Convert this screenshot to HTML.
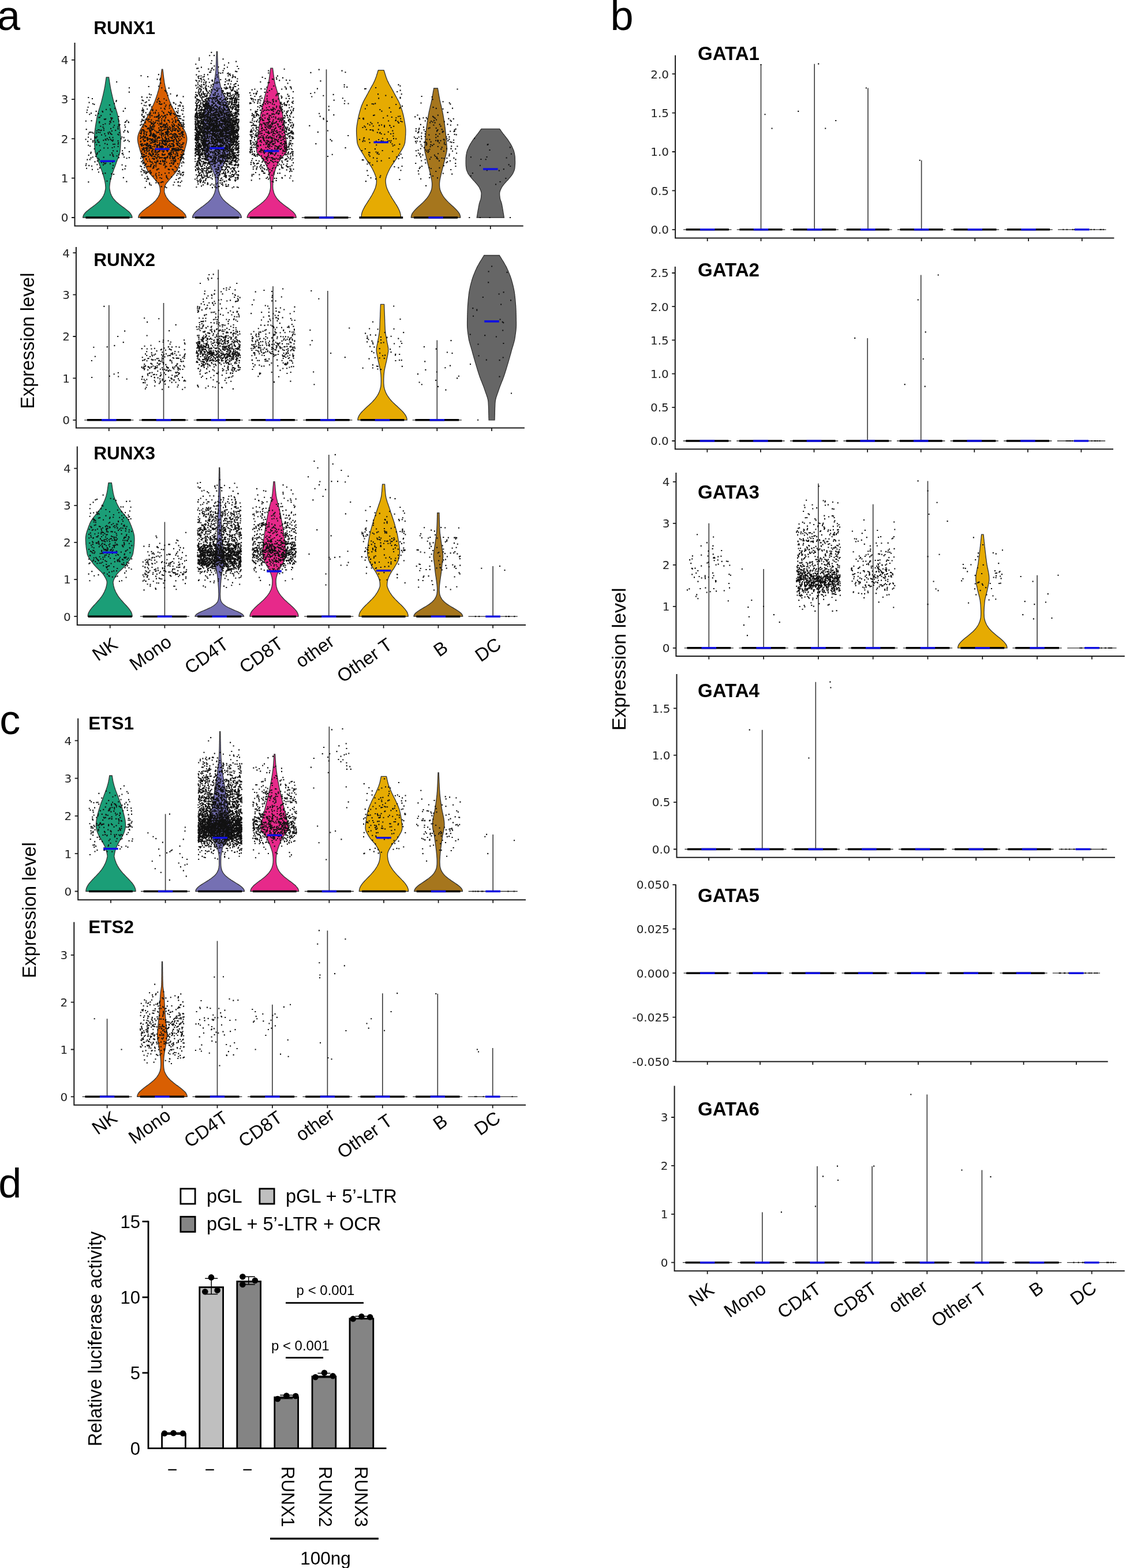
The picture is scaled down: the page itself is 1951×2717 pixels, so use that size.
<!DOCTYPE html><html><head><meta charset="utf-8"><title>Figure</title><style>html,body{margin:0;padding:0;background:#fff}
svg{display:block}
text{font-family:"Liberation Sans",Arial,sans-serif;fill:#000}
.tk{font-family:"DejaVu Sans",sans-serif;text-anchor:end;fill:#222}
.ti{font-weight:bold;font-size:31px}
.xl{text-anchor:end}
.yl{text-anchor:middle}
.pl{font-size:72px}
.lg{font-size:32.6px}
.dt{font-size:31px;text-anchor:end}
.pv{font-size:24px;text-anchor:middle}
.rx{font-size:31px}
.hn{font-size:31.5px;text-anchor:middle}
</style></head><body><svg width="1951" height="2717" viewBox="0 0 1951 2717">
<rect width="1951" height="2717" fill="#fff"/>
<path d="M229.0 377.0 228.9 375.8 228.7 374.6 228.2 373.4 227.6 372.2 226.9 371.0 225.9 369.7 224.9 368.5 223.7 367.3 222.4 366.1 221.0 364.9 219.5 363.7 218.0 362.5 216.4 361.3 214.8 360.1 213.1 358.9 211.5 357.6 209.9 356.4 208.3 355.2 206.7 354.0 205.2 352.8 203.8 351.6 202.4 350.4 201.1 349.2 199.9 348.0 198.8 346.8 197.7 345.5 196.7 344.3 195.8 343.1 195.0 341.9 194.3 340.7 193.6 339.5 193.0 338.3 192.5 337.1 192.0 335.9 191.6 334.7 191.3 333.5 190.9 332.2 190.7 331.0 190.4 329.8 190.2 328.6 190.0 327.4 189.8 326.2 189.8 325.0 189.8 323.8 189.9 322.6 190.0 321.4 190.1 320.1 190.3 318.9 190.4 317.7 190.6 316.5 190.8 315.3 191.1 314.1 191.3 312.9 191.6 311.7 191.9 310.5 192.2 309.3 192.5 308.0 192.9 306.8 193.2 305.6 193.6 304.4 193.9 303.2 194.3 302.0 194.6 300.8 195.0 299.6 195.5 298.4 195.9 297.2 196.3 296.0 196.8 294.7 197.2 293.5 197.7 292.3 198.1 291.1 198.6 289.9 199.1 288.7 199.5 287.5 200.0 286.3 200.4 285.1 200.9 283.9 201.3 282.6 201.7 281.4 202.1 280.2 202.6 279.0 203.0 277.8 203.5 276.6 204.0 275.4 204.5 274.2 204.9 273.0 205.4 271.8 205.8 270.5 206.3 269.3 206.6 268.1 207.0 266.9 207.3 265.7 207.6 264.5 207.9 263.3 208.1 262.1 208.2 260.9 208.3 259.7 208.4 258.5 208.5 257.2 208.6 256.0 208.7 254.8 208.7 253.6 208.8 252.4 208.9 251.2 208.9 250.0 209.0 248.8 209.0 247.6 209.1 246.4 209.1 245.1 209.1 243.9 209.2 242.7 209.2 241.5 209.2 240.3 209.2 239.1 209.1 237.9 209.1 236.7 209.1 235.5 209.0 234.3 208.9 233.0 208.8 231.8 208.7 230.6 208.6 229.4 208.5 228.2 208.3 227.0 208.2 225.8 208.1 224.6 207.9 223.4 207.7 222.2 207.6 220.9 207.4 219.7 207.2 218.5 207.0 217.3 206.8 216.1 206.6 214.9 206.4 213.7 206.2 212.5 206.0 211.3 205.8 210.1 205.6 208.9 205.4 207.6 205.2 206.4 205.0 205.2 204.8 204.0 204.6 202.8 204.3 201.6 204.0 200.4 203.7 199.2 203.4 198.0 203.1 196.8 202.8 195.5 202.4 194.3 202.1 193.1 201.7 191.9 201.4 190.7 201.0 189.5 200.6 188.3 200.2 187.1 199.9 185.9 199.5 184.7 199.1 183.4 198.7 182.2 198.4 181.0 198.0 179.8 197.7 178.6 197.3 177.4 197.0 176.2 196.6 175.0 196.3 173.8 196.0 172.6 195.7 171.4 195.4 170.1 195.1 168.9 194.8 167.7 194.5 166.5 194.3 165.3 194.0 164.1 193.7 162.9 193.4 161.7 193.1 160.5 192.9 159.3 192.6 158.0 192.4 156.8 192.1 155.6 191.9 154.4 191.6 153.2 191.4 152.0 191.2 150.8 191.0 149.6 190.8 148.4 190.6 147.2 190.4 145.9 190.2 144.7 190.0 143.5 189.8 142.3 189.6 141.1 189.5 139.9 189.3 138.7 189.1 137.5 188.9 136.3 188.7 135.1 188.6 133.9 184.2 133.9 184.0 135.1 183.8 136.3 183.6 137.5 183.5 138.7 183.3 139.9 183.1 141.1 182.9 142.3 182.7 143.5 182.6 144.7 182.4 145.9 182.2 147.2 182.0 148.4 181.8 149.6 181.6 150.8 181.3 152.0 181.1 153.2 180.9 154.4 180.6 155.6 180.4 156.8 180.1 158.0 179.9 159.3 179.6 160.5 179.3 161.7 179.0 162.9 178.8 164.1 178.5 165.3 178.2 166.5 177.9 167.7 177.6 168.9 177.3 170.1 177.0 171.4 176.7 172.6 176.4 173.8 176.1 175.0 175.8 176.2 175.4 177.4 175.1 178.6 174.7 179.8 174.4 181.0 174.0 182.2 173.6 183.4 173.2 184.7 172.9 185.9 172.5 187.1 172.1 188.3 171.7 189.5 171.4 190.7 171.0 191.9 170.7 193.1 170.3 194.3 170.0 195.5 169.6 196.8 169.3 198.0 169.0 199.2 168.7 200.4 168.4 201.6 168.2 202.8 167.9 204.0 167.7 205.2 167.5 206.4 167.3 207.6 167.1 208.9 166.9 210.1 166.7 211.3 166.5 212.5 166.3 213.7 166.1 214.9 165.9 216.1 165.7 217.3 165.5 218.5 165.3 219.7 165.2 220.9 165.0 222.2 164.8 223.4 164.7 224.6 164.5 225.8 164.4 227.0 164.3 228.2 164.1 229.4 164.0 230.6 163.9 231.8 163.8 233.0 163.7 234.3 163.7 235.5 163.6 236.7 163.6 237.9 163.6 239.1 163.6 240.3 163.6 241.5 163.6 242.7 163.6 243.9 163.6 245.1 163.7 246.4 163.7 247.6 163.7 248.8 163.8 250.0 163.9 251.2 163.9 252.4 164.0 253.6 164.1 254.8 164.2 256.0 164.3 257.2 164.3 258.5 164.4 259.7 164.5 260.9 164.7 262.1 164.9 263.3 165.1 264.5 165.4 265.7 165.7 266.9 166.1 268.1 166.5 269.3 166.9 270.5 167.4 271.8 167.8 273.0 168.3 274.2 168.8 275.4 169.2 276.6 169.7 277.8 170.2 279.0 170.6 280.2 171.0 281.4 171.4 282.6 171.9 283.9 172.3 285.1 172.7 286.3 173.2 287.5 173.7 288.7 174.1 289.9 174.6 291.1 175.1 292.3 175.5 293.5 176.0 294.7 176.4 296.0 176.9 297.2 177.3 298.4 177.7 299.6 178.1 300.8 178.5 302.0 178.8 303.2 179.2 304.4 179.5 305.6 179.9 306.8 180.2 308.0 180.5 309.3 180.8 310.5 181.1 311.7 181.4 312.9 181.7 314.1 181.9 315.3 182.1 316.5 182.3 317.7 182.5 318.9 182.6 320.1 182.7 321.4 182.8 322.6 182.9 323.8 183.0 325.0 182.9 326.2 182.8 327.4 182.6 328.6 182.3 329.8 182.1 331.0 181.8 332.2 181.5 333.5 181.1 334.7 180.7 335.9 180.2 337.1 179.7 338.3 179.1 339.5 178.4 340.7 177.7 341.9 176.9 343.1 176.0 344.3 175.0 345.5 174.0 346.8 172.8 348.0 171.6 349.2 170.3 350.4 168.9 351.6 167.5 352.8 166.0 354.0 164.5 355.2 162.9 356.4 161.3 357.6 159.6 358.9 158.0 360.1 156.4 361.3 154.8 362.5 153.2 363.7 151.8 364.9 150.4 366.1 149.1 367.3 147.9 368.5 146.8 369.7 145.9 371.0 145.1 372.2 144.5 373.4 144.1 374.6 143.8 375.8 143.7 377.0Z" fill="#1B9E77" stroke="#333" stroke-width="1.3"/>
<path d="M322.5 377.0 322.4 375.8 322.2 374.6 321.7 373.4 321.1 372.2 320.3 371.0 319.3 369.8 318.3 368.6 317.0 367.4 315.7 366.1 314.3 364.9 312.8 363.7 311.2 362.5 309.6 361.3 308.0 360.1 306.3 358.9 304.7 357.7 303.1 356.5 301.5 355.3 300.0 354.1 298.5 352.9 297.1 351.7 295.8 350.5 294.5 349.3 293.3 348.1 292.2 346.9 291.2 345.7 290.3 344.4 289.4 343.2 288.6 342.0 287.9 340.8 287.3 339.6 286.7 338.4 286.2 337.2 285.8 336.0 285.4 334.8 285.0 333.6 284.7 332.4 284.7 331.2 284.8 330.0 284.8 328.8 284.9 327.6 285.0 326.4 285.1 325.2 285.4 324.0 285.7 322.7 286.1 321.5 286.6 320.3 287.3 319.1 288.1 317.9 289.0 316.7 290.0 315.5 291.0 314.3 292.0 313.1 293.1 311.9 294.1 310.7 295.1 309.5 296.1 308.3 297.1 307.1 298.1 305.9 299.2 304.7 300.2 303.5 301.3 302.2 302.4 301.0 303.4 299.8 304.4 298.6 305.2 297.4 306.1 296.2 306.8 295.0 307.4 293.8 308.0 292.6 308.5 291.4 309.1 290.2 309.6 289.0 310.0 287.8 310.5 286.6 310.9 285.4 311.4 284.2 311.8 283.0 312.2 281.8 312.6 280.5 313.0 279.3 313.4 278.1 313.8 276.9 314.2 275.7 314.7 274.5 315.1 273.3 315.6 272.1 316.1 270.9 316.5 269.7 317.0 268.5 317.4 267.3 317.9 266.1 318.3 264.9 318.7 263.7 319.1 262.5 319.4 261.3 319.8 260.0 320.1 258.8 320.4 257.6 320.8 256.4 321.1 255.2 321.5 254.0 321.8 252.8 322.1 251.6 322.4 250.4 322.7 249.2 323.0 248.0 323.2 246.8 323.4 245.6 323.5 244.4 323.7 243.2 323.8 242.0 323.8 240.8 323.8 239.6 323.7 238.3 323.5 237.1 323.3 235.9 323.1 234.7 322.7 233.5 322.4 232.3 321.9 231.1 321.5 229.9 321.0 228.7 320.4 227.5 319.8 226.3 319.2 225.1 318.6 223.9 317.9 222.7 317.3 221.5 316.6 220.3 315.9 219.1 315.2 217.9 314.5 216.6 313.8 215.4 313.1 214.2 312.4 213.0 311.8 211.8 311.1 210.6 310.5 209.4 309.9 208.2 309.3 207.0 308.7 205.8 308.2 204.6 307.6 203.4 307.0 202.2 306.4 201.0 305.8 199.8 305.2 198.6 304.6 197.4 304.0 196.1 303.4 194.9 302.7 193.7 302.1 192.5 301.5 191.3 300.9 190.1 300.3 188.9 299.6 187.7 299.0 186.5 298.4 185.3 297.9 184.1 297.3 182.9 296.7 181.7 296.2 180.5 295.6 179.3 295.1 178.1 294.6 176.9 294.1 175.7 293.6 174.4 293.2 173.2 292.7 172.0 292.3 170.8 291.9 169.6 291.5 168.4 291.1 167.2 290.7 166.0 290.3 164.8 289.9 163.6 289.5 162.4 289.2 161.2 288.8 160.0 288.4 158.8 288.1 157.6 287.8 156.4 287.4 155.2 287.1 154.0 286.8 152.7 286.5 151.5 286.2 150.3 286.0 149.1 285.7 147.9 285.5 146.7 285.2 145.5 285.0 144.3 284.8 143.1 284.6 141.9 284.5 140.7 284.3 139.5 284.1 138.3 284.0 137.1 283.8 135.9 283.6 134.7 283.5 133.5 283.4 132.2 283.2 131.0 283.1 129.8 282.9 128.6 282.8 127.4 282.7 126.2 282.5 125.0 282.4 123.8 282.2 122.6 282.1 121.4 281.9 120.2 280.4 120.2 280.2 121.4 280.1 122.6 279.9 123.8 279.8 125.0 279.6 126.2 279.5 127.4 279.4 128.6 279.2 129.8 279.1 131.0 278.9 132.2 278.8 133.5 278.7 134.7 278.5 135.9 278.3 137.1 278.2 138.3 278.0 139.5 277.8 140.7 277.7 141.9 277.5 143.1 277.3 144.3 277.1 145.5 276.8 146.7 276.6 147.9 276.3 149.1 276.1 150.3 275.8 151.5 275.5 152.7 275.2 154.0 274.9 155.2 274.5 156.4 274.2 157.6 273.9 158.8 273.5 160.0 273.1 161.2 272.8 162.4 272.4 163.6 272.0 164.8 271.6 166.0 271.2 167.2 270.8 168.4 270.4 169.6 270.0 170.8 269.6 172.0 269.1 173.2 268.7 174.4 268.2 175.7 267.7 176.9 267.2 178.1 266.7 179.3 266.1 180.5 265.6 181.7 265.0 182.9 264.4 184.1 263.9 185.3 263.3 186.5 262.7 187.7 262.0 188.9 261.4 190.1 260.8 191.3 260.2 192.5 259.6 193.7 258.9 194.9 258.3 196.1 257.7 197.4 257.1 198.6 256.5 199.8 255.9 201.0 255.3 202.2 254.7 203.4 254.1 204.6 253.6 205.8 253.0 207.0 252.4 208.2 251.8 209.4 251.2 210.6 250.5 211.8 249.9 213.0 249.2 214.2 248.5 215.4 247.8 216.6 247.1 217.9 246.4 219.1 245.7 220.3 245.0 221.5 244.4 222.7 243.7 223.9 243.1 225.1 242.5 226.3 241.9 227.5 241.3 228.7 240.8 229.9 240.4 231.1 239.9 232.3 239.6 233.5 239.2 234.7 239.0 235.9 238.8 237.1 238.6 238.3 238.5 239.6 238.5 240.8 238.5 242.0 238.6 243.2 238.8 244.4 238.9 245.6 239.1 246.8 239.3 248.0 239.6 249.2 239.9 250.4 240.2 251.6 240.5 252.8 240.8 254.0 241.2 255.2 241.5 256.4 241.9 257.6 242.2 258.8 242.5 260.0 242.9 261.3 243.2 262.5 243.6 263.7 244.0 264.9 244.4 266.1 244.9 267.3 245.3 268.5 245.8 269.7 246.2 270.9 246.7 272.1 247.2 273.3 247.6 274.5 248.0 275.7 248.5 276.9 248.9 278.1 249.3 279.3 249.7 280.5 250.1 281.8 250.5 283.0 250.9 284.2 251.4 285.4 251.8 286.6 252.3 287.8 252.7 289.0 253.2 290.2 253.8 291.4 254.3 292.6 254.9 293.8 255.5 295.0 256.2 296.2 257.0 297.4 257.9 298.6 258.9 299.8 259.9 301.0 261.0 302.2 262.0 303.5 263.1 304.7 264.2 305.9 265.2 307.1 266.2 308.3 267.2 309.5 268.2 310.7 269.2 311.9 270.3 313.1 271.3 314.3 272.3 315.5 273.3 316.7 274.2 317.9 275.0 319.1 275.7 320.3 276.2 321.5 276.6 322.7 276.9 324.0 277.1 325.2 277.3 326.4 277.4 327.6 277.5 328.8 277.5 330.0 277.6 331.2 277.6 332.4 277.3 333.6 276.9 334.8 276.5 336.0 276.1 337.2 275.6 338.4 275.0 339.6 274.4 340.8 273.7 342.0 272.9 343.2 272.0 344.4 271.1 345.7 270.1 346.9 269.0 348.1 267.8 349.3 266.5 350.5 265.2 351.7 263.8 352.9 262.3 354.1 260.8 355.3 259.2 356.5 257.6 357.7 256.0 358.9 254.3 360.1 252.7 361.3 251.1 362.5 249.5 363.7 248.0 364.9 246.6 366.1 245.3 367.4 244.0 368.6 243.0 369.8 242.0 371.0 241.2 372.2 240.6 373.4 240.1 374.6 239.9 375.8 239.8 377.0Z" fill="#D95F02" stroke="#333" stroke-width="1.3"/>
<path d="M418.4 377.0 418.3 375.8 418.0 374.6 417.6 373.4 417.0 372.2 416.2 371.0 415.3 369.8 414.2 368.5 413.0 367.3 411.7 366.1 410.3 364.9 408.9 363.7 407.3 362.5 405.7 361.3 404.1 360.1 402.4 358.9 400.8 357.7 399.2 356.5 397.5 355.3 396.0 354.0 394.5 352.8 393.0 351.6 391.6 350.4 390.3 349.2 389.0 348.0 387.8 346.8 386.7 345.6 385.7 344.4 384.8 343.2 383.9 342.0 383.2 340.8 382.5 339.5 381.8 338.3 381.2 337.1 380.7 335.9 380.3 334.7 379.9 333.5 379.5 332.3 379.2 331.1 378.9 329.9 378.7 328.7 378.5 327.5 378.4 326.3 378.3 325.0 378.3 323.8 378.2 322.6 378.2 321.4 378.2 320.2 378.2 319.0 378.2 317.8 378.2 316.6 378.3 315.4 378.3 314.2 378.4 313.0 378.5 311.8 378.6 310.6 378.8 309.3 378.9 308.1 379.2 306.9 379.4 305.7 379.8 304.5 380.1 303.3 380.5 302.1 381.0 300.9 381.4 299.7 381.9 298.5 382.4 297.3 382.9 296.1 383.4 294.8 383.9 293.6 384.5 292.4 384.9 291.2 385.4 290.0 386.0 288.8 386.5 287.6 387.1 286.4 387.7 285.2 388.3 284.0 388.9 282.8 389.5 281.6 390.2 280.3 390.8 279.1 391.4 277.9 392.0 276.7 392.5 275.5 393.0 274.3 393.5 273.1 394.0 271.9 394.5 270.7 395.0 269.5 395.5 268.3 396.0 267.1 396.5 265.8 396.9 264.6 397.4 263.4 397.8 262.2 398.2 261.0 398.6 259.8 398.9 258.6 399.2 257.4 399.5 256.2 399.6 255.0 399.8 253.8 399.9 252.6 400.0 251.4 400.0 250.1 400.1 248.9 400.2 247.7 400.3 246.5 400.4 245.3 400.4 244.1 400.5 242.9 400.5 241.7 400.6 240.5 400.6 239.3 400.6 238.1 400.6 236.9 400.6 235.6 400.6 234.4 400.6 233.2 400.6 232.0 400.6 230.8 400.6 229.6 400.6 228.4 400.6 227.2 400.6 226.0 400.6 224.8 400.6 223.6 400.6 222.4 400.6 221.1 400.6 219.9 400.6 218.7 400.6 217.5 400.6 216.3 400.6 215.1 400.5 213.9 400.5 212.7 400.4 211.5 400.3 210.3 400.1 209.1 400.0 207.9 399.8 206.6 399.7 205.4 399.5 204.2 399.4 203.0 399.2 201.8 399.0 200.6 398.8 199.4 398.7 198.2 398.5 197.0 398.3 195.8 398.1 194.6 397.9 193.4 397.6 192.2 397.4 190.9 397.1 189.7 396.8 188.5 396.6 187.3 396.3 186.1 396.0 184.9 395.6 183.7 395.3 182.5 395.0 181.3 394.6 180.1 394.2 178.9 393.8 177.7 393.3 176.4 392.7 175.2 392.2 174.0 391.6 172.8 391.0 171.6 390.4 170.4 389.8 169.2 389.2 168.0 388.6 166.8 388.0 165.6 387.5 164.4 386.9 163.2 386.5 161.9 386.0 160.7 385.6 159.5 385.2 158.3 384.7 157.1 384.3 155.9 383.9 154.7 383.5 153.5 383.1 152.3 382.7 151.1 382.3 149.9 382.0 148.7 381.7 147.4 381.4 146.2 381.1 145.0 380.9 143.8 380.6 142.6 380.4 141.4 380.2 140.2 380.0 139.0 379.8 137.8 379.6 136.6 379.5 135.4 379.3 134.2 379.1 133.0 378.9 131.7 378.8 130.5 378.6 129.3 378.5 128.1 378.4 126.9 378.2 125.7 378.1 124.5 378.0 123.3 377.9 122.1 377.8 120.9 377.7 119.7 377.6 118.5 377.6 117.2 377.5 116.0 377.4 114.8 377.4 113.6 377.3 112.4 377.3 111.2 377.2 110.0 377.2 108.8 377.1 107.6 377.1 106.4 377.0 105.2 377.0 104.0 377.0 102.7 376.9 101.5 376.9 100.3 376.8 99.1 376.8 97.9 376.8 96.7 376.7 95.5 376.7 94.3 376.7 93.1 376.6 91.9 376.6 90.7 376.5 89.5 375.3 89.5 375.3 90.7 375.2 91.9 375.2 93.1 375.2 94.3 375.1 95.5 375.1 96.7 375.0 97.9 375.0 99.1 375.0 100.3 374.9 101.5 374.9 102.7 374.9 104.0 374.8 105.2 374.8 106.4 374.7 107.6 374.7 108.8 374.6 110.0 374.6 111.2 374.5 112.4 374.5 113.6 374.4 114.8 374.4 116.0 374.3 117.2 374.2 118.5 374.1 119.7 374.1 120.9 374.0 122.1 373.9 123.3 373.7 124.5 373.6 125.7 373.5 126.9 373.4 128.1 373.2 129.3 373.1 130.5 372.9 131.7 372.8 133.0 372.6 134.2 372.4 135.4 372.2 136.6 372.0 137.8 371.8 139.0 371.6 140.2 371.4 141.4 371.2 142.6 371.0 143.8 370.7 145.0 370.5 146.2 370.2 147.4 369.9 148.7 369.5 149.9 369.2 151.1 368.8 152.3 368.4 153.5 368.0 154.7 367.6 155.9 367.1 157.1 366.7 158.3 366.3 159.5 365.8 160.7 365.4 161.9 364.9 163.2 364.4 164.4 363.9 165.6 363.3 166.8 362.7 168.0 362.1 169.2 361.5 170.4 360.9 171.6 360.3 172.8 359.7 174.0 359.1 175.2 358.6 176.4 358.1 177.7 357.6 178.9 357.3 180.1 356.9 181.3 356.6 182.5 356.2 183.7 355.9 184.9 355.6 186.1 355.3 187.3 355.0 188.5 354.7 189.7 354.5 190.9 354.2 192.2 354.0 193.4 353.8 194.6 353.6 195.8 353.4 197.0 353.2 198.2 353.0 199.4 352.9 200.6 352.7 201.8 352.5 203.0 352.3 204.2 352.2 205.4 352.0 206.6 351.9 207.9 351.7 209.1 351.6 210.3 351.5 211.5 351.4 212.7 351.3 213.9 351.3 215.1 351.2 216.3 351.2 217.5 351.2 218.7 351.2 219.9 351.2 221.1 351.2 222.4 351.2 223.6 351.2 224.8 351.2 226.0 351.2 227.2 351.2 228.4 351.2 229.6 351.2 230.8 351.2 232.0 351.2 233.2 351.2 234.4 351.2 235.6 351.2 236.9 351.3 238.1 351.3 239.3 351.3 240.5 351.3 241.7 351.4 242.9 351.4 244.1 351.5 245.3 351.6 246.5 351.7 247.7 351.7 248.9 351.8 250.1 351.9 251.4 352.0 252.6 352.1 253.8 352.2 255.0 352.4 256.2 352.6 257.4 352.9 258.6 353.3 259.8 353.6 261.0 354.0 262.2 354.5 263.4 354.9 264.6 355.4 265.8 355.9 267.1 356.4 268.3 356.9 269.5 357.4 270.7 357.8 271.9 358.3 273.1 358.8 274.3 359.3 275.5 359.9 276.7 360.5 277.9 361.1 279.1 361.7 280.3 362.3 281.6 362.9 282.8 363.6 284.0 364.2 285.2 364.8 286.4 365.3 287.6 365.9 288.8 366.4 290.0 366.9 291.2 367.4 292.4 367.9 293.6 368.4 294.8 368.9 296.1 369.4 297.3 369.9 298.5 370.4 299.7 370.9 300.9 371.3 302.1 371.7 303.3 372.1 304.5 372.4 305.7 372.7 306.9 372.9 308.1 373.1 309.3 373.2 310.6 373.3 311.8 373.4 313.0 373.5 314.2 373.6 315.4 373.6 316.6 373.7 317.8 373.7 319.0 373.7 320.2 373.7 321.4 373.7 322.6 373.6 323.8 373.5 325.0 373.5 326.3 373.4 327.5 373.2 328.7 372.9 329.9 372.6 331.1 372.3 332.3 372.0 333.5 371.6 334.7 371.1 335.9 370.6 337.1 370.0 338.3 369.4 339.5 368.7 340.8 367.9 342.0 367.1 343.2 366.1 344.4 365.1 345.6 364.0 346.8 362.8 348.0 361.6 349.2 360.3 350.4 358.9 351.6 357.4 352.8 355.9 354.0 354.3 355.3 352.7 356.5 351.1 357.7 349.4 358.9 347.8 360.1 346.2 361.3 344.6 362.5 343.0 363.7 341.5 364.9 340.1 366.1 338.8 367.3 337.6 368.5 336.6 369.8 335.6 371.0 334.9 372.2 334.3 373.4 333.8 374.6 333.6 375.8 333.5 377.0Z" fill="#7570B3" stroke="#333" stroke-width="1.3"/>
<path d="M513.2 377.0 513.1 375.8 512.8 374.6 512.4 373.4 511.8 372.2 511.0 371.0 510.0 369.7 509.0 368.5 507.8 367.3 506.5 366.1 505.1 364.9 503.6 363.7 502.0 362.5 500.4 361.3 498.8 360.1 497.1 358.9 495.4 357.6 493.8 356.4 492.2 355.2 490.6 354.0 489.1 352.8 487.6 351.6 486.2 350.4 484.8 349.2 483.6 348.0 482.4 346.8 481.3 345.6 480.3 344.3 479.3 343.1 478.5 341.9 477.7 340.7 477.0 339.5 476.3 338.3 475.8 337.1 475.3 335.9 474.8 334.7 474.4 333.5 474.1 332.2 473.8 331.0 473.5 329.8 473.2 328.6 473.0 327.4 472.9 326.2 472.8 325.0 472.7 323.8 472.7 322.6 472.7 321.4 472.8 320.1 472.8 318.9 472.8 317.7 472.9 316.5 473.0 315.3 473.1 314.1 473.2 312.9 473.3 311.7 473.4 310.5 473.6 309.3 473.7 308.1 473.9 306.8 474.1 305.6 474.3 304.4 474.6 303.2 474.9 302.0 475.1 300.8 475.4 299.6 475.8 298.4 476.1 297.2 476.4 296.0 476.8 294.7 477.2 293.5 477.6 292.3 478.0 291.1 478.4 289.9 478.9 288.7 479.4 287.5 480.0 286.3 480.6 285.1 481.3 283.9 481.9 282.7 482.6 281.4 483.4 280.2 484.1 279.0 484.9 277.8 485.7 276.6 486.5 275.4 487.4 274.2 488.2 273.0 489.1 271.8 490.3 270.6 491.6 269.3 492.9 268.1 494.2 266.9 495.3 265.7 496.0 264.5 496.4 263.3 496.5 262.1 496.7 260.9 496.9 259.7 497.0 258.5 497.1 257.2 497.1 256.0 497.2 254.8 497.2 253.6 497.2 252.4 497.1 251.2 497.0 250.0 496.8 248.8 496.6 247.6 496.4 246.4 496.2 245.2 496.0 243.9 495.8 242.7 495.5 241.5 495.3 240.3 495.1 239.1 494.9 237.9 494.7 236.7 494.5 235.5 494.3 234.3 494.2 233.1 494.0 231.8 493.8 230.6 493.7 229.4 493.5 228.2 493.4 227.0 493.2 225.8 493.1 224.6 492.9 223.4 492.8 222.2 492.6 221.0 492.5 219.8 492.3 218.5 492.2 217.3 492.0 216.1 491.9 214.9 491.7 213.7 491.6 212.5 491.4 211.3 491.3 210.1 491.2 208.9 491.0 207.7 490.9 206.4 490.7 205.2 490.6 204.0 490.4 202.8 490.3 201.6 490.1 200.4 489.9 199.2 489.7 198.0 489.5 196.8 489.3 195.6 489.1 194.3 488.8 193.1 488.5 191.9 488.3 190.7 488.0 189.5 487.7 188.3 487.4 187.1 487.1 185.9 486.8 184.7 486.5 183.5 486.2 182.3 486.0 181.0 485.7 179.8 485.4 178.6 485.1 177.4 484.8 176.2 484.5 175.0 484.2 173.8 483.9 172.6 483.6 171.4 483.3 170.2 483.0 168.9 482.7 167.7 482.4 166.5 482.1 165.3 481.8 164.1 481.5 162.9 481.2 161.7 480.9 160.5 480.5 159.3 480.2 158.1 479.8 156.9 479.4 155.6 479.1 154.4 478.7 153.2 478.4 152.0 478.0 150.8 477.7 149.6 477.3 148.4 477.0 147.2 476.7 146.0 476.4 144.8 476.2 143.5 476.0 142.3 475.7 141.1 475.5 139.9 475.3 138.7 475.1 137.5 475.0 136.3 474.8 135.1 474.6 133.9 474.4 132.7 474.3 131.4 474.1 130.2 473.9 129.0 473.8 127.8 473.6 126.6 473.5 125.4 473.3 124.2 473.2 123.0 473.0 121.8 472.8 120.6 472.7 119.4 472.5 118.1 468.9 118.1 468.8 119.4 468.6 120.6 468.4 121.8 468.3 123.0 468.1 124.2 467.9 125.4 467.8 126.6 467.6 127.8 467.5 129.0 467.3 130.2 467.2 131.4 467.0 132.7 466.8 133.9 466.6 135.1 466.5 136.3 466.3 137.5 466.1 138.7 465.9 139.9 465.7 141.1 465.5 142.3 465.2 143.5 465.0 144.8 464.7 146.0 464.4 147.2 464.1 148.4 463.8 149.6 463.4 150.8 463.1 152.0 462.7 153.2 462.3 154.4 462.0 155.6 461.6 156.9 461.3 158.1 460.9 159.3 460.6 160.5 460.2 161.7 459.9 162.9 459.6 164.1 459.3 165.3 459.0 166.5 458.7 167.7 458.4 168.9 458.1 170.2 457.8 171.4 457.5 172.6 457.2 173.8 456.9 175.0 456.6 176.2 456.3 177.4 456.0 178.6 455.7 179.8 455.5 181.0 455.2 182.3 454.9 183.5 454.6 184.7 454.3 185.9 454.0 187.1 453.7 188.3 453.4 189.5 453.2 190.7 452.9 191.9 452.6 193.1 452.4 194.3 452.1 195.6 451.9 196.8 451.7 198.0 451.5 199.2 451.3 200.4 451.1 201.6 451.0 202.8 450.8 204.0 450.7 205.2 450.5 206.4 450.4 207.7 450.2 208.9 450.1 210.1 450.0 211.3 449.8 212.5 449.7 213.7 449.6 214.9 449.4 216.1 449.3 217.3 449.1 218.5 449.0 219.8 448.8 221.0 448.7 222.2 448.5 223.4 448.3 224.6 448.2 225.8 448.0 227.0 447.9 228.2 447.7 229.4 447.6 230.6 447.4 231.8 447.3 233.1 447.1 234.3 446.9 235.5 446.7 236.7 446.6 237.9 446.3 239.1 446.1 240.3 445.9 241.5 445.6 242.7 445.4 243.9 445.2 245.2 445.0 246.4 444.8 247.6 444.6 248.8 444.5 250.0 444.3 251.2 444.3 252.4 444.2 253.6 444.2 254.8 444.3 256.0 444.3 257.2 444.4 258.5 444.6 259.7 444.7 260.9 444.9 262.1 445.1 263.3 445.4 264.5 446.1 265.7 447.2 266.9 448.5 268.1 449.8 269.3 451.1 270.6 452.3 271.8 453.2 273.0 454.0 274.2 454.9 275.4 455.7 276.6 456.5 277.8 457.3 279.0 458.0 280.2 458.8 281.4 459.5 282.7 460.2 283.9 460.8 285.1 461.4 286.3 462.0 287.5 462.5 288.7 463.0 289.9 463.4 291.1 463.8 292.3 464.2 293.5 464.6 294.7 465.0 296.0 465.3 297.2 465.7 298.4 466.0 299.6 466.3 300.8 466.6 302.0 466.8 303.2 467.1 304.4 467.3 305.6 467.5 306.8 467.7 308.1 467.9 309.3 468.0 310.5 468.1 311.7 468.3 312.9 468.4 314.1 468.4 315.3 468.5 316.5 468.6 317.7 468.6 318.9 468.7 320.1 468.7 321.4 468.7 322.6 468.7 323.8 468.7 325.0 468.6 326.2 468.4 327.4 468.2 328.6 467.9 329.8 467.7 331.0 467.4 332.2 467.0 333.5 466.6 334.7 466.2 335.9 465.6 337.1 465.1 338.3 464.4 339.5 463.7 340.7 462.9 341.9 462.1 343.1 461.2 344.3 460.1 345.6 459.0 346.8 457.8 348.0 456.6 349.2 455.2 350.4 453.8 351.6 452.4 352.8 450.8 354.0 449.2 355.2 447.6 356.4 446.0 357.6 444.3 358.9 442.7 360.1 441.0 361.3 439.4 362.5 437.9 363.7 436.4 364.9 435.0 366.1 433.6 367.3 432.4 368.5 431.4 369.7 430.4 371.0 429.7 372.2 429.1 373.4 428.6 374.6 428.3 375.8 428.3 377.0Z" fill="#E7298A" stroke="#333" stroke-width="1.3"/>
<path d="M694.4 377.0 694.4 375.8 694.4 374.6 694.3 373.4 694.1 372.2 693.9 370.9 693.6 369.7 693.3 368.5 692.9 367.3 692.5 366.1 692.0 364.9 691.5 363.7 690.9 362.5 690.3 361.3 689.7 360.1 689.0 358.8 688.3 357.6 687.6 356.4 686.9 355.2 686.1 354.0 685.3 352.8 684.6 351.6 683.8 350.4 683.0 349.2 682.2 347.9 681.4 346.7 680.7 345.5 679.9 344.3 679.1 343.1 678.4 341.9 677.7 340.7 677.0 339.5 676.3 338.3 675.6 337.0 674.9 335.8 674.3 334.6 673.7 333.4 673.1 332.2 672.5 331.0 672.0 329.8 671.4 328.6 670.9 327.4 670.4 326.2 670.0 324.9 669.6 323.7 669.3 322.5 669.0 321.3 668.8 320.1 668.6 318.9 668.4 317.7 668.3 316.5 668.2 315.3 668.1 314.0 668.1 312.8 668.2 311.6 668.4 310.4 668.6 309.2 668.9 308.0 669.2 306.8 669.6 305.6 670.0 304.4 670.4 303.2 670.9 301.9 671.4 300.7 672.0 299.5 672.5 298.3 673.1 297.1 673.6 295.9 674.2 294.7 674.8 293.5 675.4 292.3 676.1 291.0 676.8 289.8 677.6 288.6 678.4 287.4 679.1 286.2 680.0 285.0 680.8 283.8 681.6 282.6 682.5 281.4 683.3 280.1 684.1 278.9 685.0 277.7 685.8 276.5 686.6 275.3 687.4 274.1 688.1 272.9 688.8 271.7 689.5 270.5 690.2 269.3 690.9 268.0 691.7 266.8 692.4 265.6 693.2 264.4 694.0 263.2 694.7 262.0 695.5 260.8 696.2 259.6 696.9 258.4 697.6 257.1 698.3 255.9 698.9 254.7 699.5 253.5 700.0 252.3 700.5 251.1 700.9 249.9 701.2 248.7 701.5 247.5 701.7 246.3 701.8 245.0 701.9 243.8 702.1 242.6 702.2 241.4 702.3 240.2 702.4 239.0 702.5 237.8 702.5 236.6 702.6 235.4 702.7 234.1 702.8 232.9 702.8 231.7 702.8 230.5 702.9 229.3 702.9 228.1 702.9 226.9 702.9 225.7 702.9 224.5 702.8 223.3 702.7 222.0 702.6 220.8 702.5 219.6 702.3 218.4 702.1 217.2 701.9 216.0 701.7 214.8 701.5 213.6 701.3 212.4 701.1 211.1 700.9 209.9 700.7 208.7 700.5 207.5 700.3 206.3 700.0 205.1 699.8 203.9 699.5 202.7 699.3 201.5 699.0 200.2 698.7 199.0 698.4 197.8 698.1 196.6 697.8 195.4 697.4 194.2 697.1 193.0 696.7 191.8 696.4 190.6 696.0 189.4 695.6 188.1 695.2 186.9 694.8 185.7 694.4 184.5 694.0 183.3 693.5 182.1 693.1 180.9 692.5 179.7 692.0 178.5 691.4 177.2 690.8 176.0 690.2 174.8 689.6 173.6 688.9 172.4 688.3 171.2 687.6 170.0 687.0 168.8 686.3 167.6 685.6 166.4 684.9 165.1 684.3 163.9 683.6 162.7 683.0 161.5 682.3 160.3 681.7 159.1 681.1 157.9 680.4 156.7 679.8 155.5 679.1 154.2 678.4 153.0 677.7 151.8 677.0 150.6 676.3 149.4 675.7 148.2 675.0 147.0 674.3 145.8 673.7 144.6 673.1 143.3 672.5 142.1 671.9 140.9 671.3 139.7 670.8 138.5 670.3 137.3 669.9 136.1 669.4 134.9 669.0 133.7 668.6 132.5 668.2 131.2 667.8 130.0 667.4 128.8 667.0 127.6 666.7 126.4 666.3 125.2 665.9 124.0 665.5 122.8 665.1 121.6 655.4 121.6 655.0 122.8 654.6 124.0 654.2 125.2 653.9 126.4 653.5 127.6 653.1 128.8 652.7 130.0 652.4 131.2 652.0 132.5 651.5 133.7 651.1 134.9 650.7 136.1 650.2 137.3 649.7 138.5 649.2 139.7 648.7 140.9 648.1 142.1 647.5 143.3 646.9 144.6 646.2 145.8 645.6 147.0 644.9 148.2 644.2 149.4 643.5 150.6 642.8 151.8 642.1 153.0 641.5 154.2 640.8 155.5 640.1 156.7 639.5 157.9 638.8 159.1 638.2 160.3 637.6 161.5 636.9 162.7 636.3 163.9 635.6 165.1 634.9 166.4 634.3 167.6 633.6 168.8 632.9 170.0 632.3 171.2 631.6 172.4 631.0 173.6 630.3 174.8 629.7 176.0 629.1 177.2 628.6 178.5 628.0 179.7 627.5 180.9 627.0 182.1 626.5 183.3 626.1 184.5 625.7 185.7 625.3 186.9 624.9 188.1 624.5 189.4 624.2 190.6 623.8 191.8 623.5 193.0 623.1 194.2 622.8 195.4 622.5 196.6 622.2 197.8 621.9 199.0 621.6 200.2 621.3 201.5 621.0 202.7 620.8 203.9 620.5 205.1 620.3 206.3 620.1 207.5 619.8 208.7 619.6 209.9 619.4 211.1 619.2 212.4 619.0 213.6 618.8 214.8 618.6 216.0 618.4 217.2 618.2 218.4 618.1 219.6 617.9 220.8 617.8 222.0 617.7 223.3 617.7 224.5 617.6 225.7 617.6 226.9 617.6 228.1 617.7 229.3 617.7 230.5 617.7 231.7 617.8 232.9 617.8 234.1 617.9 235.4 618.0 236.6 618.1 237.8 618.2 239.0 618.3 240.2 618.4 241.4 618.5 242.6 618.6 243.8 618.7 245.0 618.9 246.3 619.0 247.5 619.3 248.7 619.7 249.9 620.1 251.1 620.5 252.3 621.1 253.5 621.7 254.7 622.3 255.9 622.9 257.1 623.6 258.4 624.3 259.6 625.1 260.8 625.8 262.0 626.6 263.2 627.3 264.4 628.1 265.6 628.9 266.8 629.6 268.0 630.3 269.3 631.0 270.5 631.7 271.7 632.4 272.9 633.2 274.1 634.0 275.3 634.8 276.5 635.6 277.7 636.4 278.9 637.2 280.1 638.1 281.4 638.9 282.6 639.8 283.8 640.6 285.0 641.4 286.2 642.2 287.4 643.0 288.6 643.7 289.8 644.4 291.0 645.1 292.3 645.7 293.5 646.3 294.7 646.9 295.9 647.5 297.1 648.0 298.3 648.6 299.5 649.1 300.7 649.6 301.9 650.1 303.2 650.5 304.4 651.0 305.6 651.3 306.8 651.7 308.0 652.0 309.2 652.2 310.4 652.3 311.6 652.4 312.8 652.4 314.0 652.4 315.3 652.3 316.5 652.1 317.7 652.0 318.9 651.7 320.1 651.5 321.3 651.2 322.5 650.9 323.7 650.6 324.9 650.1 326.2 649.6 327.4 649.1 328.6 648.6 329.8 648.0 331.0 647.5 332.2 646.9 333.4 646.2 334.6 645.6 335.8 645.0 337.0 644.3 338.3 643.6 339.5 642.9 340.7 642.1 341.9 641.4 343.1 640.6 344.3 639.9 345.5 639.1 346.7 638.3 347.9 637.5 349.2 636.8 350.4 636.0 351.6 635.2 352.8 634.4 354.0 633.7 355.2 632.9 356.4 632.2 357.6 631.5 358.8 630.9 360.1 630.2 361.3 629.6 362.5 629.0 363.7 628.5 364.9 628.0 366.1 627.6 367.3 627.2 368.5 626.9 369.7 626.6 370.9 626.4 372.2 626.3 373.4 626.2 374.6 626.1 375.8 626.1 377.0Z" fill="#E6AB02" stroke="#333" stroke-width="1.3"/>
<path d="M797.7 377.0 797.7 375.8 797.5 374.6 797.2 373.4 796.8 372.2 796.3 370.9 795.6 369.7 794.9 368.5 794.0 367.3 793.1 366.1 792.0 364.9 790.9 363.7 789.7 362.5 788.5 361.3 787.2 360.0 785.9 358.8 784.6 357.6 783.3 356.4 782.0 355.2 780.6 354.0 779.3 352.8 778.1 351.6 776.8 350.4 775.6 349.1 774.4 347.9 773.3 346.7 772.2 345.5 771.2 344.3 770.2 343.1 769.3 341.9 768.4 340.7 767.6 339.5 766.9 338.2 766.2 337.0 765.5 335.8 764.9 334.6 764.3 333.4 763.8 332.2 763.3 331.0 762.8 329.8 762.5 328.6 762.2 327.4 762.0 326.1 761.8 324.9 761.7 323.7 761.6 322.5 761.5 321.3 761.5 320.1 761.5 318.9 761.5 317.7 761.6 316.5 761.7 315.2 761.9 314.0 762.0 312.8 762.2 311.6 762.5 310.4 762.7 309.2 762.9 308.0 763.2 306.8 763.5 305.6 763.7 304.3 764.0 303.1 764.3 301.9 764.6 300.7 764.9 299.5 765.2 298.3 765.5 297.1 765.8 295.9 766.1 294.7 766.4 293.4 766.7 292.2 767.0 291.0 767.3 289.8 767.6 288.6 767.9 287.4 768.2 286.2 768.5 285.0 768.9 283.8 769.2 282.5 769.5 281.3 769.8 280.1 770.1 278.9 770.4 277.7 770.7 276.5 771.0 275.3 771.3 274.1 771.6 272.9 771.9 271.6 772.1 270.4 772.4 269.2 772.7 268.0 773.0 266.8 773.3 265.6 773.6 264.4 773.8 263.2 774.0 262.0 774.2 260.7 774.3 259.5 774.4 258.3 774.4 257.1 774.3 255.9 774.3 254.7 774.2 253.5 774.1 252.3 774.0 251.1 773.9 249.9 773.8 248.6 773.7 247.4 773.6 246.2 773.5 245.0 773.4 243.8 773.3 242.6 773.2 241.4 773.1 240.2 773.0 239.0 772.9 237.7 772.8 236.5 772.7 235.3 772.6 234.1 772.4 232.9 772.3 231.7 772.2 230.5 772.0 229.3 771.9 228.1 771.8 226.8 771.6 225.6 771.5 224.4 771.4 223.2 771.2 222.0 771.1 220.8 770.9 219.6 770.7 218.4 770.6 217.2 770.4 215.9 770.2 214.7 770.1 213.5 769.9 212.3 769.7 211.1 769.5 209.9 769.3 208.7 769.1 207.5 768.9 206.3 768.7 205.0 768.5 203.8 768.3 202.6 768.1 201.4 767.9 200.2 767.7 199.0 767.5 197.8 767.2 196.6 767.0 195.4 766.8 194.1 766.5 192.9 766.2 191.7 766.0 190.5 765.7 189.3 765.4 188.1 765.1 186.9 764.9 185.7 764.6 184.5 764.3 183.2 764.0 182.0 763.7 180.8 763.4 179.6 763.1 178.4 762.9 177.2 762.6 176.0 762.3 174.8 762.1 173.6 761.8 172.4 761.6 171.1 761.4 169.9 761.2 168.7 760.9 167.5 760.7 166.3 760.5 165.1 760.3 163.9 760.1 162.7 759.9 161.5 759.7 160.2 759.5 159.0 759.3 157.8 759.1 156.6 758.8 155.4 758.6 154.2 758.4 153.0 751.7 153.0 751.5 154.2 751.3 155.4 751.0 156.6 750.8 157.8 750.6 159.0 750.4 160.2 750.2 161.5 750.0 162.7 749.8 163.9 749.6 165.1 749.4 166.3 749.2 167.5 748.9 168.7 748.7 169.9 748.5 171.1 748.3 172.4 748.0 173.6 747.8 174.8 747.5 176.0 747.2 177.2 747.0 178.4 746.7 179.6 746.4 180.8 746.1 182.0 745.8 183.2 745.5 184.5 745.2 185.7 745.0 186.9 744.7 188.1 744.4 189.3 744.1 190.5 743.9 191.7 743.6 192.9 743.3 194.1 743.1 195.4 742.9 196.6 742.7 197.8 742.4 199.0 742.2 200.2 742.0 201.4 741.8 202.6 741.6 203.8 741.4 205.0 741.2 206.3 741.0 207.5 740.8 208.7 740.6 209.9 740.4 211.1 740.2 212.3 740.0 213.5 739.9 214.7 739.7 215.9 739.5 217.2 739.4 218.4 739.2 219.6 739.0 220.8 738.9 222.0 738.7 223.2 738.6 224.4 738.5 225.6 738.3 226.8 738.2 228.1 738.1 229.3 737.9 230.5 737.8 231.7 737.7 232.9 737.5 234.1 737.4 235.3 737.3 236.5 737.2 237.7 737.1 239.0 737.0 240.2 736.9 241.4 736.8 242.6 736.7 243.8 736.6 245.0 736.5 246.2 736.4 247.4 736.3 248.6 736.2 249.9 736.1 251.1 736.0 252.3 735.9 253.5 735.8 254.7 735.8 255.9 735.7 257.1 735.7 258.3 735.8 259.5 735.9 260.7 736.1 262.0 736.3 263.2 736.5 264.4 736.8 265.6 737.1 266.8 737.4 268.0 737.7 269.2 738.0 270.4 738.2 271.6 738.5 272.9 738.8 274.1 739.1 275.3 739.4 276.5 739.7 277.7 740.0 278.9 740.3 280.1 740.6 281.3 740.9 282.5 741.2 283.8 741.6 285.0 741.9 286.2 742.2 287.4 742.5 288.6 742.8 289.8 743.1 291.0 743.4 292.2 743.7 293.4 744.0 294.7 744.3 295.9 744.6 297.1 744.9 298.3 745.2 299.5 745.5 300.7 745.8 301.9 746.1 303.1 746.4 304.3 746.6 305.6 746.9 306.8 747.2 308.0 747.4 309.2 747.6 310.4 747.9 311.6 748.1 312.8 748.2 314.0 748.4 315.2 748.5 316.5 748.6 317.7 748.6 318.9 748.6 320.1 748.6 321.3 748.5 322.5 748.4 323.7 748.3 324.9 748.1 326.1 747.9 327.4 747.6 328.6 747.3 329.8 746.8 331.0 746.3 332.2 745.8 333.4 745.2 334.6 744.6 335.8 743.9 337.0 743.2 338.2 742.5 339.5 741.7 340.7 740.8 341.9 739.9 343.1 738.9 344.3 737.9 345.5 736.8 346.7 735.7 347.9 734.5 349.1 733.3 350.4 732.0 351.6 730.8 352.8 729.5 354.0 728.1 355.2 726.8 356.4 725.5 357.6 724.2 358.8 722.9 360.0 721.6 361.3 720.4 362.5 719.2 363.7 718.1 364.9 717.1 366.1 716.1 367.3 715.2 368.5 714.5 369.7 713.8 370.9 713.3 372.2 712.9 373.4 712.6 374.6 712.4 375.8 712.4 377.0Z" fill="#A6761D" stroke="#333" stroke-width="1.3"/>
<path d="M873.4 377.0 873.2 375.8 873.0 374.6 872.8 373.4 872.6 372.2 872.4 370.9 872.2 369.7 872.0 368.5 871.8 367.3 871.6 366.1 871.4 364.9 871.2 363.7 871.0 362.5 870.8 361.3 870.6 360.1 870.4 358.8 870.1 357.6 869.9 356.4 869.7 355.2 869.4 354.0 869.2 352.8 868.9 351.6 868.5 350.4 868.1 349.2 867.6 348.0 867.2 346.7 866.8 345.5 866.5 344.3 866.2 343.1 866.1 341.9 865.9 340.7 865.8 339.5 865.7 338.3 865.6 337.1 865.6 335.9 865.6 334.6 865.8 333.4 866.1 332.2 866.4 331.0 866.9 329.8 867.4 328.6 867.9 327.4 868.5 326.2 869.1 325.0 869.8 323.8 870.6 322.5 871.6 321.3 872.5 320.1 873.5 318.9 874.5 317.7 875.5 316.5 876.6 315.3 877.7 314.1 878.9 312.9 880.0 311.7 881.1 310.4 882.1 309.2 883.1 308.0 884.1 306.8 885.1 305.6 886.1 304.4 887.0 303.2 887.8 302.0 888.5 300.8 889.1 299.6 889.7 298.3 890.2 297.1 890.7 295.9 891.1 294.7 891.4 293.5 891.7 292.3 891.9 291.1 892.0 289.9 892.1 288.7 892.2 287.5 892.3 286.2 892.4 285.0 892.5 283.8 892.5 282.6 892.5 281.4 892.5 280.2 892.5 279.0 892.4 277.8 892.4 276.6 892.4 275.4 892.3 274.1 892.3 272.9 892.2 271.7 892.1 270.5 891.9 269.3 891.7 268.1 891.5 266.9 891.3 265.7 891.0 264.5 890.7 263.3 890.4 262.0 890.0 260.8 889.5 259.6 889.0 258.4 888.5 257.2 887.9 256.0 887.4 254.8 886.8 253.6 886.2 252.4 885.5 251.2 884.9 249.9 884.1 248.7 883.4 247.5 882.6 246.3 881.8 245.1 881.0 243.9 880.2 242.7 879.4 241.5 878.5 240.3 877.6 239.1 876.6 237.8 875.7 236.6 874.7 235.4 873.7 234.2 872.8 233.0 871.8 231.8 870.9 230.6 870.0 229.4 869.1 228.2 868.3 227.0 867.4 225.7 866.5 224.5 865.6 223.3 834.1 223.3 833.2 224.5 832.3 225.7 831.4 227.0 830.5 228.2 829.6 229.4 828.7 230.6 827.8 231.8 826.9 233.0 825.9 234.2 825.0 235.4 824.0 236.6 823.0 237.8 822.1 239.1 821.1 240.3 820.3 241.5 819.4 242.7 818.6 243.9 817.8 245.1 817.0 246.3 816.3 247.5 815.5 248.7 814.8 249.9 814.1 251.2 813.5 252.4 812.9 253.6 812.3 254.8 811.7 256.0 811.2 257.2 810.6 258.4 810.1 259.6 809.7 260.8 809.3 262.0 808.9 263.3 808.6 264.5 808.4 265.7 808.2 266.9 807.9 268.1 807.8 269.3 807.6 270.5 807.5 271.7 807.4 272.9 807.3 274.1 807.3 275.4 807.3 276.6 807.2 277.8 807.2 279.0 807.2 280.2 807.2 281.4 807.2 282.6 807.2 283.8 807.3 285.0 807.3 286.2 807.4 287.5 807.5 288.7 807.7 289.9 807.8 291.1 808.0 292.3 808.2 293.5 808.6 294.7 809.0 295.9 809.5 297.1 810.0 298.3 810.5 299.6 811.1 300.8 811.9 302.0 812.7 303.2 813.6 304.4 814.6 305.6 815.6 306.8 816.6 308.0 817.5 309.2 818.6 310.4 819.7 311.7 820.8 312.9 821.9 314.1 823.1 315.3 824.1 316.5 825.1 317.7 826.1 318.9 827.1 320.1 828.1 321.3 829.0 322.5 829.9 323.8 830.6 325.0 831.2 326.2 831.7 327.4 832.3 328.6 832.8 329.8 833.2 331.0 833.6 332.2 833.9 333.4 834.0 334.6 834.1 335.9 834.0 337.1 833.9 338.3 833.8 339.5 833.7 340.7 833.6 341.9 833.4 343.1 833.2 344.3 832.9 345.5 832.5 346.7 832.0 348.0 831.6 349.2 831.2 350.4 830.8 351.6 830.5 352.8 830.2 354.0 830.0 355.2 829.7 356.4 829.5 357.6 829.3 358.8 829.1 360.1 828.9 361.3 828.7 362.5 828.4 363.7 828.2 364.9 828.0 366.1 827.8 367.3 827.6 368.5 827.4 369.7 827.2 370.9 827.0 372.2 826.8 373.4 826.6 374.6 826.4 375.8 826.2 377.0Z" fill="#666666" stroke="#333" stroke-width="1.3"/>
<path d="M705.2 727.8 705.1 726.6 705.0 725.4 704.7 724.2 704.3 723.0 703.8 721.8 703.2 720.6 702.5 719.3 701.7 718.1 700.8 716.9 699.8 715.7 698.8 714.5 697.7 713.3 696.6 712.1 695.4 710.9 694.1 709.7 692.8 708.5 691.5 707.3 690.2 706.1 688.9 704.8 687.6 703.6 686.3 702.4 685.0 701.2 683.7 700.0 682.4 698.8 681.2 697.6 680.0 696.4 678.8 695.2 677.7 694.0 676.7 692.8 675.6 691.6 674.7 690.3 673.8 689.1 672.9 687.9 672.1 686.7 671.3 685.5 670.6 684.3 669.9 683.1 669.3 681.9 668.7 680.7 668.2 679.5 667.7 678.3 667.3 677.1 666.8 675.9 666.5 674.6 666.1 673.4 665.8 672.2 665.5 671.0 665.3 669.8 665.2 668.6 665.1 667.4 665.0 666.2 664.9 665.0 664.8 663.8 664.8 662.6 664.8 661.4 664.8 660.1 664.8 658.9 664.8 657.7 664.8 656.5 664.9 655.3 664.9 654.1 665.0 652.9 665.0 651.7 665.1 650.5 665.2 649.3 665.3 648.1 665.4 646.9 665.5 645.6 665.7 644.4 665.8 643.2 666.0 642.0 666.2 640.8 666.5 639.6 666.7 638.4 667.0 637.2 667.2 636.0 667.5 634.8 667.8 633.6 668.1 632.4 668.3 631.2 668.6 629.9 668.9 628.7 669.2 627.5 669.5 626.3 669.7 625.1 670.0 623.9 670.2 622.7 670.4 621.5 670.7 620.3 670.9 619.1 671.2 617.9 671.4 616.7 671.7 615.4 671.9 614.2 672.1 613.0 672.3 611.8 672.5 610.6 672.7 609.4 672.8 608.2 672.8 607.0 672.8 605.8 672.8 604.6 672.7 603.4 672.5 602.2 672.3 600.9 672.1 599.7 671.9 598.5 671.6 597.3 671.3 596.1 671.1 594.9 670.8 593.7 670.6 592.5 670.4 591.3 670.2 590.1 670.0 588.9 669.8 587.7 669.5 586.4 669.3 585.2 669.1 584.0 668.9 582.8 668.6 581.6 668.4 580.4 668.2 579.2 668.0 578.0 667.9 576.8 667.7 575.6 667.6 574.4 667.5 573.2 667.4 572.0 667.3 570.7 667.2 569.5 667.2 568.3 667.1 567.1 667.1 565.9 667.0 564.7 667.0 563.5 666.9 562.3 666.9 561.1 666.8 559.9 666.8 558.7 666.7 557.5 666.7 556.2 666.7 555.0 666.6 553.8 666.6 552.6 666.5 551.4 666.5 550.2 666.5 549.0 666.4 547.8 666.4 546.6 666.3 545.4 666.3 544.2 666.2 543.0 666.2 541.7 666.1 540.5 666.1 539.3 666.0 538.1 666.0 536.9 665.9 535.7 665.9 534.5 665.8 533.3 665.8 532.1 665.7 530.9 665.7 529.7 665.7 528.5 665.6 527.3 659.5 527.3 659.4 528.5 659.4 529.7 659.3 530.9 659.3 532.1 659.2 533.3 659.2 534.5 659.1 535.7 659.1 536.9 659.0 538.1 659.0 539.3 658.9 540.5 658.9 541.7 658.8 543.0 658.8 544.2 658.8 545.4 658.7 546.6 658.7 547.8 658.6 549.0 658.6 550.2 658.5 551.4 658.5 552.6 658.4 553.8 658.4 555.0 658.4 556.2 658.3 557.5 658.3 558.7 658.2 559.9 658.2 561.1 658.2 562.3 658.1 563.5 658.1 564.7 658.0 565.9 658.0 567.1 657.9 568.3 657.8 569.5 657.8 570.7 657.7 572.0 657.6 573.2 657.5 574.4 657.4 575.6 657.2 576.8 657.0 578.0 656.8 579.2 656.6 580.4 656.4 581.6 656.2 582.8 656.0 584.0 655.8 585.2 655.5 586.4 655.3 587.7 655.1 588.9 654.9 590.1 654.7 591.3 654.5 592.5 654.2 593.7 654.0 594.9 653.7 596.1 653.5 597.3 653.2 598.5 653.0 599.7 652.7 600.9 652.5 602.2 652.4 603.4 652.3 604.6 652.2 605.8 652.2 607.0 652.3 608.2 652.4 609.4 652.5 610.6 652.7 611.8 652.9 613.0 653.2 614.2 653.4 615.4 653.7 616.7 653.9 617.9 654.2 619.1 654.4 620.3 654.6 621.5 654.8 622.7 655.1 623.9 655.3 625.1 655.6 626.3 655.9 627.5 656.2 628.7 656.4 629.9 656.7 631.2 657.0 632.4 657.3 633.6 657.6 634.8 657.9 636.0 658.1 637.2 658.4 638.4 658.6 639.6 658.8 640.8 659.0 642.0 659.2 643.2 659.4 644.4 659.5 645.6 659.6 646.9 659.8 648.1 659.9 649.3 660.0 650.5 660.0 651.7 660.1 652.9 660.2 654.1 660.2 655.3 660.3 656.5 660.3 657.7 660.3 658.9 660.3 660.1 660.3 661.4 660.3 662.6 660.2 663.8 660.2 665.0 660.1 666.2 660.0 667.4 659.9 668.6 659.8 669.8 659.5 671.0 659.2 672.2 658.9 673.4 658.6 674.6 658.2 675.9 657.8 677.1 657.4 678.3 656.9 679.5 656.3 680.7 655.8 681.9 655.2 683.1 654.5 684.3 653.8 685.5 653.0 686.7 652.2 687.9 651.3 689.1 650.4 690.3 649.4 691.6 648.4 692.8 647.3 694.0 646.2 695.2 645.1 696.4 643.9 697.6 642.7 698.8 641.4 700.0 640.1 701.2 638.8 702.4 637.5 703.6 636.2 704.8 634.8 706.1 633.5 707.3 632.2 708.5 631.0 709.7 629.7 710.9 628.5 712.1 627.4 713.3 626.3 714.5 625.2 715.7 624.3 716.9 623.4 718.1 622.6 719.3 621.9 720.6 621.3 721.8 620.8 723.0 620.4 724.2 620.1 725.4 619.9 726.6 619.9 727.8Z" fill="#E6AB02" stroke="#333" stroke-width="1.3"/>
<path d="M857.0 727.8 857.0 726.6 857.1 725.4 857.1 724.2 857.1 723.0 857.2 721.8 857.2 720.5 857.2 719.3 857.3 718.1 857.3 716.9 857.3 715.7 857.3 714.5 857.4 713.3 857.4 712.1 857.4 710.9 857.5 709.7 857.5 708.5 857.5 707.3 857.6 706.0 857.6 704.8 857.7 703.6 857.7 702.4 857.8 701.2 857.8 700.0 857.9 698.8 858.0 697.6 858.1 696.4 858.2 695.2 858.4 694.0 858.6 692.7 858.9 691.5 859.2 690.3 859.5 689.1 859.9 687.9 860.3 686.7 860.7 685.5 861.1 684.3 861.5 683.1 861.9 681.9 862.4 680.7 862.8 679.5 863.2 678.2 863.6 677.0 864.1 675.8 864.5 674.6 864.9 673.4 865.3 672.2 865.7 671.0 866.2 669.8 866.6 668.6 867.1 667.4 867.6 666.2 868.1 664.9 868.5 663.7 869.0 662.5 869.5 661.3 870.0 660.1 870.5 658.9 871.0 657.7 871.4 656.5 871.9 655.3 872.3 654.1 872.7 652.9 873.2 651.7 873.6 650.4 874.0 649.2 874.4 648.0 874.8 646.8 875.2 645.6 875.5 644.4 875.9 643.2 876.3 642.0 876.7 640.8 877.1 639.6 877.4 638.4 877.8 637.1 878.2 635.9 878.5 634.7 878.9 633.5 879.2 632.3 879.6 631.1 880.0 629.9 880.3 628.7 880.7 627.5 881.0 626.3 881.4 625.1 881.7 623.9 882.1 622.6 882.4 621.4 882.8 620.2 883.1 619.0 883.4 617.8 883.8 616.6 884.1 615.4 884.5 614.2 884.8 613.0 885.1 611.8 885.5 610.6 885.8 609.3 886.1 608.1 886.4 606.9 886.8 605.7 887.1 604.5 887.5 603.3 887.9 602.1 888.2 600.9 888.6 599.7 889.0 598.5 889.3 597.3 889.7 596.1 890.0 594.8 890.4 593.6 890.7 592.4 891.0 591.2 891.3 590.0 891.6 588.8 891.8 587.6 892.0 586.4 892.2 585.2 892.4 584.0 892.6 582.8 892.7 581.5 892.9 580.3 893.1 579.1 893.3 577.9 893.4 576.7 893.6 575.5 893.7 574.3 893.9 573.1 894.0 571.9 894.1 570.7 894.2 569.5 894.3 568.3 894.4 567.0 894.4 565.8 894.5 564.6 894.5 563.4 894.5 562.2 894.5 561.0 894.5 559.8 894.5 558.6 894.5 557.4 894.4 556.2 894.4 555.0 894.4 553.7 894.4 552.5 894.4 551.3 894.3 550.1 894.3 548.9 894.3 547.7 894.3 546.5 894.2 545.3 894.2 544.1 894.2 542.9 894.1 541.7 894.1 540.4 894.1 539.2 894.0 538.0 894.0 536.8 893.9 535.6 893.9 534.4 893.8 533.2 893.7 532.0 893.7 530.8 893.6 529.6 893.5 528.4 893.4 527.2 893.3 525.9 893.2 524.7 893.1 523.5 893.0 522.3 892.9 521.1 892.8 519.9 892.7 518.7 892.6 517.5 892.4 516.3 892.3 515.1 892.2 513.9 892.0 512.6 891.9 511.4 891.8 510.2 891.6 509.0 891.4 507.8 891.3 506.6 891.1 505.4 890.9 504.2 890.6 503.0 890.4 501.8 890.2 500.6 889.9 499.4 889.6 498.1 889.4 496.9 889.1 495.7 888.8 494.5 888.5 493.3 888.2 492.1 887.9 490.9 887.6 489.7 887.2 488.5 886.9 487.3 886.6 486.1 886.2 484.8 885.8 483.6 885.5 482.4 885.0 481.2 884.6 480.0 884.2 478.8 883.7 477.6 883.3 476.4 882.8 475.2 882.3 474.0 881.8 472.8 881.3 471.6 880.8 470.3 880.3 469.1 879.8 467.9 879.2 466.7 878.7 465.5 878.1 464.3 877.5 463.1 876.9 461.9 876.3 460.7 875.6 459.5 874.9 458.3 874.2 457.0 873.5 455.8 872.8 454.6 872.1 453.4 871.3 452.2 870.6 451.0 869.8 449.8 869.1 448.6 868.3 447.4 867.6 446.2 866.9 445.0 866.1 443.8 865.4 442.5 838.7 442.5 838.0 443.8 837.2 445.0 836.5 446.2 835.8 447.4 835.0 448.6 834.3 449.8 833.5 451.0 832.8 452.2 832.0 453.4 831.3 454.6 830.6 455.8 829.9 457.0 829.2 458.3 828.5 459.5 827.8 460.7 827.2 461.9 826.6 463.1 826.0 464.3 825.4 465.5 824.9 466.7 824.3 467.9 823.8 469.1 823.3 470.3 822.8 471.6 822.3 472.8 821.8 474.0 821.3 475.2 820.8 476.4 820.3 477.6 819.9 478.8 819.5 480.0 819.0 481.2 818.6 482.4 818.3 483.6 817.9 484.8 817.5 486.1 817.2 487.3 816.9 488.5 816.5 489.7 816.2 490.9 815.9 492.1 815.6 493.3 815.3 494.5 815.0 495.7 814.7 496.9 814.5 498.1 814.2 499.4 813.9 500.6 813.7 501.8 813.5 503.0 813.2 504.2 813.0 505.4 812.8 506.6 812.6 507.8 812.5 509.0 812.3 510.2 812.2 511.4 812.1 512.6 811.9 513.9 811.8 515.1 811.7 516.3 811.5 517.5 811.4 518.7 811.3 519.9 811.2 521.1 811.1 522.3 811.0 523.5 810.9 524.7 810.8 525.9 810.7 527.2 810.6 528.4 810.5 529.6 810.4 530.8 810.4 532.0 810.3 533.2 810.2 534.4 810.2 535.6 810.1 536.8 810.1 538.0 810.0 539.2 810.0 540.4 810.0 541.7 809.9 542.9 809.9 544.1 809.9 545.3 809.8 546.5 809.8 547.7 809.8 548.9 809.8 550.1 809.7 551.3 809.7 552.5 809.7 553.7 809.7 555.0 809.6 556.2 809.6 557.4 809.6 558.6 809.6 559.8 809.6 561.0 809.6 562.2 809.6 563.4 809.6 564.6 809.7 565.8 809.7 567.0 809.8 568.3 809.9 569.5 810.0 570.7 810.1 571.9 810.2 573.1 810.4 574.3 810.5 575.5 810.7 576.7 810.8 577.9 811.0 579.1 811.2 580.3 811.4 581.5 811.5 582.8 811.7 584.0 811.9 585.2 812.1 586.4 812.3 587.6 812.5 588.8 812.8 590.0 813.1 591.2 813.4 592.4 813.7 593.6 814.1 594.8 814.4 596.1 814.8 597.3 815.1 598.5 815.5 599.7 815.9 600.9 816.2 602.1 816.6 603.3 816.9 604.5 817.3 605.7 817.6 606.9 818.0 608.1 818.3 609.3 818.6 610.6 819.0 611.8 819.3 613.0 819.6 614.2 820.0 615.4 820.3 616.6 820.7 617.8 821.0 619.0 821.3 620.2 821.7 621.4 822.0 622.6 822.4 623.9 822.7 625.1 823.1 626.3 823.4 627.5 823.8 628.7 824.1 629.9 824.5 631.1 824.9 632.3 825.2 633.5 825.6 634.7 825.9 635.9 826.3 637.1 826.7 638.4 827.0 639.6 827.4 640.8 827.8 642.0 828.2 643.2 828.5 644.4 828.9 645.6 829.3 646.8 829.7 648.0 830.1 649.2 830.5 650.4 830.9 651.7 831.3 652.9 831.8 654.1 832.2 655.3 832.7 656.5 833.1 657.7 833.6 658.9 834.1 660.1 834.6 661.3 835.1 662.5 835.5 663.7 836.0 664.9 836.5 666.2 837.0 667.4 837.5 668.6 837.9 669.8 838.4 671.0 838.8 672.2 839.2 673.4 839.6 674.6 840.0 675.8 840.5 677.0 840.9 678.2 841.3 679.5 841.7 680.7 842.2 681.9 842.6 683.1 843.0 684.3 843.4 685.5 843.8 686.7 844.2 687.9 844.6 689.1 844.9 690.3 845.2 691.5 845.5 692.7 845.7 694.0 845.9 695.2 846.0 696.4 846.1 697.6 846.2 698.8 846.2 700.0 846.3 701.2 846.4 702.4 846.4 703.6 846.5 704.8 846.5 706.0 846.5 707.3 846.6 708.5 846.6 709.7 846.7 710.9 846.7 712.1 846.7 713.3 846.7 714.5 846.8 715.7 846.8 716.9 846.8 718.1 846.9 719.3 846.9 720.5 846.9 721.8 846.9 723.0 847.0 724.2 847.0 725.4 847.1 726.6 847.1 727.8Z" fill="#666666" stroke="#333" stroke-width="1.3"/>
<path d="M229.1 1068.2 229.1 1067.0 228.9 1065.8 228.7 1064.6 228.4 1063.4 228.0 1062.1 227.5 1060.9 226.8 1059.7 226.1 1058.5 225.4 1057.3 224.5 1056.1 223.6 1054.9 222.6 1053.7 221.6 1052.4 220.5 1051.2 219.4 1050.0 218.3 1048.8 217.2 1047.6 216.1 1046.4 214.9 1045.2 213.8 1044.0 212.7 1042.7 211.6 1041.5 210.5 1040.3 209.5 1039.1 208.5 1037.9 207.5 1036.7 206.6 1035.5 205.7 1034.3 204.9 1033.0 204.0 1031.8 203.3 1030.6 202.6 1029.4 201.9 1028.2 201.2 1027.0 200.6 1025.8 200.0 1024.6 199.5 1023.3 199.0 1022.1 198.5 1020.9 198.1 1019.7 197.8 1018.5 197.4 1017.3 197.1 1016.1 196.8 1014.9 196.6 1013.6 196.4 1012.4 196.2 1011.2 196.0 1010.0 196.0 1008.8 196.2 1007.6 196.5 1006.4 196.9 1005.2 197.4 1003.9 198.0 1002.7 198.6 1001.5 199.3 1000.3 200.0 999.1 200.7 997.9 201.4 996.7 202.2 995.5 203.2 994.2 204.2 993.0 205.3 991.8 206.5 990.6 207.7 989.4 209.0 988.2 210.3 987.0 211.6 985.8 212.8 984.5 214.1 983.3 215.3 982.1 216.4 980.9 217.4 979.7 218.4 978.5 219.3 977.3 220.2 976.1 221.2 974.8 222.1 973.6 223.1 972.4 224.0 971.2 224.9 970.0 225.7 968.8 226.6 967.6 227.3 966.4 228.0 965.1 228.7 963.9 229.2 962.7 229.7 961.5 230.1 960.3 230.4 959.1 230.6 957.9 230.8 956.7 231.0 955.4 231.2 954.2 231.4 953.0 231.5 951.8 231.7 950.6 231.9 949.4 232.0 948.2 232.1 947.0 232.3 945.7 232.4 944.5 232.5 943.3 232.6 942.1 232.7 940.9 232.7 939.7 232.8 938.5 232.9 937.3 232.9 936.0 232.9 934.8 232.9 933.6 232.9 932.4 232.8 931.2 232.7 930.0 232.6 928.8 232.4 927.6 232.2 926.3 231.9 925.1 231.6 923.9 231.3 922.7 230.9 921.5 230.6 920.3 230.2 919.1 229.8 917.9 229.3 916.6 228.9 915.4 228.4 914.2 228.0 913.0 227.5 911.8 227.0 910.6 226.6 909.4 226.1 908.2 225.6 906.9 225.1 905.7 224.5 904.5 223.8 903.3 223.1 902.1 222.3 900.9 221.5 899.7 220.6 898.5 219.7 897.2 218.8 896.0 217.8 894.8 216.9 893.6 215.9 892.4 214.9 891.2 213.9 890.0 213.0 888.8 212.0 887.5 211.0 886.3 210.1 885.1 209.2 883.9 208.3 882.7 207.5 881.5 206.6 880.3 205.9 879.1 205.2 877.8 204.5 876.6 203.9 875.4 203.3 874.2 202.7 873.0 202.2 871.8 201.6 870.6 201.1 869.4 200.6 868.1 200.1 866.9 199.6 865.7 199.1 864.5 198.7 863.3 198.2 862.1 197.8 860.9 197.5 859.7 197.1 858.4 196.8 857.2 196.5 856.0 196.2 854.8 196.0 853.6 195.8 852.4 195.6 851.2 195.3 850.0 195.1 848.7 195.0 847.5 194.8 846.3 194.6 845.1 194.4 843.9 194.3 842.7 194.1 841.5 193.9 840.3 193.7 839.0 193.5 837.8 193.3 836.6 188.0 836.6 187.8 837.8 187.6 839.0 187.4 840.3 187.3 841.5 187.1 842.7 186.9 843.9 186.7 845.1 186.6 846.3 186.4 847.5 186.2 848.7 186.0 850.0 185.8 851.2 185.6 852.4 185.3 853.6 185.1 854.8 184.8 856.0 184.5 857.2 184.2 858.4 183.9 859.7 183.5 860.9 183.1 862.1 182.7 863.3 182.2 864.5 181.8 865.7 181.3 866.9 180.8 868.1 180.2 869.4 179.7 870.6 179.2 871.8 178.6 873.0 178.0 874.2 177.4 875.4 176.8 876.6 176.2 877.8 175.5 879.1 174.7 880.3 173.9 881.5 173.0 882.7 172.1 883.9 171.2 885.1 170.3 886.3 169.3 887.5 168.4 888.8 167.4 890.0 166.4 891.2 165.4 892.4 164.5 893.6 163.5 894.8 162.5 896.0 161.6 897.2 160.7 898.5 159.9 899.7 159.1 900.9 158.3 902.1 157.5 903.3 156.9 904.5 156.3 905.7 155.7 906.9 155.2 908.2 154.8 909.4 154.3 910.6 153.8 911.8 153.4 913.0 152.9 914.2 152.5 915.4 152.0 916.6 151.6 917.9 151.2 919.1 150.8 920.3 150.4 921.5 150.1 922.7 149.7 923.9 149.4 925.1 149.2 926.3 149.0 927.6 148.8 928.8 148.6 930.0 148.5 931.2 148.4 932.4 148.4 933.6 148.4 934.8 148.4 936.0 148.5 937.3 148.5 938.5 148.6 939.7 148.7 940.9 148.7 942.1 148.8 943.3 149.0 944.5 149.1 945.7 149.2 947.0 149.3 948.2 149.5 949.4 149.6 950.6 149.8 951.8 150.0 953.0 150.2 954.2 150.4 955.4 150.6 956.7 150.8 957.9 151.0 959.1 151.2 960.3 151.6 961.5 152.1 962.7 152.7 963.9 153.3 965.1 154.0 966.4 154.8 967.6 155.6 968.8 156.5 970.0 157.4 971.2 158.3 972.4 159.2 973.6 160.2 974.8 161.1 976.1 162.0 977.3 163.0 978.5 163.9 979.7 165.0 980.9 166.1 982.1 167.3 983.3 168.5 984.5 169.8 985.8 171.1 987.0 172.3 988.2 173.6 989.4 174.8 990.6 176.0 991.8 177.1 993.0 178.2 994.2 179.1 995.5 180.0 996.7 180.7 997.9 181.4 999.1 182.1 1000.3 182.7 1001.5 183.4 1002.7 184.0 1003.9 184.5 1005.2 184.9 1006.4 185.2 1007.6 185.3 1008.8 185.3 1010.0 185.2 1011.2 185.0 1012.4 184.7 1013.6 184.5 1014.9 184.2 1016.1 183.9 1017.3 183.6 1018.5 183.2 1019.7 182.8 1020.9 182.3 1022.1 181.8 1023.3 181.3 1024.6 180.7 1025.8 180.1 1027.0 179.5 1028.2 178.8 1029.4 178.1 1030.6 177.3 1031.8 176.5 1033.0 175.6 1034.3 174.7 1035.5 173.8 1036.7 172.8 1037.9 171.8 1039.1 170.8 1040.3 169.7 1041.5 168.6 1042.7 167.5 1044.0 166.4 1045.2 165.3 1046.4 164.1 1047.6 163.0 1048.8 161.9 1050.0 160.8 1051.2 159.8 1052.4 158.7 1053.7 157.8 1054.9 156.8 1056.1 156.0 1057.3 155.2 1058.5 154.5 1059.7 153.9 1060.9 153.4 1062.1 152.9 1063.4 152.6 1064.6 152.4 1065.8 152.3 1067.0 152.3 1068.2Z" fill="#1B9E77" stroke="#333" stroke-width="1.3"/>
<path d="M422.5 1068.2 422.2 1067.0 421.5 1065.8 420.2 1064.6 418.5 1063.4 416.5 1062.1 414.1 1060.9 411.5 1059.7 408.7 1058.5 405.9 1057.3 403.1 1056.1 400.4 1054.9 397.7 1053.7 395.3 1052.5 393.0 1051.2 391.0 1050.0 389.2 1048.8 387.7 1047.6 386.3 1046.4 385.2 1045.2 384.3 1044.0 383.6 1042.8 383.0 1041.6 382.6 1040.4 382.3 1039.1 382.0 1037.9 381.9 1036.7 381.7 1035.5 381.7 1034.3 381.6 1033.1 381.6 1031.9 381.5 1030.7 381.5 1029.5 381.5 1028.2 381.6 1027.0 381.6 1025.8 381.7 1024.6 381.7 1023.4 381.7 1022.2 381.8 1021.0 381.9 1019.8 381.9 1018.6 382.0 1017.3 382.1 1016.1 382.1 1014.9 382.2 1013.7 382.3 1012.5 382.4 1011.3 382.5 1010.1 382.6 1008.9 382.7 1007.7 382.8 1006.5 382.9 1005.2 383.1 1004.0 383.2 1002.8 383.3 1001.6 383.5 1000.4 383.6 999.2 383.7 998.0 383.9 996.8 384.0 995.6 384.2 994.3 384.4 993.1 384.6 991.9 384.9 990.7 385.2 989.5 385.5 988.3 385.9 987.1 386.2 985.9 386.5 984.7 386.9 983.4 387.2 982.2 387.5 981.0 387.7 979.8 387.9 978.6 388.0 977.4 388.1 976.2 388.2 975.0 388.2 973.8 388.1 972.6 388.1 971.3 388.1 970.1 388.0 968.9 388.0 967.7 387.9 966.5 387.8 965.3 387.8 964.1 387.7 962.9 387.6 961.7 387.5 960.4 387.4 959.2 387.3 958.0 387.2 956.8 387.1 955.6 387.0 954.4 386.9 953.2 386.8 952.0 386.6 950.8 386.4 949.5 386.2 948.3 386.0 947.1 385.8 945.9 385.6 944.7 385.4 943.5 385.2 942.3 385.0 941.1 384.8 939.9 384.7 938.7 384.5 937.4 384.4 936.2 384.3 935.0 384.2 933.8 384.2 932.6 384.1 931.4 384.1 930.2 384.0 929.0 384.0 927.8 383.9 926.5 383.9 925.3 383.9 924.1 383.9 922.9 383.8 921.7 383.8 920.5 383.8 919.3 383.8 918.1 383.7 916.9 383.7 915.6 383.7 914.4 383.6 913.2 383.6 912.0 383.6 910.8 383.6 909.6 383.5 908.4 383.5 907.2 383.4 906.0 383.4 904.8 383.4 903.5 383.3 902.3 383.3 901.1 383.2 899.9 383.2 898.7 383.1 897.5 383.1 896.3 383.0 895.1 382.9 893.9 382.9 892.6 382.8 891.4 382.8 890.2 382.7 889.0 382.7 887.8 382.6 886.6 382.6 885.4 382.5 884.2 382.5 883.0 382.4 881.7 382.4 880.5 382.3 879.3 382.3 878.1 382.3 876.9 382.2 875.7 382.2 874.5 382.1 873.3 382.1 872.1 382.1 870.9 382.0 869.6 382.0 868.4 382.0 867.2 381.9 866.0 381.9 864.8 381.9 863.6 381.8 862.4 381.8 861.2 381.8 860.0 381.7 858.7 381.7 857.5 381.7 856.3 381.6 855.1 381.6 853.9 381.6 852.7 381.5 851.5 381.5 850.3 381.5 849.1 381.5 847.8 381.4 846.6 381.4 845.4 381.4 844.2 381.3 843.0 381.3 841.8 381.3 840.6 381.3 839.4 381.2 838.2 381.2 837.0 381.2 835.7 381.2 834.5 381.1 833.3 381.1 832.1 381.1 830.9 381.1 829.7 381.0 828.5 381.0 827.3 381.0 826.1 381.0 824.8 381.0 823.6 380.9 822.4 380.9 821.2 380.9 820.0 380.9 818.8 380.9 817.6 380.8 816.4 380.8 815.2 380.8 813.9 380.8 812.7 380.7 811.5 380.7 810.3 379.7 810.3 379.7 811.5 379.7 812.7 379.7 813.9 379.6 815.2 379.6 816.4 379.6 817.6 379.6 818.8 379.6 820.0 379.5 821.2 379.5 822.4 379.5 823.6 379.5 824.8 379.5 826.1 379.4 827.3 379.4 828.5 379.4 829.7 379.4 830.9 379.3 832.1 379.3 833.3 379.3 834.5 379.3 835.7 379.2 837.0 379.2 838.2 379.2 839.4 379.2 840.6 379.1 841.8 379.1 843.0 379.1 844.2 379.1 845.4 379.0 846.6 379.0 847.8 379.0 849.1 378.9 850.3 378.9 851.5 378.9 852.7 378.9 853.9 378.8 855.1 378.8 856.3 378.8 857.5 378.7 858.7 378.7 860.0 378.7 861.2 378.6 862.4 378.6 863.6 378.6 864.8 378.5 866.0 378.5 867.2 378.5 868.4 378.4 869.6 378.4 870.9 378.4 872.1 378.3 873.3 378.3 874.5 378.2 875.7 378.2 876.9 378.2 878.1 378.1 879.3 378.1 880.5 378.0 881.7 378.0 883.0 377.9 884.2 377.9 885.4 377.8 886.6 377.8 887.8 377.7 889.0 377.7 890.2 377.6 891.4 377.6 892.6 377.5 893.9 377.5 895.1 377.4 896.3 377.4 897.5 377.3 898.7 377.3 899.9 377.2 901.1 377.2 902.3 377.1 903.5 377.1 904.8 377.0 906.0 377.0 907.2 376.9 908.4 376.9 909.6 376.9 910.8 376.8 912.0 376.8 913.2 376.8 914.4 376.8 915.6 376.7 916.9 376.7 918.1 376.7 919.3 376.7 920.5 376.6 921.7 376.6 922.9 376.6 924.1 376.5 925.3 376.5 926.5 376.5 927.8 376.4 929.0 376.4 930.2 376.4 931.4 376.3 932.6 376.2 933.8 376.2 935.0 376.1 936.2 375.9 937.4 375.8 938.7 375.6 939.9 375.4 941.1 375.3 942.3 375.1 943.5 374.9 944.7 374.6 945.9 374.4 947.1 374.2 948.3 374.1 949.5 373.9 950.8 373.7 952.0 373.6 953.2 373.4 954.4 373.3 955.6 373.2 956.8 373.1 958.0 373.0 959.2 373.0 960.4 372.9 961.7 372.8 962.9 372.7 964.1 372.6 965.3 372.6 966.5 372.5 967.7 372.4 968.9 372.4 970.1 372.4 971.3 372.3 972.6 372.3 973.8 372.3 975.0 372.3 976.2 372.4 977.4 372.6 978.6 372.8 979.8 373.0 981.0 373.3 982.2 373.6 983.4 373.9 984.7 374.3 985.9 374.6 987.1 374.9 988.3 375.3 989.5 375.6 990.7 375.8 991.9 376.1 993.1 376.3 994.3 376.4 995.6 376.6 996.8 376.7 998.0 376.9 999.2 377.0 1000.4 377.1 1001.6 377.3 1002.8 377.4 1004.0 377.5 1005.2 377.6 1006.5 377.7 1007.7 377.9 1008.9 378.0 1010.1 378.1 1011.3 378.1 1012.5 378.2 1013.7 378.3 1014.9 378.4 1016.1 378.5 1017.3 378.5 1018.6 378.6 1019.8 378.7 1021.0 378.7 1022.2 378.8 1023.4 378.8 1024.6 378.8 1025.8 378.9 1027.0 378.9 1028.2 379.0 1029.5 378.9 1030.7 378.9 1031.9 378.9 1033.1 378.8 1034.3 378.7 1035.5 378.6 1036.7 378.4 1037.9 378.2 1039.1 377.9 1040.4 377.4 1041.6 376.9 1042.8 376.1 1044.0 375.2 1045.2 374.1 1046.4 372.8 1047.6 371.2 1048.8 369.5 1050.0 367.4 1051.2 365.2 1052.5 362.7 1053.7 360.1 1054.9 357.4 1056.1 354.5 1057.3 351.7 1058.5 349.0 1059.7 346.4 1060.9 344.0 1062.1 341.9 1063.4 340.2 1064.6 339.0 1065.8 338.2 1067.0 338.0 1068.2Z" fill="#7570B3" stroke="#333" stroke-width="1.3"/>
<path d="M517.1 1068.2 517.0 1067.0 516.8 1065.8 516.5 1064.6 516.1 1063.4 515.6 1062.2 514.9 1060.9 514.1 1059.7 513.3 1058.5 512.3 1057.3 511.3 1056.1 510.2 1054.9 509.0 1053.7 507.8 1052.5 506.5 1051.3 505.1 1050.1 503.8 1048.8 502.4 1047.6 501.1 1046.4 499.7 1045.2 498.3 1044.0 497.0 1042.8 495.7 1041.6 494.4 1040.4 493.1 1039.2 491.9 1038.0 490.7 1036.7 489.6 1035.5 488.5 1034.3 487.5 1033.1 486.5 1031.9 485.6 1030.7 484.8 1029.5 484.0 1028.3 483.2 1027.1 482.5 1025.9 481.9 1024.6 481.3 1023.4 480.7 1022.2 480.2 1021.0 479.8 1019.8 479.5 1018.6 479.2 1017.4 478.9 1016.2 478.7 1015.0 478.5 1013.8 478.4 1012.5 478.3 1011.3 478.2 1010.1 478.1 1008.9 478.1 1007.7 478.1 1006.5 478.2 1005.3 478.2 1004.1 478.4 1002.9 478.6 1001.7 478.9 1000.4 479.2 999.2 479.5 998.0 479.9 996.8 480.2 995.6 480.6 994.4 481.1 993.2 481.5 992.0 482.0 990.8 482.6 989.6 483.2 988.3 483.9 987.1 484.5 985.9 485.2 984.7 485.9 983.5 486.5 982.3 487.2 981.1 487.8 979.9 488.5 978.7 489.2 977.5 489.9 976.2 490.5 975.0 491.2 973.8 491.8 972.6 492.4 971.4 492.8 970.2 493.2 969.0 493.5 967.8 493.8 966.6 494.0 965.4 494.3 964.2 494.5 962.9 494.7 961.7 494.9 960.5 495.0 959.3 495.1 958.1 495.1 956.9 495.1 955.7 495.1 954.5 495.1 953.3 495.0 952.1 494.9 950.8 494.8 949.6 494.7 948.4 494.6 947.2 494.5 946.0 494.3 944.8 494.2 943.6 494.0 942.4 493.9 941.2 493.7 940.0 493.5 938.7 493.4 937.5 493.2 936.3 493.0 935.1 492.9 933.9 492.7 932.7 492.6 931.5 492.4 930.3 492.3 929.1 492.1 927.9 491.9 926.6 491.8 925.4 491.6 924.2 491.4 923.0 491.3 921.8 491.1 920.6 490.9 919.4 490.7 918.2 490.5 917.0 490.3 915.8 490.1 914.5 489.9 913.3 489.7 912.1 489.5 910.9 489.3 909.7 489.1 908.5 488.9 907.3 488.7 906.1 488.5 904.9 488.3 903.7 488.1 902.4 487.8 901.2 487.6 900.0 487.4 898.8 487.2 897.6 486.9 896.4 486.7 895.2 486.4 894.0 486.2 892.8 486.0 891.6 485.7 890.3 485.5 889.1 485.2 887.9 485.0 886.7 484.7 885.5 484.5 884.3 484.2 883.1 483.9 881.9 483.7 880.7 483.4 879.5 483.1 878.2 482.7 877.0 482.4 875.8 482.1 874.6 481.8 873.4 481.5 872.2 481.1 871.0 480.8 869.8 480.5 868.6 480.2 867.4 479.9 866.2 479.6 864.9 479.3 863.7 479.1 862.5 478.9 861.3 478.6 860.1 478.4 858.9 478.3 857.7 478.1 856.5 478.0 855.3 477.8 854.1 477.7 852.8 477.6 851.6 477.4 850.4 477.3 849.2 477.2 848.0 477.1 846.8 477.0 845.6 476.9 844.4 476.8 843.2 476.7 842.0 476.6 840.7 476.5 839.5 476.3 838.3 476.2 837.1 476.1 835.9 476.0 834.7 474.0 834.7 473.9 835.9 473.8 837.1 473.7 838.3 473.6 839.5 473.5 840.7 473.4 842.0 473.2 843.2 473.1 844.4 473.0 845.6 472.9 846.8 472.8 848.0 472.7 849.2 472.6 850.4 472.5 851.6 472.3 852.8 472.2 854.1 472.1 855.3 471.9 856.5 471.7 857.7 471.6 858.9 471.4 860.1 471.2 861.3 470.9 862.5 470.7 863.7 470.4 864.9 470.1 866.2 469.8 867.4 469.5 868.6 469.2 869.8 468.9 871.0 468.6 872.2 468.2 873.4 467.9 874.6 467.6 875.8 467.3 877.0 467.0 878.2 466.7 879.5 466.4 880.7 466.1 881.9 465.8 883.1 465.6 884.3 465.3 885.5 465.1 886.7 464.8 887.9 464.6 889.1 464.3 890.3 464.1 891.6 463.8 892.8 463.6 894.0 463.3 895.2 463.1 896.4 462.9 897.6 462.6 898.8 462.4 900.0 462.2 901.2 462.0 902.4 461.7 903.7 461.5 904.9 461.3 906.1 461.1 907.3 460.9 908.5 460.7 909.7 460.5 910.9 460.3 912.1 460.1 913.3 459.9 914.5 459.7 915.8 459.5 917.0 459.3 918.2 459.1 919.4 458.9 920.6 458.8 921.8 458.6 923.0 458.4 924.2 458.2 925.4 458.1 926.6 457.9 927.9 457.7 929.1 457.6 930.3 457.4 931.5 457.3 932.7 457.1 933.9 457.0 935.1 456.8 936.3 456.7 937.5 456.5 938.7 456.3 940.0 456.2 941.2 456.0 942.4 455.8 943.6 455.7 944.8 455.6 946.0 455.4 947.2 455.3 948.4 455.2 949.6 455.1 950.8 455.0 952.1 455.0 953.3 454.9 954.5 454.9 955.7 454.9 956.9 454.9 958.1 455.0 959.3 455.1 960.5 455.3 961.7 455.5 962.9 455.7 964.2 456.0 965.4 456.2 966.6 456.5 967.8 456.8 969.0 457.2 970.2 457.6 971.4 458.2 972.6 458.8 973.8 459.5 975.0 460.2 976.2 460.9 977.5 461.6 978.7 462.2 979.9 462.9 981.1 463.5 982.3 464.1 983.5 464.8 984.7 465.5 985.9 466.2 987.1 466.8 988.3 467.4 989.6 468.0 990.8 468.5 992.0 469.0 993.2 469.4 994.4 469.8 995.6 470.2 996.8 470.5 998.0 470.9 999.2 471.2 1000.4 471.4 1001.7 471.6 1002.9 471.8 1004.1 471.9 1005.3 471.9 1006.5 471.9 1007.7 471.9 1008.9 471.8 1010.1 471.8 1011.3 471.6 1012.5 471.5 1013.8 471.3 1015.0 471.1 1016.2 470.8 1017.4 470.5 1018.6 470.2 1019.8 469.8 1021.0 469.3 1022.2 468.7 1023.4 468.1 1024.6 467.5 1025.9 466.8 1027.1 466.0 1028.3 465.2 1029.5 464.4 1030.7 463.5 1031.9 462.5 1033.1 461.5 1034.3 460.4 1035.5 459.3 1036.7 458.1 1038.0 456.9 1039.2 455.6 1040.4 454.4 1041.6 453.0 1042.8 451.7 1044.0 450.3 1045.2 449.0 1046.4 447.6 1047.6 446.2 1048.8 444.9 1050.1 443.6 1051.3 442.3 1052.5 441.0 1053.7 439.9 1054.9 438.7 1056.1 437.7 1057.3 436.7 1058.5 435.9 1059.7 435.1 1060.9 434.5 1062.2 433.9 1063.4 433.5 1064.6 433.2 1065.8 433.0 1067.0 433.0 1068.2Z" fill="#E7298A" stroke="#333" stroke-width="1.3"/>
<path d="M707.2 1068.2 707.2 1067.0 707.0 1065.8 706.8 1064.6 706.4 1063.4 706.0 1062.1 705.4 1060.9 704.7 1059.7 704.0 1058.5 703.1 1057.3 702.2 1056.1 701.2 1054.9 700.1 1053.7 699.0 1052.4 697.9 1051.2 696.7 1050.0 695.5 1048.8 694.2 1047.6 693.0 1046.4 691.7 1045.2 690.4 1044.0 689.2 1042.8 687.9 1041.5 686.7 1040.3 685.5 1039.1 684.4 1037.9 683.3 1036.7 682.2 1035.5 681.1 1034.3 680.1 1033.1 679.2 1031.8 678.3 1030.6 677.4 1029.4 676.6 1028.2 675.8 1027.0 675.1 1025.8 674.5 1024.6 673.8 1023.4 673.2 1022.2 672.7 1020.9 672.2 1019.7 671.7 1018.5 671.3 1017.3 670.9 1016.1 670.7 1014.9 670.7 1013.7 670.7 1012.5 670.8 1011.2 670.9 1010.0 671.0 1008.8 671.2 1007.6 671.4 1006.4 671.7 1005.2 672.0 1004.0 672.4 1002.8 672.9 1001.6 673.4 1000.3 673.9 999.1 674.5 997.9 675.1 996.7 675.7 995.5 676.4 994.3 677.0 993.1 677.7 991.9 678.5 990.6 679.2 989.4 680.0 988.2 680.9 987.0 681.7 985.8 682.5 984.6 683.3 983.4 684.0 982.2 684.7 981.0 685.4 979.7 686.1 978.5 686.9 977.3 687.6 976.1 688.2 974.9 688.9 973.7 689.5 972.5 690.0 971.3 690.4 970.1 690.7 968.8 691.0 967.6 691.3 966.4 691.5 965.2 691.8 964.0 692.0 962.8 692.2 961.6 692.3 960.4 692.4 959.1 692.5 957.9 692.5 956.7 692.5 955.5 692.5 954.3 692.4 953.1 692.4 951.9 692.3 950.7 692.2 949.5 692.0 948.2 691.9 947.0 691.7 945.8 691.6 944.6 691.4 943.4 691.2 942.2 691.0 941.0 690.8 939.8 690.6 938.5 690.4 937.3 690.2 936.1 690.0 934.9 689.8 933.7 689.6 932.5 689.4 931.3 689.2 930.1 689.0 928.9 688.7 927.6 688.5 926.4 688.2 925.2 687.9 924.0 687.6 922.8 687.3 921.6 687.0 920.4 686.7 919.2 686.4 917.9 686.1 916.7 685.7 915.5 685.4 914.3 685.1 913.1 684.7 911.9 684.4 910.7 684.1 909.5 683.7 908.3 683.4 907.0 683.0 905.8 682.7 904.6 682.3 903.4 681.9 902.2 681.5 901.0 681.1 899.8 680.7 898.6 680.3 897.3 679.9 896.1 679.5 894.9 679.1 893.7 678.7 892.5 678.3 891.3 677.9 890.1 677.5 888.9 677.0 887.7 676.6 886.4 676.3 885.2 675.9 884.0 675.5 882.8 675.1 881.6 674.7 880.4 674.3 879.2 673.9 878.0 673.4 876.7 673.0 875.5 672.6 874.3 672.2 873.1 671.8 871.9 671.3 870.7 670.9 869.5 670.6 868.3 670.2 867.1 669.8 865.8 669.5 864.6 669.2 863.4 668.9 862.2 668.7 861.0 668.4 859.8 668.3 858.6 668.1 857.4 668.0 856.1 667.8 854.9 667.7 853.7 667.6 852.5 667.5 851.3 667.4 850.1 667.3 848.9 667.2 847.7 667.1 846.5 667.0 845.2 666.9 844.0 666.8 842.8 666.8 841.6 666.7 840.4 666.6 839.2 662.6 839.2 662.5 840.4 662.4 841.6 662.3 842.8 662.2 844.0 662.1 845.2 662.0 846.5 661.9 847.7 661.8 848.9 661.8 850.1 661.7 851.3 661.5 852.5 661.4 853.7 661.3 854.9 661.2 856.1 661.0 857.4 660.9 858.6 660.7 859.8 660.5 861.0 660.2 862.2 659.9 863.4 659.6 864.6 659.3 865.8 659.0 867.1 658.6 868.3 658.2 869.5 657.8 870.7 657.4 871.9 657.0 873.1 656.5 874.3 656.1 875.5 655.7 876.7 655.3 878.0 654.9 879.2 654.4 880.4 654.0 881.6 653.7 882.8 653.3 884.0 652.9 885.2 652.5 886.4 652.1 887.7 651.7 888.9 651.3 890.1 650.9 891.3 650.5 892.5 650.0 893.7 649.6 894.9 649.2 896.1 648.8 897.3 648.4 898.6 648.0 899.8 647.6 901.0 647.2 902.2 646.8 903.4 646.5 904.6 646.1 905.8 645.8 907.0 645.4 908.3 645.1 909.5 644.7 910.7 644.4 911.9 644.1 913.1 643.7 914.3 643.4 915.5 643.1 916.7 642.7 917.9 642.4 919.2 642.1 920.4 641.8 921.6 641.5 922.8 641.2 924.0 640.9 925.2 640.7 926.4 640.4 927.6 640.2 928.9 639.9 930.1 639.7 931.3 639.5 932.5 639.3 933.7 639.1 934.9 638.9 936.1 638.7 937.3 638.5 938.5 638.3 939.8 638.1 941.0 637.9 942.2 637.7 943.4 637.6 944.6 637.4 945.8 637.2 947.0 637.1 948.2 637.0 949.5 636.9 950.7 636.8 951.9 636.7 953.1 636.6 954.3 636.6 955.5 636.6 956.7 636.6 957.9 636.7 959.1 636.8 960.4 637.0 961.6 637.2 962.8 637.4 964.0 637.6 965.2 637.9 966.4 638.1 967.6 638.4 968.8 638.7 970.1 639.2 971.3 639.7 972.5 640.3 973.7 640.9 974.9 641.6 976.1 642.3 977.3 643.0 978.5 643.7 979.7 644.4 981.0 645.1 982.2 645.9 983.4 646.6 984.6 647.5 985.8 648.3 987.0 649.1 988.2 649.9 989.4 650.7 990.6 651.4 991.9 652.1 993.1 652.8 994.3 653.4 995.5 654.0 996.7 654.6 997.9 655.2 999.1 655.7 1000.3 656.2 1001.6 656.7 1002.8 657.1 1004.0 657.4 1005.2 657.7 1006.4 657.9 1007.6 658.1 1008.8 658.3 1010.0 658.3 1011.2 658.4 1012.5 658.4 1013.7 658.4 1014.9 658.3 1016.1 657.9 1017.3 657.4 1018.5 657.0 1019.7 656.4 1020.9 655.9 1022.2 655.3 1023.4 654.7 1024.6 654.0 1025.8 653.3 1027.0 652.5 1028.2 651.7 1029.4 650.9 1030.6 650.0 1031.8 649.0 1033.1 648.0 1034.3 647.0 1035.5 645.9 1036.7 644.8 1037.9 643.6 1039.1 642.4 1040.3 641.2 1041.5 640.0 1042.8 638.7 1044.0 637.4 1045.2 636.2 1046.4 634.9 1047.6 633.7 1048.8 632.5 1050.0 631.3 1051.2 630.1 1052.4 629.0 1053.7 628.0 1054.9 627.0 1056.1 626.0 1057.3 625.2 1058.5 624.4 1059.7 623.8 1060.9 623.2 1062.1 622.7 1063.4 622.3 1064.6 622.1 1065.8 621.9 1067.0 621.9 1068.2Z" fill="#E6AB02" stroke="#333" stroke-width="1.3"/>
<path d="M801.7 1068.2 801.6 1067.0 801.2 1065.8 800.5 1064.6 799.5 1063.3 798.3 1062.1 796.9 1060.9 795.4 1059.7 793.6 1058.5 791.7 1057.3 789.8 1056.1 787.7 1054.8 785.7 1053.6 783.6 1052.4 781.6 1051.2 779.6 1050.0 777.7 1048.8 775.8 1047.6 774.1 1046.4 772.5 1045.1 771.0 1043.9 769.7 1042.7 768.4 1041.5 767.3 1040.3 766.3 1039.1 765.4 1037.9 764.7 1036.6 764.0 1035.4 763.4 1034.2 762.9 1033.0 762.5 1031.8 762.1 1030.6 761.8 1029.4 761.6 1028.1 761.5 1026.9 761.3 1025.7 761.2 1024.5 761.2 1023.3 761.1 1022.1 761.1 1020.9 761.2 1019.7 761.2 1018.4 761.3 1017.2 761.4 1016.0 761.5 1014.8 761.6 1013.6 761.7 1012.4 761.9 1011.2 762.0 1009.9 762.2 1008.7 762.3 1007.5 762.5 1006.3 762.6 1005.1 762.8 1003.9 763.0 1002.7 763.2 1001.4 763.3 1000.2 763.5 999.0 763.7 997.8 763.9 996.6 764.0 995.4 764.2 994.2 764.4 993.0 764.5 991.7 764.7 990.5 764.8 989.3 764.9 988.1 765.1 986.9 765.2 985.7 765.3 984.5 765.4 983.2 765.6 982.0 765.7 980.8 765.8 979.6 765.9 978.4 766.1 977.2 766.2 976.0 766.4 974.7 766.6 973.5 766.7 972.3 766.9 971.1 767.1 969.9 767.2 968.7 767.4 967.5 767.5 966.3 767.6 965.0 767.6 963.8 767.6 962.6 767.5 961.4 767.4 960.2 767.3 959.0 767.1 957.8 767.0 956.5 766.8 955.3 766.6 954.1 766.4 952.9 766.2 951.7 766.0 950.5 765.9 949.3 765.7 948.0 765.5 946.8 765.4 945.6 765.2 944.4 765.0 943.2 764.8 942.0 764.7 940.8 764.5 939.6 764.3 938.3 764.1 937.1 764.0 935.9 763.8 934.7 763.6 933.5 763.5 932.3 763.3 931.1 763.1 929.8 762.9 928.6 762.8 927.4 762.6 926.2 762.5 925.0 762.3 923.8 762.2 922.6 762.1 921.3 762.0 920.1 762.0 918.9 761.9 917.7 761.8 916.5 761.8 915.3 761.7 914.1 761.7 912.9 761.6 911.6 761.6 910.4 761.5 909.2 761.5 908.0 761.4 906.8 761.4 905.6 761.3 904.4 761.3 903.1 761.3 901.9 761.2 900.7 761.2 899.5 761.2 898.3 761.1 897.1 761.1 895.9 761.1 894.6 761.1 893.4 761.0 892.2 761.0 891.0 761.0 889.8 760.9 888.6 757.8 888.6 757.7 889.8 757.7 891.0 757.7 892.2 757.6 893.4 757.6 894.6 757.6 895.9 757.6 897.1 757.5 898.3 757.5 899.5 757.5 900.7 757.4 901.9 757.4 903.1 757.4 904.4 757.3 905.6 757.3 906.8 757.2 908.0 757.2 909.2 757.1 910.4 757.1 911.6 757.0 912.9 757.0 914.1 756.9 915.3 756.9 916.5 756.8 917.7 756.7 918.9 756.7 920.1 756.6 921.3 756.5 922.6 756.4 923.8 756.2 925.0 756.1 926.2 755.9 927.4 755.8 928.6 755.6 929.8 755.4 931.1 755.2 932.3 755.1 933.5 754.9 934.7 754.7 935.9 754.6 937.1 754.4 938.3 754.2 939.6 754.0 940.8 753.9 942.0 753.7 943.2 753.5 944.4 753.3 945.6 753.2 946.8 753.0 948.0 752.8 949.3 752.7 950.5 752.5 951.7 752.3 952.9 752.1 954.1 751.9 955.3 751.7 956.5 751.6 957.8 751.4 959.0 751.3 960.2 751.2 961.4 751.1 962.6 751.1 963.8 751.1 965.0 751.2 966.3 751.3 967.5 751.5 968.7 751.6 969.9 751.8 971.1 752.0 972.3 752.1 973.5 752.3 974.7 752.5 976.0 752.6 977.2 752.8 978.4 752.9 979.6 753.0 980.8 753.2 982.0 753.3 983.2 753.4 984.5 753.5 985.7 753.6 986.9 753.8 988.1 753.9 989.3 754.0 990.5 754.2 991.7 754.3 993.0 754.5 994.2 754.7 995.4 754.8 996.6 755.0 997.8 755.2 999.0 755.4 1000.2 755.6 1001.4 755.7 1002.7 755.9 1003.9 756.1 1005.1 756.2 1006.3 756.4 1007.5 756.5 1008.7 756.7 1009.9 756.8 1011.2 757.0 1012.4 757.1 1013.6 757.2 1014.8 757.3 1016.0 757.4 1017.2 757.5 1018.4 757.5 1019.7 757.6 1020.9 757.6 1022.1 757.5 1023.3 757.5 1024.5 757.4 1025.7 757.2 1026.9 757.1 1028.1 756.9 1029.4 756.6 1030.6 756.2 1031.8 755.8 1033.0 755.3 1034.2 754.7 1035.4 754.0 1036.6 753.3 1037.9 752.4 1039.1 751.4 1040.3 750.3 1041.5 749.0 1042.7 747.7 1043.9 746.2 1045.1 744.6 1046.4 742.9 1047.6 741.0 1048.8 739.1 1050.0 737.1 1051.2 735.1 1052.4 733.0 1053.6 731.0 1054.8 728.9 1056.1 727.0 1057.3 725.1 1058.5 723.3 1059.7 721.8 1060.9 720.4 1062.1 719.2 1063.3 718.2 1064.6 717.5 1065.8 717.1 1067.0 717.0 1068.2Z" fill="#A6761D" stroke="#333" stroke-width="1.3"/>
<path d="M235.0 1544.5 235.0 1543.3 234.9 1542.1 234.7 1540.9 234.3 1539.7 233.9 1538.5 233.4 1537.3 232.8 1536.0 232.2 1534.8 231.4 1533.6 230.6 1532.4 229.7 1531.2 228.8 1530.0 227.8 1528.8 226.7 1527.6 225.7 1526.4 224.5 1525.2 223.4 1524.0 222.3 1522.8 221.1 1521.6 219.9 1520.3 218.7 1519.1 217.6 1517.9 216.4 1516.7 215.3 1515.5 214.1 1514.3 213.0 1513.1 212.0 1511.9 210.9 1510.7 209.9 1509.5 209.0 1508.3 208.1 1507.1 207.2 1505.9 206.3 1504.6 205.5 1503.4 204.8 1502.2 204.1 1501.0 203.4 1499.8 202.8 1498.6 202.2 1497.4 201.6 1496.2 201.1 1495.0 200.7 1493.8 200.2 1492.6 199.8 1491.4 199.4 1490.2 199.0 1488.9 198.7 1487.7 198.4 1486.5 198.1 1485.3 197.8 1484.1 197.9 1482.9 198.1 1481.7 198.3 1480.5 198.5 1479.3 198.7 1478.1 199.0 1476.9 199.2 1475.7 199.5 1474.5 199.9 1473.2 200.2 1472.0 200.6 1470.8 201.0 1469.6 201.5 1468.4 202.0 1467.2 202.6 1466.0 203.1 1464.8 203.8 1463.6 204.4 1462.4 205.1 1461.2 205.7 1460.0 206.4 1458.8 207.1 1457.5 207.8 1456.3 208.4 1455.1 209.1 1453.9 209.8 1452.7 210.5 1451.5 211.3 1450.3 212.0 1449.1 212.6 1447.9 213.2 1446.7 213.8 1445.5 214.3 1444.3 214.8 1443.1 215.3 1441.8 215.7 1440.6 216.0 1439.4 216.3 1438.2 216.6 1437.0 216.9 1435.8 217.1 1434.6 217.3 1433.4 217.5 1432.2 217.5 1431.0 217.5 1429.8 217.5 1428.6 217.4 1427.4 217.3 1426.1 217.2 1424.9 217.1 1423.7 217.0 1422.5 216.8 1421.3 216.6 1420.1 216.4 1418.9 216.1 1417.7 215.9 1416.5 215.6 1415.3 215.3 1414.1 215.0 1412.9 214.7 1411.7 214.4 1410.5 214.1 1409.2 213.8 1408.0 213.5 1406.8 213.2 1405.6 212.8 1404.4 212.5 1403.2 212.1 1402.0 211.8 1400.8 211.4 1399.6 211.1 1398.4 210.7 1397.2 210.3 1396.0 209.9 1394.8 209.5 1393.5 209.1 1392.3 208.6 1391.1 208.2 1389.9 207.7 1388.7 207.2 1387.5 206.8 1386.3 206.3 1385.1 205.8 1383.9 205.4 1382.7 204.9 1381.5 204.5 1380.3 204.0 1379.1 203.5 1377.8 203.1 1376.6 202.6 1375.4 202.2 1374.2 201.7 1373.0 201.2 1371.8 200.8 1370.6 200.4 1369.4 199.9 1368.2 199.5 1367.0 199.1 1365.8 198.8 1364.6 198.4 1363.4 198.0 1362.1 197.6 1360.9 197.3 1359.7 197.0 1358.5 196.6 1357.3 196.3 1356.1 196.1 1354.9 195.8 1353.7 195.6 1352.5 195.4 1351.3 195.2 1350.1 195.0 1348.9 194.8 1347.7 194.6 1346.4 194.4 1345.2 194.1 1344.0 189.8 1344.0 189.6 1345.2 189.4 1346.4 189.2 1347.7 189.0 1348.9 188.8 1350.1 188.6 1351.3 188.3 1352.5 188.1 1353.7 187.9 1354.9 187.6 1356.1 187.3 1357.3 187.0 1358.5 186.6 1359.7 186.3 1360.9 185.9 1362.1 185.6 1363.4 185.2 1364.6 184.8 1365.8 184.4 1367.0 184.0 1368.2 183.6 1369.4 183.1 1370.6 182.7 1371.8 182.2 1373.0 181.8 1374.2 181.3 1375.4 180.8 1376.6 180.4 1377.8 179.9 1379.1 179.5 1380.3 179.0 1381.5 178.6 1382.7 178.1 1383.9 177.6 1385.1 177.2 1386.3 176.7 1387.5 176.2 1388.7 175.8 1389.9 175.3 1391.1 174.9 1392.3 174.4 1393.5 174.0 1394.8 173.6 1396.0 173.3 1397.2 172.9 1398.4 172.5 1399.6 172.1 1400.8 171.8 1402.0 171.4 1403.2 171.1 1404.4 170.8 1405.6 170.4 1406.8 170.1 1408.0 169.8 1409.2 169.5 1410.5 169.2 1411.7 168.9 1412.9 168.6 1414.1 168.4 1415.3 168.1 1416.5 167.8 1417.7 167.6 1418.9 167.3 1420.1 167.1 1421.3 167.0 1422.5 166.9 1423.7 166.7 1424.9 166.6 1426.1 166.5 1427.4 166.5 1428.6 166.4 1429.8 166.4 1431.0 166.5 1432.2 166.6 1433.4 166.8 1434.6 167.0 1435.8 167.3 1437.0 167.6 1438.2 167.9 1439.4 168.2 1440.6 168.7 1441.8 169.1 1443.1 169.6 1444.3 170.2 1445.5 170.7 1446.7 171.3 1447.9 172.0 1449.1 172.7 1450.3 173.4 1451.5 174.1 1452.7 174.8 1453.9 175.5 1455.1 176.2 1456.3 176.8 1457.5 177.5 1458.8 178.2 1460.0 178.9 1461.2 179.5 1462.4 180.2 1463.6 180.8 1464.8 181.4 1466.0 181.9 1467.2 182.4 1468.4 182.9 1469.6 183.3 1470.8 183.7 1472.0 184.1 1473.2 184.4 1474.5 184.7 1475.7 185.0 1476.9 185.2 1478.1 185.4 1479.3 185.7 1480.5 185.9 1481.7 186.0 1482.9 186.1 1484.1 185.8 1485.3 185.5 1486.5 185.2 1487.7 184.9 1488.9 184.5 1490.2 184.1 1491.4 183.7 1492.6 183.3 1493.8 182.8 1495.0 182.3 1496.2 181.7 1497.4 181.1 1498.6 180.5 1499.8 179.8 1501.0 179.1 1502.2 178.4 1503.4 177.6 1504.6 176.7 1505.9 175.9 1507.1 174.9 1508.3 174.0 1509.5 173.0 1510.7 172.0 1511.9 170.9 1513.1 169.8 1514.3 168.7 1515.5 167.5 1516.7 166.4 1517.9 165.2 1519.1 164.0 1520.3 162.8 1521.6 161.7 1522.8 160.5 1524.0 159.4 1525.2 158.3 1526.4 157.2 1527.6 156.2 1528.8 155.2 1530.0 154.2 1531.2 153.3 1532.4 152.5 1533.6 151.8 1534.8 151.1 1536.0 150.5 1537.3 150.0 1538.5 149.6 1539.7 149.3 1540.9 149.1 1542.1 148.9 1543.3 148.9 1544.5Z" fill="#1B9E77" stroke="#333" stroke-width="1.3"/>
<path d="M423.5 1544.5 423.3 1543.3 423.0 1542.1 422.3 1540.9 421.5 1539.7 420.4 1538.5 419.2 1537.2 417.7 1536.0 416.1 1534.8 414.4 1533.6 412.6 1532.4 410.7 1531.2 408.7 1530.0 406.8 1528.8 404.8 1527.6 402.9 1526.4 401.0 1525.2 399.1 1523.9 397.4 1522.7 395.7 1521.5 394.1 1520.3 392.7 1519.1 391.3 1517.9 390.1 1516.7 389.0 1515.5 388.0 1514.3 387.1 1513.1 386.3 1511.9 385.6 1510.6 385.0 1509.4 384.5 1508.2 384.1 1507.0 383.7 1505.8 383.5 1504.6 383.2 1503.4 383.0 1502.2 382.9 1501.0 382.8 1499.8 382.7 1498.6 382.7 1497.3 382.6 1496.1 382.6 1494.9 382.6 1493.7 382.6 1492.5 382.6 1491.3 382.7 1490.1 382.7 1488.9 382.7 1487.7 382.7 1486.5 382.7 1485.3 382.7 1484.0 382.9 1482.8 383.1 1481.6 383.3 1480.4 383.5 1479.2 383.7 1478.0 383.9 1476.8 384.1 1475.6 384.4 1474.4 384.6 1473.2 384.9 1472.0 385.2 1470.7 385.5 1469.5 385.9 1468.3 386.3 1467.1 386.8 1465.9 387.4 1464.7 388.0 1463.5 388.6 1462.3 389.3 1461.1 389.9 1459.9 390.6 1458.7 391.3 1457.4 391.9 1456.2 392.5 1455.0 393.2 1453.8 393.8 1452.6 394.6 1451.4 395.4 1450.2 396.2 1449.0 397.0 1447.8 397.7 1446.6 398.4 1445.4 399.0 1444.1 399.5 1442.9 399.8 1441.7 400.0 1440.5 400.0 1439.3 399.9 1438.1 399.8 1436.9 399.7 1435.7 399.6 1434.5 399.4 1433.3 399.2 1432.1 399.0 1430.8 398.8 1429.6 398.5 1428.4 398.3 1427.2 398.2 1426.0 398.0 1424.8 397.8 1423.6 397.7 1422.4 397.5 1421.2 397.4 1420.0 397.2 1418.8 397.1 1417.5 396.9 1416.3 396.8 1415.1 396.7 1413.9 396.5 1412.7 396.4 1411.5 396.2 1410.3 396.1 1409.1 395.9 1407.9 395.8 1406.7 395.6 1405.5 395.5 1404.3 395.3 1403.0 395.2 1401.8 395.0 1400.6 394.9 1399.4 394.7 1398.2 394.5 1397.0 394.4 1395.8 394.2 1394.6 394.0 1393.4 393.9 1392.2 393.7 1391.0 393.5 1389.7 393.3 1388.5 393.2 1387.3 393.0 1386.1 392.8 1384.9 392.6 1383.7 392.4 1382.5 392.2 1381.3 392.0 1380.1 391.9 1378.9 391.7 1377.7 391.5 1376.4 391.3 1375.2 391.1 1374.0 390.9 1372.8 390.7 1371.6 390.5 1370.4 390.3 1369.2 390.2 1368.0 390.0 1366.8 389.8 1365.6 389.6 1364.4 389.4 1363.1 389.2 1361.9 389.1 1360.7 388.9 1359.5 388.7 1358.3 388.5 1357.1 388.3 1355.9 388.1 1354.7 387.9 1353.5 387.7 1352.3 387.5 1351.1 387.3 1349.8 387.2 1348.6 387.0 1347.4 386.8 1346.2 386.6 1345.0 386.4 1343.8 386.3 1342.6 386.1 1341.4 386.0 1340.2 385.8 1339.0 385.7 1337.8 385.5 1336.5 385.4 1335.3 385.2 1334.1 385.1 1332.9 384.9 1331.7 384.8 1330.5 384.6 1329.3 384.5 1328.1 384.4 1326.9 384.2 1325.7 384.1 1324.5 383.9 1323.2 383.8 1322.0 383.7 1320.8 383.6 1319.6 383.4 1318.4 383.3 1317.2 383.2 1316.0 383.1 1314.8 383.0 1313.6 382.9 1312.4 382.9 1311.2 382.8 1309.9 382.7 1308.7 382.7 1307.5 382.6 1306.3 382.6 1305.1 382.5 1303.9 382.5 1302.7 382.5 1301.5 382.4 1300.3 382.4 1299.1 382.3 1297.9 382.3 1296.6 382.3 1295.4 382.2 1294.2 382.2 1293.0 382.2 1291.8 382.2 1290.6 382.1 1289.4 382.1 1288.2 382.1 1287.0 382.1 1285.8 382.0 1284.6 382.0 1283.3 382.0 1282.1 382.0 1280.9 381.9 1279.7 381.9 1278.5 381.9 1277.3 381.9 1276.1 381.8 1274.9 381.8 1273.7 381.8 1272.5 381.8 1271.3 381.7 1270.0 381.7 1268.8 381.7 1267.6 380.7 1267.6 380.7 1268.8 380.6 1270.0 380.6 1271.3 380.6 1272.5 380.6 1273.7 380.5 1274.9 380.5 1276.1 380.5 1277.3 380.5 1278.5 380.4 1279.7 380.4 1280.9 380.4 1282.1 380.4 1283.3 380.3 1284.6 380.3 1285.8 380.3 1287.0 380.3 1288.2 380.2 1289.4 380.2 1290.6 380.2 1291.8 380.2 1293.0 380.1 1294.2 380.1 1295.4 380.1 1296.6 380.0 1297.9 380.0 1299.1 380.0 1300.3 379.9 1301.5 379.9 1302.7 379.8 1303.9 379.8 1305.1 379.7 1306.3 379.7 1307.5 379.6 1308.7 379.6 1309.9 379.5 1311.2 379.4 1312.4 379.3 1313.6 379.2 1314.8 379.1 1316.0 379.0 1317.2 378.9 1318.4 378.8 1319.6 378.7 1320.8 378.6 1322.0 378.4 1323.2 378.3 1324.5 378.2 1325.7 378.0 1326.9 377.9 1328.1 377.7 1329.3 377.6 1330.5 377.4 1331.7 377.3 1332.9 377.2 1334.1 377.0 1335.3 376.9 1336.5 376.7 1337.8 376.6 1339.0 376.4 1340.2 376.3 1341.4 376.1 1342.6 375.9 1343.8 375.8 1345.0 375.6 1346.2 375.4 1347.4 375.2 1348.6 375.0 1349.8 374.8 1351.1 374.7 1352.3 374.5 1353.5 374.3 1354.7 374.1 1355.9 373.9 1357.1 373.7 1358.3 373.5 1359.5 373.3 1360.7 373.1 1361.9 372.9 1363.1 372.8 1364.4 372.6 1365.6 372.4 1366.8 372.2 1368.0 372.0 1369.2 371.8 1370.4 371.7 1371.6 371.5 1372.8 371.3 1374.0 371.1 1375.2 370.9 1376.4 370.7 1377.7 370.5 1378.9 370.3 1380.1 370.1 1381.3 370.0 1382.5 369.8 1383.7 369.6 1384.9 369.4 1386.1 369.2 1387.3 369.0 1388.5 368.9 1389.7 368.7 1391.0 368.5 1392.2 368.3 1393.4 368.2 1394.6 368.0 1395.8 367.8 1397.0 367.7 1398.2 367.5 1399.4 367.4 1400.6 367.2 1401.8 367.0 1403.0 366.9 1404.3 366.7 1405.5 366.6 1406.7 366.4 1407.9 366.3 1409.1 366.2 1410.3 366.0 1411.5 365.9 1412.7 365.7 1413.9 365.6 1415.1 365.4 1416.3 365.3 1417.5 365.1 1418.8 365.0 1420.0 364.8 1421.2 364.7 1422.4 364.5 1423.6 364.4 1424.8 364.2 1426.0 364.0 1427.2 363.8 1428.4 363.6 1429.6 363.4 1430.8 363.2 1432.1 363.0 1433.3 362.8 1434.5 362.7 1435.7 362.5 1436.9 362.4 1438.1 362.4 1439.3 362.4 1440.5 362.6 1441.7 362.9 1442.9 363.4 1444.1 364.0 1445.4 364.7 1446.6 365.4 1447.8 366.2 1449.0 367.0 1450.2 367.8 1451.4 368.5 1452.6 369.2 1453.8 369.8 1455.0 370.5 1456.2 371.1 1457.4 371.8 1458.7 372.4 1459.9 373.1 1461.1 373.8 1462.3 374.4 1463.5 375.0 1464.7 375.5 1465.9 376.1 1467.1 376.5 1468.3 376.9 1469.5 377.2 1470.7 377.5 1472.0 377.7 1473.2 378.0 1474.4 378.2 1475.6 378.4 1476.8 378.7 1478.0 378.9 1479.2 379.1 1480.4 379.3 1481.6 379.5 1482.8 379.7 1484.0 379.7 1485.3 379.7 1486.5 379.7 1487.7 379.7 1488.9 379.7 1490.1 379.7 1491.3 379.7 1492.5 379.7 1493.7 379.7 1494.9 379.7 1496.1 379.7 1497.3 379.7 1498.6 379.6 1499.8 379.5 1501.0 379.3 1502.2 379.2 1503.4 378.9 1504.6 378.6 1505.8 378.3 1507.0 377.8 1508.2 377.3 1509.4 376.7 1510.6 376.1 1511.9 375.3 1513.1 374.4 1514.3 373.4 1515.5 372.3 1516.7 371.0 1517.9 369.7 1519.1 368.2 1520.3 366.7 1521.5 365.0 1522.7 363.2 1523.9 361.4 1525.2 359.5 1526.4 357.6 1527.6 355.6 1528.8 353.6 1530.0 351.7 1531.2 349.8 1532.4 348.0 1533.6 346.2 1534.8 344.6 1536.0 343.2 1537.2 341.9 1538.5 340.9 1539.7 340.0 1540.9 339.4 1542.1 339.0 1543.3 338.9 1544.5Z" fill="#7570B3" stroke="#333" stroke-width="1.3"/>
<path d="M517.6 1544.5 517.5 1543.3 517.2 1542.1 516.8 1540.9 516.2 1539.7 515.4 1538.5 514.5 1537.3 513.4 1536.1 512.3 1534.8 511.0 1533.6 509.6 1532.4 508.1 1531.2 506.6 1530.0 505.0 1528.8 503.4 1527.6 501.7 1526.4 500.1 1525.2 498.5 1524.0 496.9 1522.8 495.4 1521.6 493.9 1520.4 492.4 1519.2 491.1 1518.0 489.8 1516.7 488.6 1515.5 487.4 1514.3 486.3 1513.1 485.4 1511.9 484.4 1510.7 483.6 1509.5 482.9 1508.3 482.2 1507.1 481.6 1505.9 481.0 1504.7 480.5 1503.5 480.1 1502.3 479.7 1501.1 479.4 1499.9 479.1 1498.7 478.8 1497.4 478.6 1496.2 478.5 1495.0 478.4 1493.8 478.3 1492.6 478.3 1491.4 478.3 1490.2 478.3 1489.0 478.3 1487.8 478.4 1486.6 478.5 1485.4 478.6 1484.2 478.7 1483.0 478.8 1481.8 479.0 1480.6 479.2 1479.3 479.4 1478.1 479.7 1476.9 480.0 1475.7 480.3 1474.5 480.7 1473.3 481.1 1472.1 481.5 1470.9 481.9 1469.7 482.3 1468.5 482.8 1467.3 483.2 1466.1 483.6 1464.9 484.1 1463.7 484.6 1462.5 485.1 1461.2 485.6 1460.0 486.1 1458.8 486.7 1457.6 487.2 1456.4 487.8 1455.2 488.4 1454.0 489.0 1452.8 489.7 1451.6 490.3 1450.4 491.0 1449.2 491.9 1448.0 492.8 1446.8 493.8 1445.6 494.8 1444.4 495.8 1443.1 496.8 1441.9 497.7 1440.7 498.5 1439.5 499.2 1438.3 499.7 1437.1 500.0 1435.9 500.2 1434.7 500.1 1433.5 500.0 1432.3 499.8 1431.1 499.6 1429.9 499.4 1428.7 499.1 1427.5 498.8 1426.3 498.4 1425.1 498.1 1423.8 497.8 1422.6 497.5 1421.4 497.2 1420.2 496.9 1419.0 496.6 1417.8 496.4 1416.6 496.1 1415.4 495.8 1414.2 495.5 1413.0 495.2 1411.8 494.9 1410.6 494.6 1409.4 494.3 1408.2 494.0 1407.0 493.7 1405.7 493.3 1404.5 493.0 1403.3 492.7 1402.1 492.4 1400.9 492.1 1399.7 491.8 1398.5 491.5 1397.3 491.2 1396.1 490.9 1394.9 490.6 1393.7 490.3 1392.5 490.0 1391.3 489.7 1390.1 489.4 1388.9 489.1 1387.6 488.8 1386.4 488.5 1385.2 488.3 1384.0 488.0 1382.8 487.7 1381.6 487.4 1380.4 487.1 1379.2 486.8 1378.0 486.5 1376.8 486.3 1375.6 486.0 1374.4 485.7 1373.2 485.4 1372.0 485.1 1370.8 484.9 1369.5 484.6 1368.3 484.4 1367.1 484.1 1365.9 483.8 1364.7 483.6 1363.5 483.4 1362.3 483.1 1361.1 482.9 1359.9 482.7 1358.7 482.5 1357.5 482.3 1356.3 482.0 1355.1 481.8 1353.9 481.6 1352.7 481.4 1351.5 481.2 1350.2 481.0 1349.0 480.8 1347.8 480.6 1346.6 480.4 1345.4 480.2 1344.2 480.0 1343.0 479.8 1341.8 479.7 1340.6 479.5 1339.4 479.3 1338.2 479.1 1337.0 479.0 1335.8 478.8 1334.6 478.7 1333.4 478.5 1332.1 478.4 1330.9 478.3 1329.7 478.2 1328.5 478.0 1327.3 477.9 1326.1 477.8 1324.9 477.7 1323.7 477.6 1322.5 477.5 1321.3 477.5 1320.1 477.4 1318.9 477.3 1317.7 477.2 1316.5 477.1 1315.3 477.1 1314.0 477.0 1312.8 476.9 1311.6 476.8 1310.4 476.8 1309.2 476.7 1308.0 476.6 1306.8 475.0 1306.8 474.9 1308.0 474.8 1309.2 474.8 1310.4 474.7 1311.6 474.6 1312.8 474.5 1314.0 474.4 1315.3 474.4 1316.5 474.3 1317.7 474.2 1318.9 474.1 1320.1 474.0 1321.3 474.0 1322.5 473.9 1323.7 473.8 1324.9 473.7 1326.1 473.6 1327.3 473.4 1328.5 473.3 1329.7 473.2 1330.9 473.1 1332.1 472.9 1333.4 472.8 1334.6 472.6 1335.8 472.4 1337.0 472.3 1338.2 472.1 1339.4 471.9 1340.6 471.8 1341.8 471.6 1343.0 471.4 1344.2 471.2 1345.4 471.0 1346.6 470.8 1347.8 470.6 1349.0 470.4 1350.2 470.2 1351.5 470.0 1352.7 469.8 1353.9 469.6 1355.1 469.3 1356.3 469.1 1357.5 468.9 1358.7 468.7 1359.9 468.5 1361.1 468.2 1362.3 468.0 1363.5 467.7 1364.7 467.5 1365.9 467.2 1367.1 467.0 1368.3 466.7 1369.5 466.4 1370.8 466.2 1372.0 465.9 1373.2 465.6 1374.4 465.3 1375.6 465.1 1376.8 464.8 1378.0 464.5 1379.2 464.2 1380.4 463.9 1381.6 463.6 1382.8 463.3 1384.0 463.0 1385.2 462.8 1386.4 462.5 1387.6 462.2 1388.9 461.9 1390.1 461.6 1391.3 461.3 1392.5 461.0 1393.7 460.7 1394.9 460.4 1396.1 460.1 1397.3 459.8 1398.5 459.5 1399.7 459.2 1400.9 458.9 1402.1 458.6 1403.3 458.2 1404.5 457.9 1405.7 457.6 1407.0 457.3 1408.2 457.0 1409.4 456.7 1410.6 456.4 1411.8 456.1 1413.0 455.8 1414.2 455.5 1415.4 455.2 1416.6 455.0 1417.8 454.7 1419.0 454.4 1420.2 454.1 1421.4 453.8 1422.6 453.5 1423.8 453.1 1425.1 452.8 1426.3 452.5 1427.5 452.2 1428.7 452.0 1429.9 451.8 1431.1 451.6 1432.3 451.5 1433.5 451.4 1434.7 451.5 1435.9 451.9 1437.1 452.4 1438.3 453.1 1439.5 453.9 1440.7 454.8 1441.9 455.8 1443.1 456.8 1444.4 457.8 1445.6 458.8 1446.8 459.7 1448.0 460.6 1449.2 461.3 1450.4 461.9 1451.6 462.6 1452.8 463.2 1454.0 463.8 1455.2 464.3 1456.4 464.9 1457.6 465.5 1458.8 466.0 1460.0 466.5 1461.2 467.0 1462.5 467.5 1463.7 467.9 1464.9 468.4 1466.1 468.8 1467.3 469.2 1468.5 469.7 1469.7 470.1 1470.9 470.5 1472.1 470.9 1473.3 471.3 1474.5 471.6 1475.7 471.9 1476.9 472.2 1478.1 472.4 1479.3 472.6 1480.6 472.8 1481.8 472.9 1483.0 473.0 1484.2 473.1 1485.4 473.2 1486.6 473.2 1487.8 473.3 1489.0 473.3 1490.2 473.3 1491.4 473.2 1492.6 473.2 1493.8 473.1 1495.0 473.0 1496.2 472.8 1497.4 472.5 1498.7 472.2 1499.9 471.9 1501.1 471.5 1502.3 471.1 1503.5 470.6 1504.7 470.0 1505.9 469.4 1507.1 468.7 1508.3 468.0 1509.5 467.1 1510.7 466.2 1511.9 465.3 1513.1 464.2 1514.3 463.0 1515.5 461.8 1516.7 460.5 1518.0 459.1 1519.2 457.7 1520.4 456.2 1521.6 454.7 1522.8 453.1 1524.0 451.5 1525.2 449.8 1526.4 448.2 1527.6 446.6 1528.8 445.0 1530.0 443.5 1531.2 442.0 1532.4 440.6 1533.6 439.3 1534.8 438.1 1536.1 437.1 1537.3 436.2 1538.5 435.4 1539.7 434.8 1540.9 434.4 1542.1 434.1 1543.3 434.0 1544.5Z" fill="#E7298A" stroke="#333" stroke-width="1.3"/>
<path d="M707.6 1544.5 707.6 1543.3 707.5 1542.1 707.3 1540.9 706.9 1539.6 706.5 1538.4 706.0 1537.2 705.4 1536.0 704.7 1534.8 703.9 1533.6 703.1 1532.4 702.2 1531.1 701.2 1529.9 700.2 1528.7 699.1 1527.5 698.0 1526.3 696.8 1525.1 695.7 1523.9 694.5 1522.6 693.3 1521.4 692.1 1520.2 690.9 1519.0 689.7 1517.8 688.6 1516.6 687.4 1515.4 686.3 1514.1 685.2 1512.9 684.2 1511.7 683.2 1510.5 682.2 1509.3 681.3 1508.1 680.3 1506.9 679.5 1505.6 678.7 1504.4 677.9 1503.2 677.2 1502.0 676.5 1500.8 675.8 1499.6 675.2 1498.4 674.6 1497.1 674.1 1495.9 673.7 1494.7 673.3 1493.5 672.9 1492.3 672.6 1491.1 672.3 1489.9 672.1 1488.6 671.9 1487.4 671.7 1486.2 671.6 1485.0 671.5 1483.8 671.5 1482.6 671.5 1481.4 671.5 1480.1 671.7 1478.9 672.0 1477.7 672.3 1476.5 672.8 1475.3 673.3 1474.1 673.9 1472.8 674.5 1471.6 675.2 1470.4 675.9 1469.2 676.6 1468.0 677.3 1466.8 678.0 1465.6 678.8 1464.3 679.6 1463.1 680.6 1461.9 681.6 1460.7 682.7 1459.5 683.8 1458.3 684.9 1457.1 686.0 1455.8 687.1 1454.6 688.1 1453.4 689.0 1452.2 689.8 1451.0 690.5 1449.8 691.2 1448.6 691.9 1447.3 692.6 1446.1 693.3 1444.9 694.0 1443.7 694.7 1442.5 695.3 1441.3 695.8 1440.1 696.2 1438.8 696.5 1437.6 696.8 1436.4 696.9 1435.2 696.9 1434.0 696.9 1432.8 696.8 1431.6 696.7 1430.3 696.6 1429.1 696.5 1427.9 696.3 1426.7 696.2 1425.5 696.0 1424.3 695.9 1423.1 695.7 1421.8 695.5 1420.6 695.4 1419.4 695.2 1418.2 695.0 1417.0 694.8 1415.8 694.6 1414.6 694.4 1413.3 694.2 1412.1 693.9 1410.9 693.7 1409.7 693.4 1408.5 693.1 1407.3 692.8 1406.1 692.5 1404.8 692.2 1403.6 691.9 1402.4 691.5 1401.2 691.0 1400.0 690.5 1398.8 690.1 1397.6 689.5 1396.3 689.0 1395.1 688.5 1393.9 687.9 1392.7 687.4 1391.5 686.8 1390.3 686.3 1389.1 685.7 1387.8 685.2 1386.6 684.6 1385.4 684.0 1384.2 683.4 1383.0 682.8 1381.8 682.1 1380.6 681.5 1379.3 680.9 1378.1 680.3 1376.9 679.7 1375.7 679.2 1374.5 678.6 1373.3 678.1 1372.1 677.5 1370.8 677.0 1369.6 676.5 1368.4 675.9 1367.2 675.4 1366.0 674.9 1364.8 674.4 1363.6 674.0 1362.3 673.5 1361.1 673.1 1359.9 672.7 1358.7 672.4 1357.5 672.0 1356.3 671.7 1355.1 671.5 1353.8 671.2 1352.6 670.9 1351.4 670.6 1350.2 670.4 1349.0 670.1 1347.8 669.8 1346.5 669.6 1345.3 660.5 1345.3 660.2 1346.5 659.9 1347.8 659.6 1349.0 659.4 1350.2 659.1 1351.4 658.9 1352.6 658.6 1353.8 658.3 1355.1 658.0 1356.3 657.7 1357.5 657.3 1358.7 656.9 1359.9 656.5 1361.1 656.1 1362.3 655.6 1363.6 655.1 1364.8 654.6 1366.0 654.1 1367.2 653.6 1368.4 653.0 1369.6 652.5 1370.8 652.0 1372.1 651.4 1373.3 650.9 1374.5 650.3 1375.7 649.7 1376.9 649.1 1378.1 648.5 1379.3 647.9 1380.6 647.3 1381.8 646.7 1383.0 646.0 1384.2 645.4 1385.4 644.9 1386.6 644.3 1387.8 643.7 1389.1 643.2 1390.3 642.7 1391.5 642.1 1392.7 641.6 1393.9 641.0 1395.1 640.5 1396.3 640.0 1397.6 639.5 1398.8 639.0 1400.0 638.6 1401.2 638.2 1402.4 637.8 1403.6 637.5 1404.8 637.2 1406.1 636.9 1407.3 636.6 1408.5 636.4 1409.7 636.1 1410.9 635.9 1412.1 635.6 1413.3 635.4 1414.6 635.2 1415.8 635.0 1417.0 634.8 1418.2 634.7 1419.4 634.5 1420.6 634.3 1421.8 634.2 1423.1 634.0 1424.3 633.9 1425.5 633.7 1426.7 633.6 1427.9 633.4 1429.1 633.3 1430.3 633.2 1431.6 633.2 1432.8 633.1 1434.0 633.1 1435.2 633.3 1436.4 633.5 1437.6 633.8 1438.8 634.3 1440.1 634.8 1441.3 635.4 1442.5 636.0 1443.7 636.7 1444.9 637.4 1446.1 638.1 1447.3 638.8 1448.6 639.6 1449.8 640.3 1451.0 641.1 1452.2 642.0 1453.4 643.0 1454.6 644.0 1455.8 645.1 1457.1 646.2 1458.3 647.3 1459.5 648.4 1460.7 649.4 1461.9 650.4 1463.1 651.3 1464.3 652.0 1465.6 652.8 1466.8 653.5 1468.0 654.2 1469.2 654.9 1470.4 655.5 1471.6 656.1 1472.8 656.7 1474.1 657.2 1475.3 657.7 1476.5 658.0 1477.7 658.3 1478.9 658.5 1480.1 658.6 1481.4 658.5 1482.6 658.5 1483.8 658.4 1485.0 658.3 1486.2 658.1 1487.4 657.9 1488.6 657.7 1489.9 657.4 1491.1 657.1 1492.3 656.8 1493.5 656.4 1494.7 656.0 1495.9 655.4 1497.1 654.8 1498.4 654.2 1499.6 653.6 1500.8 652.9 1502.0 652.1 1503.2 651.4 1504.4 650.5 1505.6 649.7 1506.9 648.8 1508.1 647.8 1509.3 646.9 1510.5 645.8 1511.7 644.8 1512.9 643.7 1514.1 642.6 1515.4 641.5 1516.6 640.3 1517.8 639.1 1519.0 637.9 1520.2 636.7 1521.4 635.5 1522.6 634.4 1523.9 633.2 1525.1 632.1 1526.3 630.9 1527.5 629.9 1528.7 628.8 1529.9 627.9 1531.1 626.9 1532.4 626.1 1533.6 625.3 1534.8 624.6 1536.0 624.0 1537.2 623.5 1538.4 623.1 1539.6 622.8 1540.9 622.6 1542.1 622.4 1543.3 622.4 1544.5Z" fill="#E6AB02" stroke="#333" stroke-width="1.3"/>
<path d="M801.4 1544.5 801.3 1543.3 801.0 1542.1 800.4 1540.9 799.7 1539.7 798.7 1538.5 797.6 1537.2 796.3 1536.0 794.8 1534.8 793.3 1533.6 791.6 1532.4 789.9 1531.2 788.1 1530.0 786.3 1528.8 784.4 1527.6 782.6 1526.4 780.9 1525.1 779.1 1523.9 777.5 1522.7 775.9 1521.5 774.4 1520.3 772.9 1519.1 771.6 1517.9 770.4 1516.7 769.3 1515.5 768.3 1514.3 767.4 1513.0 766.5 1511.8 765.8 1510.6 765.1 1509.4 764.6 1508.2 764.0 1507.0 763.6 1505.8 763.2 1504.6 762.9 1503.4 762.6 1502.2 762.4 1500.9 762.3 1499.7 762.2 1498.5 762.1 1497.3 762.1 1496.1 762.0 1494.9 762.0 1493.7 762.0 1492.5 762.0 1491.3 762.1 1490.1 762.1 1488.8 762.2 1487.6 762.3 1486.4 762.3 1485.2 762.4 1484.0 762.5 1482.8 762.6 1481.6 762.7 1480.4 762.8 1479.2 762.9 1478.0 763.0 1476.7 763.2 1475.5 763.3 1474.3 763.4 1473.1 763.6 1471.9 763.7 1470.7 763.8 1469.5 764.0 1468.3 764.2 1467.1 764.3 1465.9 764.5 1464.6 764.6 1463.4 764.8 1462.2 765.0 1461.0 765.1 1459.8 765.3 1458.6 765.5 1457.4 765.6 1456.2 765.8 1455.0 766.0 1453.8 766.2 1452.5 766.3 1451.3 766.5 1450.1 766.7 1448.9 766.9 1447.7 767.1 1446.5 767.4 1445.3 767.6 1444.1 767.9 1442.9 768.2 1441.7 768.4 1440.4 768.7 1439.2 768.9 1438.0 769.1 1436.8 769.3 1435.6 769.5 1434.4 769.7 1433.2 769.8 1432.0 769.9 1430.8 769.9 1429.6 769.9 1428.3 769.9 1427.1 769.8 1425.9 769.7 1424.7 769.6 1423.5 769.5 1422.3 769.3 1421.1 769.1 1419.9 769.0 1418.7 768.7 1417.5 768.5 1416.2 768.3 1415.0 768.0 1413.8 767.8 1412.6 767.5 1411.4 767.3 1410.2 767.0 1409.0 766.7 1407.8 766.5 1406.6 766.2 1405.4 766.0 1404.1 765.8 1402.9 765.5 1401.7 765.3 1400.5 765.1 1399.3 765.0 1398.1 764.8 1396.9 764.6 1395.7 764.4 1394.5 764.3 1393.3 764.1 1392.0 763.9 1390.8 763.7 1389.6 763.6 1388.4 763.4 1387.2 763.2 1386.0 763.1 1384.8 762.9 1383.6 762.8 1382.4 762.6 1381.2 762.5 1379.9 762.4 1378.7 762.3 1377.5 762.1 1376.3 762.0 1375.1 761.9 1373.9 761.9 1372.7 761.8 1371.5 761.7 1370.3 761.6 1369.1 761.5 1367.8 761.5 1366.6 761.4 1365.4 761.3 1364.2 761.3 1363.0 761.2 1361.8 761.2 1360.6 761.1 1359.4 761.1 1358.2 761.0 1357.0 760.9 1355.7 760.9 1354.5 760.8 1353.3 760.8 1352.1 760.7 1350.9 760.7 1349.7 760.6 1348.5 760.6 1347.3 760.5 1346.1 760.5 1344.9 760.4 1343.6 760.4 1342.4 760.3 1341.2 760.3 1340.0 760.2 1338.8 759.0 1338.8 759.0 1340.0 758.9 1341.2 758.9 1342.4 758.8 1343.6 758.8 1344.9 758.7 1346.1 758.7 1347.3 758.6 1348.5 758.6 1349.7 758.5 1350.9 758.5 1352.1 758.4 1353.3 758.4 1354.5 758.3 1355.7 758.3 1357.0 758.2 1358.2 758.1 1359.4 758.1 1360.6 758.0 1361.8 758.0 1363.0 757.9 1364.2 757.8 1365.4 757.8 1366.6 757.7 1367.8 757.6 1369.1 757.6 1370.3 757.5 1371.5 757.4 1372.7 757.3 1373.9 757.2 1375.1 757.1 1376.3 757.0 1377.5 756.9 1378.7 756.7 1379.9 756.6 1381.2 756.5 1382.4 756.3 1383.6 756.2 1384.8 756.0 1386.0 755.8 1387.2 755.7 1388.4 755.5 1389.6 755.3 1390.8 755.2 1392.0 755.0 1393.3 754.8 1394.5 754.6 1395.7 754.5 1396.9 754.3 1398.1 754.1 1399.3 753.9 1400.5 753.7 1401.7 753.5 1402.9 753.3 1404.1 753.0 1405.4 752.8 1406.6 752.5 1407.8 752.2 1409.0 752.0 1410.2 751.7 1411.4 751.5 1412.6 751.2 1413.8 751.0 1415.0 750.7 1416.2 750.5 1417.5 750.3 1418.7 750.1 1419.9 749.9 1421.1 749.8 1422.3 749.6 1423.5 749.5 1424.7 749.4 1425.9 749.4 1427.1 749.3 1428.3 749.3 1429.6 749.4 1430.8 749.5 1432.0 749.6 1433.2 749.7 1434.4 749.9 1435.6 750.1 1436.8 750.3 1438.0 750.6 1439.2 750.8 1440.4 751.1 1441.7 751.3 1442.9 751.6 1444.1 751.9 1445.3 752.1 1446.5 752.3 1447.7 752.6 1448.9 752.7 1450.1 752.9 1451.3 753.1 1452.5 753.3 1453.8 753.4 1455.0 753.6 1456.2 753.8 1457.4 753.9 1458.6 754.1 1459.8 754.3 1461.0 754.5 1462.2 754.6 1463.4 754.8 1464.6 754.9 1465.9 755.1 1467.1 755.2 1468.3 755.4 1469.5 755.5 1470.7 755.7 1471.9 755.8 1473.1 756.0 1474.3 756.1 1475.5 756.2 1476.7 756.3 1478.0 756.5 1479.2 756.6 1480.4 756.7 1481.6 756.8 1482.8 756.8 1484.0 756.9 1485.2 757.0 1486.4 757.1 1487.6 757.1 1488.8 757.2 1490.1 757.2 1491.3 757.2 1492.5 757.2 1493.7 757.2 1494.9 757.2 1496.1 757.1 1497.3 757.1 1498.5 757.0 1499.7 756.8 1500.9 756.7 1502.2 756.4 1503.4 756.1 1504.6 755.7 1505.8 755.2 1507.0 754.7 1508.2 754.1 1509.4 753.5 1510.6 752.7 1511.8 751.9 1513.0 751.0 1514.3 750.0 1515.5 748.8 1516.7 747.6 1517.9 746.3 1519.1 744.9 1520.3 743.4 1521.5 741.8 1522.7 740.1 1523.9 738.4 1525.1 736.6 1526.4 734.8 1527.6 733.0 1528.8 731.2 1530.0 729.4 1531.2 727.6 1532.4 726.0 1533.6 724.4 1534.8 723.0 1536.0 721.7 1537.2 720.5 1538.5 719.6 1539.7 718.8 1540.9 718.3 1542.1 717.9 1543.3 717.8 1544.5Z" fill="#A6761D" stroke="#333" stroke-width="1.3"/>
<path d="M324.3 1900.3 324.2 1899.1 323.9 1897.9 323.5 1896.7 322.9 1895.5 322.2 1894.2 321.3 1893.0 320.2 1891.8 319.0 1890.6 317.7 1889.4 316.4 1888.2 314.9 1887.0 313.4 1885.8 311.8 1884.5 310.1 1883.3 308.5 1882.1 306.9 1880.9 305.2 1879.7 303.6 1878.5 302.0 1877.3 300.5 1876.1 299.0 1874.8 297.6 1873.6 296.2 1872.4 294.9 1871.2 293.7 1870.0 292.5 1868.8 291.5 1867.6 290.5 1866.4 289.6 1865.1 288.7 1863.9 288.0 1862.7 287.3 1861.5 286.7 1860.3 286.1 1859.1 285.6 1857.9 285.1 1856.7 284.7 1855.4 284.4 1854.2 284.2 1853.0 284.0 1851.8 283.8 1850.6 283.7 1849.4 283.6 1848.2 283.5 1847.0 283.5 1845.8 283.4 1844.5 283.4 1843.3 283.4 1842.1 283.5 1840.9 283.5 1839.7 283.5 1838.5 283.6 1837.3 283.7 1836.1 283.7 1834.8 283.8 1833.6 283.9 1832.4 284.0 1831.2 284.1 1830.0 284.3 1828.8 284.4 1827.6 284.6 1826.4 284.8 1825.1 285.0 1823.9 285.2 1822.7 285.4 1821.5 285.6 1820.3 285.8 1819.1 286.0 1817.9 286.2 1816.7 286.5 1815.4 286.7 1814.2 286.9 1813.0 287.1 1811.8 287.3 1810.6 287.5 1809.4 287.7 1808.2 287.9 1807.0 288.1 1805.8 288.4 1804.5 288.6 1803.3 288.8 1802.1 289.0 1800.9 289.1 1799.7 289.3 1798.5 289.4 1797.3 289.4 1796.1 289.4 1794.8 289.4 1793.6 289.3 1792.4 289.3 1791.2 289.2 1790.0 289.1 1788.8 289.0 1787.6 288.9 1786.4 288.8 1785.1 288.7 1783.9 288.6 1782.7 288.5 1781.5 288.4 1780.3 288.3 1779.1 288.2 1777.9 288.1 1776.7 288.0 1775.4 287.8 1774.2 287.7 1773.0 287.6 1771.8 287.5 1770.6 287.4 1769.4 287.2 1768.2 287.1 1767.0 287.0 1765.7 286.9 1764.5 286.8 1763.3 286.6 1762.1 286.5 1760.9 286.4 1759.7 286.3 1758.5 286.2 1757.3 286.1 1756.1 286.0 1754.8 285.9 1753.6 285.8 1752.4 285.7 1751.2 285.6 1750.0 285.5 1748.8 285.5 1747.6 285.4 1746.4 285.3 1745.1 285.3 1743.9 285.2 1742.7 285.1 1741.5 285.1 1740.3 285.0 1739.1 285.0 1737.9 284.9 1736.7 284.8 1735.4 284.8 1734.2 284.7 1733.0 284.7 1731.8 284.6 1730.6 284.5 1729.4 284.5 1728.2 284.4 1727.0 284.3 1725.7 284.2 1724.5 284.1 1723.3 284.0 1722.1 283.9 1720.9 283.8 1719.7 283.6 1718.5 283.4 1717.3 283.3 1716.1 283.1 1714.8 282.9 1713.6 282.7 1712.4 282.5 1711.2 282.4 1710.0 282.3 1708.8 282.2 1707.6 282.2 1706.4 282.2 1705.1 282.1 1703.9 282.1 1702.7 282.1 1701.5 282.0 1700.3 282.0 1699.1 282.0 1697.9 281.9 1696.7 281.9 1695.4 281.9 1694.2 281.9 1693.0 281.9 1691.8 281.8 1690.6 281.8 1689.4 281.8 1688.2 281.8 1687.0 281.8 1685.7 281.8 1684.5 281.7 1683.3 281.7 1682.1 281.7 1680.9 281.7 1679.7 281.7 1678.5 281.7 1677.3 281.7 1676.0 281.6 1674.8 281.6 1673.6 281.6 1672.4 281.6 1671.2 281.6 1670.0 281.6 1668.8 281.5 1667.6 281.5 1666.4 280.5 1666.4 280.5 1667.6 280.5 1668.8 280.5 1670.0 280.4 1671.2 280.4 1672.4 280.4 1673.6 280.4 1674.8 280.4 1676.0 280.4 1677.3 280.4 1678.5 280.3 1679.7 280.3 1680.9 280.3 1682.1 280.3 1683.3 280.3 1684.5 280.3 1685.7 280.3 1687.0 280.2 1688.2 280.2 1689.4 280.2 1690.6 280.2 1691.8 280.2 1693.0 280.1 1694.2 280.1 1695.4 280.1 1696.7 280.1 1697.9 280.1 1699.1 280.0 1700.3 280.0 1701.5 280.0 1702.7 279.9 1703.9 279.9 1705.1 279.9 1706.4 279.8 1707.6 279.7 1708.8 279.6 1710.0 279.5 1711.2 279.3 1712.4 279.2 1713.6 279.0 1714.8 278.8 1716.1 278.6 1717.3 278.4 1718.5 278.3 1719.7 278.1 1720.9 278.0 1722.1 277.9 1723.3 277.8 1724.5 277.7 1725.7 277.7 1727.0 277.6 1728.2 277.5 1729.4 277.4 1730.6 277.4 1731.8 277.3 1733.0 277.3 1734.2 277.2 1735.4 277.1 1736.7 277.1 1737.9 277.0 1739.1 277.0 1740.3 276.9 1741.5 276.8 1742.7 276.8 1743.9 276.7 1745.1 276.6 1746.4 276.6 1747.6 276.5 1748.8 276.4 1750.0 276.3 1751.2 276.3 1752.4 276.2 1753.6 276.1 1754.8 276.0 1756.1 275.9 1757.3 275.7 1758.5 275.6 1759.7 275.5 1760.9 275.4 1762.1 275.3 1763.3 275.2 1764.5 275.0 1765.7 274.9 1767.0 274.8 1768.2 274.7 1769.4 274.6 1770.6 274.4 1771.8 274.3 1773.0 274.2 1774.2 274.1 1775.4 274.0 1776.7 273.9 1777.9 273.8 1779.1 273.7 1780.3 273.6 1781.5 273.5 1782.7 273.4 1783.9 273.3 1785.1 273.2 1786.4 273.0 1787.6 272.9 1788.8 272.9 1790.0 272.8 1791.2 272.7 1792.4 272.7 1793.6 272.6 1794.8 272.6 1796.1 272.7 1797.3 272.8 1798.5 272.9 1799.7 273.1 1800.9 273.3 1802.1 273.5 1803.3 273.7 1804.5 273.9 1805.8 274.1 1807.0 274.4 1808.2 274.6 1809.4 274.8 1810.6 275.0 1811.8 275.2 1813.0 275.4 1814.2 275.6 1815.4 275.8 1816.7 276.0 1817.9 276.2 1819.1 276.4 1820.3 276.7 1821.5 276.9 1822.7 277.1 1823.9 277.3 1825.1 277.4 1826.4 277.6 1827.6 277.8 1828.8 277.9 1830.0 278.0 1831.2 278.1 1832.4 278.2 1833.6 278.3 1834.8 278.4 1836.1 278.5 1837.3 278.5 1838.5 278.6 1839.7 278.6 1840.9 278.6 1842.1 278.6 1843.3 278.6 1844.5 278.6 1845.8 278.5 1847.0 278.4 1848.2 278.4 1849.4 278.2 1850.6 278.1 1851.8 277.9 1853.0 277.6 1854.2 277.3 1855.4 276.9 1856.7 276.4 1857.9 275.9 1859.1 275.4 1860.3 274.7 1861.5 274.1 1862.7 273.3 1863.9 272.5 1865.1 271.6 1866.4 270.6 1867.6 269.5 1868.8 268.4 1870.0 267.1 1871.2 265.9 1872.4 264.5 1873.6 263.1 1874.8 261.6 1876.1 260.0 1877.3 258.4 1878.5 256.8 1879.7 255.2 1880.9 253.5 1882.1 251.9 1883.3 250.3 1884.5 248.7 1885.8 247.2 1887.0 245.7 1888.2 244.3 1889.4 243.0 1890.6 241.8 1891.8 240.8 1893.0 239.9 1894.2 239.1 1895.5 238.5 1896.7 238.1 1897.9 237.8 1899.1 237.8 1900.3Z" fill="#D95F02" stroke="#333" stroke-width="1.3"/>
<path d="M1745.0 1122.8 1744.9 1121.6 1744.7 1120.4 1744.3 1119.2 1743.8 1117.9 1743.1 1116.7 1742.4 1115.5 1741.4 1114.3 1740.4 1113.1 1739.3 1111.9 1738.1 1110.7 1736.8 1109.5 1735.4 1108.2 1734.0 1107.0 1732.5 1105.8 1731.0 1104.6 1729.5 1103.4 1728.0 1102.2 1726.5 1101.0 1725.0 1099.7 1723.6 1098.5 1722.2 1097.3 1720.8 1096.1 1719.5 1094.9 1718.2 1093.7 1717.0 1092.5 1715.8 1091.3 1714.7 1090.0 1713.7 1088.8 1712.8 1087.6 1711.9 1086.4 1711.1 1085.2 1710.3 1084.0 1709.6 1082.8 1709.0 1081.5 1708.4 1080.3 1707.9 1079.1 1707.4 1077.9 1707.0 1076.7 1706.6 1075.5 1706.3 1074.3 1706.0 1073.1 1705.7 1071.8 1705.5 1070.6 1705.3 1069.4 1705.2 1068.2 1705.2 1067.0 1705.1 1065.8 1705.1 1064.6 1705.0 1063.3 1705.0 1062.1 1705.0 1060.9 1705.0 1059.7 1705.1 1058.5 1705.1 1057.3 1705.1 1056.1 1705.2 1054.9 1705.2 1053.6 1705.3 1052.4 1705.4 1051.2 1705.5 1050.0 1705.6 1048.8 1705.7 1047.6 1705.8 1046.4 1705.9 1045.1 1706.0 1043.9 1706.1 1042.7 1706.3 1041.5 1706.4 1040.3 1706.6 1039.1 1706.9 1037.9 1707.1 1036.7 1707.4 1035.4 1707.7 1034.2 1708.0 1033.0 1708.3 1031.8 1708.6 1030.6 1708.9 1029.4 1709.3 1028.2 1709.6 1026.9 1709.9 1025.7 1710.2 1024.5 1710.5 1023.3 1710.8 1022.1 1711.0 1020.9 1711.3 1019.7 1711.5 1018.5 1711.8 1017.2 1712.0 1016.0 1712.3 1014.8 1712.5 1013.6 1712.8 1012.4 1713.0 1011.2 1713.3 1010.0 1713.5 1008.7 1713.6 1007.5 1713.8 1006.3 1713.9 1005.1 1713.9 1003.9 1713.9 1002.7 1713.9 1001.5 1713.8 1000.3 1713.7 999.0 1713.6 997.8 1713.5 996.6 1713.3 995.4 1713.1 994.2 1712.9 993.0 1712.7 991.8 1712.5 990.5 1712.2 989.3 1712.0 988.1 1711.7 986.9 1711.5 985.7 1711.2 984.5 1711.0 983.3 1710.7 982.1 1710.5 980.8 1710.3 979.6 1710.0 978.4 1709.8 977.2 1709.7 976.0 1709.5 974.8 1709.3 973.6 1709.2 972.3 1709.0 971.1 1708.9 969.9 1708.7 968.7 1708.5 967.5 1708.4 966.3 1708.2 965.1 1708.1 963.9 1708.0 962.6 1707.8 961.4 1707.7 960.2 1707.5 959.0 1707.4 957.8 1707.2 956.6 1707.1 955.4 1707.0 954.1 1706.8 952.9 1706.7 951.7 1706.6 950.5 1706.4 949.3 1706.3 948.1 1706.1 946.9 1706.0 945.7 1705.9 944.4 1705.8 943.2 1705.6 942.0 1705.5 940.8 1705.4 939.6 1705.2 938.4 1705.1 937.2 1705.0 935.9 1704.9 934.7 1704.7 933.5 1704.6 932.3 1704.5 931.1 1704.4 929.9 1704.2 928.7 1704.1 927.5 1704.0 926.2 1700.6 926.2 1700.5 927.5 1700.4 928.7 1700.2 929.9 1700.1 931.1 1700.0 932.3 1699.9 933.5 1699.7 934.7 1699.6 935.9 1699.5 937.2 1699.4 938.4 1699.2 939.6 1699.1 940.8 1699.0 942.0 1698.9 943.2 1698.7 944.4 1698.6 945.7 1698.5 946.9 1698.3 948.1 1698.2 949.3 1698.1 950.5 1697.9 951.7 1697.8 952.9 1697.6 954.1 1697.5 955.4 1697.4 956.6 1697.2 957.8 1697.1 959.0 1696.9 960.2 1696.8 961.4 1696.7 962.6 1696.5 963.9 1696.4 965.1 1696.2 966.3 1696.1 967.5 1695.9 968.7 1695.8 969.9 1695.6 971.1 1695.4 972.3 1695.3 973.6 1695.1 974.8 1695.0 976.0 1694.8 977.2 1694.6 978.4 1694.3 979.6 1694.1 980.8 1693.9 982.1 1693.6 983.3 1693.4 984.5 1693.1 985.7 1692.9 986.9 1692.6 988.1 1692.4 989.3 1692.2 990.5 1691.9 991.8 1691.7 993.0 1691.5 994.2 1691.3 995.4 1691.2 996.6 1691.0 997.8 1690.9 999.0 1690.8 1000.3 1690.7 1001.5 1690.7 1002.7 1690.7 1003.9 1690.8 1005.1 1690.9 1006.3 1691.0 1007.5 1691.2 1008.7 1691.4 1010.0 1691.6 1011.2 1691.8 1012.4 1692.1 1013.6 1692.3 1014.8 1692.6 1016.0 1692.9 1017.2 1693.1 1018.5 1693.3 1019.7 1693.6 1020.9 1693.8 1022.1 1694.1 1023.3 1694.4 1024.5 1694.7 1025.7 1695.0 1026.9 1695.3 1028.2 1695.7 1029.4 1696.0 1030.6 1696.3 1031.8 1696.6 1033.0 1696.9 1034.2 1697.2 1035.4 1697.5 1036.7 1697.7 1037.9 1698.0 1039.1 1698.2 1040.3 1698.3 1041.5 1698.5 1042.7 1698.6 1043.9 1698.7 1045.1 1698.9 1046.4 1699.0 1047.6 1699.1 1048.8 1699.1 1050.0 1699.2 1051.2 1699.3 1052.4 1699.4 1053.6 1699.4 1054.9 1699.5 1056.1 1699.5 1057.3 1699.6 1058.5 1699.6 1059.7 1699.6 1060.9 1699.6 1062.1 1699.6 1063.3 1699.6 1064.6 1699.5 1065.8 1699.5 1067.0 1699.4 1068.2 1699.3 1069.4 1699.1 1070.6 1698.9 1071.8 1698.6 1073.1 1698.3 1074.3 1698.0 1075.5 1697.6 1076.7 1697.2 1077.9 1696.7 1079.1 1696.2 1080.3 1695.6 1081.5 1695.0 1082.8 1694.3 1084.0 1693.6 1085.2 1692.7 1086.4 1691.9 1087.6 1690.9 1088.8 1689.9 1090.0 1688.8 1091.3 1687.7 1092.5 1686.4 1093.7 1685.2 1094.9 1683.8 1096.1 1682.5 1097.3 1681.0 1098.5 1679.6 1099.7 1678.1 1101.0 1676.6 1102.2 1675.1 1103.4 1673.6 1104.6 1672.1 1105.8 1670.6 1107.0 1669.2 1108.2 1667.8 1109.5 1666.5 1110.7 1665.3 1111.9 1664.2 1113.1 1663.2 1114.3 1662.3 1115.5 1661.5 1116.7 1660.8 1117.9 1660.3 1119.2 1659.9 1120.4 1659.7 1121.6 1659.6 1122.8Z" fill="#E6AB02" stroke="#333" stroke-width="1.3"/>
<path d="M522.8 377.0H608.1M146.1 727.8H231.4M240.9 727.8H326.1M335.6 727.8H420.9M430.4 727.8H515.7M525.1 727.8H610.4M714.6 727.8H799.9M242.8 1068.2H328.1M527.1 1068.2H612.4M811.5 1068.2H896.8M244.0 1544.5H329.1M527.8 1544.5H613.0M811.7 1544.5H896.8M142.6 1900.3H228.5M333.5 1900.3H419.4M429.0 1900.3H514.9M524.4 1900.3H610.3M619.9 1900.3H705.8M715.3 1900.3H801.2M810.8 1900.3H896.7M1184.0 397.8H1267.5M1276.7 397.8H1360.2M1369.4 397.8H1452.9M1462.2 397.8H1545.6M1554.9 397.8H1638.3M1647.6 397.8H1731.1M1740.3 397.8H1823.8M1833.0 397.8H1916.5M1183.7 764.0H1267.0M1276.3 764.0H1359.6M1368.9 764.0H1452.2M1461.4 764.0H1544.8M1554.0 764.0H1637.4M1646.6 764.0H1729.9M1739.2 764.0H1822.5M1831.8 764.0H1915.1M1185.6 1122.8H1270.9M1280.4 1122.8H1365.8M1375.2 1122.8H1460.6M1470.0 1122.8H1555.4M1564.8 1122.8H1650.2M1754.4 1122.8H1839.8M1849.3 1122.8H1934.6M1186.4 1471.5H1269.8M1279.0 1471.5H1362.4M1371.6 1471.5H1455.0M1464.3 1471.5H1547.6M1556.9 1471.5H1640.2M1649.5 1471.5H1732.9M1742.1 1471.5H1825.5M1834.7 1471.5H1918.1M1184.6 1686.2H1266.8M1275.9 1686.2H1358.1M1367.2 1686.2H1449.4M1458.5 1686.2H1540.7M1549.9 1686.2H1632.1M1641.2 1686.2H1723.4M1732.5 1686.2H1814.7M1823.8 1686.2H1906.0M1182.9 2187.7H1268.5M1278.0 2187.7H1363.6M1373.2 2187.7H1458.8M1468.3 2187.7H1553.9M1563.5 2187.7H1649.1M1658.6 2187.7H1744.2M1753.8 2187.7H1839.4M1848.9 2187.7H1934.5" stroke="#333" stroke-width="1.3" fill="none"/>
<path d="M565.5 377.0V120.2M188.8 727.8V528.7M283.5 727.8V525.1M378.3 727.8V467.2M473.0 727.8V496.1M567.8 727.8V504.1M757.3 727.8V589.5M285.4 1068.2V904.6M569.8 1068.2V787.9M854.1 1068.2V981.0M286.6 1544.5V1410.6M570.4 1544.5V1259.1M854.2 1544.5V1445.9M185.6 1900.3V1765.3M376.5 1900.3V1630.4M471.9 1900.3V1740.8M567.4 1900.3V1612.4M662.8 1900.3V1721.2M758.3 1900.3V1722.0M853.7 1900.3V1816.0M1318.5 397.8V112.0M1411.2 397.8V110.7M1503.9 397.8V152.5M1596.6 397.8V277.8M1503.1 764.0V585.9M1595.7 764.0V476.5M1228.3 1122.8V906.8M1323.1 1122.8V986.0M1417.9 1122.8V837.7M1512.7 1122.8V873.7M1607.5 1122.8V833.4M1797.1 1122.8V996.8M1320.7 1471.5V1264.7M1413.3 1471.5V1181.7M1320.8 2187.7V2100.4M1416.0 2187.7V2020.7M1511.1 2187.7V2020.7M1606.3 2187.7V1896.6M1701.4 2187.7V2027.5" stroke="#3a3a3a" stroke-width="1.6" fill="none"/>
<path d="M148.5 377.0H224.3M243.2 377.0H319.1M338.0 377.0H413.8M432.8 377.0H508.6M527.6 377.0H603.4M622.4 377.0H698.2M717.1 377.0H793.0M150.9 727.8H226.7M245.6 727.8H321.4M340.4 727.8H416.2M435.1 727.8H510.9M529.9 727.8H605.7M624.6 727.8H700.4M719.4 727.8H795.2M152.8 1068.2H228.6M247.5 1068.2H323.4M342.3 1068.2H418.1M437.1 1068.2H512.9M531.9 1068.2H607.7M626.7 1068.2H702.5M721.4 1068.2H797.3M154.1 1544.5H229.8M248.7 1544.5H324.4M343.3 1544.5H419.0M438.0 1544.5H513.6M532.6 1544.5H608.2M627.2 1544.5H702.9M721.8 1544.5H797.5M147.4 1900.3H223.8M242.8 1900.3H319.2M338.3 1900.3H414.7M433.7 1900.3H510.1M529.2 1900.3H605.6M624.6 1900.3H701.0M720.1 1900.3H796.5M1188.6 397.8H1262.8M1281.4 397.8H1355.5M1374.1 397.8H1448.3M1466.8 397.8H1541.0M1559.5 397.8H1633.7M1652.2 397.8H1726.4M1745.0 397.8H1819.1M1188.3 764.0H1262.4M1280.9 764.0H1355.0M1373.5 764.0H1447.6M1466.1 764.0H1540.1M1558.7 764.0H1632.7M1651.2 764.0H1725.3M1743.8 764.0H1817.9M1190.4 1122.8H1266.2M1285.2 1122.8H1361.0M1380.0 1122.8H1455.8M1474.8 1122.8H1550.6M1569.6 1122.8H1645.4M1664.4 1122.8H1740.2M1759.2 1122.8H1835.0M1191.0 1471.5H1265.1M1283.6 1471.5H1357.7M1376.3 1471.5H1450.4M1468.9 1471.5H1543.0M1561.5 1471.5H1635.6M1654.1 1471.5H1728.2M1746.8 1471.5H1820.9M1189.2 1686.2H1262.2M1280.5 1686.2H1353.5M1371.8 1686.2H1444.9M1463.1 1686.2H1536.2M1554.4 1686.2H1627.5M1645.7 1686.2H1718.8M1737.1 1686.2H1810.1M1187.6 2187.7H1263.7M1282.8 2187.7H1358.9M1377.9 2187.7H1454.0M1473.1 2187.7H1549.2M1568.2 2187.7H1644.3M1663.4 2187.7H1739.5M1758.5 2187.7H1834.6" stroke="#000" stroke-width="3.6" fill="none"/>
<path d="M147.8 209.7h2.1m-1.3 14.4h2.1m-3.2 17.4h2.1m-1.2 42.3h2.1m-2.7 2.8h2.1m51.2-144.6h2.1m-51 27h2.1m4.6 2h2.1m39.7 3.2h2.1m-2.6 1.4h2.1m-48.8 2h2.1m41.4 1.9h2.1m-39.3 0.2h2.1m0.4 1.2h2.1m24.4 1.1h2.1m-39.4 3.8h2.1m44.2 2h2.1m-9.7 1.1h2.1m-9.3 0.9h2.1m-35 0.9h2.1m38.4 0.8h2.1m-16.4 1.2h2.1m-12.8 0.2h2.1m25.1 0.7h2.1m-17.9 0.3h2.1m-29.7 0.9h2.1m5.4 1.3h2.1m10.4 0.8h2.1m18.5 1.4h2.1m-37.9 0h2.1m8.5 1.4h2.1m7.2 0.7h2.1m28.3 1.6h2.1m-34.7 1.3h2.1m-3.7 0.3h2.1m18.9 0.4h2.1m0.3 0.7h2.1m-4.1 0.5h2.1m-11.7 1h2.1m-4.5 0.3h2.1m22.3 0h2.1m-25.4 0.4h2.1m9.3 0.5h2.1m-36.8 1.9h2.1m45.3 0.3h2.1m-16.6 0.2h2.1m-3.3 0.9h2.1m4.3 0.1h2.1m-26.5 0.2h2.1m17.4 1.2h2.1m-21.6 0.5h2.1m8 1.8h2.1m5.4 0.1h2.1m15.6 1.4h2.1m-30.9 0h2.1m24.7 0.4h2.1m-9.6 0.8h2.1m6.5 0.6h2.1m-34.4 1h2.1m28.1 1h2.1m-28.3 0.4h2.1m-1.8 0.1h2.1m15.7 0.2h2.1m5.8 2.1h2.1m-26.6 0.2h2.1m10.1 0.1h2.1m10.6 0.6h2.1m-36.6 1.5h2.1m-0.3 0.2h2.1m1.5 0.4h2.1m2.2 0.1h2.1m18.2 0.2h2.1m-27.8 0.4h2.1m-8.9 0.5h2.1m23.9 0.1h2.1m-6.1 1.8h2.1m-35.1 0.4h2.1m11.7 0h2.1m-13.2 0.3h2.1m-6.9 0.1h2.1m16.7 0.3h2.1m11.8 0h2.1m17.2 0.2h2.1m-41.5 0.4h2.1m22.1 0.3h2.1m-32 0h2.1m17.7 1.2h2.1m4.5 0.1h2.1m2 0h2.1m-40.8 0.3h2.1m48.8 0.5h2.1m-12.7 0.2h2.1m-19.7 0.7h2.1m27.6 0.1h2.1m-25.1 1.5h2.1m-17 1.4h2.1m-5.5 0.4h2.1m-13.5 0.6h2.1m34.8 0.4h2.1m3.4 0.3h2.1m-30.8 0.3h2.1m-4 0.4h2.1m18.8 1h2.1m21.9 0.3h2.1m-54.4 0.9h2.1m31.9 0.1h2.1m-10.9 0h2.1m3.1 0.9h2.1m6.1 0.2h2.1m-14.6 0.2h2.1m-16.2 0h2.1m7.8 0.4h2.1m11.9 0h2.1m-26.5 0.4h2.1m-7.1 0h2.1m-4.9 0.4h2.1m41.3 0.2h2.1m-11.5 0.4h2.1m-45.1 0.6h2.1m15.8 0.9h2.1m-11.1 0.2h2.1m6.8 0.1h2.1m-0.3 0.1h2.1m-8.5 0.1h2.1m37.6 0.7h2.1m-25.3 1.6h2.1m20.8 0.8h2.1m-8.1 0.3h2.1m-4.7 0.1h2.1m-12.4 0.1h2.1m-20.6 0.6h2.1m-16.3 1h2.1m17.5 0.6h2.1m-18.8 0.9h2.1m46.5 0.7h2.1m-8.7 0.6h2.1m-5.6 1.5h2.1m-16.4 0.5h2.1m4.6 0h2.1m-25.4 1.4h2.1m8.2 2.4h2.1m20.1 1h2.1m4.7 0.6h2.1m-33.3 0.7h2.1m-16.1 1.2h2.1m8.9 1.1h2.1m23.2 0.2h2.1m-38.9 0.6h2.1m8.9 1.1h2.1m-2.8 0.7h2.1m36.4 0.3h2.1m-12.7 0.1h2.1m-6.7 0.6h2.1m-39.3 0.4h2.1m39.9 0.6h2.1m4.8 0.8h2.1m-38.5 0.6h2.1m28.3 0.1h2.1m-38 1.2h2.1m16.9 0.4h2.1m24 0.5h2.1m-50.3 0.5h2.1m10.9 0.9h2.1m-16.9 1.9h2.1m-6.5 0.2h2.1m18.4 0.1h2.1m-5.1 2.3h2.1m13.5 0.1h2.1m-22.1 1.3h2.1m9.9 0h2.1m16.6 0.5h2.1m-21.4 0.6h2.1m1.9 0.5h2.1m1.3 0.6h2.1m5.6 1h2.1m-11.5 0.3h2.1m-15.3 1.4h2.1m8.5 0.3h2.1m15 1h2.1m-43.9 0.3h2.1m2.6 0.9h2.1m11.7 3.1h2.1m20.2 0.6h2.1m-47.1 0.3h2.1m17.3 1.7h2.1m-11.6 0.2h2.1m8.9 4.5h2.1m9.3 1.9h2.1m-6.3 0.5h2.1m12.9 0.7h2.1m1.8 0.7h2.1m-7.7 8h2.1m-8.1 3.8h2.1m-34.2 1.6h2.1m24.9 215.5h2.1m21.7 52.1h2.1m-7.9 15.9h2.1m-14.7 2.2h2.1m-25.5 0.7h2.1m0.4 16h2.1m-8.1 7.2h2.1m43.9 21h2.1m-9.3 2.2h2.1m-10 3.6h2.1m13.3 0.7h2.1m-48.1 1.5h2.1m17.4 203.8h2.1m10.9 5.9h2.1m3.2 1h2.1m-31 0.4h2.1m-4.7 1h2.1m33.3 1h2.1m-41.4 3.3h2.1m-7.2 3.9h2.1m18.3 1.6h2.1m-0.7 0.7h2.1m29.2 1.8h2.1m-55.9 2.8h2.1m17.4 0.3h2.1m6.1 1.5h2.1m18.3 0.8h2.1m-35.3 2.3h2.1m17.2 0.7h2.1m-24.5 0.8h2.1m36.3 0.6h2.1m-45.9 0.3h2.1m-7.4 0.7h2.1m11.1 0.4h2.1m-0.3 1.1h2.1m-5.3 0.5h2.1m26.1 0.8h2.1m-15.5 1.6h2.1m-29.9 1.2h2.1m38.4 1.5h2.1m-7.6 0.3h2.1m14.4 0.2h2.1m-36.2 0.3h2.1m-4.3 0.5h2.1m17 0.6h2.1m-30.2 1.1h2.1m-2.8 0h2.1m0.2 0.9h2.1m13.5 0.6h2.1m-18.5 0.3h2.1m-1.4 0.1h2.1m-0.8 0.6h2.1m-1.2 0.4h2.1m37.3 0.9h2.1m-1.9 1h2.1m-44.6 0.4h2.1m25.4 0.6h2.1m-26.4 0.1h2.1m20.5 1.3h2.1m5.7 0.8h2.1m3.5 1h2.1m-0.4 0.2h2.1m-12.2 0.5h2.1m-29.8 0.5h2.1m-4.2 0.7h2.1m18.9 0.7h2.1m11.9 0.1h2.1m1.1 0.5h2.1m-31.9 0.6h2.1m12.5 0.2h2.1m-5.9 0.1h2.1m-27.7 0h2.1m37.4 0.1h2.1m-25 0.3h2.1m14 0.1h2.1m-33.8 0.7h2.1m30.3 0.3h2.1m-34.2 0.3h2.1m38.5 0.1h2.1m2.1 0.1h2.1m-15.5 0.1h2.1m-14 0.2h2.1m29.4 0.3h2.1m-8.3 0.1h2.1m-18.8 0.5h2.1m-4.3 0.3h2.1m-11.1 0.5h2.1m29.7 0.3h2.1m-40.4 0.1h2.1m-16.4 0.5h2.1m27.4 0.3h2.1m-25 0.2h2.1m2 0.6h2.1m17.6 0.3h2.1m-11.2 0.1h2.1m-18.3 0h2.1m43.2 0.1h2.1m-14.6 2.2h2.1m-9.8 0.1h2.1m7.8 0.2h2.1m-9.7 0.2h2.1m-12.5 0.2h2.1m20.2 0.2h2.1m-23.8 0.4h2.1m-4.2 0.1h2.1m1.7 0.4h2.1m-24.4 0.7h2.1m11.7 0.1h2.1m28.9 0.7h2.1m-22.2 0.2h2.1m-8.4 0.4h2.1m-12.9 0.3h2.1m-12.3 0.6h2.1m29.6 0.4h2.1m-3.9 0.5h2.1m-7.4 0.4h2.1m21.4 0.3h2.1m-47.1 0.3h2.1m10.7 0.4h2.1m20.9 0.9h2.1m-19.1 0.9h2.1m17.2 0h2.1m-28.3 0.2h2.1m-4.1 0h2.1m13.8 0.3h2.1m-27.3 0.1h2.1m38.2 0.2h2.1m0.8 0.3h2.1m-41.2 1h2.1m-9.8 0.1h2.1m41.2 0.3h2.1m-38.6 0h2.1m22.7 0.7h2.1m5 0h2.1m-21.1 0.2h2.1m15.2 0.2h2.1m9.8 0.1h2.1m-31.2 0.2h2.1m7.4 0.7h2.1m13.2 0.2h2.1m-20.3 0.2h2.1m6.1 0.2h2.1m10.9 0.6h2.1m-6 0.4h2.1m-5.6 0h2.1m-20.5 0.2h2.1m22.4 0.2h2.1m-24.9 0.5h2.1m5.8 0.3h2.1m-7.4 0h2.1m-11.6 0.7h2.1m-2.3 0.1h2.1m17.1 0.1h2.1m-31.9 0.2h2.1m20 0.1h2.1m-13.8 0.9h2.1m-11.4 0.4h2.1m4.7 0.6h2.1m29.6 0.1h2.1m-34.4 0.3h2.1m-2.8 0h2.1m-13.5 0.1h2.1m13.8 0h2.1m-5.1 0.4h2.1m7.3 0.1h2.1m10.8 0.9h2.1m-21.1 0.5h2.1m-12.8 0.1h2.1m-2 0.1h2.1m17.7 0h2.1m19.8 0h2.1m-28.4 0.1h2.1m3.4 0.2h2.1m19.6 0.8h2.1m-16.8 0h2.1m9.5 0.3h2.1m-4 0.2h2.1m-42.5 0h2.1m13.6 0.5h2.1m20.3 0h2.1m-14.1 0.4h2.1m-9.1 0.5h2.1m18.6 0.4h2.1m-10 0.7h2.1m-20.2 0.2h2.1m-14.4 0.3h2.1m16 0.6h2.1m18.3 0.2h2.1m-14.4 0.6h2.1m-25.2 0.1h2.1m30.1 0.2h2.1m-17.5 0.9h2.1m5.3 0.2h2.1m-34.8 1.4h2.1m27.3 0.2h2.1m7.3 0h2.1m-8.5 0.1h2.1m-6.8 0.2h2.1m8.7 0.1h2.1m-14 0.1h2.1m-2.6 0h2.1m13.7 0.4h2.1m-11.5 0.1h2.1m2.3 0.1h2.1m-1.4 0.2h2.1m-10.3 0.2h2.1m-9.4 0.3h2.1m6.9 0h2.1m-25.9 0h2.1m-1.1 0.1h2.1m30 1h2.1m-39.7 0.1h2.1m42.6 0h2.1m-27.7 0.3h2.1m24.2 0.3h2.1m-45.6 0.6h2.1m3.4 0.2h2.1m43.4 0.1h2.1m-25.5 0.5h2.1m-11 0.6h2.1m2.7 0h2.1m14.6 0.3h2.1m-13.1 0h2.1m-29.7 0.1h2.1m39.4 0.7h2.1m-40.7 0h2.1m20.2 0.1h2.1m7 0.1h2.1m-20.9 0h2.1m0.5 0h2.1m-7 0.3h2.1m13.5 1.4h2.1m12.6 0.3h2.1m-1 0.7h2.1m-23.2 0h2.1m-4.4 0.3h2.1m-27.8 0.2h2.1m42.7 0.3h2.1m-46.6 0.5h2.1m29.9 1.4h2.1m-17.7 0.4h2.1m6.7 0.1h2.1m-5.2 0.9h2.1m27.7 0h2.1m-44 0.2h2.1m-5.6 0.8h2.1m26.2 0.4h2.1m4.9 0.8h2.1m-32.6 0.1h2.1m37.2 0.2h2.1m-34.4 0.2h2.1m-22.6 0.3h2.1m22.7 0.3h2.1m-11.7 0.8h2.1m33.6 0h2.1m-44.9 0.5h2.1m39.6 0.1h2.1m-2.5 0.1h2.1m-34.9 0.5h2.1m9.6 0.5h2.1m-13.9 0.1h2.1m34.3 0.1h2.1m-48.4 0.5h2.1m43.8 0.1h2.1m-4.8 0.3h2.1m-21.4 0.3h2.1m-21.4 0.1h2.1m40.3 0h2.1m-10.9 0.3h2.1m-23.5 0.8h2.1m-23.8 1.3h2.1m17.3 0.2h2.1m-4.8 0.1h2.1m-6.1 0.4h2.1m22 0.3h2.1m-40.3 0.1h2.1m27.8 1.4h2.1m-7.1 2.2h2.1m7.8 0.2h2.1m-4.3 0.6h2.1m8.1 1.1h2.1m-15.2 0.1h2.1m-0.6 0.3h2.1m-2.8 1.1h2.1m16.3 1.4h2.1m-18.9 1.9h2.1m13.5 2.3h2.1m-7 0.2h2.1m-40 0.7h2.1m32.6 0.3h2.1m-6.9 1.2h2.1m-10.8 1.3h2.1m-28.9 1.7h2.1m30.2 0.2h2.1m-17.5 1.3h2.1m15.7 1.5h2.1m-27.2 0.2h2.1m38.1 0.6h2.1m-15.9 0h2.1m8.7 0.9h2.1m-7.8 0.5h2.1m-41.4 6.5h2.1m49.4 0.9h2.1m0 359.6h2.1m-27.2 3.9h2.1m4.1 3.1h2.1m-20.9 1.1h2.1m26.3 3.5h2.1m5 0.8h2.1m-13.5 1.5h2.1m-21.3 2.1h2.1m31.2 2.7h2.1m-23.4 1.6h2.1m-34.4 0h2.1m0.1 2.3h2.1m45 0h2.1m-12.3 0.8h2.1m-27.5 0.2h2.1m-4.5 0.1h2.1m-6.9 0.5h2.1m19.9 1.1h2.1m11.5 0.6h2.1m-6.9 0.7h2.1m4.8 0.1h2.1m-31.1 0h2.1m27 1.4h2.1m-9.2 0.5h2.1m6.7 0.4h2.1m2.5 1.3h2.1m-6.9 1.1h2.1m4.7 0h2.1m-27.9 0.2h2.1m13.2 0.8h2.1m8.9 0h2.1m-16.9 0.1h2.1m-32.3 0.3h2.1m24.8 0.2h2.1m-38.3 1h2.1m41.4 0.8h2.1m-10 0.3h2.1m-3.3 0.2h2.1m-12 0.8h2.1m-24.9 0.7h2.1m2.5 0.5h2.1m26.6 0.4h2.1m-3.9 0.1h2.1m-16.2 0.3h2.1m21.4 0.5h2.1m-2.1 0.3h2.1m-7 0.9h2.1m-32.9 0.8h2.1m44.2 1.1h2.1m-10.1 0.6h2.1m6.2 1.1h2.1m-7.2 0.5h2.1m-35.1 0.1h2.1m4.5 0.1h2.1m4.6 0.5h2.1m15.4 0.9h2.1m-18.9 0h2.1m-23.5 0.2h2.1m22 0.3h2.1m18 0.2h2.1m-39.1 0.5h2.1m21.6 1.9h2.1m-35.6 0.3h2.1m17.5 0.6h2.1m-14.6 0.2h2.1m39 0.1h2.1m-27.5 0h2.1m-4.4 0.8h2.1m7.6 0.4h2.1m-3.8 1h2.1m3.1 0h2.1m5.2 0.1h2.1m1.9 0.1h2.1m-47 0h2.1m31.1 0.1h2.1m10.6 1.3h2.1m-47.3 0.5h2.1m15.1 0.1h2.1m29.6 1.1h2.1m-5.7 0.6h2.1m-34.7 3h2.1m29.9 0.7h2.1m-33.4 0.5h2.1m-8.6 0.1h2.1m-14.4 0.3h2.1m15.5 0.2h2.1m17.8 0.1h2.1m-15.5 0.3h2.1m-3.7 0.3h2.1m-3 0.4h2.1m8.9 0.2h2.1m-18.4 0.2h2.1m20.5 0.1h2.1m-20.8 0.3h2.1m10.4 0.3h2.1m-22 0.1h2.1m0.5 0.3h2.1m-10.5 0.2h2.1m36.8 0.3h2.1m-15.5 0.2h2.1m-26.4 1.4h2.1m-8.2 0h2.1m-0.4 0.3h2.1m36.1 0.4h2.1m-27.4 0.6h2.1m5.7 0.2h2.1m-21.3 0.9h2.1m-4.9 0.2h2.1m47 0.2h2.1m-48.3 0.1h2.1m7.5 2h2.1m36 0.3h2.1m-3.7 0.1h2.1m-21.9 0.2h2.1m-24.8 0.2h2.1m42.2 0.7h2.1m-6 0.6h2.1m-36.5 0.2h2.1m-15.1 0.1h2.1m31.9 0.1h2.1m-1.6 0.7h2.1m-13.2 0.6h2.1m-21.7 0h2.1m29.2 0.5h2.1m-12.9 0.9h2.1m-25.5 0.2h2.1m0.6 0.3h2.1m-5.5 2h2.1m32.4 0.6h2.1m-12.2 0.7h2.1m25.5 0h2.1m-10.2 0h2.1m-5.5 0.4h2.1m5.9 0.2h2.1m-29.9 0.3h2.1m-19.5 0.1h2.1m22.4 0.3h2.1m20.4 0.7h2.1m-24.9 0.1h2.1m11.8 0.6h2.1m-2.5 1.5h2.1m-28.8 0.1h2.1m-5.5 0.5h2.1m32 2.2h2.1m-48.1 1h2.1m31.7 0.2h2.1m-19.6 0.1h2.1m34.1 0h2.1m-22.6 2.1h2.1m10.4 1.3h2.1m-26.2 0.3h2.1m-15.1 0.3h2.1m25.4 2.6h2.1m-30 3.1h2.1m22.2 0.1h2.1m-28.8 0.2h2.1m42.3 0.6h2.1m-20.3 1.3h2.1m-23.5 0.1h2.1m-5 1.5h2.1m15.1 1.5h2.1m25.5 1.6h2.1m-30 2h2.1m-13.8 0.1h2.1m10.8 0.2h2.1m2.2 2.2h2.1m-23.3 0h2.1m27.7 0.2h2.1m-40.4 5.3h2.1m5.6 284.3h2.1m78.7-1634h2.1m9.5 1.7h2.1m-0.5 17h2.1m-35.8 2.2h2.1m-2.2 7.4h2.1m32.9 3.5h2.1m0.8 1.1h2.1m-18 3.8h2.1m-2.3 0.3h2.1m12.1 0.5h2.1m-7.2 0.1h2.1m1.3 4.7h2.1m-13.7 0h2.1m-0.3 0.9h2.1m3.3 2.1h2.1m-4.2 1.2h2.1m-8.4 1.5h2.1m13 2.1h2.1m-4.1 0.3h2.1m-10.7 0.9h2.1m0.9 0.7h2.1m4.3 0.1h2.1m1.3 1.8h2.1m-17.6 2.3h2.1m-32.3 0.4h2.1m36.1 1.1h2.1m7.3 0.5h2.1m-18.2 0.5h2.1m13 0.6h2.1m-18.6 0h2.1m-3 0.7h2.1m16.5 0.4h2.1m-20.3 0.6h2.1m0.3 0.1h2.1m-37.3 0.2h2.1m53.4 2h2.1m-23.3 0.3h2.1m2.5 0.5h2.1m5.9 0.2h2.1m3.2 0.2h2.1m1 0.4h2.1m-10.8 0.9h2.1m-16.3 0.9h2.1m7 0.7h2.1m1.2 0.3h2.1m-14.8 0.7h2.1m12.2 0h2.1m1 0.7h2.1m-15.1 1.1h2.1m-4.4 0.5h2.1m9.8 0.7h2.1m6.3 0h2.1m-2.7 0.1h2.1m-20.2 1h2.1m-2.5 0h2.1m1.9 2.4h2.1m1.1 0.2h2.1m-0 0.2h2.1m-6.8 0.1h2.1m-9.5 0.2h2.1m4.2 0.1h2.1m7.6 0.9h2.1m-15 0.4h2.1m4.7 0.4h2.1m-38.5 0.1h2.1m26.2 0.2h2.1m-4.4 0.2h2.1m-29.9 1.7h2.1m38.3 0.1h2.1m0.7 0.1h2.1m-40.9 0.1h2.1m20.2 0h2.1m18.8 0.1h2.1m-23.1 0h2.1m4.6 0.1h2.1m16 0.4h2.1m-54.8 0.2h2.1m42.6 0h2.1m-40.6 0.3h2.1m43.4 0.7h2.1m-18.9 0h2.1m9 0.4h2.1m2.5 0.3h2.1m-5.4 0.3h2.1m-1.4 0.3h2.1m-4.7 0.6h2.1m-18.6 0.5h2.1m18.6 0.5h2.1m-19.6 0.6h2.1m-34.7 0.3h2.1m25 0.1h2.1m19.4 0.4h2.1m-6.7 0.4h2.1m-10.8 0.4h2.1m14.1 0.3h2.1m-17.1 0.3h2.1m5.8 0.7h2.1m-8.8 0.1h2.1m8.8 0.1h2.1m-18.9 0.4h2.1m-33 0.1h2.1m43.7 0h2.1m1.4 0.2h2.1m-9.2 1.4h2.1m-4.7 0.2h2.1m2.2 0h2.1m-1.2 0.9h2.1m-6.2 0h2.1m3.6 0.3h2.1m-10.1 0h2.1m8.5 0.7h2.1m-22.3 0.9h2.1m16 0.1h2.1m-7.3 0h2.1m-12.8 0.1h2.1m9.8 0.1h2.1m-14.3 0h2.1m13.2 0.1h2.1m-15.8 0.8h2.1m-35.3 0.2h2.1m42.9 0.1h2.1m4.8 0.1h2.1m-25.4 0.6h2.1m-25.8 0.3h2.1m25 0h2.1m8.9 0.1h2.1m-10.3 0.4h2.1m8.3 0.3h2.1m-49.1 0.6h2.1m38.1 0.1h2.1m-34.7 0.5h2.1m36.3 0h2.1m-8.8 0h2.1m-11 0h2.1m-2.2 0.5h2.1m2.8 0.1h2.1m10.2 0.8h2.1m-20.8 0.4h2.1m20.3 0.3h2.1m-18.5 0.1h2.1m9.6 0.4h2.1m-18.4 0.1h2.1m6.7 0.5h2.1m-5.4 0.1h2.1m9.6 0.1h2.1m3.8 0h2.1m-9.3 0h2.1m2.4 0.4h2.1m-0.9 0.3h2.1m-14.4 0.2h2.1m8.2 0.9h2.1m3.1 0h2.1m-17.8 0.1h2.1m5.2 0.2h2.1m6.8 0h2.1m-4.8 0.3h2.1m-10.3 0h2.1m5.1 0.2h2.1m-19.4 0.1h2.1m9.4 0.1h2.1m-19.2 0.2h2.1m21.8 0.4h2.1m-5 0.2h2.1m0.4 0.3h2.1m-17.2 0.3h2.1m14.5 0.1h2.1m-22.3 0.2h2.1m0.8 0.1h2.1m-4.6 0.2h2.1m-39.3 0.1h2.1m53.1 0.1h2.1m0.3 0h2.1m-24.4 0.1h2.1m18.7 0.2h2.1m-18.5 0h2.1m-8.7 0.1h2.1m9.3 0.2h2.1m-43.3 0.2h2.1m36.8 0.3h2.1m-4.8 0.6h2.1m-9.3 0.6h2.1m9.7 0.3h2.1m11.3 0.1h2.1m-11.2 0h2.1m-13.8 0.4h2.1m14.4 0h2.1m-6.9 0.2h2.1m-4.2 0h2.1m4.6 0.1h2.1m-4.9 0.1h2.1m-7.8 0.4h2.1m5.6 0.2h2.1m-10 0h2.1m-2.8 0.1h2.1m-8.7 0.5h2.1m11.7 0.2h2.1m-8.6 0h2.1m11.5 0.1h2.1m-4.8 0.1h2.1m-51.7 0.2h2.1m2.6 0.3h2.1m38.4 0.1h2.1m-8.4 0.2h2.1m8.6 0.1h2.1m-16.7 0.1h2.1m-4.5 0h2.1m12.1 0.2h2.1m-15 0.2h2.1m14.2 0.1h2.1m-54.3 0.3h2.1m51.7 0.1h2.1m-26.7 0h2.1m13.3 0.2h2.1m-11.7 0.1h2.1m-28.2 0.4h2.1m17.6 0.3h2.1m18.2 0h2.1m3.1 0.6h2.1m-4 0.2h2.1m-3.1 0.5h2.1m-5 0.8h2.1m-4.1 0h2.1m-2.9 0.4h2.1m-7 0.2h2.1m-3.3 0h2.1m-1.1 0.4h2.1m-1.5 0.6h2.1m11.2 0h2.1m-24.7 0.1h2.1m-3.9 0.2h2.1m3.9 0.4h2.1m0 0.4h2.1m0.2 0h2.1m-13.7 0h2.1m23.7 0.2h2.1m-4.4 0.1h2.1m-10.9 0.5h2.1m-1.7 0.2h2.1m-11.7 0.2h2.1m3.5 0.2h2.1m2.2 0h2.1m-15.6 0.1h2.1m13.6 0.2h2.1m-7.9 0.1h2.1m-4.4 0h2.1m-9.3 0.1h2.1m-1.3 0.1h2.1m-3.7 0.3h2.1m10.8 0.1h2.1m0.3 0h2.1m-5.5 0.1h2.1m-2.3 0.7h2.1m6.1 0.4h2.1m0.8 0.1h2.1m-8.5 0.5h2.1m-1.6 0.2h2.1m-3.2 0.2h2.1m-3.1 0.2h2.1m-7.1 0.2h2.1m-1.7 0.1h2.1m-8.8 0.5h2.1m2.5 0.1h2.1m-39.1 0.3h2.1m40.2 0h2.1m-11.6 0.2h2.1m10.4 0h2.1m-12.3 0.1h2.1m7.3 0.4h2.1m-1.3 0h2.1m-0.3 0.2h2.1m-11.7 0.2h2.1m-6.7 0h2.1m-4.7 0.5h2.1m7 0h2.1m7.7 0.5h2.1m-19.4 0.6h2.1m-2.7 0.5h2.1m4.4 0h2.1m2.5 0.3h2.1m-10.5 0.2h2.1m17.3 0h2.1m-3.3 0.1h2.1m-6.2 0.2h2.1m-7.9 0.2h2.1m-6.1 0.1h2.1m7.7 0.4h2.1m-54.4 0.2h2.1m37.2 0.2h2.1m9.3 0.2h2.1m-7.3 0.1h2.1m-14.5 0.1h2.1m22.7 0.2h2.1m-17.1 0.1h2.1m-33.1 0.7h2.1m41.3 0.5h2.1m-19.4 0h2.1m11.2 0.2h2.1m-6.8 1.1h2.1m-7.5 0.4h2.1m-9.3 0.3h2.1m-35.4 0.1h2.1m49.9 0.3h2.1m-13.6 0h2.1m-43.7 0.3h2.1m51.4 0.1h2.1m-6.8 0.4h2.1m-4.5 0.4h2.1m5.9 0.1h2.1m-22.5 0.1h2.1m0.9 0.3h2.1m13.8 0.3h2.1m-18.3 0h2.1m19.2 0.1h2.1m-6.9 0.1h2.1m-53.4 0.2h2.1m45.9 0.1h2.1m-13.7 0h2.1m8.3 0.6h2.1m-9 0.9h2.1m7.7 0.2h2.1m-12.6 0.3h2.1m7.5 0h2.1m-1 0.4h2.1m2.7 0.2h2.1m-20.7 0.1h2.1m-4 0h2.1m18.7 0.1h2.1m-25.7 0.1h2.1m19.8 0.1h2.1m-17.6 0h2.1m3.7 0.3h2.1m-10 0.5h2.1m-36.3 0.1h2.1m30 0.8h2.1m-25.4 0.1h2.1m18.1 1.1h2.1m-26.6 0h2.1m42.5 0.3h2.1m0.4 0.4h2.1m-15.3 0.2h2.1m11.9 0h2.1m-16.5 0.2h2.1m10.7 0h2.1m-9.1 0.4h2.1m6 0.4h2.1m-15.6 0.5h2.1m-8.6 1.8h2.1m10.6 0.2h2.1m-5.9 0.9h2.1m2.2 0.6h2.1m-17.1 0.2h2.1m15.2 0.4h2.1m3.7 0.1h2.1m-22.6 0.4h2.1m13.9 0.1h2.1m-16.8 0.4h2.1m18.4 0.4h2.1m-21.7 0.5h2.1m-4.4 1h2.1m3.5 0.1h2.1m9.6 0.1h2.1m-14.9 1.1h2.1m7.7 0.2h2.1m-52.5 0.7h2.1m36.8 0.8h2.1m14.9 0.3h2.1m-8.2 0h2.1m-45.8 0.7h2.1m23.6 0.1h2.1m20.5 0.5h2.1m-10.7 0.1h2.1m1.6 0.3h2.1m-18.2 0.1h2.1m8 0.1h2.1m2.8 0h2.1m4.5 0.7h2.1m-18.5 0.9h2.1m13.9 0.5h2.1m-3.4 0.5h2.1m-50.4 1.2h2.1m27.1 0.5h2.1m-35.4 0.8h2.1m33.3 1.4h2.1m10.4 0.4h2.1m-11.3 0.5h2.1m-4.4 0.1h2.1m8.6 0.5h2.1m-17.1 0.6h2.1m7.5 0.1h2.1m0.9 0.2h2.1m-7.6 0.8h2.1m8.2 0.3h2.1m-9.1 0.1h2.1m4 0h2.1m-13.6 0.4h2.1m1.9 0.8h2.1m5.7 0.5h2.1m-10.8 0.4h2.1m-8.7 2.2h2.1m21.6 0.1h2.1m-6.4 1.9h2.1m-12.5 0.6h2.1m-43.3 2.1h2.1m39.9 0.7h2.1m-6.7 0.4h2.1m4 0.8h2.1m-2.2 0.7h2.1m-4.8 0.2h2.1m-3 3.3h2.1m-36.4 0.6h2.1m37.6 2.7h2.1m-1.8 2.3h2.1m0.4 1.1h2.1m-12.4 4.2h2.1m-3.5 226.4h2.1m2.9 6.8h2.1m-41.1 15.5h2.1m36.4 7.9h2.1m-43 11.6h2.1m45.6 5.4h2.1m-13 1.2h2.1m15.2 4.1h2.1m-24.1 0.3h2.1m6.9 0.4h2.1m5.5 0h2.1m-10.4 4.7h2.1m6.4 2h2.1m-2 0.2h2.1m-12.8 2h2.1m15 0.2h2.1m-8.1 1.1h2.1m1.6 0.6h2.1m-14.7 0.7h2.1m7.7 0.7h2.1m-6.1 1.3h2.1m-15.4 1.3h2.1m8.7 1.7h2.1m-3.4 0.3h2.1m-7.1 1.4h2.1m9.3 0h2.1m4.1 0.8h2.1m-5.5 0.1h2.1m-4 0.2h2.1m-15.9 0.2h2.1m-4.7 0.6h2.1m5.3 0.7h2.1m4.6 4.5h2.1m-1.3 0h2.1m-13.9 1.3h2.1m11 0h2.1m-13.3 2.7h2.1m11.1 0.4h2.1m-18 0.5h2.1m0 0.1h2.1m15.2 0.3h2.1m-14.3 0.2h2.1m-2 0.5h2.1m3.8 0h2.1m-3 0.2h2.1m-18.1 0h2.1m10.4 0.4h2.1m9.1 0.1h2.1m-25.8 0.3h2.1m1.2 0.3h2.1m8.3 1h2.1m-13.6 0.1h2.1m19.3 0.4h2.1m-20.8 0h2.1m14.9 0.1h2.1m-19.7 1.8h2.1m4 0.5h2.1m5.2 4.6h2.1m-5.7 0.4h2.1m-3.5 1h2.1m-4.7 1.1h2.1m9.7 0.8h2.1m-4.1 0.4h2.1m-11.5 1.2h2.1m3.9 1.6h2.1m-17.5 0.3h2.1m-2.4 0.9h2.1m18.9 0.6h2.1m-1.7 0.6h2.1m-50.4 2.3h2.1m24 0.3h2.1m1.8 0.4h2.1m2.5 0h2.1m11.3 1.8h2.1m-18.3 0.4h2.1m15.5 2.2h2.1m-22.3 1.1h2.1m-2.9 0.1h2.1m1.3 0.2h2.1m1.3 4h2.1m11.2 1.4h2.1m-16.9 2.6h2.1m-3.6 2.4h2.1m-29 194.8h2.1m-7.9 0.4h2.1m-7.9 9.5h2.1m11.1 0.4h2.1m-3.7 6.7h2.1m-16.5 1.1h2.1m4.4 1.6h2.1m-3.8 3.8h2.1m4.9 0.6h2.1m-13.3 0.9h2.1m11 1.9h2.1m-3.3 0.3h2.1m-5.3 1.1h2.1m-7.9 0.3h2.1m10.5 1.9h2.1m-17.2 1.2h2.1m9.4 0.1h2.1m-12.1 3h2.1m-4.4 4.6h2.1m2.4 1.9h2.1m-3.5 1.5h2.1m-0.1 0.4h2.1m1.6 0.8h2.1m-8.9 2.7h2.1m2.7 0.3h2.1m-1.4 1.2h2.1m3.5 1.5h2.1m-15.8 0.8h2.1m5.4 1.1h2.1m8.3 0.7h2.1m-6.6 1h2.1m-15 3.3h2.1m6.6 1.1h2.1m-2.6 2h2.1m1.8 1.9h2.1m-9.2 0.8h2.1m-0.1 0.2h2.1m3.8 0.3h2.1m-10.6 0.8h2.1m-2.4 0.8h2.1m5.3 1.1h2.1m-11 2.2h2.1m1.2 0.2h2.1m1.2 0.1h2.1m-1 0.5h2.1m3.7 0.8h2.1m-14 2.5h2.1m6.9 1.3h2.1m-10.4 0.8h2.1m41 1.2h2.1m-45.7 0.6h2.1m-5.2 0.6h2.1m14.3 0.5h2.1m-18 0.8h2.1m34.8 0.4h2.1m7 0.3h2.1m-47 0.5h2.1m9 1.8h2.1m-1.5 0.5h2.1m-6.5 3.1h2.1m-4.4 1.4h2.1m-3 0.9h2.1m42.8 0.8h2.1m-8.4 0.4h2.1m-33 1.3h2.1m38.1 0.5h2.1m-4 1.3h2.1m-49.9 0.4h2.1m48.9 0.3h2.1m-53.4 1h2.1m40.8 1.3h2.1m-42 2.8h2.1m-5.4 0.5h2.1m-1 0h2.1m46.2 0h2.1m-49 0.3h2.1m47.8 0.1h2.1m-54.5 0.7h2.1m45.9 0.1h2.1m-48.3 0.1h2.1m3.2 0.3h2.1m3.7 1.2h2.1m27.7 0.7h2.1m-39.7 0h2.1m37 0.2h2.1m-49.6 0h2.1m40.5 0.1h2.1m-43.2 0.8h2.1m46.8 0.2h2.1m3.7 0.1h2.1m-18.4 0.2h2.1m2.4 1h2.1m-10.7 1.9h2.1m5.4 0.1h2.1m-3.9 0.6h2.1m-35.6 0.1h2.1m34.3 0.3h2.1m-44.2 0.4h2.1m6.7 0.6h2.1m43.4 0.5h2.1m-7.4 0.1h2.1m-8.8 0.2h2.1m5.6 0.7h2.1m-55.4 0.3h2.1m39.6 0.1h2.1m-34.9 0.5h2.1m-9 0.2h2.1m0.2 0.1h2.1m40.1 0.2h2.1m-1.8 0.3h2.1m-42 1.4h2.1m1 0.1h2.1m24.7 0.7h2.1m1.3 1.3h2.1m10.2 0.5h2.1m-9.9 0.3h2.1m-6.3 0.2h2.1m-36.7 0.3h2.1m4.5 0.2h2.1m31.6 1.5h2.1m10.5 0.6h2.1m-44.2 0.1h2.1m37.9 0.9h2.1m-10.1 1.6h2.1m-9.3 0.5h2.1m-35.8 0.3h2.1m48.7 0.4h2.1m-17.5 0.6h2.1m1.9 0.9h2.1m5 0.8h2.1m-10.9 0.2h2.1m-42.4 0.5h2.1m33.1 0.5h2.1m11.5 1.6h2.1m-15.6 0.5h2.1m0.2 0.1h2.1m-8 0.8h2.1m6.1 1h2.1m-3.4 1.9h2.1m-7.5 0h2.1m3.7 0.9h2.1m-38.7 0.3h2.1m37.3 3.2h2.1m-10.2 1.5h2.1m-41 1.1h2.1m34.7 0.4h2.1m3 0.3h2.1m-2.7 0h2.1m11.4 0.3h2.1m-12.3 4.9h2.1m2.8 0.5h2.1m-2.2 2.9h2.1m7 3.8h2.1m-22 3h2.1m-36.7 339.3h2.1m3 10.1h2.1m-0.1 2.7h2.1m-12.8 2h2.1m9.6 9.1h2.1m-0.6 3.6h2.1m-8.1 1.4h2.1m-4.6 2.6h2.1m3.1 1.2h2.1m-11.9 1h2.1m3.1 3h2.1m1.6 1.4h2.1m-6.6 0h2.1m9.2 0.6h2.1m-8.5 3.6h2.1m-9.8 0.9h2.1m12.6 0.2h2.1m-1.8 5.8h2.1m-7.6 0.7h2.1m-1 6.4h2.1m-3.1 0.2h2.1m0.4 2.9h2.1m-4.8 0.2h2.1m-13.7 1.5h2.1m15.6 0.8h2.1m-3.1 2.5h2.1m-5 1.6h2.1m-3.2 0.6h2.1m-3.7 0.5h2.1m0.8 1.3h2.1m-0.5 1.1h2.1m-4.6 0.1h2.1m-15.7 0.6h2.1m14 0.3h2.1m-5.3 0.6h2.1m-5.9 0.3h2.1m0.5 0.2h2.1m4.8 0h2.1m-20.6 1.9h2.1m11.3 1.8h2.1m-1.4 1.2h2.1m-4.5 4.5h2.1m32.1 0.6h2.1m-38.7 2.6h2.1m-9.8 1.3h2.1m51.3 2.6h2.1m-56 3.5h2.1m16 0.5h2.1m-8.2 3.2h2.1m3.2 0.4h2.1m-12.7 8.9h2.1m-9.8 1.3h2.1m8.8 0.3h2.1m40.2 24.4h2.1m3 13h2.1m-2.8 200.3h2.1m-11.2 14.7h2.1m8.5 3.5h2.1m-7.7 0.3h2.1m-1.4 3h2.1m-16.4 5.5h2.1m10.4 0.2h2.1m-11.7 1.7h2.1m5 1.7h2.1m-9.4 1.3h2.1m2.1 0.2h2.1m-3.3 1.1h2.1m-13.5 0h2.1m13.1 2.3h2.1m4.8 0.4h2.1m-20.3 1.5h2.1m4.5 0.6h2.1m11.5 4.5h2.1m-22.9 1.1h2.1m-4.2 0.9h2.1m17.4 1h2.1m-15.5 0h2.1m14.1 0.1h2.1m-22.8 0.2h2.1m6.2 1.3h2.1m-13.9 1.6h2.1m7.5 0.7h2.1m8.5 0.5h2.1m0 0.4h2.1m-9.2 1.5h2.1m-17.8 2.4h2.1m4.6 0.4h2.1m3.8 0.4h2.1m-0.7 0.8h2.1m4.1 1.5h2.1m-16.9 0h2.1m12.5 1.3h2.1m-9.7 0.2h2.1m10.1 1.2h2.1m-7.6 0.9h2.1m-15.5 1.2h2.1m3.4 0.3h2.1m7 0.1h2.1m-8.8 1.1h2.1m1.1 1.6h2.1m2.6 0.4h2.1m-13 0.5h2.1m-2.8 0.9h2.1m3.9 0h2.1m-17.2 0.3h2.1m-2.7 0.8h2.1m15.8 0.6h2.1m5.3 0.3h2.1m-23.3 0.1h2.1m5.8 0h2.1m8.5 0.5h2.1m-4.3 1.3h2.1m-9 0.4h2.1m-1.2 0.1h2.1m4 0.4h2.1m-11.4 0.5h2.1m9 0.2h2.1m-22.9 0.5h2.1m20.6 0.2h2.1m-7.8 0.9h2.1m-18.8 1h2.1m9.3 0.1h2.1m-3.9 0.6h2.1m-0.7 1.3h2.1m-12.4 0.2h2.1m-5.2 0.2h2.1m20 0.6h2.1m-14.3 0.7h2.1m-0.3 0.1h2.1m-13.6 0.4h2.1m3.7 1.4h2.1m4.9 0.1h2.1m-4.4 1.2h2.1m-9.9 0.6h2.1m7.9 0.5h2.1m-8.4 0.4h2.1m13.5 0.8h2.1m-20.5 0h2.1m-3.3 0h2.1m16.5 1.3h2.1m-21.5 0.3h2.1m15.3 0.1h2.1m-7.7 0.7h2.1m6.5 1h2.1m0.7 0.1h2.1m-25 0.7h2.1m4.4 0.1h2.1m13.4 0.9h2.1m-11.9 0.2h2.1m-3.6 0.1h2.1m2.8 0.2h2.1m-13 0h2.1m10.4 0.5h2.1m-3.6 1.7h2.1m-14.9 0.6h2.1m-4.3 1.6h2.1m17.8 0.2h2.1m-1.2 0.2h2.1m-9.7 0.2h2.1m-13.7 0.3h2.1m-1.4 0h2.1m17.7 0.2h2.1m-11.1 0h2.1m-5.9 0.9h2.1m-12.9 0.4h2.1m-1 0.4h2.1m9.3 1.3h2.1m-5.4 0.1h2.1m2.3 0.6h2.1m-1.6 0.2h2.1m-11.5 1.1h2.1m14.2 0h2.1m-17.1 0.1h2.1m-3.8 0.1h2.1m10.5 0.2h2.1m2.2 0.9h2.1m-4.1 1.6h2.1m-20.3 0.3h2.1m15.6 1.3h2.1m-10.2 0.8h2.1m0.7 0h2.1m-2.8 0.3h2.1m-12.5 0h2.1m8.5 0.3h2.1m-3.1 0.4h2.1m0.6 0.8h2.1m-17.8 0.3h2.1m6.3 0.2h2.1m-9.5 0.7h2.1m21.6 0.2h2.1m-11.8 1.1h2.1m0.9 0.5h2.1m5.3 0.2h2.1m-60.3 2.1h2.1m50.9 1.6h2.1m-13 0.3h2.1m13.7 0.4h2.1m-7.9 0.2h2.1m-17.4 0.6h2.1m7 3.9h2.1m2.8 0.7h2.1m-13.9 2.3h2.1m3.4 1.2h2.1m12.3 5.6h2.1m-21.1 1.3h2.1m14.1 4h2.1m-13.9 1.1h2.1m17.9-1712.6h2.1m0.9 6.6h2.1m-7.4 1.7h2.1m2.5 0.7h2.1m-1 5.9h2.1m-5.4 5.5h2.1m3.2 2.7h2.1m10.3 0.4h2.1m-8.8 4.3h2.1m-0.7 1.7h2.1m-0 2.6h2.1m3.9 1.5h2.1m9.4 2.3h2.1m-18.3 0.2h2.1m13.4 1.2h2.1m9.2 1h2.1m-44.8 3.2h2.1m7.4 0.7h2.1m-13.2 1.7h2.1m12.9 0.8h2.1m-14.4 1.6h2.1m-0.7 1.2h2.1m-7.2 0h2.1m38.3 0.5h2.1m-14.1 0.7h2.1m11.4 0.7h2.1m-14.8 0.1h2.1m-18.8 0h2.1m-10.9 1.2h2.1m-0.9 0.4h2.1m1.1 0h2.1m22 0.4h2.1m-27.6 0.3h2.1m13.9 0.6h2.1m-2.5 0.1h2.1m15 0.4h2.1m-26.1 0.2h2.1m19.4 1.3h2.1m-17.6 0.3h2.1m20.9 0h2.1m-6.8 0.1h2.1m3.2 0.4h2.1m-32.7 0.4h2.1m9.2 0.5h2.1m-6.5 2.3h2.1m-16.8 0h2.1m3.9 0.3h2.1m30.8 0h2.1m-15.9 0.1h2.1m2.5 0.5h2.1m-24.9 0.9h2.1m26.9 1.6h2.1m-46.1 0.3h2.1m44.7 0.6h2.1m-11 0.5h2.1m-14.6 0.1h2.1m-17.4 0.4h2.1m22.8 0.4h2.1m-15.9 1.1h2.1m-10.9 0.6h2.1m8.4 0.1h2.1m11.6 0.1h2.1m-1.2 0.5h2.1m-35.7 0.2h2.1m20.2 0.1h2.1m-15.2 0.4h2.1m9.2 0.1h2.1m3.2 0.3h2.1m-6.8 0.8h2.1m4.4 0.1h2.1m-10 0.1h2.1m5.9 0.2h2.1m12 0h2.1m-29.2 0.5h2.1m-1.6 0.3h2.1m11.3 0h2.1m-30.4 0.2h2.1m-1.2 0.2h2.1m17.8 0.1h2.1m-12.2 0.5h2.1m-12.6 0h2.1m29 0h2.1m-21.9 0.2h2.1m18.9 0.2h2.1m-29.2 0.4h2.1m3 0h2.1m22.5 0.1h2.1m-3.1 0.2h2.1m-36 0.4h2.1m35.1 0.1h2.1m-40.5 0.1h2.1m33.1 0h2.1m-37.7 0h2.1m8.3 0.1h2.1m18.3 0.3h2.1m4.4 0h2.1m-42 0.6h2.1m45.5 0h2.1m-47.9 0.2h2.1m12.5 0.1h2.1m-11.5 0.1h2.1m-8.9 0.1h2.1m9 0h2.1m-8.8 0.8h2.1m25 0.4h2.1m-29.5 0.4h2.1m9.3 0.2h2.1m21.9 0.4h2.1m-0.7 0.2h2.1m-38.7 0.4h2.1m35.9 0.1h2.1m-35.2 0.3h2.1m-7.9 0.1h2.1m21.7 0.2h2.1m3.5 1.3h2.1m-20.6 0.1h2.1m3.6 0.3h2.1m23 0.2h2.1m-10.9 0.1h2.1m8.7 0.2h2.1m-36 0.2h2.1m22 0.1h2.1m-40 0.1h2.1m37.7 0h2.1m-19.8 0h2.1m-21.4 0.1h2.1m4.6 0.1h2.1m17.9 0.5h2.1m2.5 0h2.1m-31.2 0.1h2.1m7.8 0.4h2.1m23.2 1.2h2.1m-9.1 0.1h2.1m-12.2 0h2.1m9 0.1h2.1m-26.7 0.6h2.1m16.9 0.1h2.1m-2.7 0.1h2.1m16.7 0.2h2.1m-5.5 0.1h2.1m-4 0.2h2.1m3.3 0.4h2.1m-42.7 0.2h2.1m10.2 0.2h2.1m-18 0h2.1m2.4 0.5h2.1m8.5 0.4h2.1m-10 0h2.1m26.7 0.3h2.1m-10.5 0.1h2.1m-24.6 0.1h2.1m38.3 0.1h2.1m-36.8 0.1h2.1m29.4 0.5h2.1m-8.6 0.1h2.1m3.4 0.4h2.1m-6.9 0.1h2.1m-25.8 0h2.1m14 0.1h2.1m-28.8 0h2.1m9.8 0h2.1m21.2 0h2.1m-15 0h2.1m18.2 0.1h2.1m-37.3 0.2h2.1m5.5 0.1h2.1m18.4 0h2.1m-29.5 0.3h2.1m25.9 0.2h2.1m-11.1 0.4h2.1m-5.5 0.3h2.1m4.8 0.1h2.1m7.7 0.3h2.1m-32.1 0h2.1m29.1 0.1h2.1m-5 0.3h2.1m-15.6 0.2h2.1m-20.2 0h2.1m15 0.1h2.1m-23.7 0.2h2.1m7.4 0.1h2.1m-2.9 0h2.1m19.6 0h2.1m-30.2 0.1h2.1m6.9 0.1h2.1m2.4 0.1h2.1m-9 0.1h2.1m-10.9 0h2.1m38.6 0.1h2.1m-22.3 0.1h2.1m-6.5 0.3h2.1m-5.8 0.1h2.1m15.6 0h2.1m-30.7 0.3h2.1m27.2 0.1h2.1m-26.4 0.3h2.1m0.5 0h2.1m12.7 0.5h2.1m-29 0.2h2.1m18.3 0.3h2.1m1.8 0.5h2.1m9.9 0h2.1m-21.9 0.1h2.1m23.2 0h2.1m-15.1 0.5h2.1m3.8 0h2.1m-6.3 0.1h2.1m2.9 0.1h2.1m-33.4 0.2h2.1m8.1 0h2.1m1.9 0.1h2.1m-2.3 0.1h2.1m-4.8 0.1h2.1m-1.9 0h2.1m6.3 0.2h2.1m-16.4 0.1h2.1m-0.7 0h2.1m-4.7 0.5h2.1m-9.5 0h2.1m12.1 0.4h2.1m10.3 0.2h2.1m-3.5 0.1h2.1m-7.8 0.1h2.1m-2.2 0h2.1m14.5 0h2.1m-6.9 0.2h2.1m-6.9 0.1h2.1m-23.1 0.1h2.1m-6.3 0h2.1m24.3 0.1h2.1m-30.4 0.2h2.1m3 0h2.1m16.1 0.2h2.1m-10.1 0.1h2.1m15.2 0h2.1m-0.4 0.5h2.1m-21.8 0h2.1m-13 0.4h2.1m7.8 0.2h2.1m-20.8 0.1h2.1m24.9 0.1h2.1m17.5 0h2.1m-10.9 0.2h2.1m4.3 0.2h2.1m-25.2 0.3h2.1m-6.9 0.1h2.1m3.7 0.2h2.1m-6.3 0h2.1m-16.1 0.2h2.1m-3.6 0.3h2.1m42.1 0h2.1m-43.8 0h2.1m37.4 0.1h2.1m-27.1 0.1h2.1m-5.3 0.4h2.1m26 0h2.1m-28 0.2h2.1m-19.5 0.1h2.1m5.7 0h2.1m6.5 0.3h2.1m23.6 0h2.1m-33.3 0.1h2.1m-2 0.1h2.1m6.7 0.7h2.1m9.5 0h2.1m11.1 0.1h2.1m-37 0h2.1m19.4 0.1h2.1m5.8 0.1h2.1m-16.8 0h2.1m-1.2 0.1h2.1m-16 0h2.1m19.4 0.1h2.1m-25.8 0h2.1m27.1 0h2.1m-10.1 0.2h2.1m-15.6 0.1h2.1m-0.8 0.1h2.1m8.9 0.1h2.1m-26 0h2.1m33.2 0.2h2.1m-26 0h2.1m-7.6 0.1h2.1m9.4 0h2.1m19.4 0h2.1m-13.7 0.1h2.1m-15.8 0.3h2.1m6.1 0.1h2.1m-21.1 0.1h2.1m36.3 0.1h2.1m-34.2 0h2.1m28 0h2.1m-12.1 0.6h2.1m-17.4 0.1h2.1m-22.4 0.3h2.1m7.4 0.6h2.1m21.2 0h2.1m-4.9 0h2.1m12.6 0.1h2.1m-34.1 0.3h2.1m6 0.3h2.1m14.2 0.1h2.1m-2.3 0.1h2.1m2.5 0.2h2.1m-15.4 0.3h2.1m-14.1 0.1h2.1m27.8 0.1h2.1m-10.1 0h2.1m-40.1 0.1h2.1m32.8 0.2h2.1m4.3 0.2h2.1m-11.6 0h2.1m-28.9 0.1h2.1m-2.8 0.2h2.1m30.2 0.1h2.1m-14.7 0.1h2.1m1.5 0.1h2.1m-20 0h2.1m19.5 0.1h2.1m15 0.3h2.1m-47.6 0.2h2.1m10.4 0h2.1m8.7 0.1h2.1m-23.1 0.1h2.1m-4.2 0.3h2.1m0.8 0h2.1m25 0.1h2.1m-19.3 0.1h2.1m-2.6 0h2.1m9 0.1h2.1m-7.3 0.3h2.1m-21.3 0.3h2.1m29.2 0h2.1m-17.7 0h2.1m8.2 0.2h2.1m8.8 0.1h2.1m-30.3 0h2.1m30.8 0.5h2.1m-6.7 0.2h2.1m-20 0.1h2.1m-22.1 0.2h2.1m15 0h2.1m-3 0.3h2.1m14.9 0h2.1m-14.3 0.3h2.1m-12.8 0.1h2.1m4 0h2.1m11.6 0.3h2.1m-17.3 0.7h2.1m23.3 0.1h2.1m-8.4 0.1h2.1m-28.6 0.1h2.1m4.1 0h2.1m-4.5 0.1h2.1m1.7 0h2.1m11 0h2.1m-4.3 0.2h2.1m10.6 0.2h2.1m-16.5 0.1h2.1m-25.6 0h2.1m10.2 0.2h2.1m13.6 0h2.1m-9.2 0h2.1m-19.2 0.1h2.1m12.1 0h2.1m-10.9 0.1h2.1m22.3 0.2h2.1m-38 0.2h2.1m27.3 0.1h2.1m-13.1 0h2.1m-6.3 0.3h2.1m-1.3 0.1h2.1m6.9 0h2.1m-14.7 0.1h2.1m2.9 0.2h2.1m-7.8 0h2.1m8.6 0h2.1m14.9 0.1h2.1m-4.6 0.1h2.1m-23 0.5h2.1m14 0.2h2.1m-13.4 0.1h2.1m-10.5 0.3h2.1m-11.3 0h2.1m6.4 0.4h2.1m-6.3 0.4h2.1m29.8 0.2h2.1m-23.4 0.1h2.1m27.3 0.1h2.1m-0.5 0h2.1m-32.7 0.2h2.1m-12.8 0h2.1m3.2 0.2h2.1m21.2 0.4h2.1m3.6 0.3h2.1m-13.6 0h2.1m4.6 0.1h2.1m-11.4 0.1h2.1m-5.5 0.1h2.1m-13 0.1h2.1m3.6 0h2.1m-10.6 0h2.1m3.7 0.3h2.1m-11.6 0h2.1m28.3 0.1h2.1m-10.3 0.1h2.1m5.8 0h2.1m-22.4 0.1h2.1m-4.4 0h2.1m30.8 0.3h2.1m-10.9 0.2h2.1m-9.3 0.3h2.1m12 0.1h2.1m-29 0.1h2.1m-16.9 0.2h2.1m12.2 0.3h2.1m-14.7 0h2.1m8.6 0.1h2.1m25.6 0h2.1m-43.6 0.1h2.1m18 0h2.1m13.5 0.2h2.1m-33.3 0.1h2.1m28.9 0.1h2.1m-33.1 0.3h2.1m15.7 0h2.1m5.4 0.1h2.1m-3.1 0h2.1m-7.5 0.1h2.1m-25 0.1h2.1m25.6 0h2.1m-29.5 0h2.1m6.5 0h2.1m26.8 0h2.1m-31 0.2h2.1m-3.1 0.1h2.1m-1.2 0.1h2.1m-10.9 0.2h2.1m20.8 0.3h2.1m0.3 0.1h2.1m-9.6 0h2.1m-13.6 0h2.1m30.2 0.2h2.1m-12.3 0.1h2.1m12.1 0.3h2.1m-21.6 0h2.1m-19.8 0.2h2.1m0.8 0h2.1m0.2 0.1h2.1m-13.6 0.1h2.1m38.3 0.1h2.1m2.4 0h2.1m-41.8 0h2.1m15.8 0.1h2.1m-23.9 0.1h2.1m6.5 0.2h2.1m10.7 0h2.1m-14.8 0h2.1m30.2 0.3h2.1m-24.9 0.3h2.1m-13.7 0.2h2.1m-0.3 0h2.1m4.3 0.3h2.1m18.5 0h2.1m-4.9 0.3h2.1m-6 0.5h2.1m-5.1 0.2h2.1m-23.1 0.1h2.1m20.9 0.1h2.1m-24.3 0.2h2.1m29.2 0h2.1m-8.2 0.2h2.1m-30.5 0.1h2.1m14 0.1h2.1m4.9 0h2.1m-0.8 0.1h2.1m-2.2 0h2.1m-10.1 0h2.1m19.1 0.1h2.1m-16.1 0.3h2.1m0.3 0.1h2.1m-23.3 0h2.1m-0.4 0.3h2.1m16.4 0.1h2.1m12.1 0h2.1m-10 0.1h2.1m-32 0h2.1m30.2 0.3h2.1m-26.6 0.1h2.1m23.7 0h2.1m-5.5 0.1h2.1m-6 0h2.1m-0.6 0.2h2.1m-0.8 0h2.1m4.3 0.2h2.1m2 0h2.1m-19.9 0.1h2.1m-0.7 0.1h2.1m-10.9 0.5h2.1m-4.1 0.1h2.1m-14.3 0h2.1m39.9 0.2h2.1m-13.9 0.1h2.1m0.3 0h2.1m-34.2 0.2h2.1m37.6 0h2.1m-22.2 0.1h2.1m-17.9 0.1h2.1m7.3 0h2.1m13.2 0.3h2.1m-4.5 0h2.1m-21.3 0.1h2.1m-2.8 0.3h2.1m-11.8 0.2h2.1m14.6 0h2.1m-16.6 0.1h2.1m22.2 0.1h2.1m-18.8 0.3h2.1m-11.2 0h2.1m6.3 0.5h2.1m30.4 0.1h2.1m-20.2 0.3h2.1m0.9 0.1h2.1m-32.1 0.4h2.1m33.6 0.2h2.1m-12 0.1h2.1m-3.8 0.1h2.1m-23.6 0.2h2.1m30.8 0.4h2.1m0 0.3h2.1m-14.5 0.1h2.1m-5.4 0.3h2.1m-1.2 0.1h2.1m5.8 0.2h2.1m13.7 0.4h2.1m-37.6 0.1h2.1m35.5 0.2h2.1m-50.2 0h2.1m24.5 0.1h2.1m-4.3 0.1h2.1m-3.7 0.3h2.1m-9.5 0h2.1m15.7 0.1h2.1m12 0h2.1m-45.8 0.3h2.1m-1.7 0h2.1m40.6 0h2.1m-5.7 0.1h2.1m-22.1 0h2.1m11.7 0.2h2.1m-12.3 0h2.1m-14.3 0h2.1m5.3 0h2.1m-11.4 0.1h2.1m21.5 0.3h2.1m-25.2 0.1h2.1m-4.5 0.1h2.1m-10.6 0.3h2.1m40.2 0.1h2.1m-9 0.2h2.1m-15.4 0.2h2.1m10.9 0.6h2.1m4.6 0.5h2.1m-26.1 0.2h2.1m11.7 0h2.1m-7.7 0.2h2.1m-5.2 0.1h2.1m-22.4 0h2.1m12.3 0.6h2.1m21.9 0h2.1m-13.3 0.1h2.1m-2.2 0h2.1m-31.4 0.2h2.1m23.9 0.4h2.1m-2.5 0.1h2.1m-6.5 0.1h2.1m16.6 0.1h2.1m-3 0h2.1m-0.7 0h2.1m1.8 0.1h2.1m-17.8 0.1h2.1m-18 0h2.1m-17.4 0.1h2.1m29.6 0h2.1m-27.5 0h2.1m-1.1 0.1h2.1m-9.5 0.1h2.1m17.7 0h2.1m-11.3 0h2.1m-3 0.1h2.1m33.1 0.1h2.1m-29.4 0h2.1m-6.1 0.4h2.1m-9.6 0.3h2.1m24.3 0h2.1m-4.9 0.3h2.1m-7.6 0.2h2.1m-10.8 0.1h2.1m20.8 0.1h2.1m-39.4 0.1h2.1m25.2 0.2h2.1m17.3 0h2.1m-33.9 0.1h2.1m12.2 0h2.1m-2.2 0.2h2.1m11.6 0h2.1m-3.5 0.7h2.1m-28.4 0.4h2.1m15.5 0.1h2.1m6.8 0.2h2.1m-2.8 0.7h2.1m-41.1 0.2h2.1m6.1 0.1h2.1m17.9 0.1h2.1m0.6 0.1h2.1m-9.9 0.4h2.1m-14.3 0.2h2.1m13.2 0.1h2.1m-23.8 0.2h2.1m22.9 0.1h2.1m-33.4 0.3h2.1m12.5 0.1h2.1m15.8 0.3h2.1m-34.5 0.1h2.1m8.2 0.1h2.1m-10.6 0h2.1m8.7 0.1h2.1m30.6 0.1h2.1m-41 0h2.1m21.7 0.6h2.1m-15.5 0.5h2.1m27.7 0.7h2.1m-23.3 0h2.1m1 0.4h2.1m-31.3 0h2.1m41.8 0.1h2.1m-32.3 0.3h2.1m10.7 0.1h2.1m-14.3 0.1h2.1m6.7 0.2h2.1m-20.4 0h2.1m23.2 0.2h2.1m-26 0.4h2.1m28.8 0.1h2.1m-31.3 0.1h2.1m4.6 0.5h2.1m12.3 0.5h2.1m-18.4 0.9h2.1m-15.5 0h2.1m42.3 1.6h2.1m-20.3 0.1h2.1m-3.4 0.1h2.1m-1.3 0.2h2.1m-11.4 0h2.1m-2.1 0.3h2.1m-0.3 0.3h2.1m12.9 0.1h2.1m-35.4 0.2h2.1m31.3 0.2h2.1m-19.5 1.5h2.1m22.5 0.2h2.1m-7.1 0.1h2.1m-33.2 1.8h2.1m14.8 0.5h2.1m-21.1 0.3h2.1m23.8 0h2.1m-7.1 0.4h2.1m-3 0.2h2.1m5.4 0.4h2.1m-30.5 0h2.1m33.4 0.1h2.1m1.5 1.3h2.1m-8 1h2.1m1.9 0.3h2.1m-9 0.5h2.1m7.3 0.7h2.1m-2.2 0h2.1m4.6 0.3h2.1m-4.1 0.3h2.1m-42.6 0.4h2.1m15.1 0.3h2.1m-8.8 0.7h2.1m-17.8 0.4h2.1m35.1 0h2.1m0.7 0.6h2.1m0.8 0h2.1m-1.7 0.4h2.1m1.9 0.5h2.1m-39.8 0.6h2.1m31.2 0.5h2.1m-39.9 0.2h2.1m28.8 0.3h2.1m8.1 0.3h2.1m-30.4 0.5h2.1m-19.3 0.9h2.1m24 1.1h2.1m-10.7 0.3h2.1m-1.4 1h2.1m-14 0.1h2.1m32.3 0.1h2.1m-42.3 0.4h2.1m6.4 0.5h2.1m27.4 0.4h2.1m-20.8 0.6h2.1m12.3 1h2.1m-36.9 1.6h2.1m42.2 1.2h2.1m-8 1.3h2.1m-30 0h2.1m-0.6 0.2h2.1m23.8 0.5h2.1m-8.2 0h2.1m8.3 0.2h2.1m-35.8 0.1h2.1m-10.7 0.5h2.1m2.7 0.3h2.1m23.2 3.6h2.1m6.5 1.1h2.1m0.6 0.7h2.1m-34.1 1.1h2.1m4.5 0.5h2.1m0.1 1.3h2.1m-15.4 227.1h2.1m27.3 10.6h2.1m-13.6 10.2h2.1m23.8 16.2h2.1m-38.1 0.2h2.1m6.4 1h2.1m-17.4 1.3h2.1m17.5 0.9h2.1m-15.2 0.1h2.1m35 1.5h2.1m-27.3 2h2.1m23.7 0h2.1m-17.4 4.5h2.1m-15.2 0.2h2.1m-2.4 0.3h2.1m4.1 0.1h2.1m10.5 0.2h2.1m-28.2 1.7h2.1m7 1.2h2.1m-2.1 0.5h2.1m-15.8 0.2h2.1m13.3 0.5h2.1m22.3 0.2h2.1m-42.9 0.2h2.1m15.9 0.1h2.1m-12 0.5h2.1m-17.5 1.4h2.1m29.6 0.9h2.1m3.9 0.7h2.1m-30 0.7h2.1m15.4 1.2h2.1m1.7 0.9h2.1m-7.1 0.3h2.1m21 0.4h2.1m-35 0.1h2.1m6.3 0.2h2.1m-14.6 0.6h2.1m13.4 0h2.1m-21.3 0.6h2.1m37.8 0.3h2.1m-16.6 0.5h2.1m4.3 0h2.1m-20.7 0.5h2.1m-0.2 0.3h2.1m-14.5 0.2h2.1m5.9 0h2.1m26 0.9h2.1m-39.4 0.1h2.1m36 0.1h2.1m-36.3 0.8h2.1m29.1 1.1h2.1m-19.1 0.4h2.1m3.9 0.6h2.1m-0.1 0h2.1m-29 0.1h2.1m18.2 0.1h2.1m16.3 0.2h2.1m-12 0h2.1m-5.1 0.1h2.1m-34.2 0.3h2.1m-4.6 0.1h2.1m8.8 0h2.1m28.2 1.5h2.1m-34.6 0.8h2.1m12.2 0.2h2.1m-21 0.7h2.1m16.5 0.1h2.1m-21.4 0.3h2.1m-2.5 0.3h2.1m20.3 0.3h2.1m14 0.3h2.1m2 0.2h2.1m-41.8 0.2h2.1m0.5 0.2h2.1m32.1 0.2h2.1m-34.2 1.4h2.1m13.3 0.5h2.1m-16.6 0.1h2.1m-12.8 0.4h2.1m2.5 1.1h2.1m28 0.1h2.1m-34.3 0.4h2.1m5.8 0.2h2.1m21.3 0.5h2.1m-21.4 0.5h2.1m-13.9 0.2h2.1m40.7 1.4h2.1m-15.9 0.3h2.1m-0.8 0.1h2.1m4.3 0.1h2.1m-42 0h2.1m14.3 1.1h2.1m28.8 0.4h2.1m-19 0.6h2.1m-5.4 0.2h2.1m6.6 0.1h2.1m-37.6 0.4h2.1m14.8 0.1h2.1m-0.1 0.1h2.1m-23.2 0h2.1m8.5 0.2h2.1m16.6 0.5h2.1m-10.4 0.2h2.1m16.2 0.1h2.1m-3.3 0.9h2.1m-9.2 0.4h2.1m8 0.2h2.1m-35.7 0.2h2.1m36.6 0.3h2.1m-33.2 0.1h2.1m24.6 0.1h2.1m-32.4 0.2h2.1m5.3 0.3h2.1m17.4 0.5h2.1m-17.4 0.2h2.1m-7.9 0.6h2.1m6.1 0.2h2.1m-6.7 0.4h2.1m-20.1 0.4h2.1m16.8 0.3h2.1m13.1 1.6h2.1m-5.1 0.5h2.1m3.2 0.6h2.1m-33.3 0.3h2.1m4.4 0h2.1m18.3 0h2.1m3.3 0.8h2.1m-3.8 1.6h2.1m-24.3 0.3h2.1m-17.7 0.3h2.1m5.9 0h2.1m16.9 1h2.1m5.8 0.5h2.1m-29.9 0.1h2.1m25.7 0.1h2.1m-4.8 0.2h2.1m1.4 0.4h2.1m-31.6 0h2.1m23.6 1.8h2.1m-13 0.3h2.1m21.7 0.2h2.1m-44.6 0.7h2.1m21.2 0.7h2.1m-2.6 0.3h2.1m10.6 0.8h2.1m-34.1 0.1h2.1m18.8 0.4h2.1m-18.5 0.1h2.1m17.7 1.1h2.1m16.3 0.6h2.1m-11.2 0.4h2.1m-31.3 0.2h2.1m17.9 0h2.1m-17 0.2h2.1m5.5 0.1h2.1m22.4 0.5h2.1m-43 0.1h2.1m41.4 0.1h2.1m-38.3 0.8h2.1m17.4 1.4h2.1m-29.1 0.1h2.1m18 0h2.1m-23.9 1.9h2.1m8.2 1.1h2.1m20.5 1.8h2.1m-3.3 3.1h2.1m-17.5 0.1h2.1m26.2 0.9h2.1m-6.4 3.2h2.1m-37.2 0.1h2.1m38.9 247.9h2.1m-53.7 6h2.1m-1.1 2.7h2.1m32.9 4.5h2.1m-0.2 1.1h2.1m-5.3 3.8h2.1m-30.5 0.7h2.1m14.9 1.9h2.1m-3.6 0h2.1m-9 1.5h2.1m22.1 0.5h2.1m-39.3 1.7h2.1m-2.3 1.1h2.1m38.2 0.7h2.1m-40.6 0h2.1m41.9 0.7h2.1m-19.1 1.2h2.1m-23.4 1.2h2.1m1.6 0.2h2.1m-2.4 0.2h2.1m25.9 0.5h2.1m-5.5 3.4h2.1m-35.9 0.4h2.1m40.1 0.7h2.1m-41.1 0.4h2.1m26.9 1.1h2.1m-2.5 0.4h2.1m-15.3 0.8h2.1m0.3 0.5h2.1m-3.8 0.3h2.1m-6 0.5h2.1m13.1 0.5h2.1m-27.1 0.8h2.1m40.8 0.2h2.1m-50.6 0.6h2.1m32.4 0.1h2.1m-39.5 0.6h2.1m3.5 0.9h2.1m36.3 1.1h2.1m-7.1 1.6h2.1m-10.9 0.5h2.1m10.2 0.7h2.1m-26.2 0.7h2.1m31.4 1.3h2.1m-5 1h2.1m-22.9 1h2.1m-20.2 0.2h2.1m-11.6 0.6h2.1m36.1 0.4h2.1m-14.9 0h2.1m-19.1 0.4h2.1m2.9 0.1h2.1m8 0.4h2.1m4.3 0.7h2.1m-15.3 0.1h2.1m2.2 0.4h2.1m21.3 0.4h2.1m-22.8 0.8h2.1m14 0h2.1m-20.8 1.1h2.1m16.4 0.2h2.1m-4.1 0.4h2.1m-20.1 1h2.1m1.3 0.7h2.1m3 0.4h2.1m-16.1 0.2h2.1m31.7 0.4h2.1m-10.1 0.9h2.1m-7.1 0.1h2.1m1 0.2h2.1m7.1 0.8h2.1m-39.2 0.2h2.1m-10.2 0.3h2.1m9.4 0.5h2.1m-5.4 0.3h2.1m15.9 0.7h2.1m0.7 0.2h2.1m-5.7 1h2.1m22.1 0.2h2.1m-51.3 1.1h2.1m9.8 0.1h2.1m-3.9 0.4h2.1m22.1 0h2.1m-39.9 0.2h2.1m25.6 0.6h2.1m-13 0.8h2.1m33.5 0.1h2.1m-47.1 0h2.1m42.2 0.3h2.1m-29.8 0.3h2.1m22.1 0h2.1m-28.5 0h2.1m19 0.8h2.1m5.7 0h2.1m-23.5 0.1h2.1m0.3 0.1h2.1m-0.3 0.5h2.1m-4.6 0.2h2.1m-1.8 0.1h2.1m-27.5 0h2.1m39.8 1.4h2.1m-12.6 0.1h2.1m6.3 0.1h2.1m-13 0.1h2.1m-35.5 0.2h2.1m32.9 0.4h2.1m-4.9 0.4h2.1m10.7 0.3h2.1m-38 0.1h2.1m28.1 0.7h2.1m-29.8 0.2h2.1m-2.5 0h2.1m9.6 0.1h2.1m-0.6 1.3h2.1m-28.3 0.2h2.1m37.2 0.4h2.1m10.7 0.6h2.1m-48.5 2.1h2.1m44.2 0.6h2.1m-53.2 0.3h2.1m4.6 0.3h2.1m0.5 0.4h2.1m34.8 1.3h2.1m-33.7 1.2h2.1m-2.6 0.3h2.1m17.4 0.3h2.1m-35.1 3.8h2.1m1.1 0.2h2.1m6.5 0h2.1m35.6 0.7h2.1m-21.9 4.6h2.1m-0.7 0.1h2.1m-19.6 2.6h2.1m-17.2 2.5h2.1m33.2 0.4h2.1m-13.5 389.3h2.1m24.8 22.9h2.1m-2.5 6.5h2.1m-52.3 13.1h2.1m45.4 1.3h2.1m-38 5.2h2.1m27.6 6.5h2.1m-38.5 5.3h2.1m20.9 1.3h2.1m-3.8 1.3h2.1m-4.2 1.9h2.1m-7.4 2h2.1m20.6 1.3h2.1m-37 3.3h2.1m37.1 3.2h2.1m5.9 3.3h2.1m-16.5 6.5h2.1m12.5 2h2.1m-5.9 1.3h2.1m-9.6 3.3h2.1m2.8 6.5h2.1m-41.1 3.2h2.1m41.8 6.6h2.1m-31 6.5h2.1m-12.5 193.6h2.1m-12.3 0.8h2.1m-5.1 2.6h2.1m40.9 0.5h2.1m-12.1 3.1h2.1m3.7 1.6h2.1m-15.4 1.2h2.1m-16.5 0.7h2.1m25.2 0.1h2.1m-23.4 0.3h2.1m-6.8 1.2h2.1m24.6 2.8h2.1m-34.3 1.3h2.1m11.3 0.3h2.1m24.2 1.1h2.1m-42.4 0.3h2.1m-2.4 1.6h2.1m-5.3 0.6h2.1m-4.9 1.6h2.1m0.6 0.1h2.1m38.3 0.6h2.1m-3 0.5h2.1m-37.4 0.6h2.1m18.3 1h2.1m-25.5 0.4h2.1m13.4 0h2.1m26.3 0.2h2.1m-37.9 0.8h2.1m25.6 0.2h2.1m-29.1 1.1h2.1m26.4 0.3h2.1m-4.2 0.3h2.1m-3.4 0.9h2.1m-22.5 0.2h2.1m-10.8 0.1h2.1m-5.4 0.1h2.1m8 0.5h2.1m17.2 1.3h2.1m-14.7 1.2h2.1m-2.7 0.5h2.1m-6.2 1.3h2.1m-6.6 0.2h2.1m-12.2 0.2h2.1m23.6 0.1h2.1m-26.8 0.8h2.1m19.7 0.1h2.1m-15 0.4h2.1m9.4 0h2.1m13.5 1.2h2.1m-28.7 0.5h2.1m31.4 0.3h2.1m-2.7 0.3h2.1m-28.1 0.1h2.1m25.5 0h2.1m-8.3 0.8h2.1m-2.1 0.3h2.1m-20.7 0.3h2.1m-12.7 0.4h2.1m24.6 1.2h2.1m0.4 0.1h2.1m-37.6 0.2h2.1m28 0.9h2.1m-2.5 0h2.1m-26.1 0.1h2.1m21.4 0.4h2.1m-12.8 0.8h2.1m-24.5 0h2.1m44.2 0h2.1m-3.8 0.5h2.1m-14.8 1h2.1m7.4 0h2.1m-3.5 0.1h2.1m-7.6 0.1h2.1m-3.2 0.7h2.1m-5.5 0.3h2.1m-1.9 0.1h2.1m5.5 0.3h2.1m-39.2 0.2h2.1m38.3 0.2h2.1m-38.8 0.1h2.1m0.4 0.1h2.1m1.7 0.3h2.1m32.4 0.2h2.1m-18.9 0.1h2.1m-15.7 0.7h2.1m-2.6 1h2.1m-18.7 0.3h2.1m30.8 0.5h2.1m1.8 0.1h2.1m-0.3 0.1h2.1m5.7 0.6h2.1m-19.8 0.2h2.1m-12.2 0.8h2.1m0.1 0.2h2.1m9.1 0.2h2.1m-6.7 0.1h2.1m-12.7 0h2.1m4.2 0.1h2.1m21.1 0.2h2.1m-4.9 0.9h2.1m-9.8 0.6h2.1m-12.3 0.1h2.1m2 0.6h2.1m16.2 0.2h2.1m-9.4 0.3h2.1m-0 0.1h2.1m-22.3 0.4h2.1m6.5 0.1h2.1m-27 0.4h2.1m19.3 0.1h2.1m10.9 0.1h2.1m-31.3 0.3h2.1m15.7 0.2h2.1m-8.4 0.2h2.1m-7.1 0.6h2.1m9.5 0.1h2.1m1.9 0.2h2.1m-24.3 0.1h2.1m25.3 1.1h2.1m-29 0.1h2.1m-8 0.5h2.1m4.1 0.1h2.1m23.2 0.1h2.1m-25.2 0.1h2.1m-7.7 0.3h2.1m-9.5 0h2.1m32.6 0.3h2.1m-15.7 0.3h2.1m7.6 0.1h2.1m12.1 0.2h2.1m-3.5 0.1h2.1m-25.1 0.4h2.1m-6.4 0.4h2.1m1.6 0.2h2.1m-6.6 0.2h2.1m-12.9 0.2h2.1m12.7 0.3h2.1m-13.6 0.2h2.1m8 0.4h2.1m23.8 0h2.1m-37 0.2h2.1m27.9 0.1h2.1m-1.6 0h2.1m-12.7 0.6h2.1m-2.6 0.4h2.1m-18.1 0.1h2.1m-12.9 0.4h2.1m31.9 0.3h2.1m-27.4 1.1h2.1m25.2 0h2.1m-22.8 0.2h2.1m19 0.2h2.1m-12.7 0.3h2.1m-16.4 0.5h2.1m29.8 0.3h2.1m-30.2 0.4h2.1m22.3 0.4h2.1m-6 0.1h2.1m-32.4 0.2h2.1m27.2 0h2.1m2.9 0.1h2.1m-29 0h2.1m26.5 0.6h2.1m-27.3 0.7h2.1m5.6 0h2.1m16.3 0.1h2.1m-28.2 0h2.1m7.6 0.1h2.1m1 0.2h2.1m-24.3 0.7h2.1m23.3 0.1h2.1m-8.7 0.3h2.1m-29.1 0.5h2.1m20 0h2.1m19.1 0.1h2.1m-2.7 0.2h2.1m-33.5 0h2.1m30.6 0.2h2.1m-27 0.3h2.1m5.7 0.1h2.1m-24.3 0.6h2.1m36 0h2.1m-38.7 0.2h2.1m0.6 0.1h2.1m31.5 0.2h2.1m-8.9 0.1h2.1m-12 0.1h2.1m-16.4 0.3h2.1m16.3 0.4h2.1m14.2 0h2.1m-28 0.3h2.1m20.2 0.1h2.1m-2.5 0.3h2.1m-25.4 0.1h2.1m1 1.5h2.1m-21.2 0.9h2.1m6.1 0.4h2.1m2.9 0.8h2.1m-9.9 0.1h2.1m20 0.3h2.1m-30.9 0.5h2.1m5.8 0.3h2.1m9.2 0.4h2.1m22.7 0h2.1m-7.5 0.2h2.1m2.2 0.9h2.1m-27.4 0.7h2.1m15.8 0.2h2.1m2.9 1.5h2.1m-20.6 0.1h2.1m-13.3 0.3h2.1m22.4 0.2h2.1m-32 0.7h2.1m-9.8 0.3h2.1m35.5 0h2.1m-24.2 0.2h2.1m5.8 0.2h2.1m-9.2 0.4h2.1m10.9 0.3h2.1m3.6 0h2.1m9 0.3h2.1m-44.2 0.1h2.1m41.5 0h2.1m-28.7 0h2.1m-4.9 0.2h2.1m8.4 0.7h2.1m-30 0.3h2.1m10.2 0h2.1m-0.6 0.1h2.1m9.7 0.5h2.1m1.2 0.7h2.1m-10.1 1h2.1m-0.8 0.9h2.1m3 0.1h2.1m-2.2 0.4h2.1m11.9 1.3h2.1m-36.5 0.2h2.1m-5.6 0h2.1m18.8 0.2h2.1m20.6 0h2.1m-3.2 0.2h2.1m-12.9 1h2.1m-1.7 1h2.1m2.6 0.8h2.1m-28.9 0.6h2.1m-3.3 0.7h2.1m14.4 0.2h2.1m-4.9 0.1h2.1m-25.1 0.1h2.1m18.4 0.1h2.1m-0.3 0.7h2.1m-20.1 0.7h2.1m3.6 0h2.1m28 0.9h2.1m-23.4 0.2h2.1m6.2 2.6h2.1m0.6 0.1h2.1m-14.7 0.6h2.1m15.2 1h2.1m-31.8 0.1h2.1m18.4 0.2h2.1m-7.8 0.6h2.1m-25.6 0.7h2.1m-1.6 0.2h2.1m29.6 0.6h2.1m-27.9 0h2.1m-5.9 0.7h2.1m-2.5 0h2.1m37 0.2h2.1m-5.1 1.8h2.1m7.6 1.2h2.1m-3.6 1h2.1m-6.8 0.4h2.1m-6.6 0.7h2.1m-16.5 0.6h2.1m-1.6 0.4h2.1m-9.7 2.8h2.1m4.4 1.6h2.1m1.6 3.6h2.1m67.3-1752.1h2.1m2.6 5.2h2.1m-10 0.1h2.1m-20.1 4.6h2.1m39.3 1.6h2.1m-43.6 1.5h2.1m19.7 1.3h2.1m-3.2 4.7h2.1m-28.6 1.3h2.1m47.5 1.6h2.1m-19.6 1.6h2.1m4.9 1.7h2.1m-31.5 0.5h2.1m16.6 1.1h2.1m-26.5 0.6h2.1m-4.2 0.3h2.1m45.3 0.3h2.1m-23.7 0.4h2.1m-7.8 0.3h2.1m7 1.3h2.1m-6.8 1.1h2.1m18.9 0.4h2.1m-44 1.3h2.1m18.1 1.2h2.1m-4 0.4h2.1m20.7 0.8h2.1m-8.6 0.1h2.1m0.9 0.7h2.1m-30.4 2.3h2.1m3.8 0.2h2.1m-21.7 0.2h2.1m33.3 0.3h2.1m-29.5 1.6h2.1m-5.6 0.3h2.1m7 0.7h2.1m-12.8 0.6h2.1m31.2 0.3h2.1m-26.9 0.1h2.1m-5.1 2h2.1m-6.8 0.1h2.1m26.7 0.6h2.1m-27.8 0.2h2.1m11.9 0.4h2.1m-10.3 0.7h2.1m27.2 0.5h2.1m-35 0.4h2.1m16.6 0.5h2.1m-30.7 0.4h2.1m25.7 0.1h2.1m-14.9 0.1h2.1m-10.9 0.7h2.1m-6.9 0.2h2.1m1.7 0.1h2.1m21.5 0.2h2.1m-21.2 1.1h2.1m6.2 0.2h2.1m16.6 0.1h2.1m-22.1 0.5h2.1m20.9 0.1h2.1m-18.5 0h2.1m-11.8 0h2.1m-12.3 0.9h2.1m28.1 0.2h2.1m0.7 0.6h2.1m-21.5 0.9h2.1m10.6 0.4h2.1m-18.5 0.4h2.1m-1.9 0.5h2.1m13.9 0h2.1m18.9 0h2.1m-38.3 0.1h2.1m-12.8 0.1h2.1m44 0.2h2.1m-42.2 0.4h2.1m-1.9 0h2.1m14.6 0.2h2.1m-28.5 0.1h2.1m15.6 0.7h2.1m-19.8 0h2.1m4.4 0h2.1m8.9 0.7h2.1m1.9 0.6h2.1m-15.6 0.4h2.1m17.8 0.1h2.1m-19.8 0.4h2.1m-8.6 0.3h2.1m10.3 0.5h2.1m6.8 0h2.1m22 0.8h2.1m-14.9 0.4h2.1m-37 0.2h2.1m13.9 0h2.1m-13.5 0.2h2.1m4.9 0.2h2.1m29.2 0.1h2.1m-6.5 0.1h2.1m-33.7 0.5h2.1m6 0.3h2.1m-0.4 0.1h2.1m11.2 0.2h2.1m-6.7 0.4h2.1m-23.7 0.2h2.1m10.9 0h2.1m17.5 0.4h2.1m-30.7 0.1h2.1m22 0.1h2.1m-27 0.4h2.1m7.4 0.4h2.1m7.3 0.1h2.1m17 0.4h2.1m-30.2 0.1h2.1m15.6 0.3h2.1m-1 0h2.1m7.7 0h2.1m-25.9 0.1h2.1m19.2 0.1h2.1m-22.4 0h2.1m-21.7 0.3h2.1m29.9 0.3h2.1m-19.4 0.2h2.1m26 0.1h2.1m-41.1 0.1h2.1m1.9 0.2h2.1m-7.7 0.9h2.1m17.3 0.2h2.1m-28.4 0.1h2.1m19.4 0h2.1m-11 0.4h2.1m31.1 0.1h2.1m-44.1 0h2.1m28 0.1h2.1m-23.3 0.3h2.1m30.3 0h2.1m-41.7 0.2h2.1m25.4 0.5h2.1m14.4 0.2h2.1m-28.7 0h2.1m-5.2 0.1h2.1m-5.9 0.5h2.1m-8.5 0h2.1m36.7 0.2h2.1m-37.9 0.1h2.1m-1.7 0h2.1m23.4 0h2.1m-1.9 0.2h2.1m-25.8 0.1h2.1m-11.6 0.1h2.1m-2.3 0.1h2.1m22.8 0.4h2.1m-18.2 0.1h2.1m-16.1 0.2h2.1m7.8 0.2h2.1m7.2 0.1h2.1m12.1 0h2.1m-29.2 0.1h2.1m35.7 0.2h2.1m-21.7 0.4h2.1m3.9 0.1h2.1m-30.6 0h2.1m27.7 0.2h2.1m-15.2 0.2h2.1m-11.8 0.1h2.1m4.1 0.2h2.1m-1.6 0.1h2.1m31.4 0.2h2.1m-14.3 0.1h2.1m-19.7 0.1h2.1m-18.8 0h2.1m2.1 0.2h2.1m-7.6 0.1h2.1m46.4 0h2.1m-35 0.3h2.1m21.3 0h2.1m-26.3 0.2h2.1m-0 0.3h2.1m-2.6 0h2.1m18.1 0h2.1m-28.4 0.1h2.1m-14.8 0.1h2.1m34.5 0h2.1m-23.9 0.9h2.1m-7.7 0.1h2.1m0.8 0h2.1m31.1 0.3h2.1m-16.3 0.2h2.1m-32.8 0.1h2.1m31.5 0h2.1m1.2 0.1h2.1m-8.2 0.1h2.1m0.9 0.1h2.1m-4.5 0.1h2.1m-33.8 0h2.1m24.1 0.1h2.1m1.7 0h2.1m-9.5 0.1h2.1m-2.9 0h2.1m2.2 0.2h2.1m-6.4 0.1h2.1m10.9 0h2.1m-26 0h2.1m10.1 0.1h2.1m9.1 0.1h2.1m-17.3 0.2h2.1m-9.9 0.2h2.1m10.6 0.1h2.1m5.2 0h2.1m-5.4 0.1h2.1m6.4 0.1h2.1m-7.2 0.1h2.1m10 0.1h2.1m-24.6 0.4h2.1m28.2 0.1h2.1m-51 0h2.1m37.5 0.3h2.1m-41.8 0h2.1m18.3 0.1h2.1m-21.4 0h2.1m38.5 0.2h2.1m-8.3 0.1h2.1m9.5 0h2.1m-33.2 0.1h2.1m-16.6 0.2h2.1m28.3 0.1h2.1m-13.8 0.1h2.1m9.2 0h2.1m-19.5 0h2.1m-12.6 0.1h2.1m30 0.1h2.1m-22.2 0h2.1m9.7 0h2.1m-20.1 0.1h2.1m15.4 0.1h2.1m-26.9 0h2.1m41.1 0.7h2.1m-11.1 0.1h2.1m-16.8 0.3h2.1m11.7 0h2.1m-33.3 0.1h2.1m-2.2 0.1h2.1m0.2 0.4h2.1m2.4 0h2.1m-12.9 0.1h2.1m19.4 0.1h2.1m-6.7 0h2.1m-4 0.1h2.1m16.5 0.1h2.1m-36.7 0h2.1m37.1 0.1h2.1m2.8 0h2.1m-28 0.2h2.1m12.9 0.2h2.1m-22 0.2h2.1m13.6 0.1h2.1m-16 0h2.1m20.8 0.2h2.1m-27.9 0h2.1m-1.6 0.1h2.1m25.6 0.1h2.1m-3.6 0h2.1m-21.7 0h2.1m-8.3 0h2.1m11.5 0.1h2.1m20.5 0.3h2.1m-47.2 0h2.1m-2.6 0.3h2.1m40.7 0.1h2.1m-19.8 0.3h2.1m-22.8 0.3h2.1m28.6 0h2.1m-22.7 0.1h2.1m21.6 0h2.1m-6.5 0.1h2.1m-18.6 0.1h2.1m20.3 0h2.1m-4.3 0h2.1m-44.3 0.1h2.1m15.4 0h2.1m-7.5 0.2h2.1m17.3 0.1h2.1m4.7 0h2.1m6.9 0.1h2.1m-9.8 0h2.1m-38.5 0h2.1m-4.8 0.1h2.1m20.2 0h2.1m-16 0h2.1m21.7 0.1h2.1m-12.1 0.1h2.1m17 0.2h2.1m-3.2 0.2h2.1m-23.5 0h2.1m-4.7 0.2h2.1m2.3 0.2h2.1m7.9 0.1h2.1m-24.2 0.2h2.1m1.8 0h2.1m6.2 0h2.1m-6.1 0.1h2.1m21.6 0.1h2.1m-1.2 0.5h2.1m4.1 0h2.1m-48 0h2.1m38.7 0.2h2.1m-30.8 0h2.1m5.1 0.1h2.1m-5 0.1h2.1m14.3 0h2.1m-19.3 0.2h2.1m-7.2 0h2.1m33.9 0h2.1m-36.1 0.1h2.1m-0.9 0h2.1m4.7 0.1h2.1m-4.4 0h2.1m6.6 0h2.1m-3.2 0.1h2.1m19.2 0h2.1m-1.1 0.1h2.1m-8.4 0.1h2.1m0.4 0h2.1m-34.5 0.1h2.1m-9 0.1h2.1m-2.3 0.1h2.1m41.8 0h2.1m-1.9 0.1h2.1m-5.4 0.2h2.1m-44 0h2.1m15.9 0.1h2.1m-3.6 0h2.1m-11 0.1h2.1m6.7 0h2.1m-23.3 0.1h2.1m31.7 0.1h2.1m-20.6 0h2.1m31.7 0h2.1m-33.4 0h2.1m8.5 0h2.1m-30.2 0.1h2.1m-0.1 0.1h2.1m28.6 0.1h2.1m-21.5 0.1h2.1m0.9 0h2.1m-12.3 0.2h2.1m23.7 0h2.1m1.2 0.3h2.1m-13.9 0.1h2.1m-5.7 0.1h2.1m-0.5 0h2.1m-1.6 0h2.1m1.9 0h2.1m-26.9 0.1h2.1m31.6 0.1h2.1m-23.6 0h2.1m-2.9 0h2.1m1.8 0.1h2.1m-4.6 0.2h2.1m0.5 0h2.1m17.5 0h2.1m9.2 0.2h2.1m-7.7 0.1h2.1m-20.6 0h2.1m-17.8 0.1h2.1m8.4 0h2.1m-6.3 0.1h2.1m-3 0h2.1m14.9 0.2h2.1m7.8 0.1h2.1m-19.6 0.1h2.1m-23.9 0h2.1m22.9 0.1h2.1m-22.3 0.1h2.1m2.2 0.2h2.1m17.4 0h2.1m5.3 0.1h2.1m-28.7 0.2h2.1m27.8 0.1h2.1m-21.5 0h2.1m-21.6 0.1h2.1m15.7 0.1h2.1m3.2 0.1h2.1m-0.2 0.1h2.1m-22.7 0.1h2.1m32.9 0h2.1m-14.7 0.1h2.1m-8.7 0h2.1m23.3 0.1h2.1m-34 0h2.1m-15.8 0.2h2.1m25.8 0h2.1m-14.3 0.3h2.1m-18 0.1h2.1m39.9 0h2.1m-6.4 0h2.1m8.3 0.1h2.1m-20.6 0h2.1m-12.2 0.1h2.1m17.4 0h2.1m-15.6 0.1h2.1m-23.8 0.1h2.1m12.9 0.1h2.1m-5.2 0h2.1m-14.4 0.2h2.1m16.4 0.1h2.1m-0.6 0h2.1m-27 0h2.1m30.6 0h2.1m0.4 0.2h2.1m-16.7 0h2.1m26 0.1h2.1m-40.7 0h2.1m23.5 0h2.1m-19.7 0.1h2.1m6.7 0.1h2.1m-13.9 0.1h2.1m-7.9 0.2h2.1m33.4 0h2.1m-46.4 0.2h2.1m33.5 0h2.1m-22.3 0.1h2.1m21.6 0h2.1m7.8 0.1h2.1m-36.3 0.1h2.1m24.4 0h2.1m-43.2 0.1h2.1m11.5 0h2.1m-16.2 0h2.1m21.6 0.1h2.1m22 0.1h2.1m-22.9 0h2.1m-16.2 0h2.1m-6.8 0h2.1m-10.7 0.2h2.1m17.5 0h2.1m-10.7 0.1h2.1m12.2 0h2.1m0.9 0.1h2.1m-21.2 0.1h2.1m13.6 0h2.1m10.2 0h2.1m-4.7 0h2.1m-3.9 0.1h2.1m-7.4 0h2.1m19.5 0.1h2.1m-44 0h2.1m2.8 0h2.1m14.1 0h2.1m-22.5 0.1h2.1m21.2 0h2.1m-19.4 0.1h2.1m-16.5 0.1h2.1m44 0h2.1m-48.3 0h2.1m8.7 0h2.1m35.6 0h2.1m-50.7 0.1h2.1m-0.4 0.1h2.1m10.4 0h2.1m-7.9 0.2h2.1m14.5 0h2.1m-10.7 0.2h2.1m6 0h2.1m-21.6 0.1h2.1m20.4 0.2h2.1m1.9 0.1h2.1m-19.5 0.1h2.1m27.2 0h2.1m-4.7 0.1h2.1m-20.8 0h2.1m12.6 0h2.1m-17.4 0.1h2.1m-17.1 0h2.1m13.7 0.2h2.1m12.2 0.1h2.1m-28.7 0h2.1m30.1 0.1h2.1m-8.1 0.1h2.1m-16.1 0h2.1m2.4 0h2.1m1.2 0.1h2.1m-13.7 0.1h2.1m27.6 0h2.1m-6.7 0.1h2.1m-27.5 0.1h2.1m20.8 0.1h2.1m5.9 0.2h2.1m-5.8 0.1h2.1m-3.9 0h2.1m-19.2 0.1h2.1m17.3 0.1h2.1m-10 0h2.1m-5.5 0h2.1m-10.3 0.1h2.1m8.8 0.1h2.1m-37 0h2.1m40.7 0.2h2.1m-32.3 0h2.1m29.3 0.2h2.1m-23.5 0h2.1m16.9 0.2h2.1m-22.8 0.1h2.1m-8.9 0h2.1m28 0h2.1m-9.3 0.1h2.1m-16.3 0h2.1m-17.2 0h2.1m4.8 0h2.1m-16.7 0.1h2.1m9.1 0h2.1m-6.2 0.1h2.1m31.2 0h2.1m-31.6 0h2.1m18.6 0.1h2.1m-10.2 0h2.1m16.4 0h2.1m-24.8 0.1h2.1m12.7 0h2.1m-31.8 0h2.1m24.2 0.1h2.1m-18.9 0.2h2.1m-9.6 0h2.1m12.1 0.1h2.1m-15.3 0.1h2.1m31 0h2.1m3.6 0.1h2.1m-29.5 0h2.1m19.4 0h2.1m-9.2 0h2.1m-16.2 0h2.1m-3.2 0.1h2.1m10.5 0.1h2.1m-25.2 0h2.1m0.6 0h2.1m-12.6 0.1h2.1m26.7 0.1h2.1m-10.4 0h2.1m26.7 0h2.1m-38.8 0h2.1m32.8 0.1h2.1m-9.7 0h2.1m-42.7 0.1h2.1m-0.8 0.1h2.1m1.6 0h2.1m-4.6 0.1h2.1m39.4 0h2.1m-20.7 0.2h2.1m-23 0h2.1m1.1 0h2.1m28.4 0.1h2.1m-19.7 0.1h2.1m-10.5 0.1h2.1m-12.6 0h2.1m9 0h2.1m11.4 0.1h2.1m-29.4 0.1h2.1m42 0.1h2.1m-45.2 0h2.1m24.3 0.1h2.1m-7 0h2.1m-23.2 0h2.1m43.1 0.1h2.1m-20.6 0h2.1m-15.5 0h2.1m22.8 0h2.1m-29.4 0h2.1m12.3 0h2.1m-14.7 0h2.1m30.4 0.2h2.1m-46.7 0h2.1m7.4 0h2.1m14.7 0.1h2.1m-22.6 0.1h2.1m35.7 0.1h2.1m-40.7 0.1h2.1m41 0h2.1m-20.6 0h2.1m-23.1 0.1h2.1m8 0h2.1m-23.1 0.1h2.1m16 0h2.1m18.7 0.1h2.1m-32.7 0h2.1m24.6 0h2.1m-18.1 0.1h2.1m12 0h2.1m-34.9 0h2.1m34.7 0.1h2.1m-16.3 0.1h2.1m-11.6 0h2.1m26.1 0h2.1m-12.7 0h2.1m-20.9 0.1h2.1m-11.4 0h2.1m41.8 0h2.1m-38.5 0h2.1m-2.2 0h2.1m-11.9 0.1h2.1m16.5 0h2.1m-0.2 0h2.1m-15.1 0h2.1m15.8 0.1h2.1m7.7 0h2.1m7.6 0h2.1m-5.5 0h2.1m-36.2 0.1h2.1m9.4 0h2.1m-12 0h2.1m14.6 0.1h2.1m-9.2 0h2.1m-2.9 0h2.1m-17 0h2.1m32.4 0h2.1m-0.9 0h2.1m8.6 0.2h2.1m-9.7 0h2.1m-32.7 0h2.1m5.6 0.1h2.1m16.3 0h2.1m-25 0h2.1m-9.4 0h2.1m27.5 0h2.1m0.4 0.1h2.1m-26.9 0h2.1m0.3 0.1h2.1m10 0h2.1m-1.4 0.2h2.1m8.9 0h2.1m-42.7 0h2.1m3.5 0h2.1m37.5 0h2.1m-16.8 0.1h2.1m-7.3 0.1h2.1m6.7 0h2.1m-3.3 0.1h2.1m-19.5 0h2.1m-16.1 0h2.1m2.3 0h2.1m37.8 0.1h2.1m-2 0h2.1m-17 0.1h2.1m16.1 0.1h2.1m-1.7 0.1h2.1m-34.3 0h2.1m29.9 0.1h2.1m-9.2 0h2.1m-31.3 0.1h2.1m27.4 0h2.1m-17.3 0.1h2.1m-30.4 0h2.1m20.3 0.2h2.1m-21.1 0h2.1m2.5 0h2.1m29.9 0.1h2.1m-30.9 0h2.1m-9 0.4h2.1m14.4 0.1h2.1m-13.5 0h2.1m24.6 0.1h2.1m-25.5 0h2.1m11.1 0.1h2.1m-14.1 0h2.1m26.2 0.1h2.1m-4.7 0h2.1m-19.4 0.1h2.1m-10.7 0h2.1m33.9 0h2.1m-16.5 0h2.1m-22 0.1h2.1m34.2 0h2.1m-30.4 0.1h2.1m-6.3 0.1h2.1m15.5 0h2.1m-19.1 0.1h2.1m-21.5 0h2.1m14.1 0h2.1m-17.9 0h2.1m1 0.1h2.1m36 0h2.1m-40.3 0h2.1m28 0.1h2.1m-13.5 0h2.1m-18.8 0h2.1m7.3 0.2h2.1m-4.5 0h2.1m-14.4 0.1h2.1m20.4 0h2.1m-25.2 0h2.1m6.1 0h2.1m1.4 0h2.1m35.7 0.1h2.1m-39.2 0h2.1m-12.7 0h2.1m7.3 0.1h2.1m-1.3 0h2.1m19.3 0h2.1m-5.6 0h2.1m-19.6 0.1h2.1m-12.8 0.2h2.1m1.1 0h2.1m2 0h2.1m-8.9 0h2.1m26.1 0.1h2.1m15.2 0h2.1m-24.7 0h2.1m-23.3 0h2.1m30.6 0h2.1m-3.5 0.1h2.1m-16.5 0h2.1m22.6 0h2.1m-30.5 0h2.1m-6.7 0.2h2.1m12.2 0.1h2.1m18.1 0h2.1m-45.8 0h2.1m-3.1 0.1h2.1m8.1 0h2.1m22.5 0.1h2.1m-7.6 0h2.1m11.8 0h2.1m-15 0h2.1m-29.4 0.1h2.1m-2.1 0h2.1m39 0h2.1m-4 0.1h2.1m-35.7 0h2.1m18.9 0.2h2.1m-17 0h2.1m8.2 0h2.1m7.5 0h2.1m-11.6 0h2.1m-19.3 0h2.1m-9.8 0h2.1m26.2 0h2.1m-0.4 0h2.1m-11.3 0.1h2.1m13.6 0.1h2.1m-33.3 0.1h2.1m15.2 0h2.1m6.1 0.2h2.1m-10.5 0h2.1m15.4 0.1h2.1m7.1 0h2.1m-3.7 0.1h2.1m-43.9 0.2h2.1m26.2 0.2h2.1m2.8 0h2.1m-5.8 0h2.1m-18.5 0h2.1m21.6 0.2h2.1m-8.1 0.1h2.1m-14.1 0.1h2.1m-18.4 0h2.1m7.1 0.1h2.1m-17.6 0h2.1m33.4 0h2.1m-38.4 0.1h2.1m-5.7 0.1h2.1m26.8 0h2.1m-0.5 0h2.1m7.8 0.2h2.1m-27.4 0.1h2.1m-0.7 0.2h2.1m-7.6 0.1h2.1m6.5 0.1h2.1m-9.5 0.1h2.1m37.6 0h2.1m-14.2 0.1h2.1m-27.9 0h2.1m35 0h2.1m-28.2 0h2.1m22.4 0h2.1m-4.4 0.1h2.1m-11 0h2.1m4.1 0.1h2.1m-23.6 0.2h2.1m-23.6 0h2.1m42.8 0.1h2.1m-15.1 0h2.1m8.7 0h2.1m-28.9 0h2.1m7.8 0.1h2.1m-27.2 0h2.1m13.1 0h2.1m1.5 0.1h2.1m2.9 0h2.1m4.1 0.1h2.1m1.9 0h2.1m7.8 0h2.1m-0.1 0.1h2.1m-5.3 0h2.1m-19.1 0h2.1m14.3 0.1h2.1m-8.5 0.1h2.1m-34.9 0.1h2.1m39.3 0h2.1m-14.1 0h2.1m-21.2 0h2.1m34 0.1h2.1m-43.8 0h2.1m17.1 0.1h2.1m0.2 0h2.1m17 0.1h2.1m-17.5 0h2.1m-3.3 0h2.1m-12.7 0.1h2.1m-21 0h2.1m15.1 0h2.1m27.7 0h2.1m-22.6 0.2h2.1m15.2 0h2.1m-19.3 0.1h2.1m18.9 0.1h2.1m-4.7 0h2.1m-32.6 0h2.1m15.3 0.1h2.1m-30.5 0h2.1m37.4 0.1h2.1m-42.7 0.1h2.1m43 0h2.1m-39.9 0h2.1m-3.7 0h2.1m-1.3 0h2.1m10.4 0.1h2.1m7.4 0h2.1m-25.4 0h2.1m23 0.1h2.1m-27.5 0h2.1m34.3 0.1h2.1m-1.4 0h2.1m-8 0.1h2.1m-18.1 0h2.1m13.2 0h2.1m-9.3 0.1h2.1m-36.6 0h2.1m12 0h2.1m20.6 0h2.1m-28.9 0.1h2.1m-7 0h2.1m30.7 0h2.1m-22.1 0h2.1m-13.5 0.1h2.1m36.7 0h2.1m-12.9 0.1h2.1m12.7 0.1h2.1m-22.1 0h2.1m17.6 0h2.1m-17.9 0.1h2.1m-13.1 0h2.1m-12.1 0.1h2.1m-10.6 0h2.1m44.1 0h2.1m-46.7 0h2.1m-0.3 0h2.1m38.4 0.1h2.1m-22.7 0.1h2.1m18.8 0h2.1m-26.2 0h2.1m14.3 0.1h2.1m-41.4 0h2.1m17.6 0.1h2.1m7.2 0h2.1m18 0.1h2.1m-26.1 0.1h2.1m9.2 0.1h2.1m-24.9 0h2.1m20.8 0.1h2.1m-15.3 0h2.1m4 0h2.1m5.5 0.2h2.1m2 0h2.1m-2.9 0h2.1m-42.7 0h2.1m8.6 0.1h2.1m-0.3 0h2.1m-5.3 0.1h2.1m-7.5 0h2.1m-0.6 0.2h2.1m2.7 0h2.1m1.3 0.1h2.1m-6.1 0.1h2.1m8 0h2.1m12.5 0.2h2.1m-36.9 0.1h2.1m23.1 0.1h2.1m-23.5 0h2.1m29.3 0.1h2.1m4.6 0.1h2.1m-39.9 0h2.1m21.4 0.1h2.1m-14 0h2.1m-10.6 0.1h2.1m5.9 0h2.1m20.2 0.1h2.1m-7.7 0h2.1m-19.8 0.1h2.1m-3.3 0.1h2.1m19.2 0.1h2.1m-3.9 0h2.1m2.2 0h2.1m11.7 0h2.1m-10.9 0h2.1m3.9 0h2.1m-26.7 0.1h2.1m25.2 0h2.1m-44.6 0.1h2.1m3.4 0h2.1m27.7 0h2.1m-33.1 0h2.1m9.8 0h2.1m-6 0h2.1m22.7 0.3h2.1m-44.9 0h2.1m5.4 0h2.1m8.3 0.1h2.1m-0.8 0h2.1m24.5 0h2.1m-4.5 0h2.1m-18.6 0h2.1m6.7 0h2.1m-10.6 0h2.1m0.3 0.1h2.1m7.7 0.1h2.1m-13 0h2.1m-22 0h2.1m5.2 0h2.1m-4.1 0.1h2.1m-3.5 0h2.1m19 0h2.1m-26.8 0.1h2.1m-8.1 0h2.1m30.9 0h2.1m-27.5 0.1h2.1m-1.5 0h2.1m26.4 0.1h2.1m-16.4 0h2.1m8.9 0h2.1m-36.8 0.1h2.1m40 0h2.1m-18.6 0h2.1m-31.8 0h2.1m12.9 0h2.1m12.2 0.2h2.1m1.4 0.1h2.1m12.1 0h2.1m2.3 0h2.1m-40.9 0h2.1m11.8 0h2.1m1.7 0h2.1m19.1 0h2.1m-48.2 0h2.1m29.3 0.1h2.1m5.9 0.1h2.1m-18.2 0.1h2.1m-13.3 0h2.1m11.4 0h2.1m-9.7 0h2.1m-8.1 0.2h2.1m21.7 0h2.1m-19 0.1h2.1m-0 0h2.1m-1.5 0.1h2.1m21.2 0h2.1m-42.8 0h2.1m2.5 0.1h2.1m-14 0h2.1m24.3 0.1h2.1m-2 0h2.1m-7.4 0.1h2.1m20.9 0.1h2.1m-2 0h2.1m-45.6 0h2.1m45.1 0h2.1m-24.6 0.1h2.1m-29.8 0h2.1m45.1 0h2.1m-6.9 0.2h2.1m-17.8 0.1h2.1m13.2 0h2.1m-7.1 0.1h2.1m-16.2 0h2.1m-15.6 0.1h2.1m23.8 0h2.1m-7.9 0.1h2.1m1 0h2.1m-4.5 0h2.1m-25.3 0.1h2.1m27.8 0h2.1m-20.9 0h2.1m19.6 0.1h2.1m-17.6 0.1h2.1m15.7 0h2.1m-15.6 0h2.1m0.5 0.1h2.1m10.3 0h2.1m-17.4 0h2.1m-14 0h2.1m-12.4 0h2.1m25.8 0.1h2.1m3.7 0h2.1m-4.3 0.1h2.1m5.1 0h2.1m-13.2 0h2.1m-15.8 0.1h2.1m-17.9 0.1h2.1m31.3 0.1h2.1m-2.3 0h2.1m-13.2 0h2.1m4.3 0h2.1m7.6 0.1h2.1m-30.4 0.1h2.1m29.9 0h2.1m-44.2 0h2.1m32.1 0.1h2.1m-3.4 0h2.1m-33.2 0h2.1m1.1 0.1h2.1m-10.2 0h2.1m32.8 0h2.1m-33.5 0.1h2.1m-0.1 0h2.1m-7.9 0.1h2.1m14.2 0.1h2.1m6.1 0h2.1m12.5 0h2.1m-6.8 0.2h2.1m-1.1 0h2.1m-7.1 0h2.1m4.7 0.1h2.1m-9.4 0.1h2.1m-0.8 0h2.1m-14.2 0.1h2.1m-8.9 0h2.1m-8.2 0h2.1m7.5 0h2.1m3.3 0h2.1m3.9 0h2.1m-24.9 0h2.1m33.2 0.1h2.1m2.9 0h2.1m-36.2 0.1h2.1m18.2 0.1h2.1m7.1 0h2.1m5.9 0h2.1m-11.9 0h2.1m-24.4 0h2.1m1.9 0.1h2.1m12.2 0h2.1m0.6 0h2.1m10.3 0.1h2.1m-46.8 0h2.1m3.3 0h2.1m27.7 0h2.1m-19.8 0h2.1m-20.5 0h2.1m2.2 0h2.1m22.9 0h2.1m4.7 0.1h2.1m3 0h2.1m-37.3 0h2.1m-4.8 0h2.1m26.5 0.1h2.1m-37.2 0h2.1m8.6 0h2.1m10.6 0.1h2.1m18.8 0h2.1m-47.4 0.1h2.1m32.8 0h2.1m-23.6 0.1h2.1m28.6 0h2.1m-26.9 0.1h2.1m11.1 0.1h2.1m4.7 0h2.1m-19.2 0h2.1m-16.7 0.1h2.1m2 0h2.1m-8.1 0h2.1m-3.3 0h2.1m29.8 0.1h2.1m-5.5 0h2.1m5.4 0.2h2.1m-17.1 0h2.1m21.1 0h2.1m-11.9 0h2.1m-10.1 0.2h2.1m-21.8 0h2.1m32.4 0.1h2.1m-1.6 0h2.1m-22.6 0h2.1m-6.6 0h2.1m-21.2 0.1h2.1m20.3 0.1h2.1m4.4 0.1h2.1m-18.6 0h2.1m20.9 0h2.1m-25.2 0h2.1m33.6 0.1h2.1m-15.1 0.1h2.1m-9.9 0h2.1m3.5 0h2.1m-25.1 0h2.1m3.9 0.1h2.1m5 0h2.1m-8.8 0h2.1m30.8 0.1h2.1m-36.3 0h2.1m-17.6 0h2.1m18.2 0h2.1m-22.7 0.1h2.1m-3.2 0h2.1m10.8 0.1h2.1m16.9 0h2.1m-1.8 0h2.1m-10 0h2.1m-6.9 0h2.1m0.1 0h2.1m-8.4 0.1h2.1m11.9 0.1h2.1m-13.4 0h2.1m17.2 0.1h2.1m-32.7 0h2.1m-0.9 0h2.1m-3.9 0.1h2.1m1 0.1h2.1m-6.8 0h2.1m21.9 0h2.1m2 0.1h2.1m-19.8 0h2.1m23.2 0.1h2.1m-18.4 0h2.1m-3.4 0.1h2.1m0.4 0h2.1m5.8 0.1h2.1m-12.2 0.1h2.1m-3.8 0h2.1m4.5 0.1h2.1m-22.6 0h2.1m37.3 0.1h2.1m-12.4 0.1h2.1m-17 0h2.1m-8.4 0.1h2.1m23.4 0h2.1m4.6 0h2.1m-47.9 0h2.1m3.4 0h2.1m40.9 0.1h2.1m-21.9 0h2.1m-24.8 0h2.1m15.1 0h2.1m-20.5 0.1h2.1m-8.4 0.1h2.1m29.1 0h2.1m-15.9 0h2.1m30.2 0h2.1m-19.6 0h2.1m-14.4 0.1h2.1m20.9 0h2.1m-33.7 0h2.1m14.5 0h2.1m-28.3 0h2.1m24.1 0.1h2.1m-19.1 0h2.1m36.5 0.1h2.1m-19.7 0h2.1m-14.4 0h2.1m10 0h2.1m-18.1 0.1h2.1m-10.3 0h2.1m19.2 0.1h2.1m4.5 0h2.1m-29 0.1h2.1m38.2 0h2.1m-12.6 0.1h2.1m-4 0h2.1m-20.2 0h2.1m20.8 0h2.1m-6.5 0h2.1m-12.2 0.1h2.1m-5.8 0h2.1m17 0h2.1m-34.2 0.1h2.1m20.7 0h2.1m-13.1 0h2.1m-4.2 0h2.1m-18.3 0.1h2.1m16 0h2.1m-13.8 0h2.1m-12.9 0.1h2.1m-1.8 0h2.1m13.2 0h2.1m20.6 0.1h2.1m-38.1 0.1h2.1m-1.9 0h2.1m32 0h2.1m-28.6 0.1h2.1m26.4 0h2.1m10.2 0.2h2.1m-49.7 0h2.1m40.6 0h2.1m-0.5 0.1h2.1m-46.4 0.1h2.1m3 0h2.1m33 0.1h2.1m-11.7 0.1h2.1m4.3 0h2.1m-12.1 0.1h2.1m-1.7 0h2.1m11.7 0h2.1m-19.6 0h2.1m16.7 0.1h2.1m-26.6 0h2.1m8 0h2.1m-19 0h2.1m12.2 0h2.1m0.8 0h2.1m-18.1 0h2.1m11.2 0.1h2.1m11.7 0h2.1m-11 0.1h2.1m-28.1 0h2.1m-1.9 0h2.1m25.1 0h2.1m-2.5 0h2.1m3.5 0.1h2.1m-0.4 0h2.1m-2 0h2.1m-42.1 0.1h2.1m3.8 0h2.1m1.6 0.1h2.1m1.6 0.1h2.1m10.4 0h2.1m-3.5 0.1h2.1m-6.9 0h2.1m-12.2 0.1h2.1m23.5 0h2.1m-3.1 0h2.1m11.2 0.1h2.1m-17.9 0h2.1m-5.8 0h2.1m-16.3 0.1h2.1m13.2 0h2.1m0.8 0h2.1m13 0h2.1m-24.2 0.1h2.1m13.5 0h2.1m-5.5 0h2.1m6.2 0.1h2.1m-33.9 0h2.1m22 0h2.1m-19.9 0h2.1m-13.6 0h2.1m22.3 0h2.1m-8 0.1h2.1m-25.6 0.1h2.1m13.7 0h2.1m6.6 0.1h2.1m6.3 0h2.1m-22.4 0h2.1m-16.7 0.1h2.1m45.9 0h2.1m-10.7 0.1h2.1m-33.3 0h2.1m-8.7 0h2.1m4.3 0h2.1m27 0h2.1m-8.8 0h2.1m-33.8 0h2.1m31.9 0.1h2.1m-20.1 0.1h2.1m5.8 0h2.1m-13.4 0h2.1m21.5 0.1h2.1m-14.9 0h2.1m-3.3 0h2.1m-2.2 0h2.1m3.6 0h2.1m-21.5 0.1h2.1m19.7 0.1h2.1m-4.3 0h2.1m-15.1 0h2.1m27.6 0h2.1m-38.5 0h2.1m-7.7 0h2.1m44.4 0h2.1m-20.8 0.1h2.1m-2 0h2.1m13.1 0h2.1m-25.9 0h2.1m19.2 0h2.1m-3.9 0.1h2.1m-35.7 0.1h2.1m6.5 0h2.1m18.4 0h2.1m-5.9 0h2.1m-5.7 0h2.1m-25.5 0h2.1m-4.6 0.1h2.1m29 0h2.1m1.2 0h2.1m-24.9 0.2h2.1m25.2 0h2.1m-41.6 0h2.1m22.9 0.1h2.1m-24.7 0.1h2.1m-0.8 0.1h2.1m7.6 0.1h2.1m-6.9 0h2.1m-10.9 0h2.1m15.9 0.1h2.1m-12.5 0.1h2.1m31.2 0h2.1m-23 0h2.1m-4.9 0.1h2.1m-7.4 0h2.1m1 0.1h2.1m-8 0.1h2.1m-9.3 0h2.1m-5.9 0h2.1m10.1 0.2h2.1m-13.5 0h2.1m9.8 0h2.1m7.4 0.1h2.1m-2.5 0.1h2.1m-6.4 0h2.1m-12.4 0h2.1m-4.6 0h2.1m6.4 0.1h2.1m26.3 0.1h2.1m-3.7 0h2.1m-9.5 0h2.1m-37.8 0h2.1m13.2 0.1h2.1m-12.3 0h2.1m1 0h2.1m33.4 0.2h2.1m-41.3 0h2.1m42.4 0.1h2.1m-42.7 0.1h2.1m36.4 0h2.1m-40.5 0.1h2.1m34.5 0h2.1m-21.2 0h2.1m3.3 0h2.1m-19.6 0.2h2.1m22.9 0.1h2.1m1.8 0h2.1m-32.5 0h2.1m-8.1 0.1h2.1m-7 0h2.1m44.8 0.1h2.1m-17 0h2.1m-6.5 0h2.1m10.4 0.1h2.1m-28.9 0.1h2.1m28 0h2.1m-25.9 0.1h2.1m9.3 0h2.1m-15.2 0h2.1m-15.8 0.1h2.1m14.8 0h2.1m-6.2 0h2.1m8.8 0h2.1m-11.1 0.1h2.1m20.6 0h2.1m-7.1 0h2.1m-6.1 0h2.1m-6.6 0.1h2.1m1.8 0h2.1m9.5 0.2h2.1m-3.2 0h2.1m-12.4 0h2.1m-28.8 0h2.1m21.6 0.1h2.1m-11.9 0h2.1m9.5 0h2.1m-7.8 0h2.1m0.6 0.1h2.1m-0.4 0h2.1m15.7 0h2.1m-45.9 0.1h2.1m-3.7 0.1h2.1m43.6 0.1h2.1m-3.4 0h2.1m-25.5 0.1h2.1m14.6 0.1h2.1m-14.8 0h2.1m-22.2 0.1h2.1m34.2 0h2.1m-18 0h2.1m3.5 0h2.1m-2.6 0.1h2.1m10.7 0h2.1m-32.2 0.1h2.1m-3.3 0h2.1m14.7 0h2.1m12.7 0h2.1m-17.1 0.1h2.1m-27.5 0h2.1m-2.4 0h2.1m7.3 0.1h2.1m2.1 0h2.1m-16.5 0h2.1m-6.2 0h2.1m32.3 0.1h2.1m-21 0h2.1m-17 0h2.1m33.9 0h2.1m-23.6 0.1h2.1m28.9 0h2.1m-3.4 0.1h2.1m-11.1 0h2.1m4.4 0.1h2.1m-36.7 0h2.1m34.9 0h2.1m-45.3 0.1h2.1m9.5 0h2.1m-8.3 0h2.1m5 0h2.1m27.9 0.1h2.1m-6.3 0.1h2.1m-2.5 0h2.1m-5.3 0h2.1m-28.6 0.1h2.1m-7.1 0h2.1m5.9 0h2.1m29.2 0h2.1m-17.8 0.4h2.1m-27.1 0h2.1m36.6 0.1h2.1m-37.4 0h2.1m-2.4 0h2.1m11.1 0h2.1m7.4 0.1h2.1m-25.7 0h2.1m26.2 0h2.1m-37.6 0h2.1m44.7 0h2.1m-14.8 0h2.1m0.9 0.1h2.1m-0.7 0h2.1m-38.5 0.1h2.1m35.5 0h2.1m-3 0h2.1m10.5 0h2.1m-53.4 0h2.1m12.3 0h2.1m14.4 0.1h2.1m6.2 0.1h2.1m-32.2 0h2.1m3.6 0h2.1m-14.5 0.1h2.1m9.7 0h2.1m15.9 0h2.1m12.8 0.1h2.1m-15.2 0.1h2.1m12.3 0.1h2.1m0.7 0h2.1m-31.6 0h2.1m9 0h2.1m14.7 0.1h2.1m-19.1 0h2.1m-24.5 0.1h2.1m33.2 0h2.1m-42.5 0h2.1m28.5 0h2.1m-20.9 0.1h2.1m-13.2 0h2.1m35.9 0h2.1m-30.5 0h2.1m11.9 0.1h2.1m8.2 0.1h2.1m-30.5 0h2.1m-11.7 0h2.1m21.8 0.1h2.1m21.7 0h2.1m-31.4 0.1h2.1m6.1 0h2.1m-9.7 0.1h2.1m2.3 0h2.1m18.3 0h2.1m-10.7 0.1h2.1m5.6 0.1h2.1m-17.6 0h2.1m16.2 0.1h2.1m-27.8 0h2.1m26.3 0h2.1m-19.3 0h2.1m-0.9 0h2.1m-34.9 0h2.1m36.8 0h2.1m-40.6 0.1h2.1m32.2 0h2.1m-22.7 0h2.1m4.6 0.1h2.1m-12.2 0.1h2.1m36.9 0h2.1m-42.1 0.1h2.1m-9.1 0h2.1m42.8 0h2.1m-8.7 0.1h2.1m-23.2 0h2.1m-10.3 0h2.1m2.4 0.1h2.1m19.9 0h2.1m-1.2 0.1h2.1m4.9 0h2.1m-47.4 0.1h2.1m-0.2 0.1h2.1m-1.4 0.1h2.1m38 0.1h2.1m-43.9 0.1h2.1m19.7 0h2.1m-24.8 0.1h2.1m23.9 0h2.1m12 0.1h2.1m-10.1 0h2.1m-24.8 0h2.1m-12.9 0h2.1m3.5 0h2.1m27.1 0.1h2.1m-8.7 0.1h2.1m5.7 0h2.1m-34.3 0h2.1m-1.2 0h2.1m0.8 0.1h2.1m24.3 0h2.1m-31.7 0.2h2.1m9.3 0h2.1m16.6 0h2.1m-0.1 0h2.1m-28.5 0.2h2.1m-2.1 0.1h2.1m-0.4 0h2.1m15.3 0.1h2.1m-28 0.1h2.1m22 0h2.1m-8.8 0h2.1m-3.3 0.1h2.1m-0.7 0h2.1m17.4 0.1h2.1m8.3 0h2.1m-49.4 0h2.1m23.2 0.1h2.1m-29.1 0.1h2.1m35.3 0.1h2.1m0.5 0h2.1m-8 0.1h2.1m-21.2 0h2.1m-19.4 0.1h2.1m48 0h2.1m-49.9 0h2.1m27.1 0h2.1m-22.2 0.1h2.1m-11.5 0h2.1m42.8 0h2.1m-25.6 0.3h2.1m-19.3 0h2.1m28.9 0h2.1m10.5 0h2.1m-40.1 0h2.1m-12.1 0.1h2.1m15.3 0h2.1m5.9 0.1h2.1m-26.2 0h2.1m41.6 0.1h2.1m-28.9 0h2.1m-20 0.1h2.1m10.7 0h2.1m13.6 0.1h2.1m-16.3 0.2h2.1m9.1 0.1h2.1m0.7 0.2h2.1m-0.5 0.1h2.1m-25.7 0h2.1m33.6 0.1h2.1m-40.2 0h2.1m30.7 0.1h2.1m-5.6 0h2.1m-37.8 0h2.1m45.5 0.1h2.1m-39.1 0h2.1m2.6 0h2.1m-13.7 0h2.1m32.8 0h2.1m3.9 0.1h2.1m-42.4 0h2.1m36.2 0.1h2.1m-7.8 0h2.1m-23.1 0.1h2.1m-15.7 0h2.1m43.8 0.1h2.1m-10.4 0h2.1m-27.5 0h2.1m21.1 0h2.1m-5.3 0.1h2.1m-8.8 0h2.1m15.3 0.1h2.1m-11.2 0h2.1m-0.9 0.1h2.1m-35 0h2.1m34.4 0h2.1m-32.5 0h2.1m-12.4 0.1h2.1m27.1 0.1h2.1m-24.5 0h2.1m-2.3 0h2.1m29.3 0h2.1m-38 0.1h2.1m30.1 0.1h2.1m-19.7 0.1h2.1m-1.9 0h2.1m24.1 0h2.1m-26.6 0.1h2.1m-16.1 0.1h2.1m-1.7 0h2.1m16.7 0h2.1m-6.8 0.1h2.1m-10.6 0h2.1m3.7 0h2.1m30 0.1h2.1m-21.8 0h2.1m-2.2 0.1h2.1m6.9 0h2.1m1.2 0h2.1m-31.8 0h2.1m32.6 0h2.1m-33.2 0h2.1m17.7 0.1h2.1m-3.9 0.1h2.1m-23.2 0.1h2.1m32.3 0h2.1m-3 0h2.1m-1.3 0h2.1m-44.9 0.1h2.1m6.1 0h2.1m6.2 0.1h2.1m26.2 0h2.1m-45.6 0h2.1m28.1 0.1h2.1m-27.6 0.1h2.1m29.1 0h2.1m-19 0h2.1m15.7 0h2.1m-21.6 0h2.1m-12 0.1h2.1m25.4 0h2.1m-11.3 0.1h2.1m-21 0h2.1m-11.6 0.1h2.1m39.5 0h2.1m-31.2 0.1h2.1m18.3 0h2.1m-14.3 0.1h2.1m9.1 0.1h2.1m-5.7 0.1h2.1m-14.6 0.2h2.1m18.9 0h2.1m-24.3 0.2h2.1m22.4 0h2.1m-21.8 0.1h2.1m22.3 0h2.1m-6 0.3h2.1m-16 0h2.1m19.2 0h2.1m-6 0.1h2.1m-2.3 0.1h2.1m-33.9 0h2.1m-9.4 0h2.1m33.9 0.1h2.1m-25.2 0h2.1m6.6 0h2.1m5.3 0.1h2.1m6.5 0.1h2.1m-21.2 0.1h2.1m-9.3 0.1h2.1m17.6 0h2.1m-35.5 0h2.1m32.6 0h2.1m-11.3 0h2.1m-16.4 0.1h2.1m14.8 0h2.1m5.2 0h2.1m6.7 0.1h2.1m-12.3 0h2.1m-10.3 0.1h2.1m-21.5 0h2.1m33.1 0.1h2.1m-35.2 0.2h2.1m27.8 0h2.1m-29.7 0.1h2.1m30.8 0.1h2.1m-13.1 0h2.1m-20.5 0.1h2.1m31.5 0h2.1m-16.9 0h2.1m4.6 0.1h2.1m-15.9 0h2.1m3 0h2.1m-32.3 0h2.1m10.1 0.1h2.1m-17.9 0h2.1m35.4 0h2.1m-15.6 0.1h2.1m-23 0h2.1m9.9 0.1h2.1m28.2 0.1h2.1m-17.5 0.1h2.1m-32.5 0h2.1m32.3 0h2.1m6.5 0.1h2.1m-41.9 0.1h2.1m29.6 0h2.1m-33.5 0h2.1m-4.9 0.1h2.1m47.5 0.1h2.1m-39.2 0h2.1m32.9 0.1h2.1m-27.7 0.2h2.1m-13.7 0h2.1m-10.5 0.1h2.1m41.3 0h2.1m-15.2 0.1h2.1m-28.4 0h2.1m25.9 0.1h2.1m-11.6 0.1h2.1m20.4 0.1h2.1m-44.1 0h2.1m8 0.1h2.1m28.8 0.1h2.1m-34.6 0h2.1m13.2 0.1h2.1m1.1 0.1h2.1m-16.6 0h2.1m-6.4 0.1h2.1m11.3 0.1h2.1m-21.5 0h2.1m16.6 0h2.1m21.4 0h2.1m-20.8 0.1h2.1m3.9 0.1h2.1m-27.5 0h2.1m36.7 0.1h2.1m-51.1 0h2.1m30.5 0h2.1m-14.8 0h2.1m-7.4 0h2.1m-12.7 0h2.1m15.3 0.1h2.1m-17 0.1h2.1m-4.1 0h2.1m25 0h2.1m-20.8 0.1h2.1m16.5 0.2h2.1m-14.6 0h2.1m14.6 0.1h2.1m-33.7 0.1h2.1m3.8 0.1h2.1m5 0.1h2.1m27.9 0h2.1m-44.1 0h2.1m-3.1 0.1h2.1m35.5 0.1h2.1m-13.6 0.1h2.1m-28.1 0.2h2.1m-4.1 0.2h2.1m42.5 0h2.1m-33.3 0.1h2.1m18.2 0h2.1m5.3 0h2.1m-33.5 0h2.1m-8.3 0.1h2.1m33.4 0h2.1m-41.2 0.1h2.1m-4.9 0h2.1m13 0.1h2.1m0.9 0.1h2.1m15.6 0h2.1m-17.2 0h2.1m11.8 0h2.1m-31.8 0.1h2.1m2.7 0.1h2.1m-9.5 0h2.1m2.7 0.1h2.1m35.6 0.1h2.1m-30.9 0h2.1m26.9 0.1h2.1m-26.7 0.2h2.1m-4.7 0h2.1m-5.8 0.1h2.1m25.4 0h2.1m-30.1 0h2.1m22 0.1h2.1m-3.9 0h2.1m-38.8 0h2.1m4.1 0.1h2.1m4.7 0h2.1m25.1 0h2.1m-18.4 0.1h2.1m-18.9 0h2.1m22.2 0.2h2.1m-33.4 0h2.1m-2.1 0h2.1m1.6 0h2.1m13.6 0h2.1m25.7 0.1h2.1m-39.2 0h2.1m17.3 0h2.1m11.3 0h2.1m-27.3 0.1h2.1m19.6 0h2.1m-34.9 0.1h2.1m35.3 0h2.1m-28.9 0.1h2.1m-14.5 0h2.1m2.3 0h2.1m33.4 0h2.1m-19.7 0h2.1m16.5 0h2.1m-8.6 0.1h2.1m-6.5 0h2.1m-28.8 0h2.1m17.8 0h2.1m-24.3 0h2.1m13.3 0h2.1m10.2 0.1h2.1m4.5 0.1h2.1m-27.5 0h2.1m25.6 0.3h2.1m-11.1 0h2.1m-34.8 0.1h2.1m31.9 0.1h2.1m-27.3 0h2.1m8.9 0h2.1m-7.8 0.2h2.1m-8.1 0h2.1m10.3 0.1h2.1m5.4 0h2.1m-23.2 0.2h2.1m21.3 0h2.1m-12.7 0h2.1m-19.9 0.1h2.1m-0.1 0h2.1m8.4 0.1h2.1m-10.7 0h2.1m-6.3 0h2.1m0.9 0.2h2.1m35 0h2.1m-42.2 0h2.1m25.5 0.1h2.1m-24.6 0h2.1m21.1 0h2.1m10.3 0h2.1m-4 0.1h2.1m-0.6 0h2.1m-9.6 0h2.1m7.2 0h2.1m-8.3 0.1h2.1m-17.4 0.1h2.1m-8.4 0h2.1m2.1 0h2.1m10.1 0h2.1m-11 0.1h2.1m-17.2 0.1h2.1m29 0h2.1m-25.8 0h2.1m29.5 0.1h2.1m-23.8 0h2.1m-27.1 0h2.1m37.3 0h2.1m-14.5 0.1h2.1m-28.3 0h2.1m12 0h2.1m30 0.1h2.1m-0.8 0h2.1m-10.4 0h2.1m-27.4 0.2h2.1m-2 0h2.1m26.3 0.1h2.1m1.1 0h2.1m-45.4 0.1h2.1m7.1 0h2.1m30.7 0.1h2.1m-22.5 0.1h2.1m-11.5 0h2.1m-3.1 0.1h2.1m15.7 0.1h2.1m-15.7 0.1h2.1m2 0.1h2.1m0.7 0h2.1m-23 0.1h2.1m17.8 0h2.1m21.5 0.1h2.1m-50.7 0h2.1m7.8 0.1h2.1m-0.2 0h2.1m22.6 0.2h2.1m-29.3 0h2.1m10 0.4h2.1m25.1 0h2.1m-26 0h2.1m6.6 0.1h2.1m-37.1 0h2.1m43.2 0h2.1m-24.4 0.1h2.1m-5.5 0h2.1m-8.3 0.3h2.1m-11.6 0.1h2.1m0.1 0.1h2.1m28.4 0.1h2.1m-1.4 0h2.1m-17.8 0.1h2.1m14 0.2h2.1m6.4 0h2.1m-20.6 0h2.1m-26.7 0.1h2.1m4 0h2.1m37.2 0.1h2.1m-4.1 0h2.1m-36.8 0h2.1m26.4 0h2.1m-40.6 0.1h2.1m41.7 0h2.1m-40.2 0.1h2.1m-0.6 0h2.1m28.2 0.1h2.1m-28.1 0h2.1m-12 0.1h2.1m11.7 0h2.1m25.5 0h2.1m-6.7 0.1h2.1m7.4 0h2.1m-47.3 0h2.1m-3.7 0.1h2.1m9.4 0h2.1m25.3 0.1h2.1m-24.1 0.3h2.1m-13.3 0.1h2.1m-8.4 0h2.1m38.1 0.1h2.1m-3.5 0h2.1m-8.1 0h2.1m-35.8 0h2.1m20.3 0.1h2.1m-25.7 0h2.1m10 0.2h2.1m0.7 0.2h2.1m4.6 0h2.1m26.9 0.2h2.1m-47.2 0h2.1m6.2 0.1h2.1m-7.9 0.1h2.1m31.1 0h2.1m-9 0.1h2.1m-21.1 0h2.1m30.9 0.1h2.1m-16.7 0.1h2.1m-15.3 0h2.1m-9 0h2.1m25.8 0.1h2.1m-27.4 0h2.1m31.9 0.1h2.1m-16.2 0h2.1m-3.8 0.1h2.1m-18.4 0.1h2.1m17 0h2.1m-21.3 0h2.1m0.1 0.2h2.1m-9.4 0h2.1m22.5 0.2h2.1m1.3 0.1h2.1m-39.3 0h2.1m0.1 0h2.1m0.4 0.1h2.1m10.2 0h2.1m-3.1 0.1h2.1m10.2 0h2.1m-5.3 0.1h2.1m-5.7 0.1h2.1m-5.5 0.1h2.1m-3 0h2.1m-21.3 0.1h2.1m37.1 0h2.1m5.9 0.1h2.1m-7.5 0.1h2.1m-36.9 0.1h2.1m-9.7 0.1h2.1m23.4 0h2.1m-17.3 0.3h2.1m6.5 0h2.1m17.2 0.2h2.1m-20.9 0.1h2.1m7 0h2.1m-11.9 0.1h2.1m28.2 0h2.1m-13.3 0.1h2.1m-7.9 0h2.1m-27.8 0h2.1m-9.1 0.2h2.1m37 0.1h2.1m5.2 0.1h2.1m-44.2 0h2.1m19.9 0h2.1m-27.7 0.1h2.1m2.9 0.1h2.1m32.5 0h2.1m8.6 0.1h2.1m-39 0.2h2.1m0.8 0h2.1m11.1 0h2.1m-31.7 0h2.1m-2.4 0.1h2.1m13.5 0h2.1m-12.7 0h2.1m25.8 0.1h2.1m-1.5 0.1h2.1m-18.4 0.1h2.1m-8 0h2.1m2.5 0.1h2.1m-19 0.1h2.1m34 0.1h2.1m-15.1 0h2.1m5.9 0h2.1m7 0.1h2.1m9 0.1h2.1m-5 0h2.1m-15.9 0.1h2.1m-26.4 0h2.1m5.8 0.1h2.1m22.7 0.1h2.1m-9.4 0.1h2.1m-30.6 0.1h2.1m14.7 0h2.1m-13.2 0h2.1m-9.2 0.1h2.1m34 0.1h2.1m-34.6 0h2.1m39.6 0.3h2.1m-41.7 0.2h2.1m-9.8 0.1h2.1m-3.5 0h2.1m8.3 0h2.1m20.5 0h2.1m-34.5 0.1h2.1m5.7 0h2.1m-1.7 0h2.1m38.5 0h2.1m-29.6 0.5h2.1m-10.2 0h2.1m16.8 0.1h2.1m-18.7 0.1h2.1m-2.7 0h2.1m-17.2 0h2.1m-0 0h2.1m2.6 0.1h2.1m28.1 0h2.1m5 0.1h2.1m-35.7 0h2.1m33.4 0.1h2.1m-38.9 0.1h2.1m8.4 0h2.1m-3.5 0.1h2.1m-16.2 0.1h2.1m24.7 0h2.1m8.3 0.1h2.1m-8.1 0.1h2.1m-30.2 0h2.1m33.7 0.1h2.1m-17.1 0.1h2.1m-23.9 0h2.1m-4.9 0h2.1m39.1 0.1h2.1m-49.3 0h2.1m47.3 0.2h2.1m-15.2 0h2.1m8.5 0.2h2.1m-42.2 0.2h2.1m38.8 0.3h2.1m1 0.1h2.1m-35.4 0h2.1m23.3 0.1h2.1m-22.9 0h2.1m-3.6 0.1h2.1m-16.1 0h2.1m40.8 0h2.1m-24.3 0.1h2.1m11.6 0h2.1m-42.9 0.1h2.1m46.9 0h2.1m-5.5 0.1h2.1m-24.1 0h2.1m21.4 0.1h2.1m-42.3 0h2.1m31.8 0h2.1m2.2 0h2.1m-30.6 0.1h2.1m-1.3 0.1h2.1m13.5 0.2h2.1m-8 0h2.1m-21.7 0.1h2.1m40.3 0h2.1m-39 0h2.1m25.6 0h2.1m-18.4 0h2.1m17.3 0.2h2.1m-32.4 0h2.1m9.7 0.1h2.1m-9.8 0.2h2.1m-11.9 0h2.1m25.1 0.1h2.1m7.9 0.1h2.1m-25.6 0h2.1m-14.9 0.1h2.1m20.8 0h2.1m6.1 0.2h2.1m-33.3 0.1h2.1m25.2 0.1h2.1m-20 0.3h2.1m27.2 0h2.1m-0.6 0h2.1m-3.1 0.1h2.1m-21.7 0h2.1m14.1 0h2.1m-26.3 0.1h2.1m3.9 0.1h2.1m13.8 0.1h2.1m-38.4 0.2h2.1m26.2 0h2.1m-2.2 0h2.1m-28.2 0.2h2.1m39.9 0.2h2.1m-24.7 0.1h2.1m6.8 0h2.1m-2.4 0.2h2.1m-6.2 0.2h2.1m-18.7 0.2h2.1m-12.6 0.1h2.1m10.4 0h2.1m20.4 0.1h2.1m5.6 0h2.1m-38.1 0.2h2.1m21.8 0.1h2.1m13.3 0h2.1m-33.9 0h2.1m-8.7 0h2.1m-1.4 0.1h2.1m15.9 0.2h2.1m7.5 0.1h2.1m-43.1 0h2.1m32.9 0.1h2.1m-30.4 0.1h2.1m8.7 0.1h2.1m2.3 0.5h2.1m-4.3 0h2.1m13.7 0.1h2.1m-21.1 0.2h2.1m11.3 0h2.1m-22.9 0.1h2.1m27.9 0.1h2.1m6.2 0.2h2.1m-43.1 0h2.1m0.7 0h2.1m11.7 0.1h2.1m17.7 0.2h2.1m-13.4 0.1h2.1m0.1 0.1h2.1m-17.1 0h2.1m-13 0.4h2.1m11.2 0.2h2.1m15.8 0.1h2.1m3.3 0h2.1m-41.4 0.1h2.1m-0.9 0h2.1m0.4 0h2.1m31.4 0.1h2.1m-38.9 0.1h2.1m40.6 0h2.1m-21 0.3h2.1m17.6 0.2h2.1m-16.5 0h2.1m4.8 0.1h2.1m2.1 0.1h2.1m-1.8 0.1h2.1m-8.4 0.2h2.1m-38.1 0.1h2.1m5.3 0.1h2.1m19.8 0h2.1m-35 0.1h2.1m12.3 0.1h2.1m13.7 0h2.1m-6.2 0.1h2.1m-17.1 0.2h2.1m29.7 0h2.1m-17.4 0.2h2.1m14.3 0h2.1m-2.5 0.1h2.1m-32 0.1h2.1m7.8 0h2.1m9 0h2.1m-13.5 0h2.1m25 0.1h2.1m-23.2 0h2.1m0.9 0.2h2.1m-28.6 0h2.1m-4.4 0h2.1m41.4 0.1h2.1m-3.7 0h2.1m-22 0.5h2.1m-9.3 0h2.1m-12.8 0h2.1m5.9 0h2.1m33 0.1h2.1m-15.2 0.1h2.1m-22 0.1h2.1m-16.3 0.1h2.1m18.6 0.1h2.1m-6.9 0.3h2.1m22 0.1h2.1m-2.1 0h2.1m-38.9 0h2.1m13.5 0.1h2.1m-8.2 0.2h2.1m17.1 0h2.1m-4.9 0.5h2.1m14.5 0.1h2.1m-29.8 0.1h2.1m21.1 0.1h2.1m-12.2 0h2.1m-22.3 0h2.1m-7.4 0.1h2.1m-8.1 0.1h2.1m18.6 0.1h2.1m-8.7 0.1h2.1m12 0h2.1m-10.6 0h2.1m19 0.2h2.1m-39 0h2.1m25.1 0.1h2.1m-32.2 0.1h2.1m-4.2 0h2.1m9.1 0.3h2.1m-6 0.2h2.1m13.5 0.1h2.1m-13.5 0h2.1m12.3 0h2.1m-0.2 0.9h2.1m-27.7 0.3h2.1m14.9 0.1h2.1m16.5 0.1h2.1m-33.4 0.2h2.1m31.4 0.2h2.1m-27.8 0h2.1m-16.8 0.1h2.1m1.3 0.1h2.1m-4.1 0.1h2.1m28.6 0.3h2.1m-23.5 0.1h2.1m34.5 0.1h2.1m-25.1 0.5h2.1m-15.6 0.1h2.1m-4.7 0h2.1m22.7 0.3h2.1m-3.5 0.5h2.1m10 0.1h2.1m-36.4 0.1h2.1m38.5 0h2.1m-34.3 0.1h2.1m-21.2 0h2.1m17.1 0.1h2.1m2.4 0h2.1m20.2 0.4h2.1m-9.4 0.1h2.1m-0.5 0h2.1m-37.3 0.2h2.1m37.6 0.2h2.1m-41.8 0.3h2.1m19 0.2h2.1m-5.6 0.2h2.1m-9.2 0.3h2.1m4.1 0.1h2.1m-3.5 0h2.1m-1.5 0.1h2.1m-20.9 0.2h2.1m20.1 0.2h2.1m-10.3 0.2h2.1m22.1 0h2.1m-36 0.1h2.1m10.5 0h2.1m-10.4 0.1h2.1m0.2 0.3h2.1m7.2 0h2.1m-20.6 0.2h2.1m30.9 0.2h2.1m-11.5 0.3h2.1m5 0h2.1m0.9 0.1h2.1m-26.9 0.4h2.1m25.5 0.3h2.1m-22.1 0.1h2.1m-16.5 0h2.1m38.3 0h2.1m-48.1 0h2.1m45.2 0.1h2.1m-40.8 0h2.1m-2 0h2.1m-7.7 0.2h2.1m42.5 0.2h2.1m-12.2 0.3h2.1m-26.3 0h2.1m4.1 0.1h2.1m28.4 0.3h2.1m-33.2 0.1h2.1m-21 0.2h2.1m24.6 0.2h2.1m-18.6 0h2.1m-1.1 0.4h2.1m2.8 0h2.1m4.3 0.3h2.1m10.3 0.2h2.1m5.2 0h2.1m-39.3 0.1h2.1m19 0.2h2.1m-15.7 0.3h2.1m3.9 0h2.1m15.5 0.5h2.1m-10.4 0h2.1m-7.3 0.1h2.1m0.4 0h2.1m-3 0.1h2.1m-14.2 0.1h2.1m34.2 0.1h2.1m-24.5 0.3h2.1m-17.5 0.1h2.1m11.6 0.1h2.1m-21.7 0.1h2.1m31.1 0.2h2.1m-17.4 0.2h2.1m15.3 0.3h2.1m-24.2 0.1h2.1m-12.2 0.1h2.1m9.9 0h2.1m-1.3 0.3h2.1m-9.3 0.4h2.1m32.5 0.1h2.1m-43.3 0.1h2.1m28.1 0h2.1m-2.8 0.3h2.1m10.8 0h2.1m-5.7 0.1h2.1m3.1 0.5h2.1m-47 0.2h2.1m21.1 0.2h2.1m-11.6 0.2h2.1m19.9 0h2.1m-33.7 0.6h2.1m38.7 0.3h2.1m-51.7 0.1h2.1m38.5 0h2.1m-24.3 0.3h2.1m12.3 0h2.1m-21.9 0.1h2.1m3.8 0.1h2.1m-12.4 0.2h2.1m27.6 0h2.1m-3.1 0h2.1m-36.2 0.3h2.1m18.9 0h2.1m-20.2 0h2.1m-4.1 0.2h2.1m2.9 0.3h2.1m17 0.2h2.1m-15.4 0.4h2.1m0.3 0.2h2.1m28.6 0.2h2.1m-31.3 0.1h2.1m-19 0.5h2.1m5.4 0.2h2.1m11 0.5h2.1m11.7 0.2h2.1m-26.3 0.2h2.1m6.6 0h2.1m10.2 0.1h2.1m-21.9 0h2.1m4.1 0.2h2.1m-11.8 0.1h2.1m24.8 0.2h2.1m-13.4 0.4h2.1m16.5 0.3h2.1m-45.1 0.4h2.1m7.9 0.4h2.1m3.7 0.1h2.1m23.6 0.2h2.1m-17.1 0.5h2.1m-22.2 0h2.1m28.2 0.2h2.1m-42 0.2h2.1m16.1 1.1h2.1m27.4 0.1h2.1m-41.9 0h2.1m-6.5 0.5h2.1m12.6 0.2h2.1m-9.8 0.3h2.1m32.2 0h2.1m-29 0.1h2.1m23.1 0.1h2.1m-30.2 0.4h2.1m-11.8 0.3h2.1m2.8 0h2.1m-3.9 0.6h2.1m40.7 0.1h2.1m-3.1 0.6h2.1m-38 0.4h2.1m-11.8 0.2h2.1m2.5 0.6h2.1m35.5 0.2h2.1m-35.3 0h2.1m6 0.6h2.1m-6.9 0h2.1m24.3 0.1h2.1m-6.3 0.3h2.1m-4.8 1.4h2.1m-9.4 0h2.1m16.4 0.1h2.1m-44.5 0.1h2.1m14.9 0h2.1m21.4 0.3h2.1m-26.4 0.2h2.1m-9.6 1h2.1m16.6 0.2h2.1m-8.1 0.1h2.1m19.3 0.6h2.1m-39.1 1.1h2.1m28.5 0.7h2.1m-3.4 0h2.1m-8.2 0.7h2.1m-34 0.4h2.1m25.5 0.9h2.1m5.2 0.2h2.1m-7.7 150.1h2.1m-9.5 0.6h2.1m2.4 6.1h2.1m-8.6 0h2.1m15.3 0.6h2.1m-18.6 2.1h2.1m-16.3 6.2h2.1m38.5 9.2h2.1m-17.6 3.1h2.1m-19.2 1.2h2.1m26.1 1h2.1m-30.8 3.6h2.1m15.1 0.2h2.1m11.8 0.1h2.1m-16.5 0.2h2.1m-6.6 1.2h2.1m-1.5 1.5h2.1m-8.9 0.5h2.1m4.5 3.7h2.1m-11 0.1h2.1m-8.1 1.8h2.1m29.1 0.9h2.1m-6.5 0.7h2.1m-9.6 2.2h2.1m-21.1 0.8h2.1m13.5 1.5h2.1m-7.9 0.3h2.1m4.2 0.8h2.1m2.1 0.1h2.1m-26.2 0.7h2.1m30.8 0.2h2.1m-29.6 1.1h2.1m14 0.9h2.1m-12.9 0.5h2.1m-19 2h2.1m1.2 0.6h2.1m-2.2 1.7h2.1m10.8 0.1h2.1m-18.5 0.4h2.1m39.9 0.5h2.1m-22.6 0.2h2.1m-9.5 0.6h2.1m-13.4 0h2.1m9.8 0.2h2.1m-9.1 1.7h2.1m-9.5 0.1h2.1m34.4 0.6h2.1m-37 1.1h2.1m-2.7 0.8h2.1m26.1 1h2.1m-30.9 0.3h2.1m24.2 0.3h2.1m-5.1 0.1h2.1m5.5 2.4h2.1m6.1 0.8h2.1m-26.6 0.5h2.1m-5 0.7h2.1m29.9 0.4h2.1m-34.4 0.6h2.1m21.6 2.3h2.1m-6.2 0.8h2.1m-30.7 1.3h2.1m9.1 0.4h2.1m-6.9 0h2.1m18.9 1.7h2.1m-4.8 0.4h2.1m4 0.2h2.1m-22 2.4h2.1m-5.9 0.3h2.1m-6 0.5h2.1m-0.5 0.1h2.1m0 0.1h2.1m21.5 0.4h2.1m-12.3 1.3h2.1m-22.1 0h2.1m32.1 0.3h2.1m-10.8 0.3h2.1m2.6 1.1h2.1m-28 0.3h2.1m26.8 1.4h2.1m-34.9 0.4h2.1m38.7 0.3h2.1m-4 0h2.1m-34.5 0.1h2.1m35.1 0.4h2.1m-10.7 1.1h2.1m-31 0.5h2.1m-2.2 0.1h2.1m12.5 0.2h2.1m-17.6 0h2.1m6.9 0.2h2.1m23.2 0.5h2.1m-42.9 0.1h2.1m-6.2 0.1h2.1m-1.9 0.1h2.1m2.9 0.3h2.1m18 0.3h2.1m-11.1 0.6h2.1m-1.7 0.7h2.1m-8.8 0h2.1m-4.4 0.8h2.1m25.6 0.8h2.1m-33.3 0.1h2.1m19.9 0.6h2.1m-27.2 0.1h2.1m31.3 0h2.1m12.6 0.5h2.1m-5.9 0.2h2.1m-23.7 0.3h2.1m14.1 0.2h2.1m-0.2 0.2h2.1m-12.9 0.4h2.1m-27.1 0.1h2.1m17.6 0.5h2.1m11.3 0.2h2.1m3.1 0.7h2.1m0.7 0h2.1m-34.8 0h2.1m14.7 0.7h2.1m-21.8 0.3h2.1m13 0.2h2.1m-15.1 0.1h2.1m3.7 1.4h2.1m-1.2 0.3h2.1m-0.3 0.1h2.1m12.8 0.6h2.1m-16.5 0.1h2.1m4.5 0.4h2.1m14.7 0.1h2.1m-19 0.3h2.1m-15.5 0.5h2.1m16.9 1.1h2.1m-32.8 0.8h2.1m22.2 0.1h2.1m-28.9 0.2h2.1m13.6 0.2h2.1m-7.2 0.6h2.1m20.5 0.3h2.1m5.1 0.1h2.1m-27.8 0.2h2.1m24.8 0h2.1m-23.5 0h2.1m15.5 0.1h2.1m-25.8 0.3h2.1m17.5 0.3h2.1m7 0h2.1m0.2 0.6h2.1m0.3 0.2h2.1m-47.9 0.1h2.1m-1.2 0.1h2.1m9.3 0.1h2.1m-6.9 0h2.1m19.3 0h2.1m-24.2 0.8h2.1m0.9 0.1h2.1m31.8 0.2h2.1m-24.5 0.3h2.1m-8.5 0.1h2.1m-8 0h2.1m25.6 0.1h2.1m-30.7 0h2.1m6.1 0.5h2.1m-11 0.4h2.1m6.8 0h2.1m2 0.1h2.1m-6.9 0.1h2.1m-16.9 0.3h2.1m16.4 0.2h2.1m11 0.1h2.1m-26 0h2.1m12.7 0.1h2.1m13.9 0.1h2.1m-36.7 0.1h2.1m-2.3 0.3h2.1m-0.8 0h2.1m7.9 0.1h2.1m27.4 0h2.1m-7.6 0h2.1m-9.4 0.1h2.1m0.2 0.1h2.1m-30.6 0.4h2.1m25.6 0.1h2.1m-9 0.1h2.1m-15.7 0.4h2.1m11.1 0.3h2.1m16.3 0.3h2.1m-40.5 0h2.1m-1 0.2h2.1m27.5 0h2.1m3 0.3h2.1m-38.8 0.3h2.1m24.7 0h2.1m6.4 0.2h2.1m-42.7 0.1h2.1m-1.1 0h2.1m-1.3 0.8h2.1m11.2 0.1h2.1m4.2 0.1h2.1m-15.5 0h2.1m35.3 0.2h2.1m-14 0.1h2.1m-37 0.1h2.1m26.6 0.2h2.1m6.5 0.3h2.1m-7.2 0.1h2.1m-36.7 0.2h2.1m1.8 0.4h2.1m30.7 0.1h2.1m-33.5 0h2.1m41.1 0.2h2.1m-21.4 0.2h2.1m-3.3 0.1h2.1m-29.6 0h2.1m44.2 0.1h2.1m-43.4 0h2.1m34.7 0h2.1m-26.8 0.2h2.1m16.9 0.1h2.1m-0.9 0h2.1m2.7 0.2h2.1m-41.5 0h2.1m13 0.1h2.1m-7.5 0.1h2.1m0.9 0h2.1m21.4 0.1h2.1m-36.2 0.1h2.1m30.1 0.5h2.1m-13.7 0.1h2.1m-26.3 0h2.1m12.5 0.1h2.1m25.9 0.3h2.1m-8.6 0.2h2.1m-21.8 0h2.1m-3.5 0.2h2.1m-17 0.1h2.1m43.1 0.1h2.1m-40.3 0.2h2.1m9.6 0.1h2.1m-19.6 0.6h2.1m27.2 0h2.1m-27.1 0h2.1m-5.3 0.1h2.1m11.4 0.1h2.1m-17.9 0h2.1m7.6 0.3h2.1m3.6 0.1h2.1m-11.4 0.1h2.1m17.6 0.2h2.1m6.5 0.1h2.1m-26.3 0.1h2.1m6.5 0.3h2.1m18.3 0h2.1m-40.7 0.1h2.1m8.6 0h2.1m25.2 0.1h2.1m-38.2 0.2h2.1m8.4 0.1h2.1m31.8 0.2h2.1m-46.6 0h2.1m-2.9 0h2.1m40.7 0.1h2.1m-32.6 0.1h2.1m-5.1 0.1h2.1m-7.5 0h2.1m6.4 0.2h2.1m26.8 0h2.1m-37.5 0.1h2.1m-5.3 0h2.1m36.7 0.1h2.1m1.3 0h2.1m-3.8 0h2.1m-41.3 0.4h2.1m11.5 0.1h2.1m-21.2 0h2.1m10.9 0.2h2.1m12.8 0h2.1m-28.1 0.1h2.1m-0.7 0.1h2.1m3.3 0h2.1m3.9 0.4h2.1m2.1 0.1h2.1m-3.7 0.1h2.1m27 0.1h2.1m-14.7 0.1h2.1m-35.8 0.1h2.1m21.3 0.3h2.1m-26.8 0.1h2.1m23.4 0.1h2.1m-16.4 0.1h2.1m31.7 0h2.1m-39 0h2.1m37.4 0.1h2.1m-16.1 0.1h2.1m-4.2 0h2.1m-10.3 0h2.1m-20.3 0.1h2.1m31.2 0.2h2.1m-15.3 0h2.1m-24 0.1h2.1m15.9 0.2h2.1m-14.2 0.7h2.1m3.5 0.1h2.1m27.5 0.1h2.1m-1.8 0.1h2.1m-33.9 0.1h2.1m31 0.3h2.1m-38.8 0.1h2.1m28.5 0h2.1m-31.6 0.1h2.1m2.2 0.2h2.1m-12.7 0.1h2.1m4.8 0.1h2.1m32.9 0.1h2.1m0.3 0h2.1m-2.2 0.1h2.1m-43.4 0.1h2.1m11.7 0.1h2.1m1.2 0.1h2.1m-21.8 0.2h2.1m3.2 0h2.1m36.3 0h2.1m-47.1 0.4h2.1m36.2 0h2.1m-2.5 0.1h2.1m-26.6 0.1h2.1m9.6 0h2.1m1.6 0.2h2.1m-34.4 0.5h2.1m1.3 0.2h2.1m31.2 0h2.1m-21.9 0.1h2.1m-19 0.1h2.1m22.8 0h2.1m7.1 0.1h2.1m-13.9 0.1h2.1m-16.7 0.1h2.1m-3.4 0.1h2.1m4.9 0h2.1m8.7 0.1h2.1m-17.9 0h2.1m27.6 0.1h2.1m-27.7 0h2.1m8.1 0.1h2.1m-1 0h2.1m-2.6 0.1h2.1m-18.4 0.2h2.1m34.6 0h2.1m-25.9 0.4h2.1m-7.4 0.1h2.1m2.7 0h2.1m18.1 0h2.1m-7.2 0.1h2.1m-18.1 0h2.1m-12.1 0.1h2.1m18.5 0h2.1m-4.8 0.1h2.1m-27.9 0.1h2.1m18.5 0.1h2.1m-23.4 0h2.1m17.7 0.5h2.1m-1 0h2.1m3 0.1h2.1m-28.5 0.1h2.1m12 0.1h2.1m-9.6 0.1h2.1m18.5 0h2.1m-0.4 0.1h2.1m-7.8 0h2.1m-25.2 0.1h2.1m6.9 0h2.1m13.8 0h2.1m3.5 0.1h2.1m-10 0h2.1m21.5 0h2.1m-19.1 0h2.1m-31.2 0.1h2.1m21.3 0h2.1m-23.8 0h2.1m5.1 0.1h2.1m25.7 0.1h2.1m3.4 0h2.1m-17.6 0.2h2.1m-2 0.3h2.1m-3.7 0.1h2.1m16.1 0.1h2.1m-26.7 0h2.1m2.9 0.1h2.1m-3.7 0.3h2.1m2.3 0.1h2.1m-4 0h2.1m-23.7 0.1h2.1m6.9 0.1h2.1m-1.9 0.1h2.1m30.8 0h2.1m-12.9 0h2.1m-12.9 0h2.1m-22.7 0.1h2.1m4.8 0h2.1m-5.6 0h2.1m19.9 0.1h2.1m-9.3 0.1h2.1m5.8 0.1h2.1m-16.3 0h2.1m9.5 0.1h2.1m-12.7 0h2.1m29.8 0h2.1m-14.5 0.3h2.1m8.4 0h2.1m-16.7 0.5h2.1m6 0.1h2.1m1.6 0.5h2.1m-26.3 0h2.1m-18.8 0.1h2.1m6.9 0h2.1m12.4 0h2.1m0 0h2.1m3.2 0h2.1m12.9 0.1h2.1m-31.2 0.3h2.1m-2.9 0.1h2.1m23.5 0.1h2.1m-42.9 0h2.1m5.3 0.2h2.1m36.4 0h2.1m-26.4 0h2.1m0.4 0.1h2.1m-10.1 0.1h2.1m17.2 0h2.1m1.2 0.1h2.1m-28.2 0.3h2.1m-16.6 0.1h2.1m26.5 0.6h2.1m3.1 0.1h2.1m0.4 0h2.1m-32.5 0.2h2.1m13.4 0.1h2.1m15.4 0.1h2.1m-2 0h2.1m-1.6 0.1h2.1m5 0.1h2.1m-36.5 0.1h2.1m13.9 0.2h2.1m-1.7 0h2.1m-29.7 0.1h2.1m35.7 0.1h2.1m-24.4 0.1h2.1m15.7 0h2.1m-16.9 0.1h2.1m12.4 0.1h2.1m-11.6 0.2h2.1m8.3 0.2h2.1m-17.9 0h2.1m20.8 0.2h2.1m-30.5 0.1h2.1m14.8 0.1h2.1m12.3 0.1h2.1m-15.5 0.4h2.1m11.5 0h2.1m-27.4 0.2h2.1m18.7 0h2.1m-28.9 0h2.1m-0.7 0.2h2.1m5.4 0.1h2.1m18.8 0.2h2.1m-45.3 0.3h2.1m13.9 0.1h2.1m-15.4 0.3h2.1m7.5 0.1h2.1m28.6 0h2.1m-26 0.1h2.1m5.8 0h2.1m1.8 0.4h2.1m-16.3 0.1h2.1m-0.2 0h2.1m-1.6 0.1h2.1m-12.2 0.3h2.1m-0.2 0.1h2.1m4.2 0h2.1m17.9 0.1h2.1m-3.9 0h2.1m-2.4 0h2.1m-26.1 0.1h2.1m-10.8 0.1h2.1m37 0.1h2.1m-29.7 0.1h2.1m9.3 0h2.1m-5.3 0.3h2.1m-20 0h2.1m35.5 0.1h2.1m-20.4 0h2.1m11.9 0.3h2.1m-23.3 0.3h2.1m-1.7 0.1h2.1m3.7 0.2h2.1m8.3 0h2.1m-7.5 0h2.1m-6.7 0.1h2.1m19.3 0h2.1m-17.9 0.1h2.1m-3.9 0h2.1m5 0.1h2.1m-18 0.2h2.1m22.1 0h2.1m-23.3 0.1h2.1m8.4 0.5h2.1m-34.2 0h2.1m34.8 0.1h2.1m-29.2 0h2.1m-5 0.1h2.1m2.3 0.3h2.1m-4 0h2.1m0.6 0.2h2.1m2.4 0.1h2.1m18 0.1h2.1m-39.4 0.2h2.1m-2.3 0.7h2.1m11.5 0.1h2.1m-13.8 0.1h2.1m21.9 0h2.1m-16 0.5h2.1m25.4 0.2h2.1m-1.2 0.4h2.1m5 0.2h2.1m-40.7 0.3h2.1m5.2 0.2h2.1m0.8 0h2.1m5.4 0h2.1m-9.5 0.8h2.1m-5.5 0h2.1m14.7 0.4h2.1m-24.2 0.4h2.1m-0.4 0h2.1m28.4 0.1h2.1m-15.1 0h2.1m-27 0.4h2.1m12.6 0.3h2.1m0.4 0.2h2.1m-10.5 0.1h2.1m17.9 0.6h2.1m-23.7 0.5h2.1m-4.6 0.2h2.1m11.7 0.1h2.1m-16.9 0h2.1m37.8 0.6h2.1m-42.3 0.3h2.1m9.2 1h2.1m8.8 0h2.1m-19.5 0.2h2.1m-1.9 0.7h2.1m-12 1.7h2.1m-2.7 0.2h2.1m40.3 0.1h2.1m-29.7 0.2h2.1m-1.9 0.4h2.1m8.6 1.3h2.1m16.4 0.2h2.1m-42.2 0.6h2.1m36.3 0.8h2.1m-1.9 0.2h2.1m-16.8 0.1h2.1m-10.5 1.1h2.1m-18.6 0.4h2.1m29.8 0.8h2.1m-22 1.1h2.1m15 1h2.1m-21.7 0h2.1m19.6 0.5h2.1m-33 0.7h2.1m36.1 2h2.1m-16.4 0.7h2.1m-21.7 1h2.1m-4.1 1.9h2.1m14.1 0.6h2.1m-9.4 1.8h2.1m9.6 2.1h2.1m18.1 0.9h2.1m-15.9 2.3h2.1m1.4 2.4h2.1m-39.3 3.7h2.1m-1.7 1.1h2.1m16.1 0.4h2.1m5.8 1.2h2.1m-27.2 0.3h2.1m38.4 0.7h2.1m-13.4 0h2.1m10.1 0.5h2.1m-30.8 0.5h2.1m22.6 159.1h2.1m-36 4.7h2.1m-6.9 1.3h2.1m31.8 3.4h2.1m10.6 0.6h2.1m-18.8 0.7h2.1m-2.2 1.2h2.1m-30.9 0.5h2.1m37 1.2h2.1m-37.5 0.2h2.1m35.2 0.2h2.1m-41.1 0.4h2.1m26 0.1h2.1m-22.1 3.9h2.1m28.6 0.7h2.1m-10.9 0.2h2.1m-27.7 0.1h2.1m7.4 1.4h2.1m0 1.9h2.1m0.1 5.3h2.1m4.6 0.1h2.1m-20.4 0.5h2.1m24.7 0.1h2.1m5.8 2.3h2.1m-1.2 0.6h2.1m-42 0.6h2.1m7.7 2.3h2.1m23.5 0.2h2.1m-41.3 0h2.1m41.2 0.2h2.1m-22.1 0.1h2.1m8.3 2.8h2.1m-19.7 0.4h2.1m-19.1 0h2.1m16.9 0.1h2.1m21.7 0.1h2.1m-44.7 0.3h2.1m28.5 0.2h2.1m3.6 0.4h2.1m-28.5 0.2h2.1m26.9 0.4h2.1m-12 0.7h2.1m-15.7 0.5h2.1m-9.5 1.3h2.1m-5.6 1h2.1m39.9 0.2h2.1m-13.4 0.1h2.1m2.1 1.1h2.1m-14.4 0.3h2.1m4.3 0h2.1m-0.4 0.2h2.1m-5.7 0.1h2.1m-5.4 0.8h2.1m-12 1.7h2.1m23.3 0.3h2.1m-23.9 0.2h2.1m-9.5 0.2h2.1m-16.1 0.6h2.1m15.3 0.8h2.1m-11.8 0.1h2.1m5.7 0h2.1m2.6 0.2h2.1m8 0.4h2.1m2 0.4h2.1m-23.6 0.3h2.1m-16.1 0.9h2.1m16.8 0.1h2.1m-14.3 0.1h2.1m8.3 0.1h2.1m-0.4 0.1h2.1m25.8 0.5h2.1m-45.5 0.2h2.1m9.1 0.3h2.1m19.8 0.3h2.1m-14.9 0.3h2.1m20.3 0.1h2.1m-39.2 0.4h2.1m32.2 0.6h2.1m-23.8 0.1h2.1m6.7 0.1h2.1m-20.6 0.1h2.1m33.2 0.2h2.1m-22.6 0.2h2.1m12.4 0.2h2.1m-21.1 0.1h2.1m-16.4 0.4h2.1m25.2 0.6h2.1m-6.9 0.2h2.1m11.5 0.2h2.1m-10.2 0.2h2.1m-19.1 0.3h2.1m10.3 0h2.1m0.3 0.1h2.1m-27.2 0.2h2.1m36.5 0.1h2.1m-6.2 0h2.1m-34.1 0.1h2.1m-2.8 0.2h2.1m-2.7 0.1h2.1m-8.6 0h2.1m17 0.8h2.1m-9 0.1h2.1m9.7 0.3h2.1m-11.1 0h2.1m3.4 0.2h2.1m-13.2 0.2h2.1m28.9 0.1h2.1m-2.3 0.5h2.1m-5.8 0.5h2.1m-0.4 0.2h2.1m-32.9 0h2.1m8.4 0h2.1m24 0.2h2.1m-17.6 0.5h2.1m-10.3 0.2h2.1m-15.5 0.1h2.1m22 0h2.1m-10.6 0.2h2.1m-13.6 0.6h2.1m17 0.2h2.1m7 0.1h2.1m-31 0.1h2.1m-14.4 0.2h2.1m11.5 0h2.1m3.7 0.3h2.1m3.8 0.3h2.1m1.8 0.1h2.1m-12.3 0h2.1m7.4 0.2h2.1m-7.8 0.2h2.1m5.2 1.7h2.1m13.5 0.1h2.1m-45.5 0.1h2.1m-2.5 0.1h2.1m41.5 0h2.1m-1.9 0.4h2.1m-29.7 0h2.1m10.6 0.2h2.1m-14.5 0.1h2.1m6.2 0.1h2.1m-8.3 0.1h2.1m22.8 0.2h2.1m-13.5 0h2.1m0.9 0h2.1m-39.7 0.3h2.1m23.3 0.5h2.1m-8.5 0.5h2.1m-18.9 0.4h2.1m12.8 0.2h2.1m5.6 0h2.1m8.5 0h2.1m-24.1 0.4h2.1m4.2 0.1h2.1m23.3 0h2.1m-16.2 0.1h2.1m-30.8 0.1h2.1m14.6 0.3h2.1m22.9 0h2.1m-17.8 0.1h2.1m-10.4 0h2.1m-8.5 0.2h2.1m18.5 0.1h2.1m-12.6 0.3h2.1m-2.3 0.3h2.1m-24 0.3h2.1m12.7 1h2.1m-19 0.2h2.1m0.3 0.2h2.1m0.7 0.3h2.1m27.9 0.3h2.1m1.3 0h2.1m-9.3 0.1h2.1m-10.1 0.8h2.1m21.4 0h2.1m-30.4 0.1h2.1m24.2 0.1h2.1m-18.4 0.3h2.1m-3 0.2h2.1m-16.7 0.2h2.1m12.9 0.1h2.1m-2 0.1h2.1m-18.7 0.5h2.1m0.4 0h2.1m9.5 0.4h2.1m-20.8 0.4h2.1m28.4 0.3h2.1m-21.3 0.1h2.1m2.6 0h2.1m12.7 0h2.1m-26.6 0.1h2.1m-5.8 0.1h2.1m32.3 0.1h2.1m-10.4 0.2h2.1m-28.9 0.1h2.1m6.7 0h2.1m-12.7 0.4h2.1m20.2 0h2.1m9.7 0.6h2.1m-22.5 0.3h2.1m-12.2 0.5h2.1m9.2 0.2h2.1m18.7 0.2h2.1m-7.9 0.2h2.1m-16.5 0.3h2.1m-12.8 0.3h2.1m-3.5 0h2.1m9.9 0.2h2.1m7.4 0h2.1m0.5 0.2h2.1m7.8 0.1h2.1m0.1 0.1h2.1m-31.4 0.1h2.1m-14.1 0.1h2.1m33.4 0.2h2.1m-31.4 0.5h2.1m11.4 0.1h2.1m-24.2 0.1h2.1m26.5 0.1h2.1m-29.7 0.1h2.1m20.7 0.1h2.1m-16.9 0.1h2.1m-1.5 0h2.1m12.5 0.4h2.1m-28.4 0.1h2.1m28 0.2h2.1m11.4 0h2.1m-17.4 0.1h2.1m-18.7 0h2.1m31.5 0.3h2.1m-38 0h2.1m-7.6 0.3h2.1m35.9 0h2.1m-15.4 0.1h2.1m-6.3 0h2.1m0.3 0.1h2.1m-15.6 0h2.1m17.6 0.1h2.1m1.2 0.1h2.1m-26.8 0.1h2.1m4.8 0.1h2.1m-14.4 0.1h2.1m17.9 0.1h2.1m-25.1 0.2h2.1m5.1 0h2.1m-8.8 0.2h2.1m33.5 0h2.1m-3.3 0.2h2.1m-37.9 0h2.1m-5.7 0.4h2.1m6.5 0.2h2.1m36.2 0.1h2.1m-45.3 0.2h2.1m17.3 0h2.1m20.1 0.1h2.1m-38.6 0h2.1m28.1 0.2h2.1m-38.5 0.1h2.1m41.8 0.1h2.1m-38.7 0.2h2.1m26.1 0h2.1m0.4 0.2h2.1m-3 0h2.1m-20.7 0.1h2.1m8.9 0h2.1m9.3 0.1h2.1m-6.6 0h2.1m-23.4 0h2.1m-4.4 0.2h2.1m-3.1 0.2h2.1m2.7 0h2.1m-14.2 0.5h2.1m-8.6 0.1h2.1m11.3 0.4h2.1m28.5 0.2h2.1m-23.9 0.6h2.1m12 0.3h2.1m-16.9 0.1h2.1m-15.8 0.2h2.1m35.6 0.2h2.1m-34 0.3h2.1m-10.1 0h2.1m-8 0.1h2.1m28.5 0.2h2.1m5.9 0h2.1m-10.2 0.6h2.1m-29.3 0.4h2.1m8.5 0.4h2.1m4 0h2.1m18.7 0.1h2.1m-25.7 0.2h2.1m17.3 0h2.1m-36.3 0h2.1m-4.1 0.1h2.1m34.4 0h2.1m-37.7 0.1h2.1m41.3 0.1h2.1m-35.5 0.2h2.1m14.7 0.2h2.1m12 0.3h2.1m0.2 0.3h2.1m-43 0.1h2.1m-5.1 0.1h2.1m39.7 0.2h2.1m-38.7 0.1h2.1m17.2 0.6h2.1m12.5 0.1h2.1m-38.6 0.2h2.1m25.4 0.3h2.1m-4.6 0.2h2.1m-25.6 0.2h2.1m9.5 0.1h2.1m-5.2 0.3h2.1m1 0.3h2.1m3.4 0.3h2.1m18.5 0.2h2.1m-15 0h2.1m-14.9 0.3h2.1m-4.9 0h2.1m10.6 0.3h2.1m0 0.1h2.1m15.7 0.1h2.1m-43.1 0h2.1m35.3 0.5h2.1m-22.7 0.1h2.1m3.9 0h2.1m-11.4 0.1h2.1m-9.1 0.4h2.1m-11.9 0.8h2.1m4.6 0h2.1m-2.2 0h2.1m26.7 0.1h2.1m-25.1 0h2.1m6.3 0h2.1m-10.8 0.1h2.1m13.4 0h2.1m14.5 0.1h2.1m-15.4 0.1h2.1m-5.1 0.2h2.1m-24.6 0h2.1m11.8 0.1h2.1m15.6 0.1h2.1m-9.9 0.1h2.1m-9.9 0h2.1m20.3 0.3h2.1m-27.3 0.1h2.1m3.7 0.3h2.1m4 0h2.1m-27.7 0.4h2.1m-3.4 0h2.1m25.5 0.1h2.1m-35.6 0.5h2.1m22.6 0h2.1m2.7 0h2.1m13.2 0h2.1m-33.7 0.1h2.1m24.5 0h2.1m-25.2 0h2.1m-11.6 0.2h2.1m26.8 0.1h2.1m4.6 0h2.1m-1.9 0.1h2.1m-30.7 0.1h2.1m5.5 0h2.1m14.1 0.2h2.1m-18.4 0.1h2.1m19.1 0.6h2.1m-31.7 0.6h2.1m11.1 0.2h2.1m6.9 0h2.1m-9.5 0.2h2.1m-27 0.3h2.1m38.7 0h2.1m-33 0.1h2.1m-2.3 0.4h2.1m27.6 0.2h2.1m-29.3 0.1h2.1m17 0.2h2.1m-26.8 0.2h2.1m14.5 0.1h2.1m10.4 0.5h2.1m1.2 0.1h2.1m-23.4 0.2h2.1m-0.7 0h2.1m-1.8 0.1h2.1m17.4 0.2h2.1m-17.4 0.2h2.1m-1.8 0h2.1m-13 0.1h2.1m-17 0.2h2.1m39.5 0.3h2.1m-23.9 0.2h2.1m-17.6 0.4h2.1m31.8 0.3h2.1m-39.1 0.2h2.1m16.4 0h2.1m5.3 0.1h2.1m10 0.1h2.1m0.5 0.3h2.1m-3.1 0h2.1m-18 0.2h2.1m3.2 0h2.1m-2.7 0.1h2.1m-23.2 0h2.1m24 0h2.1m-37 0.1h2.1m-1.7 0.1h2.1m25.8 0h2.1m-20.5 0h2.1m9 0.1h2.1m5.9 0.3h2.1m-11.2 0h2.1m-8.3 0.1h2.1m27.7 0h2.1m-26.4 0.1h2.1m23.5 0h2.1m-13.2 0.1h2.1m-25 0.4h2.1m13.4 0h2.1m2 0.1h2.1m5.1 0h2.1m-26.9 0.1h2.1m-16.3 0.2h2.1m9.8 0.1h2.1m3.5 0.1h2.1m-6.5 0h2.1m15.6 0h2.1m-8.7 0.2h2.1m-6.5 0h2.1m15.1 0.1h2.1m-15.6 0h2.1m-5.9 0.1h2.1m-5.1 0.1h2.1m-10 0.1h2.1m-1.8 0h2.1m29.2 0h2.1m-11.6 0.1h2.1m3.4 0h2.1m-9.7 0h2.1m-29.4 0.1h2.1m18.3 0h2.1m-4.3 0h2.1m-11.4 0.1h2.1m10.5 0h2.1m7.6 0h2.1m-24.3 0.1h2.1m-10.7 0.1h2.1m5 0h2.1m6.4 0h2.1m10.6 0.2h2.1m-11.2 0.3h2.1m8.2 0h2.1m-21.3 0h2.1m-11.9 0.1h2.1m2.1 0h2.1m30.6 0.3h2.1m-16.2 0.1h2.1m13.7 0h2.1m-11.5 0h2.1m5.5 0h2.1m-17.5 0.1h2.1m-25.6 0.1h2.1m19.8 0h2.1m10.3 0.1h2.1m-19.7 0h2.1m26.1 0.1h2.1m-41.8 0.2h2.1m3.9 0h2.1m20.8 0.1h2.1m-18.3 0.1h2.1m-7 0h2.1m-13.9 0.3h2.1m42.5 0.1h2.1m-31.9 0.2h2.1m-7.3 0h2.1m3.2 0.1h2.1m20.5 0.1h2.1m-25.6 0h2.1m-12.2 0h2.1m34 0.1h2.1m-39.8 0.2h2.1m8.2 0h2.1m25.7 0.1h2.1m3.4 0h2.1m-40 0.1h2.1m-0.5 0h2.1m18.5 0h2.1m-26.2 0.1h2.1m20.6 0.1h2.1m0.7 0.1h2.1m0.4 0.1h2.1m-26.9 0h2.1m8 0h2.1m6.7 0h2.1m-7.7 0.2h2.1m19.3 0h2.1m-45.4 0h2.1m34 0h2.1m-10.9 0h2.1m-6.7 0.1h2.1m-23.4 0h2.1m8.8 0.1h2.1m-11.6 0h2.1m24.1 0.1h2.1m-11.3 0.1h2.1m10.6 0.1h2.1m-32.7 0.2h2.1m33.4 0h2.1m-16.1 0h2.1m-5.4 0.2h2.1m-15.8 0h2.1m36.8 0.1h2.1m-9.1 0.1h2.1m-7.8 0h2.1m3.7 0.1h2.1m-29.4 0h2.1m29.7 0h2.1m-37.6 0h2.1m-10.1 0h2.1m6 0.1h2.1m10.7 0h2.1m-2.3 0.2h2.1m9.6 0h2.1m-16.7 0.1h2.1m18.7 0.1h2.1m-22.8 0.1h2.1m-13.7 0.2h2.1m-7.1 0h2.1m21.8 0.1h2.1m-25.4 0.1h2.1m17.2 0.1h2.1m-12.4 0h2.1m19.9 0h2.1m-0.1 0h2.1m-33.9 0h2.1m35.7 0.1h2.1m-22.4 0h2.1m-15.7 0.1h2.1m4.3 0h2.1m6.6 0.1h2.1m11.2 0h2.1m-21.1 0.1h2.1m12.1 0.1h2.1m-32 0.1h2.1m35.1 0h2.1m2.4 0h2.1m-33.8 0.1h2.1m9.2 0h2.1m17.2 0.1h2.1m-38.7 0.2h2.1m-0.1 0h2.1m-9.6 0h2.1m9.2 0h2.1m29 0.1h2.1m-4.6 0.1h2.1m-4.9 0.1h2.1m-22.5 0h2.1m4.3 0.1h2.1m-11.5 0.1h2.1m-3.7 0h2.1m-4.5 0.2h2.1m15 0h2.1m-26.6 0.2h2.1m14.8 0.1h2.1m16 0.2h2.1m-8.5 0.1h2.1m11.1 0.1h2.1m-17.7 0h2.1m-26.4 0.1h2.1m26.6 0h2.1m5.3 0.1h2.1m-36.6 0h2.1m8.3 0h2.1m-0.4 0h2.1m-11.4 0.1h2.1m30.6 0h2.1m-20.6 0.1h2.1m-7.1 0h2.1m24.4 0h2.1m-22.5 0h2.1m5.6 0.1h2.1m8.5 0h2.1m-7.2 0h2.1m-6.2 0h2.1m-22.9 0.1h2.1m16.8 0h2.1m-26.5 0h2.1m6.5 0h2.1m16.9 0.1h2.1m-15.3 0h2.1m-14.9 0h2.1m35 0.1h2.1m-4.7 0h2.1m-11.5 0h2.1m5.7 0.1h2.1m-11 0h2.1m-1 0.1h2.1m-29.6 0.1h2.1m0.2 0h2.1m18.3 0.1h2.1m-15.1 0.1h2.1m11.8 0.1h2.1m-6.4 0h2.1m17.9 0.1h2.1m-10.1 0h2.1m2.2 0.1h2.1m-11.8 0h2.1m9.8 0h2.1m-14.4 0h2.1m-13.1 0h2.1m-13.2 0h2.1m3.1 0.1h2.1m10.2 0h2.1m-17 0h2.1m24.1 0h2.1m-10.6 0h2.1m-26.6 0h2.1m26.2 0h2.1m-13.3 0.1h2.1m17.3 0h2.1m-40.8 0h2.1m36 0.1h2.1m3.2 0h2.1m-31.6 0h2.1m-4 0h2.1m2.5 0h2.1m19.7 0h2.1m-6.7 0.1h2.1m0.1 0.1h2.1m-25 0h2.1m4.5 0.1h2.1m16.8 0h2.1m3.2 0.1h2.1m-27.2 0h2.1m9 0h2.1m7.4 0h2.1m-28.3 0.1h2.1m23.4 0.1h2.1m-32.7 0.1h2.1m24.2 0h2.1m-20.7 0h2.1m17.1 0h2.1m-2.3 0.1h2.1m-8.6 0h2.1m-25 0h2.1m33.4 0.1h2.1m-42.1 0.1h2.1m35.5 0h2.1m-44.3 0h2.1m8.5 0h2.1m8.7 0.2h2.1m9.6 0h2.1m-12 0.2h2.1m-11 0h2.1m2 0h2.1m25.1 0h2.1m-39.1 0.1h2.1m15.2 0h2.1m4.6 0.1h2.1m-7.5 0h2.1m-11.1 0h2.1m-7.9 0h2.1m29.7 0h2.1m-24.8 0h2.1m14.5 0.1h2.1m-9.4 0.1h2.1m-21.9 0h2.1m21.3 0.1h2.1m-6.6 0.1h2.1m-22.5 0h2.1m-4.7 0.1h2.1m-2.7 0h2.1m15.3 0.2h2.1m11.6 0.1h2.1m-22.7 0h2.1m24.6 0.1h2.1m-35.7 0h2.1m18 0h2.1m11.3 0.2h2.1m-36.3 0h2.1m1.6 0h2.1m18.1 0.1h2.1m-8.2 0h2.1m-5 0.1h2.1m19.3 0h2.1m-6.8 0h2.1m-37.3 0h2.1m20.7 0.1h2.1m-14.1 0h2.1m14.6 0h2.1m-3 0.1h2.1m-1.5 0.1h2.1m-4.1 0h2.1m-9.7 0h2.1m15.6 0.3h2.1m1.6 0.1h2.1m-39.4 0.1h2.1m27.7 0h2.1m0.7 0.1h2.1m-11.9 0.1h2.1m-10.4 0h2.1m-7 0.1h2.1m2 0.1h2.1m-9.9 0h2.1m-11 0.1h2.1m26.9 0.1h2.1m-23.1 0h2.1m-2.6 0h2.1m-3.8 0h2.1m11.5 0h2.1m6.3 0.1h2.1m-6.6 0h2.1m-12 0.1h2.1m5.9 0h2.1m2.1 0h2.1m-22.2 0h2.1m9.7 0.1h2.1m-23.4 0h2.1m17.6 0h2.1m-13.3 0.1h2.1m23.3 0h2.1m-23.2 0h2.1m19.3 0h2.1m-3.9 0.1h2.1m12.8 0h2.1m-28.6 0h2.1m-17 0.1h2.1m21.5 0h2.1m-3.3 0h2.1m-18.7 0h2.1m28.5 0h2.1m-9.3 0h2.1m-10.2 0.1h2.1m5 0.1h2.1m9.8 0h2.1m-44.2 0.1h2.1m31.1 0h2.1m8.1 0.1h2.1m-15.4 0h2.1m-13.3 0h2.1m-15.7 0h2.1m13.5 0.1h2.1m11.3 0.1h2.1m-0.2 0h2.1m2.4 0.1h2.1m-30.2 0h2.1m-5.1 0.1h2.1m-15.8 0h2.1m25.3 0h2.1m-26.8 0.1h2.1m33.8 0h2.1m-16.1 0h2.1m15.8 0.1h2.1m-19.4 0h2.1m-20.5 0h2.1m26.7 0h2.1m-10.6 0.1h2.1m6.9 0.1h2.1m-8 0h2.1m-10.5 0h2.1m-0.5 0h2.1m17.3 0.1h2.1m-27.1 0h2.1m14.8 0h2.1m-18.9 0h2.1m-0.9 0.1h2.1m-13.9 0.2h2.1m0.3 0.1h2.1m7.4 0.1h2.1m-1 0.1h2.1m4.9 0h2.1m8 0h2.1m-31.1 0h2.1m20.5 0h2.1m-18.3 0h2.1m9.9 0.1h2.1m-28.3 0h2.1m19.3 0h2.1m16 0h2.1m-9.8 0.1h2.1m11.3 0h2.1m-27.5 0h2.1m7.5 0.1h2.1m-20.7 0h2.1m24.8 0.1h2.1m-40.5 0h2.1m42.8 0h2.1m-21.2 0h2.1m-7.1 0h2.1m-16.7 0.1h2.1m-3.4 0h2.1m-2.1 0h2.1m36.2 0.1h2.1m-24.7 0h2.1m18.7 0h2.1m-12.6 0.1h2.1m-7.2 0.1h2.1m-6.5 0h2.1m-10.9 0.1h2.1m-8.1 0.2h2.1m-7.7 0h2.1m7.1 0.1h2.1m-11.4 0.1h2.1m37.4 0h2.1m-39.5 0.1h2.1m39.6 0.1h2.1m-3.5 0.1h2.1m-16 0.1h2.1m-29.9 0h2.1m28.3 0h2.1m11.9 0h2.1m-1.6 0h2.1m-7.4 0.1h2.1m-32.5 0h2.1m19.7 0h2.1m-22.7 0.2h2.1m-1.3 0h2.1m-3.5 0.2h2.1m30.9 0.1h2.1m-11 0.1h2.1m-24.5 0h2.1m17 0h2.1m-3.6 0.1h2.1m-4.5 0.1h2.1m-5.6 0h2.1m-9.9 0.1h2.1m11.7 0h2.1m-15.8 0h2.1m-7.7 0h2.1m3.7 0.2h2.1m-15 0h2.1m8.5 0.1h2.1m26.7 0h2.1m-41 0h2.1m24.9 0h2.1m12 0h2.1m-13.4 0.1h2.1m-22.6 0h2.1m16.3 0h2.1m5.8 0.1h2.1m-32.2 0h2.1m16.5 0h2.1m1.4 0.1h2.1m-16.9 0h2.1m5.6 0h2.1m-21.2 0.1h2.1m12 0.1h2.1m7.6 0h2.1m-6.5 0h2.1m-22.6 0h2.1m-1 0.1h2.1m10.7 0h2.1m21.4 0.1h2.1m-23.6 0h2.1m21.4 0h2.1m-36.7 0.1h2.1m3.4 0h2.1m-3.4 0h2.1m12.8 0.1h2.1m12.8 0.1h2.1m-3.5 0h2.1m-13.4 0.1h2.1m-13.9 0h2.1m9.8 0h2.1m-16.8 0h2.1m20.9 0h2.1m-22.3 0h2.1m9.9 0h2.1m-8.2 0.1h2.1m14.7 0h2.1m-33.8 0h2.1m-2.5 0.1h2.1m23.2 0h2.1m-28.4 0.4h2.1m32.1 0.1h2.1m-31.2 0h2.1m13 0h2.1m6.6 0.1h2.1m-25.6 0.1h2.1m16.2 0h2.1m-13.8 0.1h2.1m-0.8 0h2.1m1.2 0.1h2.1m19.1 0h2.1m-42.4 0h2.1m15.5 0.1h2.1m-2.6 0.1h2.1m3.4 0h2.1m-16.6 0h2.1m15.6 0.2h2.1m-13.5 0h2.1m12.5 0h2.1m-4.7 0h2.1m1.5 0.1h2.1m-22.9 0h2.1m-4.4 0h2.1m-14.6 0.1h2.1m9.3 0h2.1m9.8 0.1h2.1m-19 0h2.1m-4.9 0.1h2.1m25.8 0h2.1m-15.3 0h2.1m16 0.1h2.1m-12.7 0.1h2.1m6.2 0h2.1m-27.8 0h2.1m-9.8 0.1h2.1m-1.6 0h2.1m7.5 0.1h2.1m21.3 0h2.1m5.4 0h2.1m-39 0h2.1m27.7 0.2h2.1m-24.9 0h2.1m-9.1 0.1h2.1m19.9 0.1h2.1m15.9 0.1h2.1m-30.8 0h2.1m-11 0h2.1m1.5 0h2.1m29 0.1h2.1m-39.3 0h2.1m28.3 0h2.1m-9.6 0.1h2.1m-25.4 0h2.1m37 0.1h2.1m-37.1 0h2.1m-8.6 0h2.1m40.5 0.1h2.1m-21 0h2.1m-22.6 0h2.1m31.8 0.1h2.1m3.2 0h2.1m-29.9 0h2.1m13.7 0.1h2.1m9.7 0h2.1m-44.3 0h2.1m36.1 0h2.1m-15.7 0.1h2.1m-8.2 0h2.1m22.7 0h2.1m-44.8 0h2.1m11.1 0h2.1m25.8 0.1h2.1m-29.4 0h2.1m-9.8 0h2.1m21.8 0h2.1m-19.4 0h2.1m9.3 0h2.1m-6.5 0.1h2.1m2.9 0.1h2.1m1 0.1h2.1m-29.4 0h2.1m3 0.1h2.1m33.7 0h2.1m-3.9 0h2.1m-34.2 0h2.1m25.7 0h2.1m-40.1 0.1h2.1m-0 0h2.1m2.9 0.1h2.1m20.4 0h2.1m-3 0.1h2.1m5.5 0h2.1m1.1 0h2.1m-5.7 0h2.1m-15.7 0.1h2.1m10.6 0h2.1m-11.2 0.1h2.1m3.6 0h2.1m-27.4 0h2.1m29.6 0.1h2.1m6.5 0h2.1m-21.8 0h2.1m5 0h2.1m2.4 0h2.1m-20.6 0.1h2.1m9.1 0h2.1m-22.8 0h2.1m1.4 0.1h2.1m7.4 0.1h2.1m20.4 0h2.1m-6.1 0h2.1m-34.1 0h2.1m19.7 0.1h2.1m-21 0.1h2.1m-8.6 0h2.1m3.9 0.1h2.1m0.2 0h2.1m5.9 0h2.1m-15.5 0h2.1m-3.1 0h2.1m13.7 0h2.1m3.7 0.1h2.1m-4.6 0.1h2.1m-20.6 0h2.1m30.2 0.1h2.1m-11.1 0h2.1m10.2 0h2.1m-27.2 0.1h2.1m7.2 0h2.1m-29.3 0h2.1m41.1 0h2.1m-38.6 0.3h2.1m4.2 0h2.1m1.6 0h2.1m-16.8 0.1h2.1m18.6 0h2.1m17.3 0h2.1m-21.3 0h2.1m-20 0.1h2.1m9.1 0h2.1m-2.7 0.2h2.1m23.5 0.1h2.1m-34.3 0.1h2.1m27.8 0.1h2.1m1.6 0.1h2.1m-40.8 0.1h2.1m11.9 0h2.1m-15.4 0h2.1m20.8 0h2.1m11 0.1h2.1m-21.5 0.1h2.1m-22.5 0h2.1m36.8 0h2.1m-25.5 0h2.1m-7.2 0.1h2.1m-14.9 0h2.1m-1.2 0.1h2.1m7 0.2h2.1m29.2 0h2.1m-5.6 0.1h2.1m0.3 0h2.1m-11.8 0h2.1m-11.8 0.1h2.1m13.6 0.1h2.1m-16.6 0h2.1m15 0h2.1m-12.9 0.1h2.1m8.3 0.1h2.1m-15 0h2.1m-20.3 0h2.1m31.8 0.1h2.1m0.4 0h2.1m-21.1 0.1h2.1m-10.3 0.1h2.1m6 0.1h2.1m-11.5 0.1h2.1m17.5 0h2.1m-28.6 0.1h2.1m2.8 0h2.1m-10.4 0h2.1m19.9 0h2.1m-3.2 0.1h2.1m-22.6 0h2.1m-5.7 0.1h2.1m18 0h2.1m-1.7 0.1h2.1m-18.8 0h2.1m-4.5 0.1h2.1m34.6 0h2.1m-42.2 0.1h2.1m8 0h2.1m33.7 0h2.1m-38.6 0h2.1m21.5 0.1h2.1m-13.9 0.1h2.1m16.7 0.1h2.1m-22.4 0h2.1m-9.7 0h2.1m-7.5 0.1h2.1m19.3 0.1h2.1m10.2 0h2.1m2.2 0h2.1m-0.5 0.1h2.1m-22.1 0.1h2.1m-25 0h2.1m-3.9 0.1h2.1m24.6 0.1h2.1m-17.3 0.1h2.1m-5.1 0h2.1m13.7 0h2.1m3.4 0.1h2.1m-25 0h2.1m24.2 0.1h2.1m-19 0h2.1m7.7 0.1h2.1m-10.6 0.1h2.1m11.2 0h2.1m-20.6 0.2h2.1m-1.3 0.2h2.1m-2 0h2.1m-1.9 0.1h2.1m-14.5 0h2.1m15.7 0h2.1m-6 0.1h2.1m-12.4 0h2.1m9.6 0.1h2.1m-8.6 0.1h2.1m23.7 0h2.1m5.3 0.1h2.1m-34.7 0h2.1m10.3 0.1h2.1m-20.2 0h2.1m11.4 0.1h2.1m-6.5 0.1h2.1m10.6 0h2.1m-0.2 0h2.1m-17.4 0.1h2.1m-9.4 0.3h2.1m28.2 0h2.1m-29.6 0h2.1m4.1 0.1h2.1m14.7 0.2h2.1m-10.6 0.2h2.1m-9.7 0h2.1m-14.2 0.3h2.1m17.6 0h2.1m-19.6 0.1h2.1m34.2 0h2.1m-1.3 0.3h2.1m-28.3 0.1h2.1m19.2 0h2.1m-27.2 0.1h2.1m11.9 0h2.1m9.4 0.1h2.1m-19 0.2h2.1m20.8 0.3h2.1m-21.3 0h2.1m0 0.2h2.1m-13.8 0h2.1m5.7 0.1h2.1m3.7 0.2h2.1m-3.5 0.1h2.1m10.7 0h2.1m-15.2 0.1h2.1m7.4 0.1h2.1m-25.7 0.1h2.1m22.4 0.1h2.1m-33.5 0h2.1m5 0h2.1m5 0.3h2.1m-25 0.3h2.1m19.4 0.1h2.1m19.5 0.4h2.1m-21.3 0.1h2.1m15.8 0.2h2.1m-17.8 0.3h2.1m-17.8 0.1h2.1m6.9 0.2h2.1m23.5 0.1h2.1m-43 0.4h2.1m19.7 0h2.1m0.4 0h2.1m12.8 0.1h2.1m-28 0.1h2.1m-13.6 0.1h2.1m-4.6 0.1h2.1m-4 0.1h2.1m26.9 0.2h2.1m-29.1 0.1h2.1m26.3 0.3h2.1m-31.7 0h2.1m-0.4 0.2h2.1m11.5 0.4h2.1m22.1 0.1h2.1m-40.9 0.1h2.1m17.3 0.8h2.1m-6.8 0.7h2.1m2.8 0.3h2.1m-6.1 0h2.1m23.5 0.2h2.1m-14.2 0.2h2.1m-4.8 0.1h2.1m-18.7 0.1h2.1m-13.5 0.4h2.1m34.4 0.7h2.1m-32.2 0.1h2.1m-5.4 0.2h2.1m5 0.2h2.1m3.1 0.5h2.1m5.2 0.2h2.1m-19.6 0.1h2.1m30.6 0.7h2.1m-0.7 0.1h2.1m-11.5 0.2h2.1m-28.9 1h2.1m20.8 1.8h2.1m-7.3 0.1h2.1m21 0.2h2.1m-7 0.2h2.1m-21.7 0.1h2.1m-9.1 1.4h2.1m0.3 2h2.1m-0.7 2.4h2.1m27.7 0.2h2.1m-13.1 1h2.1m-36.1 1.7h2.1m8.3 0.4h2.1m-13.3 0.7h2.1m32.1 0.6h2.1m-9 0.2h2.1m-8.9 1.1h2.1m4 1.7h2.1m-20.3 5.8h2.1m33.5 0.2h2.1m-34.2 1.6h2.1m7.2 260.9h2.1m-6 5.7h2.1m-9.9 20h2.1m26.1 0.1h2.1m-12 1.7h2.1m13 1.1h2.1m-20.3 5.3h2.1m-13.4 0.2h2.1m8.4 0.3h2.1m-0.3 0.3h2.1m5 0.6h2.1m-15.7 0h2.1m-2.6 0.9h2.1m-13.4 0.1h2.1m2.6 0.5h2.1m4.1 0.1h2.1m-17.3 0.8h2.1m9.1 0.8h2.1m7.3 0.7h2.1m11 0.7h2.1m-36 0.2h2.1m26.6 0.5h2.1m-2.3 1.1h2.1m-25.4 0.4h2.1m-10 1.3h2.1m34.7 0.3h2.1m-28.8 0h2.1m1.4 0.1h2.1m-5.8 0.4h2.1m30.5 0.1h2.1m-1.6 0.8h2.1m-29.8 0.5h2.1m-9.7 0.4h2.1m4.1 0.4h2.1m9.3 0h2.1m16.1 0.4h2.1m-11.4 0.2h2.1m6 1.1h2.1m-25.1 0.9h2.1m-11.2 0h2.1m29.9 0.4h2.1m-1.4 0.3h2.1m-30.8 0.1h2.1m-9.3 1.5h2.1m30.6 0h2.1m-11.8 0h2.1m-26.6 0.1h2.1m-0 0.1h2.1m24.2 0h2.1m1.9 0.4h2.1m-7.1 0.6h2.1m-16 0.1h2.1m21.6 0.5h2.1m-26.8 0.8h2.1m-6.4 0.2h2.1m2.7 0.7h2.1m0.4 0.3h2.1m-6.9 1.1h2.1m11.3 0.2h2.1m-12.7 0.1h2.1m-4 0h2.1m25.9 0.3h2.1m-7.4 0.2h2.1m-27.8 0.6h2.1m0.3 0h2.1m11.4 0.1h2.1m-24.3 0.2h2.1m18.8 0h2.1m-20.4 0.2h2.1m-0.2 0.2h2.1m26.7 0h2.1m-7.5 0.3h2.1m1.2 0h2.1m-12.3 0.1h2.1m-30 0.2h2.1m33.7 0h2.1m-33.6 0.2h2.1m-1.4 0.5h2.1m7.5 0.3h2.1m22.7 0.1h2.1m-6.6 0.4h2.1m7.9 0h2.1m-40.6 1.3h2.1m-5.9 0h2.1m14.4 0.6h2.1m20.6 0.3h2.1m-45.3 0h2.1m3.7 0.2h2.1m21.4 0.1h2.1m-11.6 0.5h2.1m11.6 0.5h2.1m-21.6 0.8h2.1m-15.6 0.1h2.1m27.9 0.1h2.1m5.4 0.4h2.1m-10.1 0.4h2.1m-1.2 0.2h2.1m-23.9 0.2h2.1m8.9 0.5h2.1m0.2 0h2.1m-3.7 0.5h2.1m-9.5 0.1h2.1m13.6 0.2h2.1m-14.5 0.2h2.1m-4.1 0h2.1m-16.7 0.8h2.1m25.1 0h2.1m-17.9 0.3h2.1m-6.5 0.1h2.1m18 0h2.1m4.2 0.2h2.1m-20.2 0.2h2.1m-6.5 0.3h2.1m-12 0.4h2.1m12.5 0.1h2.1m-4.6 0.1h2.1m20.8 0.1h2.1m-30 0.2h2.1m21.4 0.2h2.1m-16.9 0.1h2.1m-1 0.3h2.1m-17.4 0.2h2.1m-0.2 0.1h2.1m32.1 0.5h2.1m-5.5 0.6h2.1m-21.9 0.6h2.1m-12.7 0.1h2.1m6.1 0.2h2.1m-6.3 0h2.1m18.9 0h2.1m-0.3 0.1h2.1m4.2 0h2.1m-31.1 0.1h2.1m34.2 0h2.1m-21.3 0.4h2.1m-24.5 0.1h2.1m13.6 0.1h2.1m-14.5 0.1h2.1m21.2 0.1h2.1m-26.9 0.6h2.1m3.7 0.1h2.1m-12.4 0.1h2.1m8.1 0.1h2.1m19.2 0h2.1m7 0.1h2.1m-27 0.1h2.1m-14.9 0h2.1m35.6 0.1h2.1m-36.5 0.6h2.1m-3.7 0h2.1m30.4 0.1h2.1m-21.2 0.2h2.1m3 0h2.1m-0.9 0.1h2.1m-12.6 0.1h2.1m-4.2 0.4h2.1m10.4 0.5h2.1m-24.2 0.1h2.1m30.2 0.1h2.1m-25 0.6h2.1m20.8 0.2h2.1m-3.5 0.1h2.1m1.5 0.1h2.1m-9.3 0h2.1m11.2 0.2h2.1m-29.2 0h2.1m8.3 0.2h2.1m-24.8 0h2.1m5.3 0.7h2.1m28.7 0.1h2.1m-38 0.1h2.1m-9 0.4h2.1m31.1 0.2h2.1m-1.8 0.7h2.1m-18.1 0.3h2.1m-19.3 0h2.1m19.6 0.3h2.1m2.7 0.1h2.1m2.1 0h2.1m-15.5 0h2.1m12.4 0.1h2.1m-30.8 0.1h2.1m30.2 0.5h2.1m-21 0.2h2.1m-10.9 0h2.1m25.2 0.1h2.1m-12.3 0.2h2.1m-2.8 0h2.1m-25.9 0.2h2.1m8.8 0.1h2.1m23.8 0.2h2.1m-3.4 0.4h2.1m4.5 0h2.1m-34 0.5h2.1m21.5 0.1h2.1m-17.7 0.2h2.1m-17.8 0.1h2.1m26.1 0.3h2.1m3.7 0h2.1m-2.8 0.5h2.1m7.2 0.1h2.1m-18.7 0h2.1m9.7 0.1h2.1m0.5 0.4h2.1m-31.8 0.3h2.1m-6.9 0.3h2.1m32.4 0.1h2.1m-35.1 0.3h2.1m4.7 0.1h2.1m-10.3 0h2.1m-9.8 0h2.1m15.5 0.2h2.1m10.4 0.1h2.1m-15.7 0.2h2.1m14.3 0h2.1m2.9 0h2.1m-1.7 0.2h2.1m-12.8 0h2.1m-0.5 0h2.1m13.6 0.1h2.1m-40.7 0h2.1m28.6 0.2h2.1m-1.6 0.1h2.1m-39.4 0h2.1m4.5 0.1h2.1m-3.2 0.2h2.1m19.5 0h2.1m-0.6 0.5h2.1m-19 0.2h2.1m-11.9 0.1h2.1m17.5 0.1h2.1m5 0.1h2.1m-19.8 0h2.1m21.1 0.1h2.1m-34.6 0h2.1m38.4 0.1h2.1m-4.1 0h2.1m-6.4 0.1h2.1m-33.8 0h2.1m31.5 0.4h2.1m-38.3 0.1h2.1m8.3 0h2.1m25.7 0.3h2.1m-10.6 0.1h2.1m-17.3 0h2.1m-1.8 0.1h2.1m-19.5 0h2.1m39.2 0.2h2.1m-30.6 0.1h2.1m-5.7 0.2h2.1m9.7 0.1h2.1m-10.2 0h2.1m-8.5 0.1h2.1m33.4 0h2.1m-42.2 0.2h2.1m35.5 0.1h2.1m-3.1 0h2.1m-38.7 0.2h2.1m24.5 0.1h2.1m8.2 0.3h2.1m-33.2 0h2.1m9.9 0.1h2.1m-9.6 0.1h2.1m26.4 0.3h2.1m-29 0h2.1m3.8 0h2.1m21.4 0h2.1m-15.1 0.1h2.1m11.2 0.1h2.1m-43 0.2h2.1m-4.5 0.1h2.1m7.2 0.1h2.1m-9.8 0.4h2.1m37.2 0.1h2.1m-26.5 0.3h2.1m-14.4 0.1h2.1m25.9 0h2.1m-28.8 0.2h2.1m-0.9 0h2.1m9.6 0.8h2.1m13.3 0h2.1m-5.6 0.2h2.1m-28.3 0h2.1m5.9 0.1h2.1m0.7 0h2.1m10.7 0.1h2.1m-30.2 0h2.1m18.2 0.2h2.1m6.8 0.1h2.1m-8.2 0.4h2.1m10.2 0.4h2.1m-5.9 0.1h2.1m-16.2 0.2h2.1m-8.1 0.3h2.1m15.9 0.1h2.1m-13.9 0.1h2.1m1.3 0h2.1m1.1 0.1h2.1m-15.9 0h2.1m7.8 0.2h2.1m12.9 0h2.1m-3.1 0.2h2.1m-14.4 0.2h2.1m7 0.1h2.1m6.5 0.1h2.1m3 0.1h2.1m-14.9 0h2.1m4.8 0h2.1m-25.9 0h2.1m23.3 0.5h2.1m1.6 0.1h2.1m-4.4 0h2.1m-4.6 0.2h2.1m-23.3 0.1h2.1m19.8 0.1h2.1m-20.9 0.3h2.1m-22.1 0.1h2.1m40.8 0.1h2.1m-38.8 0h2.1m26.6 0.1h2.1m-36.4 0.1h2.1m31.1 0.2h2.1m-35.3 0.2h2.1m12.8 0.2h2.1m25.5 0.1h2.1m-40.6 0.1h2.1m1.8 0.7h2.1m22.8 0.1h2.1m-9.9 0h2.1m11.4 0.1h2.1m-41.1 0h2.1m14.4 0.3h2.1m24.9 0h2.1m-28.1 0h2.1m-2.4 0h2.1m-18.5 0h2.1m10.4 0h2.1m8.9 0.1h2.1m-3.1 0h2.1m14.9 0.2h2.1m-5.1 0h2.1m-17.4 0.1h2.1m-3.6 0.1h2.1m-18.8 0.3h2.1m-0.3 0.1h2.1m4.1 0h2.1m7.8 0.1h2.1m12.6 0.1h2.1m-13.2 0h2.1m-17.6 0h2.1m19.2 0.2h2.1m3.7 0h2.1m-29.3 0.1h2.1m-11.5 0.1h2.1m1.1 0h2.1m17.2 0.1h2.1m-2.9 0.1h2.1m-16.9 0.1h2.1m13.7 0.2h2.1m13.3 0.1h2.1m-23.4 0h2.1m-7.3 0.1h2.1m15.8 0h2.1m-8.2 0.3h2.1m-22.6 0h2.1m33 0h2.1m-41.4 0.2h2.1m14.6 0h2.1m19.6 0.2h2.1m-25.6 0.1h2.1m8.6 0h2.1m-1.5 0h2.1m-7.6 0.1h2.1m-1.4 0.1h2.1m8.9 0.1h2.1m5.4 0.2h2.1m-30.1 0h2.1m20.1 0h2.1m-23.6 0h2.1m10 0.2h2.1m15.9 0h2.1m-27.4 0.2h2.1m10.1 0.2h2.1m-31.9 0.1h2.1m26 0.1h2.1m-8.2 0h2.1m8.4 0.1h2.1m5.2 0h2.1m2.3 0.1h2.1m-18.8 0.1h2.1m15.5 0.1h2.1m-18.1 0h2.1m-31.1 0.1h2.1m0.7 0h2.1m4.9 0.1h2.1m-1.1 0.1h2.1m-12.2 0.2h2.1m28.5 0.2h2.1m-22.9 0.2h2.1m-7 0.3h2.1m26.8 0.1h2.1m8.8 0.1h2.1m-15.6 0.2h2.1m7.8 0.1h2.1m-20.7 0h2.1m14.9 0h2.1m-7.4 0.1h2.1m-32.6 0h2.1m2.2 0.1h2.1m30 0h2.1m-25 0.1h2.1m13.8 0.1h2.1m-23.2 0.1h2.1m-2.1 0h2.1m-2.1 0.1h2.1m20.5 0.1h2.1m-27.2 0.2h2.1m22.1 0h2.1m-15.2 0.3h2.1m-21.3 0h2.1m11.6 0.1h2.1m0.1 0.2h2.1m7.9 0.2h2.1m-2.8 0h2.1m-9.2 0.1h2.1m7.7 0h2.1m-19.6 0.2h2.1m30.2 0h2.1m-36.7 0.1h2.1m14.7 0.1h2.1m-5.5 0.2h2.1m0.1 0.4h2.1m0.6 0.2h2.1m-3.9 0h2.1m-4.5 0h2.1m12.8 0.1h2.1m-40.6 0.1h2.1m32.9 0.3h2.1m-12.9 0.1h2.1m2.8 0h2.1m-2.7 0.2h2.1m12.5 0.1h2.1m-40.3 0.1h2.1m-1.6 0h2.1m16.7 0.2h2.1m11.8 0.1h2.1m-24.1 0h2.1m7.1 0.1h2.1m10.5 0.1h2.1m-26.4 0.2h2.1m-8.7 0h2.1m18.4 0.1h2.1m5.3 0.2h2.1m-19.8 0.1h2.1m-16.1 0.1h2.1m31.5 0.1h2.1m-22.2 0h2.1m19.4 0.1h2.1m-22.5 0.4h2.1m-18.1 0h2.1m31.8 0.1h2.1m-5.9 0h2.1m-4.9 0.1h2.1m-14.1 0.1h2.1m24.2 0h2.1m-10.5 0h2.1m-13.2 0h2.1m-5.1 0.1h2.1m16.5 0h2.1m-35.7 0.3h2.1m10.7 0h2.1m14.2 0.1h2.1m-29.3 0h2.1m0.6 0.1h2.1m9.8 0h2.1m17 0h2.1m-27.9 0h2.1m7.6 0.1h2.1m15.7 0.1h2.1m-8 0.1h2.1m-15.7 0.2h2.1m13.5 0.1h2.1m-42.9 0.1h2.1m27.3 0.1h2.1m-3.6 0.1h2.1m-17.5 0.1h2.1m3.2 0.1h2.1m13.3 0.1h2.1m10.9 0.1h2.1m-41.5 0.2h2.1m30.2 0.1h2.1m-17.9 0.1h2.1m-20.3 0.3h2.1m25.5 0h2.1m-21.1 0.1h2.1m29.1 0.1h2.1m-10.6 0.1h2.1m-3.9 0.1h2.1m-5.1 0.2h2.1m-10 0.2h2.1m-12.9 0.1h2.1m18.6 0.3h2.1m-17.9 0h2.1m8.5 0.3h2.1m-21.8 0.1h2.1m8.3 0h2.1m13.9 0h2.1m-28.3 0.1h2.1m4.1 0h2.1m3.1 0.1h2.1m-19.8 0.2h2.1m11.7 0h2.1m-6 0.1h2.1m20.1 0.1h2.1m8.7 0h2.1m-31 0h2.1m21.3 0.2h2.1m-3.1 0.1h2.1m-24.7 0.1h2.1m9.3 0h2.1m-3.2 0.1h2.1m-2.8 0.2h2.1m-27.9 0.3h2.1m26.9 0.1h2.1m-5.9 0.2h2.1m-7.5 0h2.1m6.7 0.1h2.1m-24.8 0h2.1m27.3 0h2.1m-28.2 0.3h2.1m22.3 0h2.1m6.4 0h2.1m-11.9 0h2.1m6.1 0h2.1m-27.2 0.2h2.1m13.3 0.1h2.1m-15.9 0.1h2.1m5.7 0.2h2.1m9.3 0h2.1m-32.2 0.1h2.1m31.2 0h2.1m2.3 0.2h2.1m-31 0.1h2.1m23.9 0h2.1m-24.1 0h2.1m15.9 0.1h2.1m-7.1 0h2.1m-15.5 0h2.1m-16.9 0.3h2.1m15.3 0.1h2.1m-9.6 0h2.1m-6.7 0.2h2.1m-0.4 0.2h2.1m0.8 0.3h2.1m-13 0h2.1m5.1 0.1h2.1m21.9 0.3h2.1m-21.5 0h2.1m-8.9 0.1h2.1m12.8 0.1h2.1m-2.7 0.1h2.1m-17 0h2.1m30.8 0.3h2.1m-35.4 0h2.1m33.5 0.1h2.1m-23.8 0.2h2.1m-13.5 0h2.1m17.7 0.1h2.1m-3.8 0h2.1m-25.2 0.3h2.1m10 0.1h2.1m16.8 0.1h2.1m-35.7 0.1h2.1m37.5 0.3h2.1m-40.3 0.1h2.1m-2.3 0h2.1m2.5 0h2.1m6.5 0.1h2.1m-5 0h2.1m1.3 0.1h2.1m2.1 0h2.1m22.9 0.2h2.1m-18.6 0h2.1m-16.5 0h2.1m-4.2 0.1h2.1m-11.2 0h2.1m32.4 0h2.1m-30.6 0.2h2.1m13.8 0.1h2.1m3.4 0.2h2.1m-15.1 0h2.1m12 0h2.1m12 0.1h2.1m-26.3 0.1h2.1m-4.7 0h2.1m-11.5 0.1h2.1m27.1 0h2.1m-3.8 0.1h2.1m-11.1 0.1h2.1m-2.4 0h2.1m8.8 0.1h2.1m-35.6 0.2h2.1m17.6 0.2h2.1m1.3 0h2.1m-18.4 0h2.1m22.6 0.2h2.1m2.6 0h2.1m-33.6 0h2.1m1.1 0.1h2.1m-10.4 0h2.1m38 0h2.1m-28.2 0.2h2.1m-20.8 0h2.1m32.4 0.1h2.1m0.4 0.4h2.1m-31.7 0h2.1m5.5 0.4h2.1m2.8 0h2.1m21.8 0h2.1m-24 0.2h2.1m-4.3 0.2h2.1m-18 0h2.1m2.8 0h2.1m11.3 0.2h2.1m-10 0.3h2.1m-12.7 0h2.1m33.3 0.2h2.1m-26.6 0h2.1m23.4 0h2.1m-10.9 0.1h2.1m9 0.1h2.1m-5.9 0.2h2.1m0.9 0.1h2.1m-42.2 0.2h2.1m-2.1 0h2.1m34.5 0.1h2.1m-19.2 0h2.1m11.9 0.1h2.1m-6.8 0h2.1m-21.3 0h2.1m-6.5 0h2.1m4.5 0.1h2.1m19.8 0h2.1m-12.8 0h2.1m-23.4 0.2h2.1m38.3 0.1h2.1m-45.9 0h2.1m4.4 0.1h2.1m-2.7 0.1h2.1m8.1 0h2.1m-2.4 0h2.1m18.6 0h2.1m0.5 0.1h2.1m-21.3 0.1h2.1m-15.1 0.1h2.1m6.9 0h2.1m14.3 0.1h2.1m4.6 0.1h2.1m-32.4 0.2h2.1m10.9 0h2.1m-20.2 0h2.1m-4.1 0.1h2.1m7.9 0h2.1m7.6 0.1h2.1m16.5 0h2.1m-0.3 0.1h2.1m-43.1 0.1h2.1m42.9 0.1h2.1m-8.4 0.1h2.1m-21.8 0.1h2.1m-0.7 0.2h2.1m-1.9 0h2.1m-8 0.1h2.1m19.5 0h2.1m-0.4 0h2.1m-17 0h2.1m13.1 0.1h2.1m-7.3 0.2h2.1m-4 0h2.1m10.7 0h2.1m-23.1 0h2.1m-0.2 0.1h2.1m-21.1 0h2.1m8.5 0.1h2.1m3.4 0h2.1m11.2 0.1h2.1m-9.5 0h2.1m-28.2 0h2.1m23.3 0h2.1m-24.9 0h2.1m2.4 0h2.1m0.8 0.1h2.1m24.7 0h2.1m-5.3 0h2.1m-21.7 0.1h2.1m17.4 0.1h2.1m-22.4 0.2h2.1m-10.7 0h2.1m17.4 0.1h2.1m-6.8 0h2.1m12.4 0h2.1m3.1 0h2.1m-28.7 0.3h2.1m21.5 0h2.1m-20 0.1h2.1m-21.3 0.1h2.1m20.4 0.1h2.1m-6.1 0h2.1m-22.4 0h2.1m4.7 0.1h2.1m3.3 0.1h2.1m8.8 0.1h2.1m-17.4 0.1h2.1m10.6 0h2.1m22.5 0.1h2.1m-30.3 0h2.1m13.7 0h2.1m-17.1 0.1h2.1m-7.5 0.1h2.1m-4.4 0.1h2.1m29.7 0.1h2.1m-21 0h2.1m5 0h2.1m-7.4 0.1h2.1m12.3 0h2.1m-12.2 0.1h2.1m8.6 0h2.1m-27.6 0h2.1m4.1 0.2h2.1m11.1 0h2.1m-13 0h2.1m-5.7 0.1h2.1m-7.1 0.1h2.1m-3.9 0h2.1m26.9 0.1h2.1m-31.9 0h2.1m20.8 0.1h2.1m6.2 0h2.1m-22.3 0h2.1m-17.8 0h2.1m-0.5 0.2h2.1m7.6 0h2.1m16.3 0.2h2.1m-10.3 0.1h2.1m-12.3 0.1h2.1m-19.9 0h2.1m35.7 0.1h2.1m2.1 0.1h2.1m-20 0.1h2.1m12.9 0h2.1m-40.7 0h2.1m25.7 0h2.1m-24 0.1h2.1m-7.2 0.1h2.1m13.8 0h2.1m0.7 0.1h2.1m5.6 0h2.1m-28.5 0h2.1m40.7 0h2.1m-21.5 0.2h2.1m1.3 0.2h2.1m1.9 0.1h2.1m-14.7 0h2.1m-0.9 0h2.1m5.1 0.2h2.1m-6.9 0h2.1m4.7 0.1h2.1m0.4 0.2h2.1m-8.5 0h2.1m4.5 0.1h2.1m-24.6 0h2.1m-9.1 0h2.1m24.3 0h2.1m-31 0.1h2.1m30.5 0h2.1m-20.4 0h2.1m2.9 0h2.1m7.3 0.1h2.1m4.3 0h2.1m-0.2 0h2.1m-27.8 0.1h2.1m26.3 0h2.1m0 0h2.1m-25.2 0.1h2.1m-11.7 0h2.1m14.3 0.1h2.1m2.7 0h2.1m-23.6 0h2.1m-10.2 0.1h2.1m0.4 0.1h2.1m20.7 0h2.1m-20.3 0.1h2.1m-6.4 0h2.1m5 0h2.1m9.2 0h2.1m17 0.1h2.1m-28.7 0.1h2.1m1.8 0h2.1m0.8 0.1h2.1m2.9 0.1h2.1m-18.4 0h2.1m23.4 0h2.1m-21.7 0.1h2.1m-0.8 0h2.1m-5.9 0h2.1m-0.4 0.1h2.1m-0.4 0h2.1m-7 0.1h2.1m-10.2 0.1h2.1m34.8 0h2.1m-35 0h2.1m35 0.1h2.1m-28.5 0h2.1m-9.7 0.1h2.1m27.2 0h2.1m0.9 0.1h2.1m-7.3 0.1h2.1m-19.8 0h2.1m8.5 0.2h2.1m9.4 0.1h2.1m-6.1 0h2.1m-35.4 0h2.1m37.3 0.1h2.1m-1.5 0h2.1m-31.4 0.1h2.1m-1.5 0h2.1m-8.9 0.1h2.1m-9.1 0h2.1m1.2 0h2.1m23.2 0.1h2.1m-4.9 0h2.1m12.2 0.1h2.1m-29.8 0h2.1m13.6 0.1h2.1m-21.3 0h2.1m14.4 0h2.1m-30.3 0h2.1m29.9 0h2.1m6 0h2.1m-21.4 0.1h2.1m-4 0h2.1m16.8 0h2.1m-2.6 0h2.1m2.8 0h2.1m-25.8 0.1h2.1m-11.8 0h2.1m30.6 0h2.1m-24.4 0h2.1m-20.6 0h2.1m40.5 0.1h2.1m-40 0.1h2.1m-5.1 0h2.1m27.2 0h2.1m3.1 0.1h2.1m-14 0h2.1m11.9 0h2.1m-23.7 0h2.1m24 0.1h2.1m-11.5 0.1h2.1m-14.4 0h2.1m13.5 0.1h2.1m-38.5 0h2.1m6.3 0h2.1m6.4 0h2.1m6 0.1h2.1m-2.7 0h2.1m-20.2 0h2.1m10.5 0.1h2.1m-21.2 0h2.1m9.5 0.1h2.1m14.8 0.1h2.1m-13.3 0h2.1m10.4 0h2.1m2.6 0h2.1m-1.3 0h2.1m-31.6 0h2.1m29.8 0h2.1m5.1 0h2.1m-4.7 0.1h2.1m-34.3 0h2.1m8.5 0h2.1m7.7 0.1h2.1m5 0h2.1m3 0h2.1m-23.4 0.1h2.1m-0.7 0h2.1m-16.3 0h2.1m0 0h2.1m23.4 0.1h2.1m-6 0h2.1m-8.8 0h2.1m-5.6 0h2.1m15.1 0.2h2.1m-1.2 0h2.1m-20.8 0h2.1m18.8 0h2.1m-0.9 0.1h2.1m-36.1 0h2.1m25.4 0h2.1m-18.6 0.1h2.1m12.9 0h2.1m-37 0h2.1m12.1 0h2.1m-12.6 0.1h2.1m37.7 0h2.1m-24.4 0h2.1m16.4 0h2.1m-9.1 0.2h2.1m-27.2 0.1h2.1m28.3 0h2.1m-33.4 0h2.1m-2.7 0h2.1m7.4 0.1h2.1m-17.6 0h2.1m38.5 0.1h2.1m-36.8 0h2.1m-6 0.1h2.1m1.1 0h2.1m-4.6 0h2.1m-1.2 0h2.1m33.9 0.1h2.1m-24 0h2.1m-5.2 0h2.1m1.7 0.1h2.1m18.2 0h2.1m-31.5 0h2.1m6.5 0.1h2.1m16.7 0h2.1m-18.8 0.1h2.1m19.4 0h2.1m-11 0.2h2.1m9.1 0.1h2.1m-33.7 0h2.1m13.6 0h2.1m6.5 0h2.1m-26.1 0h2.1m20.4 0h2.1m-1.4 0.1h2.1m-24.7 0h2.1m-9.9 0h2.1m21.4 0h2.1m-0.9 0.1h2.1m11.4 0h2.1m-44.1 0.1h2.1m20.6 0h2.1m-15.6 0.1h2.1m20.6 0h2.1m-7.5 0h2.1m-12.2 0.1h2.1m-12.7 0h2.1m6.3 0h2.1m-1.8 0.1h2.1m14.6 0h2.1m4.3 0h2.1m-0.9 0.1h2.1m-43.8 0.1h2.1m3.9 0h2.1m5.6 0h2.1m-13.1 0h2.1m9.7 0h2.1m-3 0.1h2.1m-1.2 0.1h2.1m11.1 0.1h2.1m-11.1 0h2.1m19.7 0h2.1m-39.5 0.1h2.1m11.1 0h2.1m-2.3 0h2.1m9.1 0.1h2.1m-18.6 0h2.1m1 0.1h2.1m6.5 0h2.1m2.8 0h2.1m-19.1 0.1h2.1m-1.7 0h2.1m15.5 0h2.1m-14.7 0.1h2.1m12.2 0h2.1m7.4 0.1h2.1m1.2 0h2.1m-45.5 0h2.1m35 0.1h2.1m-10 0.1h2.1m-3.2 0h2.1m4 0.1h2.1m0.8 0h2.1m-8 0h2.1m-4.8 0.1h2.1m12.8 0h2.1m-25.1 0h2.1m22.4 0.1h2.1m-1.1 0h2.1m-15.4 0.1h2.1m-29.2 0h2.1m0.4 0h2.1m12.7 0.2h2.1m-1.4 0h2.1m-1.8 0h2.1m-10.9 0h2.1m29.1 0.1h2.1m-8.9 0h2.1m-6.1 0h2.1m-8.5 0h2.1m-13.5 0h2.1m-2.3 0.1h2.1m-1.9 0h2.1m13.7 0h2.1m-10.6 0h2.1m-20 0h2.1m11.3 0.1h2.1m19 0h2.1m0.6 0h2.1m-25.4 0h2.1m4.9 0h2.1m15.4 0h2.1m-24.7 0h2.1m2 0.1h2.1m-23.6 0h2.1m0.3 0h2.1m8.1 0h2.1m-3.1 0.1h2.1m1.6 0h2.1m5.2 0h2.1m-6.5 0h2.1m-23.4 0h2.1m7 0h2.1m17 0.2h2.1m0.9 0h2.1m4.4 0h2.1m-14.8 0h2.1m-27.1 0h2.1m36.6 0h2.1m-39.1 0h2.1m25.2 0.1h2.1m-21.2 0h2.1m-10.3 0h2.1m14 0.1h2.1m1.2 0h2.1m-8.7 0h2.1m20 0.1h2.1m-13 0h2.1m-28.1 0.1h2.1m16.7 0h2.1m14.4 0h2.1m-38.6 0h2.1m21.8 0h2.1m-19.6 0h2.1m-1.6 0.1h2.1m34 0h2.1m-21 0h2.1m-20.4 0.1h2.1m30.7 0h2.1m-27.4 0.2h2.1m-12.1 0h2.1m8.9 0h2.1m20.2 0h2.1m-32.1 0.1h2.1m15.4 0.1h2.1m-7.4 0h2.1m-11.2 0h2.1m15.9 0.1h2.1m-27.4 0h2.1m29.5 0h2.1m-29.3 0h2.1m26.3 0.1h2.1m-26.3 0h2.1m19.8 0h2.1m-10.2 0.1h2.1m-14.4 0h2.1m23.9 0h2.1m-7.3 0.1h2.1m-15.3 0.1h2.1m6.6 0.1h2.1m-21.5 0h2.1m-7.9 0h2.1m36 0h2.1m-27.3 0h2.1m6.3 0h2.1m12.8 0.1h2.1m2.9 0h2.1m-3.3 0h2.1m-41.9 0.1h2.1m12.7 0h2.1m11.7 0h2.1m-26.8 0h2.1m33.3 0h2.1m-46.1 0.1h2.1m35.5 0h2.1m-27.8 0h2.1m23.8 0h2.1m-32.3 0h2.1m29.2 0h2.1m1.5 0.2h2.1m-16 0h2.1m-26.3 0h2.1m4 0h2.1m23.2 0.1h2.1m-15.4 0h2.1m11.9 0.1h2.1m-7.7 0h2.1m2.2 0h2.1m4.9 0h2.1m-7.7 0h2.1m-0.3 0.1h2.1m-12.6 0h2.1m7.9 0.1h2.1m0.4 0h2.1m-23.1 0h2.1m1.6 0.1h2.1m-8.5 0.1h2.1m-18.4 0h2.1m29 0h2.1m-22.1 0.1h2.1m17.9 0h2.1m1.3 0h2.1m2.4 0.1h2.1m-37.6 0h2.1m33.3 0h2.1m-16.8 0.1h2.1m9.3 0h2.1m-35.1 0h2.1m31.1 0.2h2.1m-31.7 0h2.1m30.7 0h2.1m-30.4 0h2.1m11.8 0h2.1m-16.5 0.1h2.1m-12.3 0h2.1m42.4 0h2.1m-32.5 0h2.1m6 0h2.1m-23.5 0h2.1m19.5 0.1h2.1m-16.8 0h2.1m14.7 0h2.1m-10.8 0.1h2.1m9.3 0.1h2.1m13.9 0h2.1m-17 0h2.1m6.1 0h2.1m0.2 0.1h2.1m-14.1 0h2.1m-11 0h2.1m-0.2 0h2.1m3.4 0h2.1m-22.4 0.1h2.1m38.8 0h2.1m-43.8 0h2.1m3.2 0h2.1m33.5 0h2.1m-4.7 0h2.1m-36.4 0.1h2.1m-2.6 0h2.1m4.5 0h2.1m-17.1 0.1h2.1m21.1 0h2.1m8.5 0h2.1m-6.9 0.1h2.1m-1.9 0h2.1m-15 0h2.1m11.4 0h2.1m9.1 0.1h2.1m-4.3 0h2.1m-3.7 0.1h2.1m-8.1 0h2.1m7.3 0.1h2.1m-26.1 0h2.1m-6.2 0h2.1m21.6 0h2.1m-3.9 0h2.1m-1.9 0.1h2.1m-13.3 0h2.1m8.6 0h2.1m-14.5 0.1h2.1m20.3 0h2.1m-22.1 0h2.1m-13.8 0h2.1m22.8 0h2.1m-21.1 0.1h2.1m-7.2 0h2.1m25.3 0.1h2.1m-6.9 0h2.1m-20.1 0h2.1m3.6 0.1h2.1m10.8 0h2.1m-33.5 0h2.1m33.5 0.1h2.1m-26.1 0h2.1m-18.4 0h2.1m40.9 0h2.1m-7.1 0.1h2.1m-16 0h2.1m2.1 0h2.1m-22.9 0.1h2.1m17.2 0h2.1m-7.6 0h2.1m19.3 0h2.1m-36.9 0h2.1m16.5 0.1h2.1m-7.6 0h2.1m-5.2 0h2.1m-2.4 0h2.1m25.6 0.1h2.1m-27.6 0h2.1m8.2 0.1h2.1m-28.6 0h2.1m-4.7 0h2.1m4.8 0h2.1m-4.6 0h2.1m35.4 0.1h2.1m-5.5 0h2.1m0.8 0h2.1m-10.7 0.1h2.1m-33.5 0h2.1m17.8 0h2.1m-13.8 0h2.1m13.1 0h2.1m-0.4 0h2.1m-9.9 0h2.1m-6.4 0.1h2.1m10.4 0h2.1m-0.7 0h2.1m-12.1 0.1h2.1m11.7 0h2.1m-12 0.1h2.1m-25.2 0h2.1m22.4 0h2.1m-26.5 0h2.1m9.5 0.1h2.1m-4.5 0h2.1m-11.4 0h2.1m3.3 0.1h2.1m-1.4 0h2.1m7.7 0h2.1m3.3 0h2.1m-11.4 0h2.1m11.3 0h2.1m-21.2 0h2.1m0.8 0h2.1m8.9 0.1h2.1m12 0h2.1m3.9 0.1h2.1m-29.1 0h2.1m9.8 0.1h2.1m-18.1 0h2.1m23.5 0h2.1m-25.7 0.1h2.1m-11.5 0.1h2.1m7.9 0h2.1m1.7 0h2.1m14.9 0h2.1m3 0.1h2.1m-20.8 0h2.1m6.1 0.1h2.1m-27.9 0h2.1m23.3 0.1h2.1m-20.6 0h2.1m10.4 0.1h2.1m-10.1 0h2.1m12.9 0h2.1m-15.3 0h2.1m28 0.1h2.1m-15.9 0h2.1m0.7 0.1h2.1m-23.6 0h2.1m2.9 0h2.1m-1 0.2h2.1m-3.2 0h2.1m-16.9 0h2.1m2.7 0h2.1m31.4 0h2.1m-11.3 0h2.1m-0.6 0.2h2.1m-27.9 0h2.1m-3.8 0h2.1m22.4 0h2.1m-9.5 0.1h2.1m7.6 0h2.1m5.5 0h2.1m-27.7 0h2.1m27.1 0h2.1m-30.6 0h2.1m-15.5 0h2.1m29.1 0.1h2.1m-25.8 0h2.1m20.8 0h2.1m-5.3 0.1h2.1m-28.1 0h2.1m34.6 0h2.1m-26.3 0.1h2.1m15.8 0h2.1m6.2 0h2.1m-28 0h2.1m4.1 0h2.1m5.2 0.1h2.1m-8 0h2.1m6.5 0h2.1m-6.5 0h2.1m-16 0h2.1m19.5 0.1h2.1m-24.1 0h2.1m12.5 0h2.1m5.6 0h2.1m-32.2 0h2.1m9.9 0.1h2.1m-4.6 0h2.1m28.7 0h2.1m-31.4 0h2.1m14.5 0h2.1m-32.1 0.1h2.1m33.8 0h2.1m-29.8 0h2.1m-9.1 0h2.1m18 0.2h2.1m-25.9 0h2.1m38.8 0h2.1m-7 0h2.1m-14.5 0h2.1m-13.7 0.1h2.1m-11.5 0h2.1m20.3 0h2.1m-3.9 0h2.1m-20.8 0.1h2.1m4.4 0.1h2.1m24.3 0h2.1m-1.2 0h2.1m-11.3 0h2.1m-16.4 0.1h2.1m-12.4 0h2.1m14.1 0h2.1m16.5 0h2.1m-26 0.1h2.1m16.3 0h2.1m-4.5 0h2.1m-12.4 0.1h2.1m-9.4 0h2.1m27.1 0.1h2.1m-22 0h2.1m11.8 0.1h2.1m-23.6 0h2.1m-11.3 0h2.1m0.8 0h2.1m-9.8 0.1h2.1m-3.9 0h2.1m7.5 0h2.1m32.1 0h2.1m-22.5 0.1h2.1m-7.3 0h2.1m2.9 0.1h2.1m-9.5 0h2.1m19.2 0h2.1m-12.1 0h2.1m6.2 0h2.1m-31.4 0h2.1m-5.5 0.1h2.1m18.6 0h2.1m-18.5 0h2.1m32.2 0h2.1m-33.4 0.1h2.1m-7.5 0h2.1m12.7 0.1h2.1m20.1 0h2.1m-13.2 0h2.1m-26 0h2.1m3.3 0.1h2.1m29.6 0h2.1m-26.5 0h2.1m-9.4 0h2.1m1.4 0h2.1m-6.1 0h2.1m31 0h2.1m-8.1 0.1h2.1m-21.7 0h2.1m17.1 0h2.1m-22.5 0h2.1m-3.1 0.1h2.1m15.6 0.1h2.1m-17.5 0h2.1m2.7 0h2.1m-25.3 0h2.1m33 0.1h2.1m-14 0h2.1m-26.4 0h2.1m15.1 0.2h2.1m10.6 0h2.1m-2.2 0h2.1m-2.2 0h2.1m-16.3 0.1h2.1m19.2 0h2.1m-14.6 0.1h2.1m0.1 0h2.1m6 0h2.1m-9.8 0.1h2.1m-14.9 0h2.1m-1.1 0.1h2.1m25.5 0h2.1m-43.3 0h2.1m18.8 0.1h2.1m-8.9 0h2.1m3.1 0h2.1m-8.9 0h2.1m18 0.1h2.1m-5.6 0h2.1m-2.9 0h2.1m-12.2 0.1h2.1m11.5 0h2.1m2.8 0h2.1m-12.1 0h2.1m-29.2 0h2.1m7.8 0.1h2.1m29.7 0h2.1m-35.9 0.1h2.1m-9 0h2.1m-0.5 0h2.1m2.4 0h2.1m-7.6 0.1h2.1m39.8 0h2.1m-2.5 0.1h2.1m-46.3 0h2.1m15.4 0.1h2.1m0.6 0h2.1m5.1 0h2.1m-6.8 0.1h2.1m-0.2 0h2.1m-19.7 0.1h2.1m-0.1 0h2.1m-9.6 0.1h2.1m33.6 0h2.1m-32.8 0h2.1m-6.6 0h2.1m23.6 0h2.1m6.7 0h2.1m-34.6 0h2.1m34.1 0.1h2.1m-36 0h2.1m30.4 0h2.1m-34.2 0h2.1m16.5 0h2.1m-18.7 0.1h2.1m31.3 0h2.1m-16.2 0h2.1m-21.6 0h2.1m0.1 0.1h2.1m30.4 0h2.1m-25.7 0.1h2.1m-5.3 0h2.1m-9.4 0h2.1m-0.1 0h2.1m16.3 0.1h2.1m0.5 0h2.1m-9.4 0h2.1m-15.9 0.1h2.1m-11 0h2.1m30 0h2.1m9.5 0h2.1m-37 0.1h2.1m24.1 0h2.1m-24.8 0.1h2.1m27 0h2.1m-13.5 0h2.1m1.3 0h2.1m0.1 0h2.1m-12.2 0h2.1m11.5 0.1h2.1m-36.3 0h2.1m25.8 0h2.1m-19.8 0h2.1m23.2 0h2.1m-4.9 0.1h2.1m-21.9 0h2.1m22.3 0h2.1m-34.7 0.1h2.1m30 0h2.1m-19.4 0h2.1m8.1 0h2.1m-0.1 0.1h2.1m-35.4 0h2.1m4 0.1h2.1m6.5 0h2.1m-9.2 0h2.1m-13.1 0h2.1m15 0.1h2.1m-10.4 0h2.1m10.6 0.1h2.1m-14 0h2.1m-0.9 0.1h2.1m7.4 0.1h2.1m-21.6 0h2.1m29.4 0h2.1m-27.4 0h2.1m34.9 0.1h2.1m-34.6 0h2.1m-10.1 0.1h2.1m20.9 0.1h2.1m12.7 0.1h2.1m-31.3 0h2.1m-1.9 0h2.1m-4 0h2.1m17.2 0h2.1m10.3 0.1h2.1m-0.5 0h2.1m-15.8 0h2.1m-24.1 0.1h2.1m33.8 0h2.1m-35.6 0h2.1m-14.1 0h2.1m15.8 0h2.1m-20.4 0.1h2.1m21.6 0h2.1m13 0h2.1m-21.9 0h2.1m15 0h2.1m-16.7 0h2.1m-13.3 0h2.1m15.8 0h2.1m-12.1 0h2.1m12.8 0.1h2.1m-13.5 0h2.1m10.1 0h2.1m-24.5 0.1h2.1m11 0h2.1m-11.2 0.1h2.1m-15.8 0h2.1m30.7 0h2.1m-9.6 0.1h2.1m-3.9 0h2.1m-24 0.1h2.1m15.1 0h2.1m-16.5 0h2.1m9.7 0.1h2.1m23 0h2.1m-17.9 0h2.1m-3.3 0h2.1m-19.3 0.1h2.1m25.8 0h2.1m-7.6 0h2.1m-14.7 0h2.1m-8.7 0h2.1m-0.3 0h2.1m-2.5 0h2.1m15.8 0h2.1m-22.3 0.1h2.1m15.6 0h2.1m-13.1 0h2.1m9.7 0.1h2.1m-5.6 0h2.1m-8.2 0h2.1m1.7 0.1h2.1m-14.5 0h2.1m0.7 0h2.1m8.2 0h2.1m16.5 0.1h2.1m-35.8 0.1h2.1m11.7 0.1h2.1m-18.1 0h2.1m7.8 0.1h2.1m17 0h2.1m-32.4 0h2.1m5.2 0h2.1m9.2 0h2.1m-19.7 0h2.1m34.1 0.1h2.1m-45.1 0h2.1m21.8 0h2.1m14.7 0.1h2.1m-19.3 0h2.1m-1.7 0h2.1m-24.6 0.1h2.1m32.8 0h2.1m-5.4 0h2.1m-3.4 0h2.1m-33.3 0.1h2.1m30.6 0h2.1m-2.3 0h2.1m-8.4 0.1h2.1m-18.3 0h2.1m-8.1 0h2.1m34.8 0h2.1m-11 0h2.1m2.3 0.1h2.1m-17.6 0h2.1m19.4 0h2.1m-7.6 0.1h2.1m-19.5 0h2.1m7.1 0.1h2.1m13.5 0h2.1m-29.6 0.1h2.1m2.2 0h2.1m-13.1 0.1h2.1m15.7 0h2.1m-25.3 0.1h2.1m24.9 0.1h2.1m6.9 0.1h2.1m-7 0h2.1m1.8 0h2.1m-0.3 0.1h2.1m-16.7 0h2.1m2.4 0.1h2.1m-20.8 0.1h2.1m20.5 0h2.1m-34.6 0h2.1m-4.7 0h2.1m28.7 0.1h2.1m-1.9 0h2.1m10.9 0.1h2.1m-23.6 0h2.1m11.8 0h2.1m-29.8 0h2.1m11.2 0.1h2.1m15.3 0h2.1m-17.3 0h2.1m3.8 0h2.1m-3.7 0h2.1m-0.4 0h2.1m-19 0.1h2.1m-7.2 0h2.1m-2.2 0.1h2.1m28.1 0h2.1m-8.5 0.1h2.1m-22.5 0.1h2.1m3.8 0h2.1m-2.2 0.1h2.1m15.5 0.1h2.1m-0.8 0h2.1m-38 0.1h2.1m9.5 0h2.1m7.2 0h2.1m-16.2 0h2.1m-7.2 0h2.1m3.6 0.1h2.1m-8.1 0h2.1m18.7 0.1h2.1m11.4 0h2.1m-27.5 0h2.1m3.4 0h2.1m-4.9 0.1h2.1m1.4 0h2.1m22.5 0h2.1m-1.6 0.1h2.1m-1 0h2.1m-20.3 0.1h2.1m-25.2 0.1h2.1m32.2 0h2.1m-26.3 0h2.1m18.2 0.1h2.1m-2.8 0h2.1m-0.8 0.1h2.1m-22.7 0.1h2.1m-2.9 0.1h2.1m3.3 0h2.1m2 0h2.1m17.1 0.1h2.1m-41.7 0h2.1m6.8 0h2.1m16.2 0.1h2.1m13.5 0.1h2.1m-25.5 0.1h2.1m-3.4 0h2.1m5.4 0h2.1m7.7 0h2.1m-23.6 0.1h2.1m24.9 0h2.1m-2.6 0.1h2.1m-35.5 0h2.1m15.4 0h2.1m0.8 0.1h2.1m-23.9 0h2.1m6.8 0h2.1m-13.8 0h2.1m6.5 0.2h2.1m18.4 0h2.1m-11.7 0.1h2.1m-23.1 0h2.1m-4 0h2.1m34.2 0h2.1m-13.6 0h2.1m13.4 0h2.1m0 0h2.1m-35.1 0.1h2.1m2.6 0h2.1m-16.7 0h2.1m29.9 0.2h2.1m4.3 0h2.1m-39.2 0.1h2.1m25.4 0h2.1m4.1 0h2.1m-21.9 0.1h2.1m29 0h2.1m-16.4 0h2.1m-5.6 0h2.1m5.8 0.1h2.1m-20.7 0h2.1m20.4 0.1h2.1m-3.2 0h2.1m-20.6 0h2.1m-16.4 0.1h2.1m-5 0h2.1m15 0h2.1m-18.1 0h2.1m19.6 0h2.1m7.7 0.1h2.1m-3.1 0h2.1m-6.2 0h2.1m-15.9 0.1h2.1m10.5 0h2.1m-14.2 0.1h2.1m22.8 0h2.1m-13.3 0.1h2.1m-26.3 0.1h2.1m-3.9 0h2.1m24.2 0.1h2.1m-24.1 0.1h2.1m25.6 0h2.1m-10.1 0h2.1m-10 0.1h2.1m-3.4 0h2.1m-11.8 0h2.1m-2.4 0h2.1m18.4 0.1h2.1m-18.7 0h2.1m-6.3 0h2.1m19 0.1h2.1m10.6 0h2.1m-37.9 0.1h2.1m24.3 0h2.1m-10.3 0.1h2.1m7.4 0h2.1m-5 0h2.1m2.7 0h2.1m-2.1 0h2.1m-2 0h2.1m-35.3 0.1h2.1m8.8 0.2h2.1m-4.7 0h2.1m28.2 0h2.1m-43.7 0h2.1m24.8 0h2.1m11.1 0h2.1m-14.8 0.1h2.1m12.2 0h2.1m-45.2 0h2.1m25.6 0h2.1m1.5 0h2.1m-1.9 0.1h2.1m10.8 0h2.1m-12.5 0.2h2.1m-5.9 0h2.1m-29.8 0.1h2.1m22 0h2.1m-16.8 0h2.1m-6.4 0h2.1m17.8 0.1h2.1m-0.3 0.1h2.1m-2.3 0.1h2.1m-20.6 0h2.1m-12.6 0h2.1m20.1 0.1h2.1m-5.4 0.1h2.1m8.2 0h2.1m-17.5 0h2.1m-16.2 0h2.1m43.8 0h2.1m-23.2 0h2.1m7.7 0h2.1m-35.3 0h2.1m34 0.1h2.1m-7.4 0h2.1m-1.6 0.1h2.1m-3.4 0h2.1m-27.1 0.2h2.1m1.9 0h2.1m30.6 0.2h2.1m-19.3 0h2.1m-9.6 0.1h2.1m-18.3 0.1h2.1m14.1 0.1h2.1m-7 0h2.1m26.9 0.2h2.1m-3.1 0h2.1m-21 0h2.1m-2.4 0.2h2.1m5.3 0.1h2.1m-23.3 0h2.1m25.3 0.1h2.1m-4 0.2h2.1m-1.3 0h2.1m-36.4 0.1h2.1m9.7 0.1h2.1m15.5 0h2.1m-13.6 0.1h2.1m15.8 0.2h2.1m-7.9 0.1h2.1m1 0.2h2.1m10.5 0h2.1m-47.7 0.1h2.1m42 0h2.1m-46.1 0.2h2.1m29.2 0h2.1m-29.2 0h2.1m-2.3 0.1h2.1m16.3 0h2.1m11.8 0.1h2.1m6.3 0h2.1m-9.6 0.1h2.1m-37.5 0h2.1m26.4 0.1h2.1m-28.6 0.1h2.1m21.7 0h2.1m-29.4 0.1h2.1m39.2 0.1h2.1m-37 0.1h2.1m-4.2 0h2.1m8.2 0.1h2.1m-2 0.2h2.1m-12.7 0h2.1m26.7 0.1h2.1m-16.9 0h2.1m-14.1 0.1h2.1m-8.3 0.1h2.1m11.4 0h2.1m-16.2 0.1h2.1m18.9 0h2.1m2.1 0.1h2.1m-26.1 0.2h2.1m-3.7 0.1h2.1m28.7 0h2.1m-14.3 0h2.1m25.8 0.1h2.1m-3.3 0.4h2.1m-31.2 0h2.1m18.9 0.1h2.1m-7 0h2.1m6.1 0.1h2.1m-11.1 0.1h2.1m6.6 0.1h2.1m2.9 0h2.1m-39.9 0.1h2.1m36.1 0.1h2.1m-7.7 0.1h2.1m-30.1 0h2.1m-9.4 0.1h2.1m-4.1 0h2.1m17.7 0.1h2.1m6 0h2.1m3.9 0.1h2.1m2.2 0h2.1m-22.7 0h2.1m8.4 0.1h2.1m-25.7 0h2.1m0.2 0.1h2.1m-8.1 0h2.1m-5 0.2h2.1m3.6 0h2.1m14.3 0h2.1m20.7 0.1h2.1m-33.1 0.3h2.1m10.5 0.1h2.1m-17.5 0h2.1m18 0.1h2.1m-32.8 0.1h2.1m24.9 0.1h2.1m4.1 0.2h2.1m7.4 0h2.1m-4.9 0h2.1m-42.6 0.1h2.1m27.2 0.1h2.1m-8.1 0.2h2.1m-20.5 0.3h2.1m15.9 0h2.1m3.9 0.2h2.1m-6.9 0.2h2.1m12.3 0h2.1m-30.9 0.2h2.1m4 0.2h2.1m18.9 0h2.1m-14.9 0.1h2.1m-7 0.1h2.1m19.4 0.1h2.1m-0.5 0h2.1m-20.4 0.1h2.1m9.4 0h2.1m-26.6 0.1h2.1m1.9 0.1h2.1m-7.3 0h2.1m29.9 0.1h2.1m-34.5 0.1h2.1m3.6 0h2.1m16.8 0.2h2.1m-30.1 0.7h2.1m29 0h2.1m-12 0.1h2.1m14.8 0h2.1m-0.1 0.1h2.1m-37.6 0h2.1m14.6 0.4h2.1m-6.8 0.1h2.1m-7.4 0.3h2.1m26.3 0.3h2.1m-4.7 0.1h2.1m-27.2 0.3h2.1m10.9 0.2h2.1m5.9 0.2h2.1m-13 0.1h2.1m-14.8 0.2h2.1m-5.6 0.4h2.1m14.1 0.1h2.1m13.8 0.1h2.1m-18.2 0.1h2.1m-23 0h2.1m3.4 0.2h2.1m0 0h2.1m19.8 0.4h2.1m-16.7 0.2h2.1m-3 0.3h2.1m7.7 0.1h2.1m-14.6 0.1h2.1m11.1 0.1h2.1m-29.4 0.4h2.1m-5.1 0h2.1m24.6 0.2h2.1m-11.8 0h2.1m1.2 0h2.1m-21.2 0.3h2.1m5.2 0.3h2.1m18.3 0h2.1m-28.4 0.1h2.1m33.3 0.7h2.1m-4.6 0h2.1m-35.5 0.2h2.1m30.4 0.5h2.1m-5.8 0.9h2.1m-12.7 0.8h2.1m-23.4 1.1h2.1m25.1 0.7h2.1m-23.8 1.1h2.1m4.6 0.1h2.1m11.7 0h2.1m-10 0.6h2.1m-2.7 0h2.1m-1.7 0.3h2.1m-5 0.6h2.1m25 0.1h2.1m-21.6 0.6h2.1m-22.2 0.2h2.1m18 0.8h2.1m11.7 0.4h2.1m-13.1 1.2h2.1m-15.7 0.2h2.1m31.2 0.7h2.1m-47.2 1h2.1m43.1 2.9h2.1m-40.9 0.1h2.1m36.8 1.6h2.1m-37.8 0.1h2.1m0 0.4h2.1m14.8 1.1h2.1m2.3 1.5h2.1m-34.9 0.4h2.1m40.7 203.5h2.1m-17.7 0.5h2.1m-25 41.1h2.1m-4.4 11.5h2.1m10.7 0.1h2.1m3.3 1.6h2.1m-19.5 0.2h2.1m30.1 0.1h2.1m8.2 3.1h2.1m-51 2.4h2.1m39.5 2.1h2.1m-15 3.6h2.1m12.1 2.3h2.1m-1.6 0.9h2.1m-13.6 1.4h2.1m2.7 0.2h2.1m-25.3 0.3h2.1m4.5 1h2.1m5 1.7h2.1m0.4 0.2h2.1m-26.4 0h2.1m21.3 1.1h2.1m-16.9 0.5h2.1m-12.7 5.8h2.1m-6.6 0.2h2.1m19.8 1.4h2.1m20.5 0.3h2.1m-39 0.5h2.1m17.8 2.4h2.1m-17 2.4h2.1m16.7 1h2.1m-6.2 1h2.1m-2.7 0.9h2.1m18.2 3.4h2.1m-14.1 1h2.1m1.7 1.4h2.1m-27.4 0h2.1m16.5 2.9h2.1m15.1 0.4h2.1m-45.2 3.3h2.1m18.8 0.1h2.1m-1.4 7.1h2.1m4.6 1.8h2.1m-26.7 5h2.1m-5 7.2h2.1m-9.7 2.1h2.1m7.9 1.6h2.1m11.8 3.2h2.1m15.6 21.7h2.1m26.5-1739.8h2.1m-15.1 2.3h2.1m13 6.1h2.1m-19.3 1.5h2.1m17.2 2.5h2.1m-7.3 4.6h2.1m0.1 0.5h2.1m-16.7 2.3h2.1m-3.6 1.1h2.1m2.3 0.8h2.1m-4 0.5h2.1m4.7 1.1h2.1m-6.5 0.8h2.1m-5.8 0.8h2.1m6.1 0.7h2.1m-1.5 0.7h2.1m0.9 0.1h2.1m-1.4 1.2h2.1m-7.4 0.1h2.1m6.8 2.1h2.1m-22.7 0.7h2.1m4.5 0.7h2.1m-3.1 0.8h2.1m-5.2 1.1h2.1m1.6 0.4h2.1m1.6 0.6h2.1m8 0.1h2.1m-22.5 1h2.1m2.8 2.9h2.1m11.4 0h2.1m-3.6 0.6h2.1m-9.8 0.1h2.1m-6.5 0.2h2.1m8.1 1.3h2.1m5.2 0.9h2.1m-16.6 1.7h2.1m5.9 0.2h2.1m-0.1 0.2h2.1m-12 0h2.1m-8.6 1.1h2.1m10.2 0.2h2.1m-6.4 0.3h2.1m-4 0.4h2.1m3.5 0.2h2.1m-11.2 0.3h2.1m7.5 0.7h2.1m-12.8 0h2.1m-3.9 0.1h2.1m-3.1 0.6h2.1m-0.7 0.1h2.1m19.2 0h2.1m-15.9 0.5h2.1m39.8 0h2.1m-39.9 0.4h2.1m31 0.8h2.1m-36.8 0.1h2.1m-0.8 0.5h2.1m5.3 0.1h2.1m-9.8 0h2.1m-2.7 0.3h2.1m-3.7 0.3h2.1m-1.8 0.6h2.1m3.2 0.2h2.1m-1.4 0.1h2.1m36.6 0.5h2.1m-39 0.6h2.1m-3.2 0.3h2.1m-1.2 0.1h2.1m1 0.1h2.1m-3.2 0.9h2.1m-2.4 0h2.1m-17.7 0.2h2.1m1.8 0.1h2.1m-7.5 0.1h2.1m37.7 0.1h2.1m9.5 0.5h2.1m-51.1 0.1h2.1m10.6 0.1h2.1m0.2 0h2.1m-0.5 0h2.1m-17.5 0.2h2.1m44.5 0.1h2.1m-5.9 0.3h2.1m-48.2 0.1h2.1m-5.2 0.4h2.1m2.4 0.1h2.1m1.9 0.2h2.1m42.8 0.4h2.1m-34.2 0.1h2.1m-4.4 0h2.1m-4.8 0h2.1m-0.5 0h2.1m-6.7 0.3h2.1m8 0.3h2.1m-22 0.3h2.1m38.2 0.9h2.1m-36.8 0.2h2.1m0.2 0.3h2.1m1.6 0.4h2.1m5.7 0h2.1m-5 0h2.1m-15.3 0.2h2.1m7.1 0h2.1m-14.2 0.2h2.1m0.1 0h2.1m0.1 0.4h2.1m40.6 0h2.1m-29.9 0.7h2.1m-10.8 0.1h2.1m6.5 0.3h2.1m-10.7 0.2h2.1m-15.2 0.4h2.1m14.9 0.1h2.1m-9.7 0h2.1m-11.1 0.1h2.1m6.5 0.5h2.1m8.8 0.2h2.1m-9.7 0h2.1m-2.6 0.2h2.1m1.6 0.3h2.1m-9.7 0.2h2.1m-7.2 0.1h2.1m37.9 0h2.1m-42.8 0h2.1m2.9 0.1h2.1m3.6 0.1h2.1m-1.9 0h2.1m-9.3 0.1h2.1m9.1 0h2.1m-9 0h2.1m32.8 0.2h2.1m-36.2 0.2h2.1m-14 0.3h2.1m14.4 0.2h2.1m-10.2 0.2h2.1m-2.7 0.1h2.1m1.7 0h2.1m2.2 0.1h2.1m2.2 0h2.1m26 0h2.1m-49.8 0.1h2.1m5.7 0h2.1m-7.4 0.1h2.1m5.5 0h2.1m32.4 0.1h2.1m-28.1 0.1h2.1m-3.1 0h2.1m2.1 0.2h2.1m-1.6 0.1h2.1m26.6 0.3h2.1m3.9 0h2.1m-43.4 0.1h2.1m-18.7 0.2h2.1m54.3 0h2.1m-42.4 0.8h2.1m-6.4 0h2.1m1.3 0h2.1m2.2 0.6h2.1m-3.5 0.3h2.1m27.8 0h2.1m-42.3 0.1h2.1m1.4 0.1h2.1m-9.9 0.9h2.1m9.9 0h2.1m38.8 0.1h2.1m-47.6 0h2.1m-8.5 0h2.1m0.8 0.1h2.1m10 0.5h2.1m-5.1 0.1h2.1m0.6 0.2h2.1m-9.8 0.1h2.1m9.2 0.2h2.1m-16 0.1h2.1m39 0.2h2.1m-35.3 0h2.1m-6.8 0h2.1m-13.4 0.3h2.1m16.2 0h2.1m-14.8 0h2.1m6.4 0h2.1m0.1 0h2.1m23.6 0.2h2.1m-26.1 0.4h2.1m-14.6 0.2h2.1m47.4 0.1h2.1m-13.7 0.1h2.1m-3.9 0.5h2.1m-43 0.1h2.1m6.6 0h2.1m-1.2 0.4h2.1m-1.5 0.2h2.1m-8.1 0.4h2.1m8.9 0.1h2.1m3.7 0h2.1m-18.2 0.1h2.1m8.3 0.2h2.1m-5.6 0h2.1m-14.7 0h2.1m12.6 0.1h2.1m-4 0.2h2.1m2.7 0.3h2.1m-9.9 0h2.1m9.7 0.2h2.1m-1.6 0.1h2.1m-25.3 0.1h2.1m13.3 0h2.1m3.8 0h2.1m-4.2 0.8h2.1m-20.8 0.2h2.1m0.4 0.2h2.1m18.3 0.1h2.1m-5 0.1h2.1m-6.2 0.3h2.1m-9 0h2.1m-9.1 0h2.1m-0.6 0.1h2.1m-2.1 0.1h2.1m-3.9 0.1h2.1m8.8 0h2.1m8 0.1h2.1m-2.7 0.2h2.1m-23 0.3h2.1m52.8 0.4h2.1m-42.6 0.3h2.1m0.2 0h2.1m-12.6 0h2.1m11.4 0h2.1m-20.8 0.1h2.1m8.3 0.1h2.1m-1.5 0.2h2.1m7.6 0.1h2.1m-23.2 0.3h2.1m5.6 0h2.1m-8.1 0.2h2.1m7.8 0.1h2.1m-12.9 0h2.1m-0.4 0.1h2.1m52.7 0.1h2.1m-49.2 0.1h2.1m4.2 0.1h2.1m1.7 0.1h2.1m-5.4 0.3h2.1m-11.6 0.1h2.1m7.1 0.2h2.1m-7.6 0.5h2.1m2.3 0.3h2.1m-7.9 0h2.1m-7.8 0.2h2.1m-1.8 0.3h2.1m7.8 0.4h2.1m-13.4 0h2.1m0 0.4h2.1m9.8 0.2h2.1m-16.6 0h2.1m5.2 0.1h2.1m9.4 0.1h2.1m-19.8 0h2.1m48.1 0h2.1m-36.6 0.1h2.1m-23.4 0h2.1m5.1 0.1h2.1m-3.9 0h2.1m10.4 0h2.1m23.9 0.1h2.1m-26.1 0.1h2.1m0.8 0.4h2.1m-6.4 0.2h2.1m-16.9 0.2h2.1m-2.8 0.1h2.1m2.1 0.2h2.1m11.2 0h2.1m-16.1 0.4h2.1m-7.7 0.4h2.1m49 0.6h2.1m-1 0.1h2.1m-45 0h2.1m42.7 0h2.1m-34.4 0.1h2.1m-16.9 0.4h2.1m11.1 0h2.1m-12.8 0.2h2.1m-1.6 0.1h2.1m-8.6 0h2.1m3.5 0h2.1m8.7 0.4h2.1m-4 0.2h2.1m-3 0h2.1m32.8 0.2h2.1m-34.5 0.1h2.1m-5.4 0.2h2.1m-17.7 0.2h2.1m1.6 0.1h2.1m-3.3 0.1h2.1m2.5 0.2h2.1m7.7 0.1h2.1m31.4 0h2.1m-37.1 0.2h2.1m-3 0.2h2.1m-15.5 0h2.1m8.9 0.3h2.1m-13.4 0.2h2.1m13.5 0.1h2.1m-9.4 0h2.1m9.9 0.1h2.1m-25 0h2.1m52.4 0.1h2.1m-9.8 0.1h2.1m-26.1 0.1h2.1m-25.1 0.2h2.1m18.6 0.2h2.1m-3.9 0.1h2.1m-4 0h2.1m0.4 0.2h2.1m-14 0.1h2.1m-7.5 0h2.1m50.8 0.1h2.1m-49.9 0h2.1m-7.6 0.1h2.1m7.5 0h2.1m42.7 0h2.1m-38.8 0.1h2.1m-4.5 0h2.1m-13.5 0.2h2.1m2.2 0h2.1m-5.1 0h2.1m7.7 0.2h2.1m4.7 0.2h2.1m22.8 0.2h2.1m-47.5 0h2.1m7.6 0h2.1m42.7 0.1h2.1m-5.3 0.2h2.1m-52.3 0h2.1m-4.2 0.1h2.1m0.9 0h2.1m0.1 0h2.1m39.6 0.1h2.1m-0.5 0.4h2.1m-47.9 0.1h2.1m10 0.1h2.1m-2.3 0.1h2.1m27.7 0.1h2.1m-31.6 0h2.1m35 0.1h2.1m-41.2 0h2.1m-6.1 0.1h2.1m-3.5 0h2.1m46.6 0h2.1m-39.6 0.1h2.1m-20.9 0h2.1m2.6 0.1h2.1m-2.6 0.1h2.1m46.4 0.1h2.1m-44.1 0.1h2.1m4.9 0.1h2.1m-12.6 0.1h2.1m-0.4 0h2.1m5.8 0.1h2.1m-8.8 0h2.1m-1.1 0.1h2.1m-1.9 0.2h2.1m-2.2 0h2.1m-10.9 0.2h2.1m14.6 0.2h2.1m-15.4 0.1h2.1m39.5 0.1h2.1m-38 0h2.1m5.8 0.2h2.1m-16.2 0h2.1m-2.8 0.3h2.1m10.3 0.1h2.1m28.5 0.3h2.1m-0 0h2.1m-34.9 0.2h2.1m-18.4 0.2h2.1m11.9 0.1h2.1m-3.8 0.2h2.1m1.5 0.4h2.1m-16.4 0.3h2.1m1.1 0.2h2.1m3.2 0.1h2.1m-14.4 0h2.1m56.8 0h2.1m-48 0h2.1m-3.3 0h2.1m2.8 0.1h2.1m-13.4 0h2.1m-7.2 0.5h2.1m56.5 0.1h2.1m-50 0.2h2.1m34.1 0.1h2.1m-42.2 0.4h2.1m0.2 0.1h2.1m8.1 0h2.1m-7 0.2h2.1m-16.2 0.1h2.1m20.1 0.1h2.1m-6.5 0h2.1m1.5 0h2.1m-20.3 0.1h2.1m-6.1 0.1h2.1m20.4 0.1h2.1m-5.1 0h2.1m-0.8 0.1h2.1m-21.6 0h2.1m8.4 0h2.1m-2.9 0.1h2.1m7.9 0h2.1m-17.8 0.1h2.1m-7.4 0h2.1m2.4 0.1h2.1m1.4 0.2h2.1m0 0.2h2.1m9.8 0.1h2.1m-0.6 0.1h2.1m-8 0h2.1m36.3 0.2h2.1m-43.1 0.1h2.1m-4.5 0.2h2.1m32.2 0.2h2.1m-46.8 0.1h2.1m3.9 0h2.1m8.7 0h2.1m-12.3 0h2.1m8.7 0h2.1m-8.7 0.1h2.1m3.1 0.2h2.1m-17 0h2.1m11.9 0.1h2.1m0.4 0h2.1m-15.5 0.3h2.1m4.4 0h2.1m-7.2 0.2h2.1m9.9 0h2.1m-9.8 0.1h2.1m5.8 0.1h2.1m-10.9 0h2.1m-7.1 0.2h2.1m45.6 0h2.1m-56 0.1h2.1m13.9 0.1h2.1m-16.6 0.1h2.1m0.3 0h2.1m12 0.1h2.1m30.2 0h2.1m-37.8 0h2.1m-2.5 0.1h2.1m7.2 0.1h2.1m-20.4 0h2.1m9.5 0.1h2.1m-3.4 0h2.1m-16.6 0.1h2.1m11.2 0.2h2.1m38.1 0h2.1m-55.8 0.1h2.1m9.9 0.1h2.1m-12.8 0h2.1m2.6 0h2.1m14.1 0.1h2.1m33.2 0.1h2.1m-60.1 0h2.1m0.6 0.1h2.1m4 0.1h2.1m-8.1 0.2h2.1m8.3 0h2.1m1 0.1h2.1m-3.6 0h2.1m26.3 0h2.1m-33.2 0.1h2.1m5.2 0h2.1m-5.2 0.1h2.1m-14 0h2.1m39.3 0.1h2.1m-28.9 0h2.1m-21.6 0.1h2.1m13.8 0h2.1m4.8 0h2.1m-17.5 0.1h2.1m9.5 0.1h2.1m-15.9 0h2.1m10.5 0h2.1m-17.9 0.3h2.1m14.9 0.1h2.1m-9 0.1h2.1m-4.7 0.1h2.1m-6.4 0h2.1m15.3 0h2.1m-17.1 0.1h2.1m0.6 0.1h2.1m-0.1 0.1h2.1m2.5 0.2h2.1m1.8 0.1h2.1m-3.8 0.1h2.1m-20.9 0h2.1m10 0.1h2.1m-13.7 0.1h2.1m5.5 0.1h2.1m6.5 0.1h2.1m29.7 0.2h2.1m-37.5 0h2.1m6.2 0.1h2.1m-6.3 0h2.1m-11.1 0.2h2.1m1.8 0.1h2.1m-1.5 0h2.1m-10.2 0h2.1m-3.6 0.1h2.1m16.4 0h2.1m-6.7 0h2.1m-15.7 0h2.1m9.9 0.1h2.1m-1.4 0.5h2.1m-3.1 0h2.1m-15 0.3h2.1m5.5 0.1h2.1m-12.2 0h2.1m13.6 0.1h2.1m-12.4 0h2.1m5.6 0h2.1m2.6 0.1h2.1m-9.4 0h2.1m-4.9 0.1h2.1m-5.8 0h2.1m11.8 0h2.1m-11.4 0h2.1m0.9 0h2.1m5.4 0.3h2.1m38.6 0h2.1m-46 0h2.1m-3.2 0h2.1m2.2 0.1h2.1m-16.9 0h2.1m1.5 0.1h2.1m12.2 0.1h2.1m-14.9 0h2.1m-7 0h2.1m43.4 0.1h2.1m-4.4 0.1h2.1m0.5 0.2h2.1m-43.4 0.2h2.1m-3.5 0h2.1m42.3 0h2.1m-33 0h2.1m-20.5 0.1h2.1m49.2 0.1h2.1m-51.5 0h2.1m-2.1 0.1h2.1m-0.7 0.1h2.1m6.1 0h2.1m-15.6 0h2.1m9.9 0.1h2.1m-3.4 0h2.1m-5.4 0.1h2.1m35.5 0h2.1m-25.5 0.3h2.1m-13.5 0h2.1m1.5 0.3h2.1m4.2 0.2h2.1m-10.6 0h2.1m-2.5 0.1h2.1m-9 0.1h2.1m-1.6 0.1h2.1m-6.6 0.1h2.1m2 0.1h2.1m10.5 0h2.1m-3.5 0h2.1m-7.3 0.2h2.1m-6.2 0.1h2.1m9.3 0h2.1m2.8 0.1h2.1m-15.2 0.1h2.1m-0.8 0.1h2.1m-8.8 0.2h2.1m6.5 0h2.1m-12.4 0.1h2.1m6.5 0.1h2.1m8.2 0h2.1m-8.2 0.1h2.1m35.9 0h2.1m0.8 0.1h2.1m-57.6 0.1h2.1m1.9 0h2.1m0.5 0.1h2.1m46.9 0.1h2.1m-43.6 0h2.1m-15.2 0h2.1m5.6 0h2.1m-4.5 0.1h2.1m-7.8 0h2.1m9.6 0.1h2.1m-6.8 0.2h2.1m43.2 0h2.1m-35.8 0.4h2.1m0.7 0h2.1m-21.2 0h2.1m17.2 0.1h2.1m-24.3 0.1h2.1m44.9 0.1h2.1m-50.4 0h2.1m15.1 0.1h2.1m-4.1 0h2.1m-13.4 0.1h2.1m-5.9 0.2h2.1m9.8 0.1h2.1m2.1 0.1h2.1m35.5 0h2.1m-39.1 0h2.1m-5.8 0.2h2.1m-3.7 0.2h2.1m-2.7 0h2.1m-2.5 0.2h2.1m-7.2 0h2.1m3.8 0.1h2.1m-11.6 0.1h2.1m-0.1 0h2.1m-4.1 0.2h2.1m0.6 0h2.1m8.5 0.1h2.1m-14.4 0.1h2.1m2 0h2.1m-8.2 0h2.1m10.9 0h2.1m-8.1 0.1h2.1m-9.9 0.1h2.1m17.2 0h2.1m2.1 0h2.1m-24.4 0.1h2.1m5.2 0h2.1m1.6 0.2h2.1m-12.4 0h2.1m16.5 0.1h2.1m-1.7 0.1h2.1m-9.6 0h2.1m-9.1 0.1h2.1m-8 0.1h2.1m-1.5 0h2.1m42.3 0h2.1m-38.9 0h2.1m44.5 0.3h2.1m-55.6 0h2.1m8.3 0.1h2.1m7.3 0h2.1m-8.5 0.2h2.1m-16 0.1h2.1m15.4 0h2.1m28.6 0.1h2.1m-46.9 0h2.1m13.2 0h2.1m-4.7 0.1h2.1m-8.6 0h2.1m-2.2 0.1h2.1m1.3 0h2.1m6.6 0.2h2.1m-13.2 0h2.1m-10.4 0.1h2.1m0 0.1h2.1m6.8 0h2.1m-4.3 0h2.1m-2.1 0.1h2.1m-3 0h2.1m-9.5 0.2h2.1m-0.4 0.1h2.1m12.8 0.1h2.1m-16.7 0h2.1m13.1 0h2.1m34.8 0.1h2.1m-38 0.1h2.1m-5.8 0h2.1m-2.2 0.1h2.1m24.2 0h2.1m-25.8 0.1h2.1m-5.8 0h2.1m27 0h2.1m-26 0.1h2.1m-12.7 0h2.1m38.5 0.1h2.1m-44.9 0h2.1m1.7 0.1h2.1m-13.3 0h2.1m-2 0.1h2.1m-4 0.1h2.1m14 0h2.1m34.1 0.1h2.1m-38.3 0h2.1m-3.5 0h2.1m-14.9 0.1h2.1m5 0h2.1m32.3 0.2h2.1m-37.9 0h2.1m6.5 0.1h2.1m1.2 0.1h2.1m-19.6 0.1h2.1m11.8 0h2.1m-17.3 0h2.1m42.2 0.2h2.1m-32.3 0h2.1m-15.9 0h2.1m8.9 0.2h2.1m-2 0h2.1m-4.2 0.1h2.1m6.4 0.1h2.1m-6.4 0.2h2.1m27.1 0h2.1m0.5 0.1h2.1m10.4 0h2.1m-50.2 0.1h2.1m-11.3 0.1h2.1m17 0.1h2.1m-17.8 0h2.1m0.6 0.1h2.1m-2.7 0h2.1m46.2 0.2h2.1m-39.9 0h2.1m-14.7 0.2h2.1m14.2 0h2.1m-12.8 0.1h2.1m-9.9 0.1h2.1m16.5 0.1h2.1m-7.2 0h2.1m2.3 0.1h2.1m-15.1 0h2.1m8.1 0h2.1m-0.2 0.1h2.1m-13.6 0h2.1m1.9 0h2.1m-14.3 0.3h2.1m10.3 0.1h2.1m-11.5 0.1h2.1m-3.5 0h2.1m11.9 0h2.1m-2.8 0h2.1m-15.3 0.1h2.1m12.5 0h2.1m1.9 0.1h2.1m-9.3 0.1h2.1m-13.7 0h2.1m-1.3 0.1h2.1m-0.6 0h2.1m-3.6 0h2.1m2.6 0h2.1m-9.1 0.1h2.1m10.1 0h2.1m39.1 0.1h2.1m-41 0h2.1m-7.9 0.2h2.1m-6.3 0.1h2.1m3.3 0h2.1m-6.2 0.1h2.1m40.7 0h2.1m-43.9 0h2.1m6 0.1h2.1m-15.4 0h2.1m55.3 0.1h2.1m-46.4 0h2.1m-2.6 0.1h2.1m40.5 0.2h2.1m-47 0.2h2.1m8.2 0.1h2.1m-6.9 0.2h2.1m-8.5 0h2.1m-11.7 0h2.1m19 0.3h2.1m18.7 0.2h2.1m-27.7 0.1h2.1m26.1 0h2.1m-38.7 0.1h2.1m5.4 0.1h2.1m-6.4 0.1h2.1m-1.2 0h2.1m-0.8 0.1h2.1m-15.7 0h2.1m48.8 0.1h2.1m-46.5 0h2.1m-8.5 0h2.1m51.1 0.3h2.1m-45.6 0.1h2.1m8.2 0.1h2.1m28.8 0.4h2.1m-49.6 0h2.1m-2.5 0.2h2.1m48.1 0.1h2.1m-52.5 0.1h2.1m3.1 0h2.1m-5.5 0.1h2.1m-5.4 0h2.1m39.8 0.1h2.1m-26.5 0h2.1m-14.6 0.2h2.1m-0.7 0h2.1m6.9 0.1h2.1m-5.9 0h2.1m40.3 0h2.1m-55.8 0.2h2.1m-3.6 0.2h2.1m50.3 0.1h2.1m-43 0h2.1m0.2 0h2.1m5.8 0h2.1m-10 0.1h2.1m-9.5 0h2.1m4 0h2.1m2.6 0.1h2.1m0.6 0h2.1m-20.5 0.2h2.1m-0.4 0h2.1m10.5 0h2.1m28.1 0.1h2.1m-44 0h2.1m15.8 0.1h2.1m-5.7 0h2.1m-20.5 0.2h2.1m14.2 0h2.1m-17.3 0h2.1m12 0.1h2.1m35.1 0h2.1m-10 0.1h2.1m11.7 0.4h2.1m-60.4 0h2.1m-1.7 0h2.1m16.5 0.2h2.1m-14 0.2h2.1m3.3 0.1h2.1m-13.7 0h2.1m11.6 0h2.1m-1.2 0.1h2.1m-9.2 0.1h2.1m8.6 0h2.1m-6.6 0h2.1m-4.9 0.1h2.1m35.5 0h2.1m-32.5 0h2.1m-5.5 0.1h2.1m-3.8 0.1h2.1m3.8 0.1h2.1m-19.8 0h2.1m4.1 0h2.1m-4.3 0.3h2.1m5 0h2.1m-11.5 0h2.1m10.7 0.1h2.1m2.3 0h2.1m-6.8 0.2h2.1m-3.7 0h2.1m-5.3 0.2h2.1m-14.1 0h2.1m15.6 0h2.1m25.3 0.1h2.1m-34.1 0.1h2.1m-5 0.1h2.1m8.7 0.2h2.1m-23.7 0.1h2.1m4.1 0.1h2.1m49.8 0h2.1m-39.7 0.1h2.1m34.4 0.1h2.1m-49.3 0h2.1m-3.4 0.1h2.1m10.2 0.2h2.1m-3.8 0.1h2.1m0.2 0.1h2.1m-8 0.3h2.1m0.8 0.1h2.1m-15.4 0.1h2.1m-5.8 0.1h2.1m5.7 0h2.1m8 0h2.1m-9.7 0.2h2.1m7.1 0.2h2.1m-14.1 0h2.1m5.3 0.1h2.1m-3.8 0h2.1m-3 0h2.1m34.7 0.2h2.1m-52.8 0.1h2.1m0.8 0.1h2.1m-0.8 0h2.1m5.8 0h2.1m-5.8 0.1h2.1m0.8 0h2.1m1.4 0h2.1m-15.9 0.5h2.1m6 0h2.1m-9 0h2.1m-3.1 0.3h2.1m8.6 0h2.1m30.2 0.3h2.1m-2.9 0.1h2.1m-0.6 0h2.1m-3.6 0.2h2.1m-26 0.3h2.1m-4.6 0h2.1m-7.9 0.1h2.1m-10.3 0h2.1m9.3 0.1h2.1m-2 0.1h2.1m-16 0h2.1m3.3 0.2h2.1m35.7 0.1h2.1m-22.5 0.1h2.1m-10.5 0h2.1m-8.6 0.1h2.1m42.3 0h2.1m-46.1 0h2.1m-4.9 0h2.1m3.8 0.1h2.1m-6.4 0.2h2.1m-6.3 0.1h2.1m8 0.1h2.1m-2.3 0h2.1m-7.2 0.2h2.1m7 0.1h2.1m-11.3 0h2.1m6.9 0.4h2.1m1 0.2h2.1m-3.1 0h2.1m26.5 0.1h2.1m-29.1 0.1h2.1m32.9 0h2.1m-36.9 0.1h2.1m-7.9 0.1h2.1m-7.5 0.1h2.1m-1.2 0.2h2.1m31.1 0.1h2.1m-33.3 0h2.1m-0.9 0.1h2.1m2.6 0h2.1m-18.1 0.1h2.1m-1.3 0.1h2.1m15.8 0.1h2.1m-10.5 0h2.1m-11.8 0.3h2.1m44.8 0h2.1m1.2 0h2.1m-52.7 0.1h2.1m49.4 0.4h2.1m-42 0.1h2.1m28.2 0.1h2.1m-28 0h2.1m-2.6 0.2h2.1m33.9 0.2h2.1m-50.8 0h2.1m15.7 0.1h2.1m-25 0.2h2.1m7.3 0.1h2.1m1.2 0h2.1m-8.2 0.2h2.1m34.5 0.2h2.1m-38.6 0h2.1m12 0.1h2.1m-12 0.2h2.1m4.3 0.1h2.1m-5.6 0.1h2.1m5.9 0.1h2.1m24.7 0h2.1m-34.5 0.1h2.1m-11.3 0h2.1m4.1 0.1h2.1m1.8 0h2.1m-3 0.1h2.1m33.7 0.2h2.1m-41.8 0.1h2.1m-8.9 0h2.1m-6.1 0.1h2.1m6.8 0.1h2.1m-6.5 0h2.1m-5.8 0.1h2.1m15.6 0h2.1m28.2 0h2.1m-45.2 0.1h2.1m2 0.1h2.1m42.4 0.1h2.1m-39.6 0h2.1m-0.7 0h2.1m-1.6 0.1h2.1m-7.2 0.1h2.1m1.7 0h2.1m24.7 0h2.1m-36.8 0.3h2.1m4.9 0.2h2.1m-20.2 0h2.1m-1 0.1h2.1m-0.4 0h2.1m-4.6 0.1h2.1m17.2 0h2.1m-11.9 0.3h2.1m10.9 0.1h2.1m30.1 0h2.1m-38.9 0h2.1m36.3 0.1h2.1m-51.6 0.1h2.1m-8.3 0.2h2.1m1.8 0.3h2.1m49.6 0h2.1m-40.3 0.1h2.1m-2.5 0.1h2.1m36.5 0.1h2.1m-44.7 0.5h2.1m-3 0h2.1m-7.4 0h2.1m-7.3 0.1h2.1m3.7 0.1h2.1m3 0h2.1m-8.8 0.1h2.1m9 0h2.1m25.1 0.2h2.1m-39.1 0h2.1m12.4 0.1h2.1m-17.7 0.2h2.1m-5.7 0h2.1m2.9 0.1h2.1m41.5 0h2.1m-5.1 0.1h2.1m-50.6 0h2.1m9.8 0.1h2.1m28.8 0.1h2.1m-23.4 0.4h2.1m-24.7 0.2h2.1m17.9 0.1h2.1m24 0h2.1m-40.6 0.1h2.1m-1.1 0.2h2.1m-5.2 0.1h2.1m14.5 0h2.1m-7.7 0.1h2.1m-6.7 0.1h2.1m-11.4 0.1h2.1m13.1 0h2.1m3.8 0h2.1m-24.5 0h2.1m52.2 0.2h2.1m-37 0.1h2.1m-22.8 0.4h2.1m1.2 0h2.1m17.3 0.1h2.1m-16.9 0.5h2.1m2.4 0.2h2.1m29 0h2.1m-25.6 0h2.1m-19.7 0.3h2.1m10.1 0h2.1m-4.8 0h2.1m-2.8 0.1h2.1m-3 0h2.1m6.4 0h2.1m-6.2 0.1h2.1m29.1 0h2.1m-25.5 0.2h2.1m-19.5 0.1h2.1m39.2 0.1h2.1m-27.6 0.1h2.1m-22.5 0.1h2.1m12.6 0h2.1m-6.4 0h2.1m-8.5 0.1h2.1m6.9 0.1h2.1m-6.5 0.1h2.1m7.1 0.1h2.1m-0.3 0h2.1m-18 0h2.1m2.2 0.1h2.1m33.4 0.6h2.1m-2 0h2.1m-41.2 0.3h2.1m-0.2 0.2h2.1m4.9 0h2.1m-4.9 0.2h2.1m0.3 0h2.1m-9.2 0h2.1m14.9 0h2.1m-23.9 0.2h2.1m9.3 0.4h2.1m-1.3 0.3h2.1m-6.5 0.1h2.1m35.3 0.1h2.1m-39.8 0h2.1m39.6 0h2.1m-41.9 0.1h2.1m-9.8 0.4h2.1m37.5 0.1h2.1m13.9 0.1h2.1m-57.2 0h2.1m6.4 0.3h2.1m29.5 0.1h2.1m-24.2 0.1h2.1m22.7 0h2.1m-25.2 0.1h2.1m-4.5 0.2h2.1m-12.1 0.1h2.1m-5.1 0.1h2.1m11.5 0.1h2.1m-8.4 0h2.1m-5.6 0.2h2.1m1.6 0.2h2.1m25.8 0.1h2.1m-32.5 0h2.1m6.9 0.2h2.1m-6 0.2h2.1m-12.2 0.3h2.1m3.6 0.3h2.1m-1.4 0.1h2.1m-0.6 0.2h2.1m-4.7 0.1h2.1m-2.4 0.4h2.1m33.3 0.1h2.1m-41.8 0.1h2.1m46.4 0h2.1m-46.7 0.1h2.1m-9.8 0.1h2.1m3.6 0h2.1m-2.2 0h2.1m-4.8 0.1h2.1m46.9 0h2.1m-7.9 0.1h2.1m-49.1 0.2h2.1m8.4 0.1h2.1m30.3 0.2h2.1m7.1 0.2h2.1m-34.8 0.1h2.1m29.6 0.1h2.1m-56.1 0.1h2.1m12.4 0.1h2.1m-12.1 0h2.1m7.8 0h2.1m1.8 0.1h2.1m-18.2 0.3h2.1m45.4 0h2.1m5.7 0.4h2.1m-38.2 0h2.1m-4.1 0h2.1m-14.4 0.1h2.1m3.7 0h2.1m-7.6 0h2.1m-5.9 0.1h2.1m-3.4 0h2.1m11.6 0h2.1m30.7 0h2.1m-43.5 0.1h2.1m6.6 0.2h2.1m-7.6 0.1h2.1m38.3 0.1h2.1m-53.6 0.2h2.1m4.3 0h2.1m3.3 0.1h2.1m1 0.3h2.1m-2.5 0h2.1m38.4 0.1h2.1m-48.5 0.1h2.1m41.3 0.1h2.1m-32.4 0.1h2.1m-15.7 0.4h2.1m-8.5 0.1h2.1m10.6 0.2h2.1m-6 0.1h2.1m5.7 0h2.1m-3.9 0.1h2.1m-5.1 0h2.1m-12.2 0.1h2.1m2.6 0.4h2.1m-10.4 0.1h2.1m7.8 0.1h2.1m3.5 0.1h2.1m-13 0h2.1m0.3 0.2h2.1m5.1 0.4h2.1m1.1 0.2h2.1m-13.2 0.1h2.1m10.2 0h2.1m-9.7 0.2h2.1m-7 0.1h2.1m-0.7 0.1h2.1m-7.2 0.1h2.1m8.8 0.2h2.1m-0.1 0h2.1m4.5 0.3h2.1m-4 0.1h2.1m-18.1 0h2.1m4.7 0.1h2.1m33.9 0.4h2.1m-43.1 0.2h2.1m-3.2 0.1h2.1m-5.8 0.1h2.1m5.4 0.1h2.1m7.8 0h2.1m-19.6 0.3h2.1m10.3 0.1h2.1m-7.2 0.3h2.1m7.8 0.2h2.1m-16.1 0h2.1m16.9 0.4h2.1m-13.1 0.6h2.1m-2.1 0.3h2.1m-3.3 0.2h2.1m3.4 0.1h2.1m-18.2 0.1h2.1m50.8 0h2.1m-38 0.1h2.1m26.2 0.1h2.1m-35.6 0.2h2.1m7 0.1h2.1m-8.8 0.1h2.1m-4.3 0h2.1m-11.4 0h2.1m12.7 0.2h2.1m38.4 0.2h2.1m-59.3 0.1h2.1m4.3 0.2h2.1m-5 0h2.1m10 0h2.1m-0.9 0.1h2.1m-16.8 0.1h2.1m13 0.3h2.1m-18.5 0.1h2.1m6.2 0h2.1m3.8 0.1h2.1m-18.6 0h2.1m8.4 0.1h2.1m-7.6 0.5h2.1m14 0.4h2.1m-12.3 0.2h2.1m31.7 0.4h2.1m2 0.1h2.1m-5.9 0h2.1m-28.4 0h2.1m-11.8 0.1h2.1m0.4 0.2h2.1m-6.5 0.4h2.1m1.3 0.2h2.1m44.9 0.1h2.1m-9.5 0.3h2.1m-43.6 0.1h2.1m45.4 0h2.1m-50 0.3h2.1m-9.9 0h2.1m0.1 0.3h2.1m50 0h2.1m-50.2 0.3h2.1m41.2 0h2.1m-34.4 0.5h2.1m2.8 0h2.1m-16.6 0.2h2.1m34.5 0.3h2.1m-28.5 0.1h2.1m-10 0.1h2.1m-9.6 0.2h2.1m7.3 0h2.1m8.9 0.1h2.1m-6.2 0.2h2.1m-5.6 0.2h2.1m-0.3 0.2h2.1m1.9 0.2h2.1m-6.6 0.3h2.1m-2.6 0.4h2.1m32.8 0.3h2.1m-30.8 0.1h2.1m-21.9 0.1h2.1m50.4 1.4h2.1m-53.1 0.1h2.1m-0.2 0.1h2.1m40.3 0.2h2.1m4.6 0.1h2.1m-50.6 0.2h2.1m-6.6 0.3h2.1m16.9 0.3h2.1m-2.1 0h2.1m-16.1 0.2h2.1m4.6 0h2.1m-3.7 0.1h2.1m2.5 0.2h2.1m-17.7 0.3h2.1m-1.5 0.3h2.1m50.3 0.4h2.1m-40.8 0.6h2.1m-3.5 0.1h2.1m-6 0h2.1m-2.9 0.2h2.1m2.6 0.2h2.1m32.2 0.1h2.1m-50 0.4h2.1m51.3 0.1h2.1m-56.2 0.5h2.1m1.9 0.2h2.1m9.6 0.2h2.1m-5.7 1.7h2.1m3 0.1h2.1m-6.7 0.1h2.1m-10 0.3h2.1m6.5 0.1h2.1m7.4 0.1h2.1m-1.6 0.1h2.1m-13.7 0.1h2.1m-8 0.2h2.1m4.6 0.1h2.1m-2.2 0.5h2.1m-1.4 0.3h2.1m-14.8 0h2.1m16.5 0h2.1m-2.2 0.6h2.1m31.8 0.3h2.1m-50.2 0h2.1m11.7 0.7h2.1m-11.8 0.1h2.1m-10 0.6h2.1m14 1.3h2.1m30.1 0.5h2.1m-51.4 0h2.1m10.6 0h2.1m31.8 0.4h2.1m10.6 0.1h2.1m-41.3 0h2.1m-7.9 0.2h2.1m6.4 0h2.1m-9.8 0.3h2.1m-6.5 0.3h2.1m9.4 0.1h2.1m-1.1 0.4h2.1m-23.2 0h2.1m2.4 0.8h2.1m6.2 0.1h2.1m29.5 0h2.1m-48.6 0h2.1m6.3 0.1h2.1m-9.2 0.1h2.1m-3.3 0.4h2.1m-0.5 0.1h2.1m9.8 0.2h2.1m-3.9 0.2h2.1m8.4 0.9h2.1m-14.5 0.1h2.1m-9.9 0.3h2.1m-3.2 0.1h2.1m14.5 0.6h2.1m1.2 0.1h2.1m-15.4 0.6h2.1m8.4 0h2.1m2.3 0.4h2.1m35.1 0.7h2.1m-54.1 0h2.1m11.9 1h2.1m-17.6 0.1h2.1m10.4 0.9h2.1m-11.9 0.2h2.1m5.8 0.1h2.1m-11.8 0h2.1m36.4 0.3h2.1m-29.9 0h2.1m-17.6 1.1h2.1m13.2 0.2h2.1m-18.4 6h2.1m2.3 0.3h2.1m-2.3 2.6h2.1m-6.3 0.1h2.1m-0.4 0.2h2.1m9.9 1.2h2.1m3.6 0.2h2.1m-0.1 0.5h2.1m-12.4 0.7h2.1m5.7 165.5h2.1m-13.7 6.8h2.1m-8.4 1.2h2.1m2.5 2.3h2.1m8.3 1.1h2.1m-17.2 0.2h2.1m48.3 3.1h2.1m-41.6 3.1h2.1m1.8 2.2h2.1m-1.4 0.8h2.1m2.5 1.8h2.1m-8.3 1.5h2.1m7.4 0.6h2.1m-5.8 2h2.1m25.8 2.1h2.1m-29 0h2.1m-16 0.6h2.1m-7.9 1.1h2.1m16.6 0.2h2.1m-4.5 0.5h2.1m-3.7 0.5h2.1m26.9 5.4h2.1m-35.6 3.6h2.1m8.5 2.3h2.1m-24 0.6h2.1m5 4.2h2.1m9.2 0.8h2.1m-1.3 0.2h2.1m-2.8 1.1h2.1m-8.7 0.3h2.1m-10.8 0.7h2.1m37.7 1.3h2.1m-24.2 1h2.1m-13.7 1.3h2.1m10.6 1.1h2.1m-9.9 2.1h2.1m2 0.3h2.1m1.6 0.1h2.1m-10.8 3.5h2.1m-15.2 1h2.1m10.4 0.1h2.1m-10 0.3h2.1m9.5 0.6h2.1m0.6 2.2h2.1m-17.9 0.1h2.1m-2 4h2.1m6.9 2.2h2.1m-6.8 2.5h2.1m2.5 1.8h2.1m2.2 0.7h2.1m-17.7 0.8h2.1m52.5 0.4h2.1m-52.5 1.8h2.1m9.6 0.5h2.1m-6.9 1.2h2.1m4.7 1.2h2.1m1.8 0.5h2.1m22.6 0.1h2.1m-33.2 0.2h2.1m-18.6 0.7h2.1m54.7 0h2.1m-57 0.1h2.1m15.1 0.5h2.1m-12.6 0h2.1m-7.9 0.4h2.1m2.8 0.2h2.1m2.7 0.4h2.1m-14.3 0h2.1m11.6 0.4h2.1m40.1 0.6h2.1m-41.8 0.3h2.1m4.8 0.3h2.1m17.6 0.2h2.1m6.6 0.2h2.1m-42.6 0.1h2.1m-1.2 0.1h2.1m42.2 0.8h2.1m-38.5 0.3h2.1m29.1 1h2.1m-53.5 0.3h2.1m1 0.3h2.1m7 0.2h2.1m-16 0.4h2.1m55.9 0.6h2.1m-13.2 0.1h2.1m-47.5 0.2h2.1m50.8 0h2.1m-48.5 0.5h2.1m7.9 0.2h2.1m-0.7 0h2.1m-20.6 0.5h2.1m-1.9 0h2.1m7.6 0.1h2.1m-2.7 0.4h2.1m36 0.5h2.1m-2.9 0.4h2.1m-44.5 0h2.1m9.8 0.2h2.1m-18.9 0.3h2.1m44.5 0.3h2.1m-38.5 0.5h2.1m-3 0.1h2.1m7.7 0.1h2.1m37.8 0.1h2.1m-6 1.1h2.1m-43.4 0.3h2.1m-15.8 0.1h2.1m18.3 0.2h2.1m23.7 0.6h2.1m-43.1 0.1h2.1m16.4 0.2h2.1m30.4 0.2h2.1m-37.4 0.1h2.1m-6.7 0.1h2.1m-14.8 0.2h2.1m47.1 0.1h2.1m-30.7 0.4h2.1m-23.6 0.1h2.1m42.1 0h2.1m-32.1 0.1h2.1m0.5 0.3h2.1m-10.1 0h2.1m-14 0.1h2.1m2.7 0.4h2.1m18.9 0.2h2.1m-11.1 0.1h2.1m-4.6 0h2.1m36.4 0.1h2.1m-49.2 0.5h2.1m13.7 0h2.1m34.3 0.6h2.1m-45.4 0.1h2.1m41.9 0.4h2.1m-56.5 1.3h2.1m-5.5 0h2.1m8.4 0h2.1m9.9 0.5h2.1m26.9 0.1h2.1m-38.8 0.3h2.1m-9 0.2h2.1m0.4 0.1h2.1m44.6 0.4h2.1m-10.4 0.1h2.1m-26.5 0.1h2.1m18.5 0.1h2.1m-0.6 0.2h2.1m9 0.1h2.1m-34.9 0h2.1m-12 0.8h2.1m-10.3 0h2.1m-4.2 0.4h2.1m9.6 0.2h2.1m-3.4 0h2.1m-13.6 0.5h2.1m5.7 0.1h2.1m40.2 0h2.1m-54.8 0h2.1m20 0h2.1m-18.6 0.3h2.1m8.3 0.1h2.1m5.4 0.1h2.1m24 0h2.1m-4.3 0.3h2.1m-26.9 0.1h2.1m31.7 0.2h2.1m-59.6 0.3h2.1m-0.7 0.4h2.1m21 0.1h2.1m-21.7 0.3h2.1m43.8 0.1h2.1m-47.8 0.2h2.1m-7.4 0h2.1m7.7 0.2h2.1m46.6 0.1h2.1m-39.7 0h2.1m34.1 0.1h2.1m-8.4 0.1h2.1m-40.8 0h2.1m9.3 0.1h2.1m-18.4 0.2h2.1m12.7 0.5h2.1m20.6 0.2h2.1m-29 0.2h2.1m28.2 0h2.1m-26.7 0.1h2.1m-5.6 0h2.1m-14.1 0.2h2.1m8.5 0.1h2.1m-18.2 0h2.1m6.7 0.2h2.1m-6.1 0h2.1m-6.6 0.1h2.1m-4.2 0h2.1m1.1 0.1h2.1m8.3 0.2h2.1m-1.8 0h2.1m4.3 0.3h2.1m-1.1 0h2.1m-19.2 0.7h2.1m18 0.5h2.1m18.7 0.4h2.1m5.2 0h2.1m-41.1 0.2h2.1m-11.7 0h2.1m-2.6 0.1h2.1m0.9 0.1h2.1m-0.1 0.1h2.1m44.9 0h2.1m-41 0.2h2.1m36.9 0.5h2.1m-55.9 0.8h2.1m9.8 0.2h2.1m-6.8 0.3h2.1m9 0.3h2.1m-14.9 0h2.1m9 0h2.1m36.8 0.1h2.1m-41.1 0h2.1m-7.9 0.1h2.1m-10.5 0.1h2.1m12.8 0.3h2.1m-5.4 0h2.1m2.6 0.1h2.1m-5.4 0.4h2.1m29.8 0.1h2.1m-44.3 0.2h2.1m41.1 0.1h2.1m-3.7 0.5h2.1m-37.8 0h2.1m-7.5 0.1h2.1m13.8 0.2h2.1m-14.2 0.2h2.1m7.8 0.1h2.1m-21.4 0h2.1m46.5 0.3h2.1m-36.6 0.1h2.1m-2.9 0.1h2.1m-12.2 0.2h2.1m51.2 0h2.1m-54 0.1h2.1m4.5 0.2h2.1m2.3 0.1h2.1m4.1 0h2.1m-5.3 0h2.1m-18.5 0.1h2.1m9.6 0.1h2.1m-18.1 0.1h2.1m0.4 0h2.1m-4.5 0.4h2.1m9.2 0.1h2.1m4.8 0.1h2.1m1.5 0.4h2.1m-19.1 0.3h2.1m43.7 0.1h2.1m-30 0.1h2.1m-17.1 0h2.1m14.4 0h2.1m-4.2 0.1h2.1m-9.3 0h2.1m-9.5 0.2h2.1m-5.7 0h2.1m2.3 0.1h2.1m15 0.1h2.1m-14.4 0.1h2.1m7.1 0.1h2.1m-6.3 0.1h2.1m-13 0.1h2.1m13 0h2.1m21.2 0.1h2.1m-27.7 0.2h2.1m-15.2 0.1h2.1m4.6 0.1h2.1m-13.2 0h2.1m13.8 0.3h2.1m-14.9 0.1h2.1m14.2 0.6h2.1m-11.1 0h2.1m-5.8 0.4h2.1m-3.9 0h2.1m8 0.2h2.1m-15.5 0.1h2.1m5.3 0.2h2.1m-11.6 0.1h2.1m10.1 0.3h2.1m-16.7 0.3h2.1m23.5 0.1h2.1m-8 0.8h2.1m-20.6 0.1h2.1m-0.3 0h2.1m48.5 0.1h2.1m-43.7 0.2h2.1m-2.5 0.3h2.1m-13.3 0.1h2.1m18.8 0.2h2.1m-10.4 0.3h2.1m-0.4 0.1h2.1m-9.1 0.1h2.1m0.9 0h2.1m-12.5 0.4h2.1m16.4 0.3h2.1m-7.7 0.5h2.1m-11.1 0.4h2.1m12.3 0h2.1m-0.7 0h2.1m-3.3 0.1h2.1m25.8 0.5h2.1m-2.6 0.1h2.1m-38.6 0.3h2.1m-1.2 0h2.1m11 0.4h2.1m-23.8 0h2.1m51.7 0.1h2.1m0.8 0h2.1m-36.2 0.2h2.1m-19.6 0.2h2.1m10.8 0.2h2.1m-21.8 0h2.1m-1.2 0.9h2.1m4.5 0.4h2.1m8 0.6h2.1m-19.3 0.1h2.1m-1.9 0.5h2.1m2 0.3h2.1m9.4 0.2h2.1m-15 0.1h2.1m18.4 0.1h2.1m-6.7 0.9h2.1m-16.2 0h2.1m-5.7 0.1h2.1m12.9 0.3h2.1m28.8 0.2h2.1m-39.7 0.7h2.1m-5.5 0.3h2.1m-3.4 0.1h2.1m-0.3 0.1h2.1m42.1 1.1h2.1m5.5 0.3h2.1m-38.5 0.1h2.1m-12.4 1h2.1m7.6 0.4h2.1m-19.4 0.3h2.1m16.4 0.3h2.1m23.8 0.6h2.1m-46.1 1.2h2.1m5.8 0.4h2.1m10.7 0h2.1m-4.9 0h2.1m0.5 0.1h2.1m-12.9 0.1h2.1m-13 0.5h2.1m6.1 0.6h2.1m2.9 0.2h2.1m-3.5 0.9h2.1m-12.7 0.1h2.1m39.9 0.6h2.1m-24.1 0.2h2.1m-22.3 0.7h2.1m4 0h2.1m-0.7 0.1h2.1m7.5 0.1h2.1m-0.6 0.1h2.1m-10.1 0.1h2.1m-5.8 0.2h2.1m-12 0.9h2.1m14.7 0.7h2.1m-7.5 0.6h2.1m-6.3 2.2h2.1m48.2 0.5h2.1m-59.5 0.2h2.1m8.5 0.2h2.1m-5.6 0.3h2.1m48.4 1.3h2.1m-48.7 2.9h2.1m41.9 0.9h2.1m-48.1 1h2.1m-5.8 0.5h2.1m-4.1 0.6h2.1m-6.4 1.1h2.1m6.7 5.3h2.1m-10 2.7h2.1m9.5 10.4h2.1m0.5 163.6h2.1m2 7.1h2.1m-14.9 0.6h2.1m45.1 1.7h2.1m-43.3 4.3h2.1m6.4 4h2.1m-1.8 0.2h2.1m31.8 2.3h2.1m-47.9 1.7h2.1m-6.3 0.6h2.1m7.2 1h2.1m-1.2 1.4h2.1m-13.3 2.5h2.1m44.6 0.2h2.1m-36.6 0.3h2.1m-8.3 0.5h2.1m3.9 0.6h2.1m38.5 0.7h2.1m-1.8 0.1h2.1m-2 0.4h2.1m-41.7 1.6h2.1m-16.6 0.1h2.1m-1.8 0.2h2.1m11.6 0.2h2.1m-7.7 0.8h2.1m3.9 0.3h2.1m5 0.6h2.1m-20.8 0.5h2.1m-8.4 0.2h2.1m15.7 0.6h2.1m-3.3 0.7h2.1m-7.6 1.4h2.1m-13.2 2.1h2.1m14.5 0.7h2.1m-0.8 0h2.1m6.1 0.4h2.1m24.9 0.2h2.1m-40 0.3h2.1m-17.3 0.3h2.1m56.7 0.4h2.1m-43.9 0.3h2.1m2.8 0.7h2.1m23.4 0.2h2.1m-30.2 0.2h2.1m-11.3 0.9h2.1m-9.6 1.6h2.1m-4.3 0.6h2.1m22.1 0.4h2.1m-0.5 0.3h2.1m-14.1 1h2.1m37 0.3h2.1m-33 0.3h2.1m-3.6 0.1h2.1m-5.2 0.4h2.1m4.1 0.1h2.1m30 0.4h2.1m-59 0.1h2.1m4 0.3h2.1m7.2 0.2h2.1m1.9 0.1h2.1m33 0.5h2.1m-46.6 0h2.1m-2 0.6h2.1m0.3 1.3h2.1m-10.8 0.1h2.1m18.1 0h2.1m-10.5 0.2h2.1m-7.6 0.3h2.1m8.1 0h2.1m27.7 0h2.1m-38.4 0.3h2.1m32.2 0.3h2.1m-35.8 0.1h2.1m-16 0.1h2.1m23.9 1.1h2.1m-12.4 0.2h2.1m-7.2 0.6h2.1m-8.5 0h2.1m43.8 0h2.1m-31 1.1h2.1m2.2 0.3h2.1m28.7 0.4h2.1m-43.4 0.2h2.1m1.6 0.2h2.1m-12.7 0.6h2.1m-1.8 0.6h2.1m12.4 0.3h2.1m-18.1 0.2h2.1m12 0h2.1m-5.3 0.3h2.1m-18.9 0.1h2.1m5.2 0.6h2.1m2.4 0.2h2.1m11.5 0.2h2.1m-26.4 0.3h2.1m45.1 0h2.1m-48.7 0.2h2.1m6.9 0h2.1m-1.3 0.2h2.1m-5.6 0.8h2.1m-0.8 0.1h2.1m3.5 0.2h2.1m2.5 0h2.1m-2 0.4h2.1m-3.9 0.1h2.1m-5.3 1h2.1m-17.1 0.2h2.1m23.4 0.1h2.1m-24.9 1.1h2.1m45.7 0.1h2.1m-45.9 0.1h2.1m-4.9 0.1h2.1m3.3 0.1h2.1m-7.1 0.3h2.1m4.6 0.1h2.1m1.9 0.1h2.1m0.1 0.6h2.1m1.8 0.7h2.1m-2.4 0.3h2.1m2.1 0.2h2.1m-6.8 0h2.1m-19.5 0.3h2.1m4.2 0.2h2.1m-5.7 0.4h2.1m-6.6 0.2h2.1m18.4 0.2h2.1m35 0.7h2.1m-47.1 0h2.1m33.5 0.8h2.1m4.8 0.2h2.1m-43.1 0.2h2.1m4.3 0h2.1m-3.5 0.2h2.1m-19.6 0.1h2.1m15.7 0.2h2.1m-12.4 0.1h2.1m-1.6 0.3h2.1m-4.5 0.4h2.1m45.4 0h2.1m-35.7 0.4h2.1m32.9 0.1h2.1m-42.2 0h2.1m-9.2 0.1h2.1m10 0.6h2.1m28.1 0.2h2.1m-38.3 0.1h2.1m5.4 0.2h2.1m-24.3 0h2.1m12.6 0.2h2.1m3.2 0.2h2.1m-12.5 0.6h2.1m39.3 0.4h2.1m-31.8 0.3h2.1m-21.1 0.2h2.1m10 0h2.1m0.4 0.2h2.1m-2.5 0.5h2.1m0.1 0.2h2.1m30.4 0.1h2.1m-5.9 0h2.1m-46.3 0.1h2.1m19.8 0.4h2.1m21.2 0h2.1m5.5 0.1h2.1m-37.4 0.1h2.1m-8.6 0.3h2.1m-10.6 0.1h2.1m-9.4 0.1h2.1m21.6 0h2.1m1.3 0h2.1m-11.8 0.1h2.1m-2.5 0.6h2.1m4.7 0.1h2.1m21.2 0.1h2.1m-35.3 0.2h2.1m-5.7 0.3h2.1m46 0h2.1m-46.5 0.1h2.1m-6.8 0.2h2.1m-11.9 0h2.1m20.5 0.1h2.1m-5 0.5h2.1m33.9 1h2.1m-57.7 0.1h2.1m19 0h2.1m-16.2 0.4h2.1m11.2 0.3h2.1m-13.8 0.1h2.1m-10 0.4h2.1m15.8 0.2h2.1m30.1 0h2.1m-33.7 0h2.1m4.2 0.9h2.1m-4.2 0.8h2.1m-17.8 0.1h2.1m10.2 0.4h2.1m4.1 0.2h2.1m-2.7 1.1h2.1m-25.7 0h2.1m13.9 0.3h2.1m35 0.2h2.1m-32.8 0.3h2.1m-4.6 0.2h2.1m-8.7 0.6h2.1m-10.3 0h2.1m44.8 0h2.1m-52.9 0h2.1m-0.9 0.4h2.1m21 0.1h2.1m-18.1 0.1h2.1m-5.8 0.3h2.1m15.4 0.1h2.1m-15 0h2.1m1.9 0.1h2.1m8.4 0.4h2.1m-2.1 0.1h2.1m21.3 0.2h2.1m-25.7 0h2.1m-20.4 0.4h2.1m-0.9 0h2.1m11.9 0.2h2.1m-18.3 0.7h2.1m1.7 0h2.1m45.3 0.3h2.1m-50.4 0h2.1m-5.3 0.4h2.1m15 0.6h2.1m-14.3 0.2h2.1m-13.5 0.1h2.1m13.1 0h2.1m-5.6 0.2h2.1m-1.4 0.2h2.1m2 0.2h2.1m28.6 0h2.1m8.3 0.1h2.1m-4.4 0.1h2.1m-30.4 0.2h2.1m26.1 0.2h2.1m-3.8 0.1h2.1m-28.7 0.2h2.1m21.6 0.2h2.1m-42.6 0.2h2.1m5.5 0.1h2.1m-20.9 0.2h2.1m45.2 0.1h2.1m-45.1 0.5h2.1m0.5 0.3h2.1m-1.5 0h2.1m15.5 0.1h2.1m20.8 0.1h2.1m-37.9 0.6h2.1m1.6 0.1h2.1m1.9 0h2.1m32.7 0h2.1m-56.4 0h2.1m12.3 0.4h2.1m30.7 0.3h2.1m-34.9 0.4h2.1m-0.2 0.4h2.1m-7.4 0.1h2.1m-6.9 0.5h2.1m12.4 0.1h2.1m-9.5 0.6h2.1m-10 0.1h2.1m-6.9 0.3h2.1m13.5 0.2h2.1m32.3 0.1h2.1m-1.4 0.1h2.1m-53.8 0.1h2.1m-0.6 0.2h2.1m-1 0.3h2.1m44.9 0.4h2.1m-46.6 0.4h2.1m50.2 0.1h2.1m-31.5 0h2.1m-12 0.1h2.1m-0.1 0.1h2.1m37.1 0.4h2.1m-56.2 0.5h2.1m15.4 0.2h2.1m-6.4 0.1h2.1m4.9 0.1h2.1m21.4 0.4h2.1m-42.4 0h2.1m0.7 0.1h2.1m4.7 0.1h2.1m32.1 0.2h2.1m-31.2 0h2.1m-21.8 0.2h2.1m42.8 0.1h2.1m1.5 0h2.1m-47.7 0.1h2.1m15.1 0h2.1m-6.7 0.3h2.1m-17.5 0.1h2.1m16.9 0h2.1m-22 0.2h2.1m9.6 0h2.1m5.3 0.1h2.1m-12.5 0.2h2.1m-2.7 0h2.1m6.8 0.1h2.1m-17.4 0.1h2.1m14.4 0.2h2.1m0.4 0h2.1m33.8 0.1h2.1m-53.1 0.1h2.1m9.2 0h2.1m5.2 0h2.1m-21.5 0.1h2.1m4.2 0.2h2.1m-11 0h2.1m11.9 0.1h2.1m27.1 0h2.1m-47.2 0h2.1m3.2 0.2h2.1m-4.8 0.1h2.1m-7.4 0h2.1m53.6 0.1h2.1m-42.1 0h2.1m-9.5 0.2h2.1m-2.2 0.1h2.1m7 0.2h2.1m37.2 0h2.1m-44.9 0.1h2.1m-10.6 0.3h2.1m19.9 0h2.1m-13.4 0.1h2.1m0.5 0.2h2.1m1.4 0.3h2.1m-7.3 0.2h2.1m3.1 0.1h2.1m-1.6 0.2h2.1m-9.8 0h2.1m-10 0h2.1m10 0.1h2.1m37.7 0.3h2.1m-34.6 0.3h2.1m-5.2 0.1h2.1m-21.3 0.2h2.1m11.3 0.1h2.1m-14.2 0.3h2.1m46.9 0.1h2.1m-55.6 0.4h2.1m49.1 0h2.1m-38 0.1h2.1m39.8 0.4h2.1m-48.8 0h2.1m4.9 0.1h2.1m-5.2 0h2.1m35.7 0h2.1m-37.4 0.1h2.1m35.1 0h2.1m0.6 0h2.1m-50.7 0h2.1m10.4 0.1h2.1m1.1 0h2.1m-20 0.1h2.1m-5.3 0h2.1m12.8 0.1h2.1m26.9 0h2.1m0.7 0h2.1m-40 0.2h2.1m-7.6 0h2.1m5.9 0.1h2.1m-15.9 0h2.1m2.2 0.2h2.1m-6.5 0h2.1m7.9 0.3h2.1m14 0h2.1m-18 0.1h2.1m-0.1 0.1h2.1m-15.8 0.2h2.1m46.9 0.3h2.1m-38.9 0.2h2.1m12.4 0h2.1m-3 0.1h2.1m27.7 0.1h2.1m-50.5 0.1h2.1m-4.4 0.1h2.1m11 0h2.1m-14 0.1h2.1m41 0h2.1m-49.6 0h2.1m7 0.1h2.1m34.3 0.1h2.1m-46.9 0.1h2.1m5.7 0h2.1m-9.6 0h2.1m4.4 0.1h2.1m-6.6 0.1h2.1m19.5 0.1h2.1m-15.4 0.1h2.1m40.2 0h2.1m-40.1 0.1h2.1m28 0h2.1m0.9 0.2h2.1m2.1 0h2.1m-34.2 0h2.1m-3.2 0.1h2.1m-23.3 0.1h2.1m11.4 0.1h2.1m5.8 0h2.1m31.8 0h2.1m-55.1 0.1h2.1m-1.8 0h2.1m21 0h2.1m28.1 0h2.1m-51.2 0.1h2.1m4.5 0.1h2.1m-1.2 0h2.1m10.3 0.1h2.1m-19.6 0h2.1m41.2 0.1h2.1m-28.8 0h2.1m-22.1 0.1h2.1m-1.6 0h2.1m-6.3 0h2.1m52.1 0h2.1m-56.4 0h2.1m21.3 0.2h2.1m0.3 0.2h2.1m-20.1 0.2h2.1m15.5 0.2h2.1m-21 0.1h2.1m16.9 0h2.1m21.4 0h2.1m-38 0.1h2.1m-4 0.1h2.1m-3.7 0.1h2.1m36.5 0h2.1m-46.1 0h2.1m15.1 0h2.1m1.8 0h2.1m28 0.1h2.1m-32.1 0.1h2.1m-17.4 0.1h2.1m40.8 0.1h2.1m-48.5 0h2.1m6.1 0.2h2.1m3.8 0.1h2.1m-5.5 0h2.1m3 0h2.1m-6 0.1h2.1m-1.1 0.1h2.1m-6.8 0h2.1m33.5 0h2.1m-42.5 0.1h2.1m-5.3 0h2.1m16.4 0.1h2.1m-23.6 0.1h2.1m-7.7 0h2.1m23.3 0h2.1m-12.6 0.1h2.1m39.3 0h2.1m-52.1 0.1h2.1m10.6 0h2.1m35.2 0.1h2.1m-52.8 0.1h2.1m17.2 0h2.1m-13.1 0.1h2.1m36.3 0h2.1m-31.7 0.2h2.1m24.3 0h2.1m-43.2 0h2.1m-0.4 0.1h2.1m4.8 0.1h2.1m3.8 0h2.1m24 0h2.1m-50.8 0.3h2.1m19.6 0h2.1m-7.9 0h2.1m7.1 0.2h2.1m-21.8 0.1h2.1m1.6 0h2.1m11.4 0.1h2.1m-19.9 0.1h2.1m-3.4 0.2h2.1m50.7 0h2.1m-33.7 0.1h2.1m-6.8 0h2.1m-2.7 0.1h2.1m-9.9 0h2.1m10.4 0.1h2.1m-7.3 0.1h2.1m-5.6 0.3h2.1m4.5 0h2.1m-20.7 0.1h2.1m-1.9 0h2.1m-3.3 0h2.1m6.3 0.1h2.1m-11.3 0h2.1m-1.1 0.3h2.1m9.4 0h2.1m-0.7 0.2h2.1m-1.5 0h2.1m29.2 0.2h2.1m-40.4 0h2.1m12.1 0h2.1m32.1 0h2.1m-32.8 0.1h2.1m-24.3 0h2.1m-5.5 0.1h2.1m11.5 0.1h2.1m30.4 0.1h2.1m-22 0.1h2.1m-10.5 0.1h2.1m28 0.2h2.1m-42.7 0h2.1m-3.9 0h2.1m11 0.1h2.1m-3.1 0h2.1m-10.8 0h2.1m9.4 0.2h2.1m-21.8 0.1h2.1m12.7 0h2.1m32.4 0.1h2.1m-36.3 0h2.1m-5.2 0.1h2.1m33.5 0.2h2.1m-38.8 0h2.1m3.6 0.2h2.1m-13.6 0.1h2.1m7.6 0h2.1m-19 0.1h2.1m53.3 0.1h2.1m-44.4 0h2.1m-7.2 0.1h2.1m5.1 0h2.1m5.5 0.1h2.1m-20.5 0h2.1m-1.4 0h2.1m15.4 0h2.1m-5.4 0h2.1m28.9 0h2.1m3.1 0.1h2.1m-36.5 0.1h2.1m-21.4 0.1h2.1m4.8 0h2.1m-10.9 0.1h2.1m3.1 0h2.1m-6.1 0h2.1m-1.1 0.2h2.1m6.6 0.2h2.1m3.9 0.1h2.1m29.5 0h2.1m-33 0.1h2.1m33.8 0h2.1m-49.6 0h2.1m-0.3 0.1h2.1m-8.6 0h2.1m1.7 0h2.1m-3.3 0.1h2.1m19.4 0.1h2.1m-17.4 0h2.1m13.6 0h2.1m-5.4 0h2.1m-22.8 0h2.1m50.4 0.4h2.1m-54.8 0h2.1m15 0h2.1m-17.4 0.1h2.1m-1.6 0.1h2.1m0.5 0.1h2.1m0.2 0h2.1m38.5 0.1h2.1m-39 0h2.1m41 0h2.1m-32 0.1h2.1m-21 0h2.1m3.5 0.2h2.1m-2 0h2.1m12.2 0.1h2.1m-17 0.1h2.1m9.1 0.1h2.1m-19.1 0.1h2.1m14.5 0h2.1m-4.5 0h2.1m35.4 0.2h2.1m-52.6 0h2.1m17 0.3h2.1m-2.9 0.1h2.1m-7.3 0h2.1m-14.3 0.1h2.1m13.1 0h2.1m-20.8 0.1h2.1m18.2 0h2.1m-25.7 0.1h2.1m47.6 0.1h2.1m-5.2 0h2.1m-41 0h2.1m11.7 0.1h2.1m-13 0h2.1m10.5 0h2.1m21.2 0.3h2.1m-36.6 0.1h2.1m-4.3 0.1h2.1m13.9 0.1h2.1m-2.9 0.1h2.1m25.8 0.1h2.1m-41 0.1h2.1m-14.1 0h2.1m9.9 0.1h2.1m4.8 0h2.1m-12.1 0.1h2.1m-12.1 0.1h2.1m19.4 0h2.1m29.8 0.1h2.1m-51.2 0.2h2.1m16.3 0h2.1m-22.4 0h2.1m11.2 0.1h2.1m-6.5 0.1h2.1m9.4 0.2h2.1m-18.2 0.1h2.1m-9.2 0h2.1m2.1 0h2.1m18.1 0h2.1m-12.4 0h2.1m-16 0h2.1m-4 0.3h2.1m18.7 0.3h2.1m-9.6 0h2.1m-6.3 0.1h2.1m-4.6 0h2.1m-8.1 0h2.1m4.8 0.1h2.1m15.9 0.1h2.1m-26 0.1h2.1m7.2 0h2.1m7.8 0h2.1m-0.1 0.1h2.1m32.9 0h2.1m-37.4 0h2.1m-21.7 0h2.1m12.6 0.1h2.1m-14.8 0.1h2.1m11.9 0.1h2.1m-12.5 0.2h2.1m15.5 0h2.1m-18.9 0.1h2.1m-8.1 0.2h2.1m21.6 0h2.1m-13.6 0.1h2.1m-14.8 0.1h2.1m52 0.1h2.1m-11.9 0.2h2.1m-46.3 0h2.1m-1.4 0.1h2.1m-1.3 0h2.1m15.4 0.1h2.1m-7.1 0.1h2.1m-11.3 0.1h2.1m-5.7 0h2.1m9.1 0.1h2.1m3.1 0.3h2.1m-14.3 0.3h2.1m42.6 0h2.1m-54.9 0h2.1m23.9 0h2.1m-3.5 0.4h2.1m22.4 0.1h2.1m-24.8 0h2.1m-18.3 0.1h2.1m-4.9 0.2h2.1m38.3 0h2.1m-23 0h2.1m-13.4 0.1h2.1m-1.1 0.2h2.1m4.8 0h2.1m1.6 0.1h2.1m-20.2 0h2.1m-7 0.1h2.1m0.4 0h2.1m47.3 0h2.1m-40.7 0h2.1m-5 0.2h2.1m-12.7 0.1h2.1m4.6 0.1h2.1m-3.8 0.2h2.1m1.9 0h2.1m-1 0h2.1m9.2 0.2h2.1m-19 0h2.1m15.7 0.2h2.1m-12.2 0h2.1m-10.7 0.2h2.1m-10 0h2.1m48 0.1h2.1m-35 0h2.1m-8.2 0.2h2.1m10.8 0.1h2.1m25.6 0.3h2.1m-3.6 0h2.1m-27.8 0.1h2.1m-13.8 0h2.1m-14.2 0.2h2.1m2.8 0.3h2.1m18.7 0h2.1m-9 0.1h2.1m-4.6 0.1h2.1m-9 0.1h2.1m7.6 0h2.1m-1.7 0.1h2.1m1.3 0.1h2.1m-10.4 0.1h2.1m-16.1 0h2.1m16.3 0h2.1m31.4 0h2.1m-29.9 0.1h2.1m-17.3 0.1h2.1m-0.9 0.1h2.1m-10.3 0.2h2.1m-5.3 0.1h2.1m0.8 0h2.1m19.1 0h2.1m-18.1 0.2h2.1m42.5 0h2.1m-40.9 0.2h2.1m-4.1 0.1h2.1m-12.4 0.3h2.1m14.6 0h2.1m-2.5 0h2.1m-3.3 0h2.1m7.2 0.1h2.1m-24 0.3h2.1m17.9 0.2h2.1m-25.1 0.1h2.1m1.1 0h2.1m-4.4 0.3h2.1m9 0.1h2.1m11.6 0.1h2.1m-14.7 0.3h2.1m-3.7 0h2.1m8.8 0h2.1m-13.8 0.3h2.1m-8.2 0.2h2.1m16.2 0h2.1m-26.2 0h2.1m11.4 0.1h2.1m4.1 0h2.1m-19.1 0.1h2.1m54.7 0.2h2.1m-46.6 0.1h2.1m-14.8 0h2.1m11.4 0.2h2.1m4.7 0.1h2.1m-1.7 0h2.1m-15.6 0.2h2.1m14.8 0h2.1m-24.4 0.6h2.1m16.8 0.2h2.1m-10.8 0h2.1m-11.6 0.1h2.1m19.9 0h2.1m-2 0h2.1m-24.8 0.1h2.1m2.5 0h2.1m-9.1 0h2.1m16.7 0.4h2.1m-20.3 0.1h2.1m2.5 0.2h2.1m16.1 0h2.1m-2.9 0.2h2.1m-10 0.5h2.1m-1.6 0.4h2.1m-4.6 0h2.1m35.3 0h2.1m-49 0.1h2.1m10.3 0.1h2.1m32.2 0h2.1m-36.3 0.6h2.1m2.9 0h2.1m27.9 0h2.1m-37.4 0.1h2.1m-14.9 0.2h2.1m17.6 0h2.1m-15.3 0.8h2.1m6.2 0.1h2.1m-12.8 0.3h2.1m-5 0.1h2.1m42.2 0h2.1m-39.3 0.1h2.1m-8.5 0h2.1m6.8 0.3h2.1m-10.2 0h2.1m2.2 0h2.1m-6.7 0.2h2.1m0.1 0.1h2.1m-5.9 0.1h2.1m15.8 0.2h2.1m2.2 0.2h2.1m-20.2 0.3h2.1m-7.5 0.2h2.1m-0.4 0.6h2.1m2.5 0.1h2.1m38.3 0.3h2.1m-45.9 0h2.1m-6.7 0.3h2.1m22.6 0.2h2.1m-25.6 0.2h2.1m5.2 0.7h2.1m7 0.7h2.1m3.6 0h2.1m26 0.4h2.1m-54.3 0.1h2.1m13.3 0.4h2.1m2.6 0.1h2.1m-14.4 1.3h2.1m-10.1 0.7h2.1m9.2 0.2h2.1m8.8 0.2h2.1m-10.9 0.7h2.1m-1.8 3h2.1m11 0h2.1m-28.1 0.4h2.1m22.9 2.2h2.1m30.1 0.4h2.1m-36.9 0.5h2.1m-8.3 0.6h2.1m-15.2 2.8h2.1m5.6 5.1h2.1m10.2 2.9h2.1m-16 1.7h2.1m-11.1 3.8h2.1m4.7 268.6h2.1m3.4 5.8h2.1m7.4 6.9h2.1m-14.9 2.7h2.1m10 6.2h2.1m-10.7 0.1h2.1m-8.7 0.4h2.1m5 1.4h2.1m3.6 0.9h2.1m1.9 1.3h2.1m-17.3 3.9h2.1m8.8 1.8h2.1m-9.1 3.8h2.1m-13.1 1.2h2.1m20.4 0.3h2.1m1.5 0h2.1m-13.5 0.6h2.1m1.2 0.2h2.1m-14.2 1.1h2.1m-8 0.5h2.1m5.4 0.2h2.1m13.3 0.7h2.1m-20.9 0.9h2.1m13.7 0.6h2.1m1.8 0.1h2.1m-20.7 0.6h2.1m43.6 0.6h2.1m-29.1 1h2.1m-2.6 0.2h2.1m21.1 0h2.1m-46.7 0.2h2.1m2.9 0.8h2.1m-4 0.2h2.1m49.3 0.1h2.1m-38.1 0.2h2.1m0.4 1.3h2.1m27.5 0.9h2.1m-52.9 0.2h2.1m7.7 1.2h2.1m10.8 0.1h2.1m-26.9 0.3h2.1m12.2 0.3h2.1m9 0.1h2.1m-25.3 0.9h2.1m4.6 0.5h2.1m-4.9 0.1h2.1m14.3 0.8h2.1m0.5 0.5h2.1m-2.3 0.3h2.1m-13.8 0h2.1m-9.2 2h2.1m-5.4 0.1h2.1m-2.3 0.5h2.1m-2.6 0.2h2.1m2.4 0.8h2.1m14.1 0.1h2.1m-16.2 0h2.1m-0.8 0.9h2.1m11.7 1.4h2.1m-3.9 0h2.1m-4.1 0.8h2.1m-5.7 0.1h2.1m4.8 0h2.1m-1.7 0.6h2.1m-6.4 0.1h2.1m-11.1 0.3h2.1m2.2 0.2h2.1m-1.2 0.4h2.1m-3.2 0.2h2.1m-8.6 0.4h2.1m2.2 0.1h2.1m-2.7 0.1h2.1m-6.9 0.9h2.1m-10.2 0.7h2.1m-0.1 0.3h2.1m4.4 0.6h2.1m12.6 0.3h2.1m-10.1 0.5h2.1m-8.3 0.2h2.1m-6.1 0.1h2.1m8.6 0h2.1m-16.7 0.3h2.1m21.3 0h2.1m-13.8 0.1h2.1m-11.3 0.2h2.1m-0.3 0.1h2.1m16.9 0.4h2.1m-5.2 0.1h2.1m3.7 0.3h2.1m-29.2 0.3h2.1m23.2 0.4h2.1m-14.5 0.1h2.1m12.3 0h2.1m-16 0.2h2.1m-10.2 0.2h2.1m11.8 0.1h2.1m-3.8 0.1h2.1m-5.9 0.5h2.1m4.3 0.4h2.1m-13.1 0.1h2.1m9.6 0.4h2.1m-3.9 0.5h2.1m-16.1 0.1h2.1m9.3 0.5h2.1m0.5 0.7h2.1m5.3 0.2h2.1m-16.4 0.4h2.1m-10.5 0.1h2.1m0.6 0.2h2.1m0 0.2h2.1m41.4 0.2h2.1m-0.2 0h2.1m-32 0h2.1m-22.3 0.3h2.1m-2.4 0.5h2.1m3.1 0.4h2.1m7 0.1h2.1m-8.8 0.2h2.1m11.3 0.3h2.1m-21.1 0.4h2.1m8.5 0.1h2.1m-17.2 0.6h2.1m1.6 0.3h2.1m15.2 0.2h2.1m-22.1 0h2.1m19.4 0h2.1m-20 0.1h2.1m8.3 0.2h2.1m7.3 0.2h2.1m-17.6 0h2.1m4.5 0.2h2.1m-2.1 0.1h2.1m-4.7 0h2.1m10.3 0.9h2.1m-21.7 0.5h2.1m-3.1 0.4h2.1m-5.8 0.1h2.1m6.2 0.4h2.1m10 0.4h2.1m-3 0.1h2.1m34.5 0.6h2.1m-13.1 0.2h2.1m-21.5 0.1h2.1m-8.4 0.1h2.1m-7 0.4h2.1m-10.2 0h2.1m1.3 0h2.1m-13.4 0.3h2.1m9.5 0.2h2.1m-3 0h2.1m2.1 0.6h2.1m4.6 0h2.1m-21.9 0.2h2.1m10.4 0h2.1m6.8 0.1h2.1m-23.7 0.2h2.1m17.3 0h2.1m-18.9 0.1h2.1m3.2 0.1h2.1m-11.3 0h2.1m13.4 0.4h2.1m-11.4 0h2.1m13.3 0.1h2.1m-9.8 0h2.1m6.5 0.2h2.1m-23.7 0.1h2.1m5.4 0.4h2.1m5.7 0.1h2.1m1.7 0.1h2.1m-15.5 0.3h2.1m1.8 0h2.1m2.5 0.1h2.1m-6.4 0.1h2.1m-6.6 0h2.1m13.6 0h2.1m-17.8 0.1h2.1m6.2 0.1h2.1m-11.9 0.3h2.1m-4.1 0.1h2.1m12.2 0h2.1m-15.9 0.3h2.1m1.3 0h2.1m40.3 0.1h2.1m1.6 0.4h2.1m-32.9 0h2.1m-5.1 0h2.1m-22.1 0.4h2.1m-1.9 0.5h2.1m6.2 0.2h2.1m0.8 0.1h2.1m-2.3 0h2.1m6.3 0.2h2.1m-21.9 0.1h2.1m-2.1 0.2h2.1m-0.2 0.2h2.1m-1.1 0.1h2.1m17.7 0.1h2.1m-13.1 0h2.1m2.4 0.2h2.1m-4.5 0h2.1m-7.8 0.1h2.1m9.4 0.2h2.1m-18.4 0.1h2.1m13.1 0.3h2.1m0.3 0.1h2.1m0.8 0.2h2.1m-16.9 0.2h2.1m0.3 0.1h2.1m13.4 0.1h2.1m-8.4 0h2.1m-14.8 0.1h2.1m-5.6 0.1h2.1m13.9 0h2.1m-19.1 0.2h2.1m16.5 0.2h2.1m32.1 0h2.1m-51.5 0.5h2.1m15 0.1h2.1m-0 0.2h2.1m26.7 0.2h2.1m-54.8 0.1h2.1m17.2 0h2.1m-18.9 0.3h2.1m17 0.1h2.1m-3.1 0h2.1m-1.1 0h2.1m-12.7 0.2h2.1m-0.4 0.1h2.1m5.9 0.7h2.1m-16.1 0.1h2.1m46.7 0h2.1m-56.3 0.1h2.1m3.2 0h2.1m43.9 0.5h2.1m-36.4 0.1h2.1m-11.4 0.2h2.1m-2.4 0.2h2.1m8.8 0.2h2.1m-11.6 0h2.1m13.6 0h2.1m-23.7 0.1h2.1m-8.6 0h2.1m3.9 0.1h2.1m-5.4 0.1h2.1m15.8 0.4h2.1m-14.5 0.1h2.1m9.4 0.1h2.1m5.4 0.4h2.1m-12 0.1h2.1m-3.2 0.3h2.1m39.2 0h2.1m-9 0.2h2.1m-46.5 0.1h2.1m15.9 0.1h2.1m1.6 0.1h2.1m-3.9 0h2.1m-10.5 0.1h2.1m-5.9 0h2.1m9.8 0.3h2.1m-5.2 0h2.1m-18.3 0.1h2.1m-2.5 0.1h2.1m-2.1 0.3h2.1m13.8 0h2.1m1.3 0.2h2.1m-14.9 0h2.1m-0.7 0.3h2.1m12 0.1h2.1m-6 0h2.1m-20 0h2.1m4.3 0.4h2.1m43.6 0.1h2.1m-52.7 0.5h2.1m16.2 0.4h2.1m-9.4 0.1h2.1m-21.2 0.5h2.1m18.3 0.5h2.1m-1 0.1h2.1m-23.7 0.2h2.1m26.7 0.1h2.1m-30 0.1h2.1m55.8 0.1h2.1m-51.9 0h2.1m15.7 0.2h2.1m-13.5 0h2.1m2.5 0.1h2.1m-19.8 0h2.1m18.7 0h2.1m-13.6 0.2h2.1m3.6 0h2.1m-12.1 0.3h2.1m4.1 0.1h2.1m10.8 0.1h2.1m-7.9 0h2.1m-1.5 0h2.1m-19.6 0h2.1m-0.9 0h2.1m-2.6 0.3h2.1m8.6 0h2.1m31.1 0.1h2.1m-33.4 0.4h2.1m-5.1 0h2.1m-14.7 0.2h2.1m3.8 0.2h2.1m19.5 0.1h2.1m-28.2 0.1h2.1m44.6 0.1h2.1m-29.5 0.1h2.1m-6.2 0.3h2.1m-2.9 0h2.1m-19.1 0.1h2.1m18.7 0.1h2.1m-15.3 0.5h2.1m-3.4 0h2.1m4.2 0.1h2.1m39.1 0.1h2.1m-51.6 0.4h2.1m-0.2 0.2h2.1m-2 0h2.1m-0.9 0.2h2.1m9.2 0.5h2.1m-16.5 0.2h2.1m12.1 0.2h2.1m-7.7 0h2.1m39.8 0h2.1m-8.9 0h2.1m-25.8 0.1h2.1m-3.7 0h2.1m-17.5 0h2.1m3.5 0.2h2.1m0.2 0.1h2.1m-5.2 0h2.1m-6.1 0.2h2.1m9.3 0h2.1m32.9 0.6h2.1m-36.3 0.2h2.1m-7.9 0h2.1m-12.4 0.3h2.1m8.1 0.3h2.1m6.2 0h2.1m-20.6 0.3h2.1m14 0h2.1m-9 0.1h2.1m0.5 0.2h2.1m-16.8 0h2.1m44.7 0.1h2.1m-23.3 0.3h2.1m-6.1 0.1h2.1m-9.9 0h2.1m-1.6 0.1h2.1m2.2 0.1h2.1m-8.2 0.2h2.1m-6.5 0.2h2.1m-7.6 0h2.1m5.1 0.1h2.1m-11.4 0.1h2.1m52.3 0.1h2.1m-38.2 0h2.1m-6.1 0.2h2.1m3.9 0.3h2.1m-22.7 0.1h2.1m16.8 0.1h2.1m-13.7 0.1h2.1m6.9 0h2.1m-9.5 0h2.1m-1.4 0.1h2.1m-4.9 0.1h2.1m49 0.2h2.1m-55.7 0.1h2.1m12.1 0.1h2.1m-8.1 0h2.1m-11 0.7h2.1m3.9 0.1h2.1m-10.1 0.1h2.1m15.7 0.1h2.1m-23.3 0.1h2.1m1.7 0.6h2.1m52.4 0.1h2.1m-39.4 0.1h2.1m-2.7 0h2.1m-3.9 0.1h2.1m-20 0.1h2.1m51.2 0.4h2.1m-48.5 0h2.1m42.4 0.2h2.1m-26.9 0.1h2.1m-12.9 0.1h2.1m-14.1 0.2h2.1m20 0.2h2.1m-24.3 0.2h2.1m19.8 0.1h2.1m-24.6 0h2.1m-1.9 0.2h2.1m17.8 0.1h2.1m-22.4 0.1h2.1m18 0.2h2.1m-18.1 0.1h2.1m46 0h2.1m-31.8 0.2h2.1m-27.8 0.5h2.1m6.4 0h2.1m44.1 0.1h2.1m-44.4 0h2.1m43.5 0.2h2.1m-60.6 0.1h2.1m10.2 0h2.1m9 0h2.1m-5.6 0.1h2.1m1.3 0h2.1m1.7 0.1h2.1m-19.4 0.1h2.1m-3.9 0.1h2.1m9.3 0.1h2.1m-14.8 0.1h2.1m1.1 0.2h2.1m-1.2 0.1h2.1m4.9 0.3h2.1m-10 0h2.1m14.6 0.5h2.1m-19.4 0h2.1m6.2 0h2.1m5.9 0.2h2.1m-7.5 0.1h2.1m-9.8 0.1h2.1m6.3 0h2.1m-22.6 0.1h2.1m49.4 0h2.1m-41.2 0h2.1m-6.9 0.2h2.1m-3.4 0.1h2.1m14.7 0.1h2.1m-22.7 0.1h2.1m8 0.4h2.1m-7.2 0.1h2.1m17.5 0.1h2.1m-11 0h2.1m-6.9 0.1h2.1m11.2 0.1h2.1m-21.7 0.1h2.1m19.3 0h2.1m-25.2 0h2.1m12.3 0.2h2.1m-14.5 0h2.1m-9.4 0.1h2.1m2.4 0.2h2.1m-7.1 0h2.1m56.8 0.1h2.1m-55.8 0.3h2.1m15.9 0.1h2.1m-4.8 0.1h2.1m0.9 0.1h2.1m3.3 0.1h2.1m-28.1 0.1h2.1m11.4 0.1h2.1m33.5 0h2.1m-34.1 0.1h2.1m29.7 0h2.1m-43.5 0.1h2.1m12.5 0.2h2.1m-16.6 0h2.1m-8.8 0h2.1m8.1 0.1h2.1m-3.2 0h2.1m-11.1 0.1h2.1m7 0.1h2.1m-11.3 0h2.1m8.6 0.3h2.1m-3.2 0.1h2.1m5.2 0.1h2.1m37 0.3h2.1m-61.2 0h2.1m-2.5 0.2h2.1m17.5 0.2h2.1m-13.2 0.1h2.1m14 0.2h2.1m-24.4 0h2.1m4.9 0.2h2.1m8.2 0h2.1m-10.2 0.1h2.1m-13.6 0.2h2.1m5.5 0.1h2.1m-9.3 0h2.1m-2.8 0.2h2.1m18.9 0.1h2.1m-1.3 0.3h2.1m-15.5 0h2.1m-9.5 0h2.1m14.3 0.1h2.1m-14.2 0.2h2.1m-2.5 0h2.1m16.4 0h2.1m-11.1 0.3h2.1m5.4 0.1h2.1m-20.2 0.1h2.1m17.9 0.4h2.1m-1.7 0.1h2.1m-6.1 0h2.1m-19 0.1h2.1m9.3 0.1h2.1m5.7 0.1h2.1m-14.7 0.2h2.1m-6.7 0h2.1m19 0h2.1m-6.4 0.1h2.1m-4.9 0h2.1m30.1 0.2h2.1m-53.3 0.1h2.1m1.6 0h2.1m45.6 0.2h2.1m-37.4 0.1h2.1m-17.8 0.1h2.1m11.2 0.1h2.1m-13.5 0h2.1m0.5 0.1h2.1m-3.9 0h2.1m45.3 0h2.1m-26 0.1h2.1m28.2 0.1h2.1m-51.8 0h2.1m-9 0.1h2.1m-0.2 0.1h2.1m13.9 0.1h2.1m7.2 0h2.1m23.9 0.1h2.1m-55.4 0.2h2.1m26 0.1h2.1m-20.1 0.2h2.1m-0.2 0h2.1m8.1 0.1h2.1m3.1 0.1h2.1m29.6 0.1h2.1m-56.6 0.1h2.1m19.5 0h2.1m-18 0.1h2.1m43.4 0h2.1m-2.4 0h2.1m-46.3 0.1h2.1m-10.7 0h2.1m22.2 0.1h2.1m-2.9 0.1h2.1m-24.6 0h2.1m13.9 0h2.1m-5.7 0.1h2.1m39.2 0.1h2.1m-57.7 0h2.1m19.9 0.1h2.1m-12.1 0h2.1m12.3 0.2h2.1m-9.5 0.1h2.1m-11.3 0h2.1m9 0h2.1m-3.6 0h2.1m-10.5 0h2.1m-10.7 0.1h2.1m21.7 0.1h2.1m-27.1 0.1h2.1m11.4 0h2.1m-17.6 0.1h2.1m19.9 0h2.1m25 0.2h2.1m-47.1 0.1h2.1m15.1 0.1h2.1m-10.2 0h2.1m31.4 0.1h2.1m8.5 0.1h2.1m-53.7 0h2.1m19.2 0h2.1m-13.8 0h2.1m-7.9 0.2h2.1m-2.5 0h2.1m13.4 0.1h2.1m-13.6 0h2.1m-1.7 0.1h2.1m9 0.1h2.1m-7.1 0h2.1m4.3 0.2h2.1m-3.6 0h2.1m-17 0h2.1m-2.4 0.3h2.1m5.5 0.1h2.1m2.5 0h2.1m-14.5 0h2.1m11.2 0.1h2.1m22.5 0h2.1m-42 0h2.1m10.7 0h2.1m-10.5 0h2.1m-10.6 0.1h2.1m12.6 0h2.1m3.1 0.1h2.1m-8.1 0h2.1m-19.1 0h2.1m44.6 0h2.1m-22.5 0.2h2.1m-3.4 0h2.1m25.6 0.2h2.1m-51.9 0h2.1m14.3 0h2.1m-6.9 0.2h2.1m5.9 0h2.1m1.1 0.1h2.1m22.6 0.1h2.1m-41.1 0.2h2.1m0.3 0h2.1m0.8 0h2.1m-5 0.1h2.1m-2.5 0h2.1m-8.6 0.1h2.1m44.8 0.1h2.1m-44.6 0.1h2.1m8.5 0h2.1m-20 0.1h2.1m13.6 0.2h2.1m-20.1 0h2.1m50 0h2.1m-7 0h2.1m-45.1 0h2.1m11.5 0.1h2.1m-3.4 0h2.1m33.2 0.1h2.1m-39.4 0h2.1m-17.9 0h2.1m20.7 0h2.1m-8.4 0h2.1m-12.4 0.1h2.1m9.6 0h2.1m-1.4 0.2h2.1m-8.9 0h2.1m-13.2 0h2.1m48.9 0.1h2.1m-30.2 0.1h2.1m-24 0h2.1m4.7 0.1h2.1m-5.3 0h2.1m-1.9 0h2.1m13.4 0h2.1m27.7 0.1h2.1m4.4 0h2.1m-40.5 0.1h2.1m28 0.1h2.1m-46.1 0h2.1m-7.3 0h2.1m9 0.1h2.1m-3.1 0.1h2.1m-5.2 0h2.1m-0.5 0h2.1m10.4 0h2.1m-12.9 0h2.1m3.6 0.1h2.1m5.9 0h2.1m22.1 0h2.1m3.9 0.2h2.1m-34.1 0.1h2.1m-19.5 0h2.1m10.9 0.1h2.1m-10.9 0.1h2.1m15.2 0.1h2.1m-22.1 0.1h2.1m-4 0.1h2.1m20.6 0.1h2.1m-13 0h2.1m-15.4 0.1h2.1m-6.6 0h2.1m48.1 0.1h2.1m-46.3 0h2.1m11.9 0.1h2.1m-12.2 0h2.1m1.3 0.1h2.1m-14.9 0h2.1m4.2 0h2.1m11.6 0.1h2.1m-13.5 0h2.1m2 0.1h2.1m13.5 0h2.1m-21.9 0h2.1m13 0.1h2.1m-8.6 0h2.1m-8.9 0h2.1m10.3 0.1h2.1m-16.5 0h2.1m15.6 0.1h2.1m-6.1 0h2.1m-21.9 0h2.1m-3 0.1h2.1m22.3 0h2.1m-23.3 0h2.1m15 0.1h2.1m-12.7 0h2.1m35.1 0.1h2.1m-35.8 0.1h2.1m-16.9 0.1h2.1m22.3 0h2.1m-25.5 0.2h2.1m-0.3 0h2.1m19.6 0h2.1m-24.5 0.1h2.1m19.2 0h2.1m0.5 0.1h2.1m-16.8 0h2.1m35 0h2.1m-42.9 0.1h2.1m9.7 0h2.1m1.1 0h2.1m-23.9 0h2.1m2.8 0.1h2.1m13 0h2.1m-1.7 0h2.1m-23.5 0h2.1m16.6 0.1h2.1m1.1 0.1h2.1m-4.4 0h2.1m1.5 0.1h2.1m-20.9 0.1h2.1m3.8 0h2.1m41.3 0.1h2.1m-34.8 0h2.1m28.6 0h2.1m-51.4 0.1h2.1m20.1 0h2.1m-6.9 0h2.1m2.4 0.1h2.1m-10.3 0h2.1m-8.2 0.1h2.1m-1.4 0.1h2.1m4.3 0h2.1m-3.5 0.1h2.1m3.5 0.2h2.1m-8.1 0.1h2.1m-2.4 0.1h2.1m-9.3 0h2.1m44.2 0.1h2.1m-56.1 0.1h2.1m23 0h2.1m21.7 0h2.1m-37.3 0h2.1m8.3 0h2.1m-4.7 0h2.1m-0.9 0.1h2.1m23.9 0h2.1m-22.5 0.1h2.1m-6.7 0.1h2.1m30 0h2.1m-53.9 0h2.1m10.3 0.1h2.1m-2.2 0h2.1m-16.7 0h2.1m24.1 0h2.1m23.3 0.1h2.1m-42.2 0.1h2.1m10.8 0h2.1m-9.9 0.2h2.1m-9.6 0h2.1m14.1 0.1h2.1m-28.8 0h2.1m17.2 0h2.1m-8.1 0h2.1m43.8 0.1h2.1m-36 0h2.1m-13.5 0.1h2.1m10.6 0h2.1m20.2 0h2.1m-29.7 0.1h2.1m0.5 0.1h2.1m-9.9 0h2.1m-6.2 0.1h2.1m-6.7 0h2.1m12.9 0h2.1m-10 0h2.1m-0.5 0.1h2.1m9.3 0h2.1m-11.1 0.1h2.1m0.3 0h2.1m-14 0h2.1m48.2 0.2h2.1m-55.7 0h2.1m11.8 0h2.1m26.6 0.1h2.1m-1 0.1h2.1m-26.4 0h2.1m-15.4 0.1h2.1m5.5 0.1h2.1m6 0h2.1m-21 0.1h2.1m6.6 0.1h2.1m-4.9 0h2.1m-1.7 0h2.1m-15.2 0h2.1m-3 0h2.1m15.9 0.1h2.1m-4.7 0h2.1m4.1 0.1h2.1m3.6 0h2.1m-28.1 0.1h2.1m52.9 0h2.1m-57.7 0h2.1m0.3 0h2.1m6.9 0.1h2.1m10.3 0h2.1m-24.8 0.1h2.1m12 0.1h2.1m-13.7 0h2.1m-1.7 0.1h2.1m50.5 0h2.1m-54.2 0h2.1m18.1 0h2.1m-25.6 0h2.1m4.3 0.2h2.1m14.8 0.1h2.1m-3.2 0h2.1m-14.3 0.1h2.1m-3.2 0h2.1m-9.1 0h2.1m18.7 0.1h2.1m-3.2 0.1h2.1m-22.6 0h2.1m21.3 0h2.1m-9.8 0.1h2.1m-19.4 0h2.1m4.5 0h2.1m3.6 0.1h2.1m-5.4 0h2.1m-12.7 0.1h2.1m8 0h2.1m-8.3 0.1h2.1m43.1 0.1h2.1m-50.5 0.1h2.1m8.9 0h2.1m-9.2 0.1h2.1m-2.3 0h2.1m19.6 0.1h2.1m-17.5 0h2.1m-1 0h2.1m-11.8 0.1h2.1m44 0.1h2.1m-50.6 0h2.1m54.9 0.1h2.1m-50.7 0h2.1m-0.5 0h2.1m-6.8 0.2h2.1m-0 0.1h2.1m-0.8 0h2.1m-0.4 0h2.1m10.7 0.1h2.1m-5.8 0h2.1m-3.6 0h2.1m-19.4 0.1h2.1m1.9 0h2.1m1.6 0h2.1m-7.5 0h2.1m43.8 0.1h2.1m-31.3 0h2.1m-8.2 0h2.1m5.4 0.1h2.1m32.3 0h2.1m-29.6 0h2.1m-10.4 0.2h2.1m-3.4 0h2.1m3.5 0h2.1m-26.5 0h2.1m23 0.1h2.1m-17.6 0h2.1m5.6 0h2.1m5.5 0h2.1m25.8 0.1h2.1m-27.7 0h2.1m-1.4 0h2.1m-21.7 0h2.1m12.6 0.1h2.1m28.9 0.1h2.1m-39.2 0.1h2.1m0.5 0h2.1m33.9 0h2.1m-33.1 0h2.1m-4.5 0.1h2.1m-23.9 0h2.1m55 0h2.1m-47.2 0h2.1m-2.6 0.1h2.1m36.2 0h2.1m-24 0h2.1m-16.2 0.1h2.1m4.9 0h2.1m-22 0h2.1m16 0h2.1m-21.7 0.1h2.1m17.9 0h2.1m-7.7 0h2.1m31.7 0.1h2.1m-25 0h2.1m23.1 0h2.1m-36.6 0h2.1m-10.5 0.1h2.1m-4.9 0.2h2.1m21.2 0.1h2.1m-14.3 0h2.1m-0.3 0h2.1m-9.9 0h2.1m47.3 0.1h2.1m-55.6 0h2.1m3.3 0h2.1m5.4 0h2.1m-8.6 0.1h2.1m-11.4 0h2.1m19.4 0.1h2.1m-20.5 0h2.1m10 0.1h2.1m-8.3 0.1h2.1m-11.9 0.1h2.1m17.5 0.1h2.1m25.8 0.1h2.1m-45.7 0.1h2.1m-2 0h2.1m10.9 0.1h2.1m1 0h2.1m-4.7 0.2h2.1m5.1 0h2.1m-2.6 0h2.1m21.9 0h2.1m-45.3 0.1h2.1m41.7 0h2.1m-24.3 0h2.1m-14.7 0.1h2.1m-14.8 0h2.1m10.6 0.1h2.1m7.2 0h2.1m28 0.1h2.1m-45.2 0.2h2.1m9.3 0h2.1m-13.4 0.1h2.1m-8.7 0h2.1m42.9 0.1h2.1m-48.1 0h2.1m51.4 0h2.1m-32.9 0h2.1m-4.2 0.1h2.1m-17.7 0h2.1m-3.3 0h2.1m0.3 0h2.1m-6.9 0.1h2.1m3.3 0h2.1m0.7 0.1h2.1m9.5 0.1h2.1m-2.2 0h2.1m-7.3 0h2.1m-20.6 0h2.1m14.8 0.1h2.1m4.2 0h2.1m-8.1 0h2.1m1.3 0h2.1m-24 0h2.1m8 0.1h2.1m-0.1 0h2.1m42 0h2.1m-58.7 0.1h2.1m-1.8 0h2.1m0.1 0h2.1m3.6 0.1h2.1m17.2 0.1h2.1m-5.5 0h2.1m-8.6 0.1h2.1m-12.5 0h2.1m-8.4 0h2.1m18.2 0.1h2.1m0.3 0h2.1m-22.7 0h2.1m0.7 0h2.1m18.5 0h2.1m-25.9 0h2.1m-3.4 0.1h2.1m20.9 0.1h2.1m-6.6 0h2.1m-6.2 0h2.1m2.3 0.1h2.1m5.6 0h2.1m-18.3 0.1h2.1m7.4 0.1h2.1m-11.9 0h2.1m5.5 0.1h2.1m1.3 0h2.1m23.7 0h2.1m-39.9 0.1h2.1m-7.8 0h2.1m18.3 0.1h2.1m-24.9 0h2.1m8.8 0h2.1m9.2 0h2.1m-3.4 0.1h2.1m-25.4 0h2.1m14.5 0.1h2.1m6.4 0h2.1m-12.4 0h2.1m4.3 0.1h2.1m-8 0h2.1m-3.8 0h2.1m9.4 0.1h2.1m-9.5 0.1h2.1m-6.9 0h2.1m-11.1 0.1h2.1m-3.9 0h2.1m-2.1 0h2.1m9.3 0.1h2.1m-1.6 0h2.1m-2.1 0h2.1m-11.8 0.1h2.1m14.2 0.1h2.1m-10.6 0.1h2.1m42.5 0h2.1m-5 0.1h2.1m-43.4 0.1h2.1m5.1 0h2.1m-10.3 0h2.1m9.9 0h2.1m-15.2 0h2.1m5.6 0h2.1m-20.6 0.1h2.1m10.5 0.1h2.1m-4.3 0h2.1m6.4 0h2.1m-6.3 0.1h2.1m11.7 0h2.1m-5.9 0h2.1m-1.7 0.1h2.1m0.7 0h2.1m-17.5 0.1h2.1m11.5 0h2.1m-22 0h2.1m-0.5 0h2.1m-6.4 0.1h2.1m-4.9 0h2.1m23.2 0.1h2.1m-23.7 0h2.1m17.5 0h2.1m-24.4 0.1h2.1m6.4 0.1h2.1m10.7 0.1h2.1m-19.2 0h2.1m20 0h2.1m-25.1 0h2.1m6.1 0.1h2.1m38 0.1h2.1m-54.6 0h2.1m13.9 0.1h2.1m5.3 0h2.1m33.1 0h2.1m-57.9 0.1h2.1m18 0.1h2.1m-8.5 0.1h2.1m-11.2 0.1h2.1m-2 0h2.1m-2.9 0h2.1m13.1 0h2.1m-14.1 0.1h2.1m4.2 0h2.1m-6.5 0h2.1m8.9 0.1h2.1m-18.8 0.1h2.1m-8.4 0h2.1m6.7 0h2.1m11.3 0h2.1m-11.4 0h2.1m-3.3 0.1h2.1m-13.3 0h2.1m19.6 0.1h2.1m-17.2 0h2.1m4.7 0.1h2.1m4.2 0h2.1m27 0h2.1m-24.8 0.1h2.1m-6.4 0h2.1m-21.7 0.1h2.1m-0.9 0.1h2.1m3.5 0h2.1m12.6 0h2.1m-6.6 0.1h2.1m1.8 0.1h2.1m27.6 0.1h2.1m-49.2 0h2.1m17.6 0h2.1m-22.2 0h2.1m13.6 0.1h2.1m-14.8 0.1h2.1m-7 0.2h2.1m-5.7 0h2.1m19.2 0.1h2.1m-9.6 0h2.1m7 0h2.1m-5.5 0h2.1m0.3 0.1h2.1m-13.1 0h2.1m7.3 0.1h2.1m-1.8 0h2.1m-17.9 0.1h2.1m16.3 0h2.1m-2.4 0h2.1m-15.2 0.2h2.1m8.7 0h2.1m-17.2 0.1h2.1m14.7 0h2.1m30.2 0h2.1m-35.6 0.1h2.1m-3.6 0h2.1m-11.3 0h2.1m6.4 0.2h2.1m-6.3 0.1h2.1m-16.9 0h2.1m11.9 0.1h2.1m-8.6 0h2.1m-7.4 0h2.1m16.7 0h2.1m-0.8 0.1h2.1m-15.6 0h2.1m-9.1 0.1h2.1m2 0h2.1m49.1 0h2.1m-59 0h2.1m24.3 0h2.1m21.4 0h2.1m-41.8 0.2h2.1m14.4 0h2.1m-25.8 0h2.1m53.4 0.1h2.1m-58.4 0.1h2.1m6.6 0h2.1m1.7 0.1h2.1m-1.1 0h2.1m-7.2 0h2.1m4.1 0.1h2.1m-13.5 0h2.1m8.9 0h2.1m-17.2 0.2h2.1m5.2 0h2.1m44.9 0.2h2.1m-39.5 0h2.1m37.8 0.1h2.1m-43 0h2.1m6.7 0.1h2.1m-28 0h2.1m5.8 0.1h2.1m14.8 0h2.1m-24.8 0h2.1m-4.6 0.1h2.1m7.4 0h2.1m-6.9 0.1h2.1m13.9 0h2.1m-2.9 0h2.1m-17.7 0.1h2.1m18.2 0.1h2.1m-13.6 0h2.1m-4.6 0.1h2.1m14.1 0h2.1m-3 0h2.1m-27.9 0.3h2.1m22.2 0h2.1m-7 0.1h2.1m1 0.2h2.1m-12.1 0h2.1m-8.6 0.2h2.1m7.8 0h2.1m9.3 0h2.1m-15 0.1h2.1m32.1 0.2h2.1m-40 0h2.1m-0.6 0h2.1m-9.1 0.1h2.1m-4.3 0h2.1m13.6 0.1h2.1m5.5 0h2.1m-19.1 0h2.1m-2 0.1h2.1m-12.1 0h2.1m3.7 0h2.1m44.3 0h2.1m-52.2 0h2.1m18.4 0.1h2.1m-21.3 0.1h2.1m-3.6 0h2.1m1.2 0h2.1m7.1 0h2.1m-5.7 0h2.1m-3.9 0h2.1m9.5 0h2.1m-8.7 0.1h2.1m-14.4 0h2.1m23.8 0.2h2.1m-23.4 0h2.1m19.7 0.2h2.1m-29.5 0h2.1m23.7 0h2.1m-3.8 0h2.1m-1.3 0.1h2.1m-17.3 0h2.1m8.1 0.2h2.1m-9 0.1h2.1m0.9 0.1h2.1m-10.7 0h2.1m16.8 0.1h2.1m-11.8 0.1h2.1m-11.4 0h2.1m-8.6 0.1h2.1m3.6 0h2.1m1.9 0h2.1m-6.3 0h2.1m4.3 0.1h2.1m2.1 0h2.1m-13.4 0h2.1m16.5 0h2.1m-25.5 0h2.1m19.6 0.1h2.1m0.9 0.2h2.1m-0.6 0.1h2.1m-24.4 0h2.1m12.7 0h2.1m-12.5 0.1h2.1m-11.1 0.1h2.1m6.6 0.1h2.1m-10.3 0h2.1m4.8 0h2.1m8.8 0h2.1m-21.3 0.1h2.1m16.4 0.1h2.1m-1.3 0.1h2.1m-18.5 0.1h2.1m10.5 0.3h2.1m-14.5 0.1h2.1m-2.1 0h2.1m10.1 0.1h2.1m-8.2 0h2.1m0.9 0h2.1m3.8 0.1h2.1m-15.2 0h2.1m0.3 0.1h2.1m8 0.2h2.1m33.7 0h2.1m-39.8 0h2.1m-7.3 0.1h2.1m13.8 0.1h2.1m-3 0.1h2.1m-26.2 0h2.1m44.5 0h2.1m-45 0.1h2.1m40.9 0h2.1m-21.7 0h2.1m-30.3 0.2h2.1m49 0h2.1m-39.6 0.2h2.1m39.7 0.1h2.1m-35 0.1h2.1m0.6 0h2.1m-18.4 0.1h2.1m-8.5 0h2.1m8.7 0.1h2.1m7 0.1h2.1m-13.8 0.1h2.1m-0.1 0h2.1m12.6 0h2.1m-6.4 0h2.1m2.5 0.2h2.1m22.8 0h2.1m-50.9 0.1h2.1m1.7 0h2.1m12.7 0.1h2.1m-4.7 0h2.1m-3.3 0.2h2.1m-11.3 0.1h2.1m-1.3 0.1h2.1m14.2 0h2.1m-24.5 0h2.1m5.6 0h2.1m-3 0.1h2.1m42 0.1h2.1m-55.8 0.1h2.1m3 0.1h2.1m-8.9 0.1h2.1m18.8 0h2.1m32.7 0.1h2.1m-54.2 0h2.1m-3.5 0.1h2.1m54.9 0h2.1m-41.2 0.2h2.1m-16.3 0h2.1m4.6 0.3h2.1m0.3 0.1h2.1m-5.4 0h2.1m-12.5 0h2.1m22.2 0h2.1m-15.1 0.2h2.1m-10.6 0h2.1m-5.9 0.1h2.1m1.3 0.4h2.1m11 0h2.1m1.5 0.2h2.1m6.2 0h2.1m-13.3 0.2h2.1m-2.2 0.1h2.1m-12.7 0.2h2.1m2.6 0.1h2.1m13.7 0.2h2.1m-26.1 0.1h2.1m54.5 0.1h2.1m-49.3 0.1h2.1m36.2 0.1h2.1m-40.5 0h2.1m-2.8 0.3h2.1m-3.4 0.1h2.1m7 0.1h2.1m6.3 0h2.1m-7.4 0h2.1m-22.5 0.5h2.1m9.6 0.3h2.1m5.2 0.1h2.1m-22 0.1h2.1m23.2 0.2h2.1m-0.5 0.1h2.1m-6.9 0.2h2.1m-17.6 0.2h2.1m16.9 0.2h2.1m-28.1 0.2h2.1m13.5 0.3h2.1m6.2 0.1h2.1m-4.5 0h2.1m3.4 0.2h2.1m-21.6 0.2h2.1m16.1 0.2h2.1m-24.7 0h2.1m45.5 0.1h2.1m-34.7 0h2.1m38.1 0.4h2.1m-33.2 0.1h2.1m-17.8 0.2h2.1m-10.1 0.1h2.1m6.8 0.1h2.1m2.2 0.1h2.1m8.7 0h2.1m-29.3 0h2.1m16.5 0.1h2.1m-16.9 0.2h2.1m14.4 0.2h2.1m-20 0.1h2.1m14.5 0h2.1m-7.5 0.3h2.1m-8.1 0h2.1m4.3 0.8h2.1m-13.7 0h2.1m19.4 0.6h2.1m-19 0.1h2.1m9 0.2h2.1m-14.9 0.4h2.1m4.8 0.3h2.1m-9.2 0.3h2.1m7.4 0.9h2.1m5.1 1h2.1m-12.2 0.3h2.1m-6.5 0.8h2.1m11.6 0.7h2.1m-22.4 0.1h2.1m-0.2 0.6h2.1m22.7 0h2.1m-3.9 0.7h2.1m20 1.4h2.1m-26.3 0.1h2.1m1.1 0.5h2.1m-5.2 0.4h2.1m-22.7 0.3h2.1m5 0.2h2.1m7.4 1.5h2.1m-6.3 1h2.1m-2.7 0.2h2.1m-18.1 0.2h2.1m25.5 1.1h2.1m28.6 0.6h2.1m-35.8 0.3h2.1m-2.4 4.7h2.1m26.2 2.5h2.1m-48.7 1h2.1m-0.9 243.8h2.1m12.7 2h2.1m-10.1 0.6h2.1m30.9 15.3h2.1m2.9 4.1h2.1m-0.7 8.1h2.1m-55.6 1.9h2.1m52.9 2.2h2.1m-38.9 2h2.1m-12.1 0.8h2.1m39.9 1.3h2.1m-3.4 1.7h2.1m-33.7 13.1h2.1m-10.5 3h2.1m5 19.8h2.1m-16.1 3h2.1m4.8 2.6h2.1m9.5 4.5h2.1m29.8 1.4h2.1m-48.8 3.7h2.1m6.6 5.7h2.1m-14.1 0.5h2.1m-1.8 0.7h2.1m97.6-1709.3h2.1m-29.5 2.7h2.1m-2.1 4.1h2.1m13.6 5.1h2.1m-28.4 2.2h2.1m22.2 0.6h2.1m9 0.4h2.1m-32.5 1.1h2.1m10.3 1.1h2.1m5.2 0.1h2.1m-8 0.4h2.1m20.6 1.3h2.1m3.9 0.4h2.1m-20 0.1h2.1m-35 2.6h2.1m13.1 1h2.1m-4 0.4h2.1m31.8 1h2.1m-26.3 4.7h2.1m26.5 1.4h2.1m-11.1 0.1h2.1m8.2 0.6h2.1m-43.9 0.1h2.1m31.2 1.3h2.1m6.9 1.1h2.1m-54.4 0.2h2.1m16.3 0.5h2.1m-13.8 0h2.1m34.7 0.1h2.1m-9.8 0.1h2.1m-23.4 2.4h2.1m39 2h2.1m-46.6 0.9h2.1m-7 0.1h2.1m21.1 2.1h2.1m0 0.2h2.1m-6.5 1.1h2.1m16.8 0.3h2.1m-18.5 0.8h2.1m-5.7 1.2h2.1m-17.8 0.7h2.1m-12.7 0.1h2.1m33.2 0.1h2.1m11.3 0h2.1m-3.3 0.2h2.1m-1.8 0h2.1m-51.8 1h2.1m36.2 0.5h2.1m16.7 1.4h2.1m-21.6 0.2h2.1m-36 0.3h2.1m39.8 0.3h2.1m3.3 0.4h2.1m-21 0.6h2.1m-21.7 0h2.1m-14.2 0.1h2.1m20.8 0.7h2.1m-3.4 1h2.1m4.1 1.1h2.1m-28.9 0.2h2.1m46 0.4h2.1m-38.4 0h2.1m-2.7 0.1h2.1m8.8 0.2h2.1m32.1 0.2h2.1m-51.2 0h2.1m37.2 0.3h2.1m-21.8 0.1h2.1m-7.1 1h2.1m-9.6 0h2.1m-5.5 0.1h2.1m41.6 0.1h2.1m-10.2 0.3h2.1m5.9 0.1h2.1m-21.1 0.2h2.1m-20.5 0.2h2.1m-13.7 0.3h2.1m26.4 0.2h2.1m5 0h2.1m-44.3 0.2h2.1m54.9 0.5h2.1m-45.6 0.4h2.1m25.9 0.5h2.1m-34.2 0h2.1m24.9 0.1h2.1m-17 0.1h2.1m14.8 0.8h2.1m-36.2 0.1h2.1m18.4 0.1h2.1m17.2 0.2h2.1m0.1 0.2h2.1m-42.9 0h2.1m42.8 0.2h2.1m-10.1 0.5h2.1m-43.3 0.5h2.1m42.2 0.2h2.1m-47.4 0.2h2.1m-0.3 0.6h2.1m24.7 0.2h2.1m3.1 0h2.1m-33.2 0.4h2.1m33.6 0.2h2.1m-24.6 0.5h2.1m36.7 0.1h2.1m-22 0.7h2.1m-8.6 0.4h2.1m-8.2 0.2h2.1m26.3 0.2h2.1m-41.7 0.1h2.1m20.8 0.2h2.1m0.8 0.2h2.1m-14.7 0.6h2.1m31.7 0.2h2.1m-55.8 0.4h2.1m29.2 0.7h2.1m-19 0.2h2.1m1.5 0h2.1m-2.5 0.1h2.1m2.1 0.1h2.1m10.3 0.2h2.1m-17.8 0.2h2.1m-2.7 0.3h2.1m-11.3 0h2.1m42.2 0.1h2.1m-40.2 0.4h2.1m0.1 0h2.1m-23.2 0.2h2.1m18.2 0.1h2.1m-15.3 0h2.1m6 0h2.1m-7 0h2.1m40.1 0.1h2.1m-17.9 0h2.1m-7.5 0.2h2.1m3.7 0h2.1m17.6 0.5h2.1m-10.7 0.4h2.1m-16.3 0h2.1m-6.2 0.4h2.1m9.4 0h2.1m-38.6 0.3h2.1m30.6 0.2h2.1m-6.1 0.2h2.1m-13 0h2.1m21 0.1h2.1m6.1 0.5h2.1m-27.9 0.6h2.1m16.4 0.2h2.1m5.6 0.3h2.1m-17.9 0.2h2.1m-1.8 0.1h2.1m13.1 0.2h2.1m-27.6 0h2.1m-28.6 0h2.1m28.6 0.8h2.1m-3.9 0h2.1m-5.7 0.3h2.1m15.4 0.1h2.1m-34.4 0.2h2.1m38.2 0.3h2.1m-32.3 0.1h2.1m-4.6 0h2.1m-10.9 0.3h2.1m18 0.4h2.1m-12.8 0.2h2.1m1.3 0.1h2.1m-21.8 0.5h2.1m1.1 0.7h2.1m36.1 0.1h2.1m-32.4 0.3h2.1m24.2 0.1h2.1m6.9 0.3h2.1m-34.9 0.1h2.1m26.8 0h2.1m-45.1 0.6h2.1m36.7 0.4h2.1m-21.9 1h2.1m26.6 0.2h2.1m-38.5 0.1h2.1m9.2 0.2h2.1m28.6 0.4h2.1m-39.5 0h2.1m-20.8 0.2h2.1m44.4 0.2h2.1m-34.2 0.2h2.1m-18.3 0.3h2.1m40.9 0.2h2.1m-3.5 0h2.1m-34.9 0.3h2.1m22 0.1h2.1m1.7 0.1h2.1m0.7 0h2.1m-14.4 0.4h2.1m-15.8 0.2h2.1m-12 0.4h2.1m25 0.4h2.1m-29.2 0.2h2.1m11.3 0h2.1m31.7 0.2h2.1m-1.3 0.1h2.1m-38.7 0.2h2.1m-3.4 0h2.1m-15 0.1h2.1m29.3 0h2.1m0.9 0.1h2.1m1.5 0.2h2.1m-17.7 0.2h2.1m24.4 0.2h2.1m-36.7 0.1h2.1m-12.1 0.1h2.1m30.5 0.2h2.1m13.4 0h2.1m-20.1 0.4h2.1m-32.8 0.1h2.1m31.1 0h2.1m-33.2 0.1h2.1m-8.8 0.1h2.1m47.3 0.2h2.1m-8.9 0.3h2.1m-2.2 0.2h2.1m5.8 0.3h2.1m-36.3 0.1h2.1m4.2 0.2h2.1m4.3 0.3h2.1m2.7 0.1h2.1m7.1 0.3h2.1m-27.7 0.3h2.1m-3.6 0.1h2.1m19.6 0.2h2.1m-11.2 0h2.1m-17.2 0.9h2.1m25.2 0.1h2.1m-15.6 0h2.1m22.8 0.1h2.1m2 0h2.1m-12.5 0h2.1m5.2 0.1h2.1m-34.3 0h2.1m-11.6 0.4h2.1m29.9 0h2.1m-22.1 0.3h2.1m-17.2 0h2.1m4.7 0h2.1m-11.2 0h2.1m17.7 0.1h2.1m-2.9 0h2.1m-5.8 1h2.1m6.9 0.3h2.1m-12.1 0.2h2.1m18.3 0h2.1m-41.1 0.1h2.1m28 0h2.1m-25.8 0.1h2.1m48 0.1h2.1m-18.4 0.3h2.1m-30.2 0h2.1m23.7 0.1h2.1m-19.8 0h2.1m-13.5 0.2h2.1m-9.1 0.2h2.1m43.9 0.1h2.1m-33.6 0.3h2.1m34.5 0.3h2.1m1 0.1h2.1m-50.4 0.1h2.1m27.7 0.1h2.1m-9.9 0.3h2.1m-18.2 0.1h2.1m25.1 0.3h2.1m13.5 0.1h2.1m-33.7 0.1h2.1m-8.2 0.3h2.1m-4.3 0.1h2.1m-17.4 0h2.1m7.2 0.1h2.1m1.7 0.2h2.1m17 0.1h2.1m16.5 0.1h2.1m-20.5 0.1h2.1m4.9 0.3h2.1m-8 0.2h2.1m-22.6 0.2h2.1m16.8 0h2.1m-17 0.3h2.1m10.6 0.1h2.1m-11.5 0h2.1m-16.1 0.1h2.1m36.8 0.1h2.1m-5.4 0.1h2.1m-33.5 0.2h2.1m41.6 0.1h2.1m-40.8 0.1h2.1m-10.5 0.3h2.1m44.2 0.3h2.1m-30.6 0h2.1m-26.1 0h2.1m34.3 0.2h2.1m4.9 0.6h2.1m-33.9 0.1h2.1m9.8 0.1h2.1m15.2 0h2.1m-42.1 0.2h2.1m11.2 0.1h2.1m6.4 0h2.1m22.5 0h2.1m-17.4 0.3h2.1m-35.1 0h2.1m30.4 0.3h2.1m-26.1 0.5h2.1m25.5 0.3h2.1m5.7 0.2h2.1m-2.9 0.1h2.1m-23.3 0h2.1m-5.3 0.3h2.1m26 0.1h2.1m-39.9 0h2.1m11.1 0h2.1m-20.1 0.3h2.1m32.3 0.3h2.1m-22.4 0.1h2.1m28.3 0.2h2.1m-32.8 0h2.1m-14.2 0.1h2.1m39.8 0.2h2.1m-48.6 0h2.1m32.8 0.1h2.1m-11.5 0.3h2.1m-6.6 0.1h2.1m-23.5 0.3h2.1m40 0.3h2.1m6.6 0.1h2.1m-41.9 0.1h2.1m38.3 0.1h2.1m-29.3 0.1h2.1m26.3 0h2.1m-14.5 0.1h2.1m-23 0.6h2.1m-24.1 0.1h2.1m52.5 0.1h2.1m-23.8 0.1h2.1m17.9 0h2.1m-19.5 0.1h2.1m-15.2 0.1h2.1m-5.1 0h2.1m-12 0.2h2.1m3 0.1h2.1m13.3 0.2h2.1m13.2 0h2.1m-6.4 0.3h2.1m-31.3 0.2h2.1m4.9 0h2.1m-7.5 0h2.1m12.8 0.1h2.1m23.8 0h2.1m0.6 0.1h2.1m-4.5 0.1h2.1m-4.2 0.2h2.1m-12.6 0h2.1m9.3 0.1h2.1m-3.6 0.3h2.1m-24.6 0h2.1m-17.2 0.1h2.1m33.6 0.2h2.1m-28.6 0.1h2.1m-9.5 0.1h2.1m-15.4 0h2.1m43.2 0.3h2.1m-49.6 0.1h2.1m19.4 0h2.1m30.8 0.2h2.1m-19.1 0.1h2.1m-25.9 0h2.1m9.3 0.3h2.1m29.6 0.1h2.1m-27 0.1h2.1m-27.6 0.7h2.1m38.5 0h2.1m-4.8 0h2.1m-12.8 1h2.1m11.5 0h2.1m-28.6 0.2h2.1m7.6 0.1h2.1m18.3 0.5h2.1m-51 0h2.1m29.7 0h2.1m-23.8 0.3h2.1m36.7 0.3h2.1m-29.7 0h2.1m16.2 0.1h2.1m-39.1 0.3h2.1m26.9 0.2h2.1m4.6 0h2.1m-14.5 0.2h2.1m4.6 0h2.1m-26.7 0.3h2.1m24.9 0.1h2.1m-22.2 0h2.1m32 0.2h2.1m-4 0.1h2.1m2.9 0.3h2.1m-28.4 0.2h2.1m-30 0.3h2.1m12.5 0h2.1m39.4 0.2h2.1m-38.2 0.1h2.1m-22.3 0.1h2.1m30.6 0.1h2.1m-24.5 0.1h2.1m5.1 0h2.1m-14.3 0h2.1m-4.2 0h2.1m34.4 0h2.1m-21.9 0.3h2.1m13.5 0h2.1m-31.6 0.2h2.1m5 0.1h2.1m19 0.3h2.1m8.2 0.1h2.1m-36.8 0h2.1m11.7 0.1h2.1m25.4 0.1h2.1m-34.7 0h2.1m-6 0.1h2.1m3.2 0.1h2.1m19.7 0h2.1m2.9 0.1h2.1m-28 0.2h2.1m34.3 0h2.1m-3.2 0.1h2.1m-2.9 0.3h2.1m-52.7 0.1h2.1m-0.9 0.3h2.1m17.7 0.5h2.1m12.1 0.2h2.1m-14.8 0.1h2.1m2 0.1h2.1m5.5 0.1h2.1m-16.3 0.5h2.1m-6.4 0.1h2.1m5.4 0.2h2.1m-24.2 0.3h2.1m27.6 0.1h2.1m-1.1 0.3h2.1m-26 0.2h2.1m-7.5 0h2.1m20.4 0h2.1m19.5 0h2.1m-42.3 0.1h2.1m-12.2 0h2.1m4 0.1h2.1m-9 0.1h2.1m50.9 0.1h2.1m-48.3 0.4h2.1m12.8 0.3h2.1m-23.9 0h2.1m16.5 0h2.1m9.1 0.1h2.1m-10.5 0h2.1m-1.8 0h2.1m17.7 0.1h2.1m-18.5 0h2.1m-12.6 0.1h2.1m25.3 0.1h2.1m-45 0.2h2.1m28.7 0.2h2.1m-0.4 0.1h2.1m9.6 0h2.1m-32.4 0.3h2.1m4.8 0.2h2.1m-3 0.4h2.1m-19.3 0.1h2.1m7.9 0h2.1m-11.9 0.1h2.1m46.2 0h2.1m-43.3 0.1h2.1m7.4 0.1h2.1m-4.3 0.1h2.1m25 0.1h2.1m-3 0.3h2.1m-8.3 0.1h2.1m-2.1 0.2h2.1m-12.9 0.1h2.1m24.8 0.4h2.1m-38 0.1h2.1m-7.9 0.2h2.1m21.6 0h2.1m16 0.3h2.1m-32.8 0.2h2.1m20 0h2.1m3.6 0.1h2.1m-11.7 0.1h2.1m13.6 0h2.1m-8.2 0h2.1m-2 0.1h2.1m-28.5 0h2.1m10.5 0.1h2.1m-28 0h2.1m1.1 0h2.1m26.8 0.2h2.1m-24 0.1h2.1m30 0.3h2.1m-44.8 0.3h2.1m2.8 0.1h2.1m-3.4 0h2.1m0.7 0.3h2.1m-12.4 0h2.1m14.3 0.3h2.1m-24.1 0.1h2.1m12.7 0.1h2.1m21 0h2.1m2.1 0.3h2.1m5.3 0h2.1m-51.5 0.7h2.1m10.7 0.5h2.1m29.6 0h2.1m7.2 0h2.1m-23.2 0h2.1m-9.8 0.1h2.1m14.7 0.3h2.1m-17.6 0.1h2.1m-12.2 0.1h2.1m16.8 0.2h2.1m-21.6 0.3h2.1m14.2 0h2.1m14.7 0.1h2.1m-22.8 0h2.1m-10.7 0.1h2.1m19.4 0.2h2.1m-30.6 0.1h2.1m15.3 0.3h2.1m9 0.3h2.1m-11.2 0h2.1m10.5 0.2h2.1m0.6 0.1h2.1m-0.4 0h2.1m-37.5 0.1h2.1m15.4 0.2h2.1m-1.8 0.1h2.1m8.6 0.1h2.1m-34.9 0.1h2.1m32 0.4h2.1m-20.6 0.3h2.1m2.9 0.1h2.1m-16 0.6h2.1m11 0.1h2.1m13.9 0.1h2.1m-10.7 0.1h2.1m-7.1 0.1h2.1m19.5 0h2.1m-13.2 0.2h2.1m-1.6 0h2.1m5.1 0.3h2.1m-26.8 0h2.1m-25.6 0h2.1m45.9 0.4h2.1m-17.5 0h2.1m-7.3 0.3h2.1m3.7 0.4h2.1m18.1 0.1h2.1m-11.1 0.1h2.1m-1.3 0.1h2.1m-48.1 0.1h2.1m9.8 0h2.1m4.7 0h2.1m-1.6 0.2h2.1m21.1 0h2.1m-0.5 0.3h2.1m-7.7 0.1h2.1m-37.6 0.2h2.1m20.6 0h2.1m-21.8 0.1h2.1m3.1 0.2h2.1m-13.2 0h2.1m-0.6 0.1h2.1m23.1 0.1h2.1m-23.5 0.7h2.1m3.3 0.1h2.1m25.7 0h2.1m-1.1 0.3h2.1m-43.1 0h2.1m37.7 0.1h2.1m-17 0h2.1m3.6 0.3h2.1m-15.7 0.1h2.1m23.4 0.1h2.1m-28.7 0.2h2.1m26.1 0h2.1m-24.6 0h2.1m33.5 0.2h2.1m-4.4 0.1h2.1m-38.2 0.2h2.1m-11.8 0.2h2.1m45.4 0.1h2.1m-9.3 0.1h2.1m-46 0h2.1m-6 0.1h2.1m13.7 0.1h2.1m-11.8 0.1h2.1m10.5 0.3h2.1m-7.1 0h2.1m2.1 0.1h2.1m-3.7 0.6h2.1m28.4 0.3h2.1m-22.7 0h2.1m23.9 0.2h2.1m-16.9 0.1h2.1m-20.8 0.6h2.1m-15.1 0h2.1m47.4 0h2.1m-40 0.1h2.1m21.8 0.3h2.1m-22.6 0.2h2.1m27.7 0h2.1m-39.9 0h2.1m10.5 0h2.1m-10.5 0.2h2.1m28.3 0.1h2.1m5.5 0.6h2.1m-12.4 0.2h2.1m-4.1 0.5h2.1m-21.4 0.2h2.1m-1.7 0.5h2.1m3.7 0.5h2.1m-18.3 0.1h2.1m-2.8 0h2.1m40.5 0.2h2.1m-56.3 0.4h2.1m30.4 0h2.1m-1 0.2h2.1m14.8 0.3h2.1m-7.6 0.1h2.1m-41.5 0.9h2.1m3 0h2.1m-3.5 1h2.1m1.9 0.1h2.1m-7.4 0.3h2.1m21.7 0.1h2.1m-14.7 0.2h2.1m25.2 0h2.1m-13 0h2.1m-20 0h2.1m-3.2 0h2.1m31.6 0.1h2.1m-15.4 0.1h2.1m-5 0.3h2.1m-3.2 0.1h2.1m-34.2 0.4h2.1m5.6 0h2.1m14.8 0h2.1m-26.1 0.2h2.1m18.1 0.4h2.1m-21.1 0h2.1m49.7 0h2.1m-14.1 0.3h2.1m-34.5 0h2.1m7.1 0.2h2.1m22.5 0h2.1m3.5 0h2.1m-29.7 0.2h2.1m4.3 0h2.1m-22.5 0.1h2.1m20.7 0h2.1m-9.4 0.2h2.1m-6.2 0.4h2.1m20.9 0.1h2.1m-40.2 0.2h2.1m34.5 0.2h2.1m9.8 0.6h2.1m-38.9 0.4h2.1m-7.5 0.3h2.1m4.4 0.4h2.1m16.2 0.3h2.1m-35.2 0.1h2.1m41.1 0.2h2.1m-3.1 0.2h2.1m-22.8 0.5h2.1m-6.7 0.2h2.1m-14.1 0.2h2.1m17.8 0.6h2.1m-28 0.2h2.1m5 0.1h2.1m10.3 0.2h2.1m13.4 0h2.1m-24.3 0.1h2.1m12 0.1h2.1m24.9 0.6h2.1m-46.7 0.8h2.1m-0.3 0.5h2.1m30 0.8h2.1m-15.4 0.3h2.1m5.1 0.2h2.1m-40.9 0.8h2.1m32.6 0.3h2.1m-14.7 0.7h2.1m-13.7 0h2.1m9.4 0.1h2.1m29.2 0h2.1m-50.4 0.1h2.1m22 0.1h2.1m-32.2 0.1h2.1m42.4 0.2h2.1m-0.8 0.9h2.1m-11.5 0.4h2.1m12.6 0.2h2.1m-5.1 0.5h2.1m-51.3 0.1h2.1m1.3 0.1h2.1m42.1 0h2.1m-26.8 1.1h2.1m12.9 0h2.1m-13.3 0.3h2.1m9.4 0.1h2.1m-0.5 0.3h2.1m-36.8 0.2h2.1m7.2 0.3h2.1m-15.2 0.5h2.1m18.2 0.1h2.1m28.4 0.1h2.1m-46.5 0.1h2.1m43.8 0.7h2.1m2.3 0.1h2.1m-26.1 0.2h2.1m-27.9 0.1h2.1m6.6 0.2h2.1m-7.4 0.5h2.1m32.6 0.1h2.1m-44.8 0.7h2.1m47.4 0.5h2.1m-34.7 0.3h2.1m32.6 0.9h2.1m-54 0.2h2.1m0.1 0.1h2.1m44 0.2h2.1m-29.2 1.3h2.1m-9 0.2h2.1m-13.4 1.1h2.1m26 0.3h2.1m-28.2 0h2.1m20.4 0.1h2.1m-16.6 1h2.1m5.8 0.1h2.1m-11.4 1.2h2.1m4 1.2h2.1m20.4 0.5h2.1m7.8 0.6h2.1m-42.4 2.3h2.1m22.9 0.7h2.1m11.6 0.6h2.1m-36.9 0.1h2.1m19.5 0.1h2.1m-12.1 0.3h2.1m-5.4 0.1h2.1m-16.3 0h2.1m1.5 1.3h2.1m11.4 2.5h2.1m26.6 0.6h2.1m-37.9 1.1h2.1m-0.2 0.7h2.1m14.6 185.3h2.1m-34.7 2.4h2.1m11.3 2.1h2.1m-1.1 7.1h2.1m13.8 2.3h2.1m-18.5 0.7h2.1m-2.4 6.2h2.1m4.4 0.2h2.1m-19.9 7.9h2.1m2.1 1h2.1m19.8 3.1h2.1m-9.9 0.6h2.1m-14 0.5h2.1m23.9 1.8h2.1m-15.8 2.7h2.1m29.1 0.6h2.1m-28.9 0.9h2.1m-19.2 0.3h2.1m16.5 0.1h2.1m-33.3 0.1h2.1m47.4 2.3h2.1m-31.3 0.2h2.1m1 2.9h2.1m3.3 0.3h2.1m-18.4 0.5h2.1m-1.3 0.3h2.1m-12 1.8h2.1m30.9 0.9h2.1m-12.9 0h2.1m-2.9 0.2h2.1m1.5 0.9h2.1m-10.7 0.3h2.1m28.8 0.3h2.1m-23.8 0.8h2.1m-16.9 0.2h2.1m-16.5 1.5h2.1m50.4 0.2h2.1m-38.9 0.8h2.1m9.7 0.3h2.1m-17.9 1.5h2.1m18 2.8h2.1m19 2h2.1m-43.7 1h2.1m-14.3 0.2h2.1m15.2 0.2h2.1m-13 0.3h2.1m12.1 0.9h2.1m-3.1 0.4h2.1m26.5 0.2h2.1m6 0.3h2.1m-36.5 0.3h2.1m22.2 1h2.1m0.4 0.6h2.1m-23.4 0h2.1m6.4 0.1h2.1m-15.6 0.3h2.1m33.3 2.6h2.1m-35.2 0.2h2.1m-17.9 0.6h2.1m28.1 0.4h2.1m16.6 0.3h2.1m-53.1 0.6h2.1m30.1 0.4h2.1m-37.6 1h2.1m18.7 0.3h2.1m23.6 0.3h2.1m-52.7 0.5h2.1m55.5 0.2h2.1m-5 0.2h2.1m-56.8 0.4h2.1m40.1 0.3h2.1m-10.2 0.2h2.1m-8.9 0.2h2.1m-3.9 0.1h2.1m-12.4 0.3h2.1m39.6 1.5h2.1m-50 0.4h2.1m11.5 0.5h2.1m30.9 0.3h2.1m-33.2 0.1h2.1m-1.6 0.2h2.1m-4.1 1.1h2.1m30 0.5h2.1m-22.2 1.5h2.1m-28.1 0.1h2.1m32.2 0.1h2.1m-6.3 0.2h2.1m-12.1 0.3h2.1m16.5 0.2h2.1m3.3 0.7h2.1m-35.4 0.4h2.1m-2.3 0.5h2.1m-9.9 0h2.1m37.1 0.3h2.1m-24.5 0.5h2.1m-25.1 0h2.1m-8.6 0h2.1m39.6 0.3h2.1m11.6 0.8h2.1m-10.4 0.2h2.1m2.2 0.3h2.1m-44.2 0.5h2.1m29.6 0.5h2.1m7.7 0.1h2.1m3.3 0.2h2.1m-13.9 0h2.1m-22.9 0.3h2.1m12.2 1.2h2.1m-17.9 0.5h2.1m-7.9 0h2.1m-13.8 0.5h2.1m-5.6 0.3h2.1m6.6 0.5h2.1m39.9 0h2.1m-26.7 0.6h2.1m23.7 0.3h2.1m-1.2 0.2h2.1m-41.3 0.5h2.1m17.3 0h2.1m-6 0.5h2.1m-2.9 0.2h2.1m0.7 0.6h2.1m4.2 0.1h2.1m-30.1 0h2.1m46.2 0.2h2.1m-14.3 0h2.1m-16.3 0.2h2.1m15 0.1h2.1m-27.1 0.4h2.1m-10.4 0.3h2.1m2.3 0h2.1m8 0.4h2.1m-18.2 1h2.1m-12.5 0h2.1m25.5 0.3h2.1m-22.6 0h2.1m-12.8 0.2h2.1m25.3 0.3h2.1m-14.2 0.3h2.1m-1.6 0.1h2.1m35 0.3h2.1m-9 0.4h2.1m-14.5 0.3h2.1m10.3 0.1h2.1m-19.6 0.1h2.1m12 0.1h2.1m6.6 0.1h2.1m-12.2 0h2.1m9.7 0.4h2.1m-26.9 0h2.1m3.5 0.1h2.1m20.3 0.1h2.1m-23.7 0.5h2.1m-16.9 0.1h2.1m-21.7 0.8h2.1m53.7 0h2.1m-1.5 0.1h2.1m-21.5 0.1h2.1m-32.3 0h2.1m18.4 0.1h2.1m-8.5 0.3h2.1m11.2 0.3h2.1m-13.8 0.5h2.1m23.1 0.1h2.1m-38.8 0.6h2.1m6.2 0.3h2.1m-17 0.2h2.1m3.5 0.1h2.1m44 0.1h2.1m-13 0.1h2.1m6.5 0h2.1m-55.2 0.1h2.1m35.7 0.2h2.1m-15.7 0h2.1m-0.3 0.3h2.1m12 0.7h2.1m-1.7 0h2.1m13.7 0.1h2.1m-11.1 0.3h2.1m8.1 0h2.1m-8 0.2h2.1m-41.9 0.1h2.1m-14.1 0.5h2.1m28.6 0.1h2.1m-20.9 0.8h2.1m16.6 0.1h2.1m-13.1 0h2.1m24.7 0.4h2.1m-40 0.1h2.1m4.7 0.3h2.1m-16.3 0.5h2.1m3 0.8h2.1m35.8 0.3h2.1m-42.1 0.2h2.1m10.5 0h2.1m28.7 0.1h2.1m-10 0.1h2.1m5.5 0.1h2.1m-31.3 0.5h2.1m0.4 0.3h2.1m21.9 0.3h2.1m8.7 0.3h2.1m-27.5 0.4h2.1m-9.6 0.2h2.1m17.7 0.4h2.1m-18 0.5h2.1m9.2 0.3h2.1m-37.6 0.2h2.1m46.1 0h2.1m-28.1 0.2h2.1m29.1 0.2h2.1m-51.7 0h2.1m48.9 0.3h2.1m-19.5 0.8h2.1m5 0h2.1m-7.8 0.1h2.1m-20.5 0.3h2.1m13.7 0.1h2.1m0.2 0.1h2.1m13.3 0.4h2.1m-14.8 1h2.1m4 0.9h2.1m5.2 0.8h2.1m-10.9 0.2h2.1m-11.2 0.1h2.1m-26.6 0.9h2.1m-7.7 0.6h2.1m-2.4 0.1h2.1m-3.4 0.3h2.1m19 0.7h2.1m20 0.8h2.1m0.4 0h2.1m-18.2 0.3h2.1m-28.8 0.7h2.1m0.1 0.1h2.1m-6.6 0.2h2.1m44.1 0.2h2.1m-9.6 1.9h2.1m-9.8 0.9h2.1m14.3 0.3h2.1m-38.7 0.1h2.1m25.9 0.4h2.1m-5.4 0.3h2.1m0.2 0.9h2.1m-6.3 0.1h2.1m-1.3 0.8h2.1m-0.5 0.5h2.1m-30.8 0.1h2.1m12.2 1.6h2.1m-25.9 0.5h2.1m-6.2 0.3h2.1m53.1 0.5h2.1m-5.6 0.2h2.1m-5.6 1.2h2.1m-6.6 1.7h2.1m-8.9 0.3h2.1m-6.8 3.1h2.1m-16.9 3.3h2.1m30.9 0h2.1m-54.5 1.9h2.1m44 0.1h2.1m-16.5 5.8h2.1m18.3 7.9h2.1m-30.7 1.1h2.1m-1.8 0.5h2.1m13.3 178.1h2.1m4.2 3.7h2.1m5.7 5.1h2.1m-49.9 1.1h2.1m1.5 0.9h2.1m27.9 2h2.1m15 2.6h2.1m-19 0.1h2.1m-34.6 5.9h2.1m8.7 0.7h2.1m21.4 0.8h2.1m8.8 1.3h2.1m-33.1 1.1h2.1m29.8 1.4h2.1m-7.5 0.5h2.1m-30 0.6h2.1m-10.4 1.4h2.1m-10.6 0.1h2.1m48.3 0.5h2.1m-50.7 0.9h2.1m29.4 1.5h2.1m-6.9 0.4h2.1m-30.8 0h2.1m22.9 1h2.1m28.1 1.6h2.1m-30 1.4h2.1m6.1 0.6h2.1m-2.2 0.4h2.1m-4.9 0h2.1m-22.1 2.5h2.1m-7.8 0.3h2.1m-6.7 0.3h2.1m-3.6 1.6h2.1m27.2 0.6h2.1m9.4 0.6h2.1m-25.5 0.5h2.1m-7.4 0h2.1m-3.3 0.6h2.1m22.3 0.1h2.1m-36.9 0.9h2.1m-6.3 1.1h2.1m52 0.2h2.1m-44.5 0.2h2.1m11.6 0.7h2.1m-19.4 0.1h2.1m43.5 0.7h2.1m-52.3 1h2.1m28.5 0.1h2.1m-12.1 0.1h2.1m-2.8 0h2.1m-22.6 0.6h2.1m29 0.2h2.1m4.1 0.6h2.1m15.4 0.9h2.1m-37.5 0.1h2.1m-20.5 0h2.1m39.2 0.2h2.1m2.7 0.1h2.1m-2.8 0.8h2.1m-31.8 0.2h2.1m13.3 0.1h2.1m-36.1 0.4h2.1m21.8 0.2h2.1m-19.5 1.6h2.1m24.5 0.1h2.1m-33.5 1.1h2.1m41.6 0.2h2.1m-45.6 0.1h2.1m46.6 0.2h2.1m-10.2 0h2.1m-10.6 0.2h2.1m14.6 0.1h2.1m-30.2 0.3h2.1m2.9 0.2h2.1m-10.4 0.6h2.1m-13.5 0.6h2.1m39.4 0.4h2.1m-46.8 0.5h2.1m48.7 1.1h2.1m-28.6 0.6h2.1m11.3 1.5h2.1m8.2 0.8h2.1m-50.1 0.5h2.1m35.2 0.1h2.1m2.6 0.2h2.1m-45.7 0.6h2.1m8.9 0h2.1m29.4 0.2h2.1m-45.3 0.3h2.1m38.3 0h2.1m-44.3 0.1h2.1m38.5 0.4h2.1m-34.4 0.5h2.1m-3.5 0.1h2.1m40.9 0.2h2.1m-14.9 0.1h2.1m-35.2 0h2.1m-4.6 0.1h2.1m14.9 0.1h2.1m-16.3 0.2h2.1m3.3 0.4h2.1m33.5 0.6h2.1m-34.2 0h2.1m8.1 0.1h2.1m-21.1 0h2.1m38.6 0.2h2.1m-11 0.2h2.1m-35.5 0h2.1m48.2 0.1h2.1m-48.5 0.1h2.1m27.3 0.1h2.1m-37.9 0.1h2.1m21.6 0h2.1m-26.1 0.4h2.1m-1.1 0h2.1m43.1 0.1h2.1m-15.5 0.6h2.1m8.4 0.5h2.1m-44.3 0.2h2.1m18.1 0.4h2.1m-9.7 0.1h2.1m27.2 0h2.1m-32.5 0.1h2.1m-3.9 0.5h2.1m-14.5 0.7h2.1m44.2 0.1h2.1m1.2 0h2.1m-29.6 0.2h2.1m0.5 0.2h2.1m14.4 0.1h2.1m-23 0.4h2.1m29.1 0.2h2.1m-9.2 0h2.1m-37.3 0.3h2.1m-1 0.3h2.1m14 0h2.1m30.5 0.4h2.1m-5.9 0.1h2.1m1.4 0.1h2.1m-4.4 0.4h2.1m-17.6 0.5h2.1m-11.1 0.1h2.1m-5.8 0.3h2.1m-28.2 0.1h2.1m13.9 0.1h2.1m16.1 0.8h2.1m-1.5 0.3h2.1m-28.9 0.3h2.1m41.9 0.1h2.1m-35.6 0.1h2.1m-3.9 0.7h2.1m5 0h2.1m18.3 0.1h2.1m-19.3 1h2.1m19.6 0.2h2.1m4.8 0.2h2.1m-46.1 0.4h2.1m1.2 0.4h2.1m8.5 0.1h2.1m-5.9 0.3h2.1m18.5 0.1h2.1m-30.5 0.1h2.1m18.3 0h2.1m-2 0.5h2.1m8.1 0.7h2.1m-5.8 0.1h2.1m-23.4 0h2.1m15.2 0.2h2.1m-41.4 0.6h2.1m43.9 0.7h2.1m-4.1 0.1h2.1m-2.2 0h2.1m-40.8 0.1h2.1m22.7 0.3h2.1m18.8 0.4h2.1m-50.2 0.5h2.1m34.9 0.3h2.1m3.1 0.1h2.1m-18.9 0h2.1m12.3 0h2.1m3.1 0.3h2.1m4.9 0.2h2.1m-38.7 0.1h2.1m33 0.3h2.1m-7.5 0.1h2.1m-38.2 0.1h2.1m30.6 0h2.1m-12.5 0.5h2.1m12.6 0.9h2.1m-6.7 0.4h2.1m-31.1 0.3h2.1m-7.7 0.2h2.1m5 0.1h2.1m25.1 0.1h2.1m-21.2 0.7h2.1m-25.9 0.3h2.1m34.5 0.3h2.1m10.5 0.2h2.1m4.2 0.2h2.1m-2.9 0.2h2.1m-21.8 0.2h2.1m16 0.1h2.1m-34.3 0.3h2.1m-11.9 0.1h2.1m33.9 0.6h2.1m-0.1 0h2.1m-33.1 0.3h2.1m-18.4 0h2.1m14.5 0.2h2.1m-16.6 0.7h2.1m35.1 0.1h2.1m-10.2 0.2h2.1m-16.8 0.1h2.1m8.7 0h2.1m-18.3 0h2.1m25.7 0.2h2.1m-2.7 0.1h2.1m-25.3 0.1h2.1m-2.3 0.3h2.1m15.6 0h2.1m-19.6 0.4h2.1m12.6 0.1h2.1m-15.9 0.3h2.1m22.8 0.1h2.1m-29 0.1h2.1m-5.7 0.1h2.1m4.6 0.3h2.1m26.9 0h2.1m-24.2 0.2h2.1m8.4 0.2h2.1m-24.6 0h2.1m29.1 0.2h2.1m-28.4 0.2h2.1m36.9 0.3h2.1m-42.7 0h2.1m38.4 0.1h2.1m-57.3 0h2.1m50.1 0h2.1m-13.2 0h2.1m-41.2 0.4h2.1m28.7 0.1h2.1m1.3 0h2.1m-31.5 0.2h2.1m-11.7 0.1h2.1m34 0h2.1m-38.3 0.3h2.1m54.1 0h2.1m-58.8 0.1h2.1m53.6 0h2.1m-28.2 0.1h2.1m21.5 0.1h2.1m-49.1 0.1h2.1m40.9 0.1h2.1m-4 0.1h2.1m3.1 0.1h2.1m-11.9 0.2h2.1m-1.4 0h2.1m-7.5 0.1h2.1m12.2 0.3h2.1m-15.8 0h2.1m-0.2 0h2.1m2.3 0.3h2.1m-8.9 0h2.1m-10.9 0h2.1m-20.8 0.1h2.1m12.3 0.1h2.1m0.4 0.1h2.1m16.2 0h2.1m-32.4 0h2.1m3 0.1h2.1m28.6 0.1h2.1m-28.5 0h2.1m-20.7 0h2.1m40 0.1h2.1m-38.2 0h2.1m-6.4 0.1h2.1m-0.8 0.3h2.1m44.7 0h2.1m-12 0h2.1m6 0.2h2.1m-35 0.3h2.1m21 0.1h2.1m-10.5 0h2.1m7.4 0.1h2.1m-29.8 0.3h2.1m11.5 0.1h2.1m-25.9 0.1h2.1m-3.5 0h2.1m24.7 0.2h2.1m-15.9 0h2.1m14.5 0.1h2.1m-21.3 0h2.1m35.5 0.1h2.1m1.4 0h2.1m-57 0h2.1m29 0.3h2.1m-23.6 0.1h2.1m7.2 0.4h2.1m-7.7 0.3h2.1m-12.2 0.1h2.1m-2.4 0.1h2.1m9.4 0.4h2.1m-0.4 0h2.1m-14.9 0.3h2.1m49.3 0h2.1m-21.4 0h2.1m-34.3 0.1h2.1m15.4 0.1h2.1m-12.7 0h2.1m26.5 0.1h2.1m-19.2 0.2h2.1m-2.2 0h2.1m15.9 0h2.1m-14.5 0.1h2.1m-21.4 0.3h2.1m25.3 0.2h2.1m-20 0h2.1m25.1 0.1h2.1m-25.1 0h2.1m21.6 0.1h2.1m5.5 0h2.1m-4.5 0.2h2.1m-41.6 0h2.1m-0.6 0.1h2.1m14.5 0h2.1m-17.3 0.2h2.1m12.1 0h2.1m-7.3 0.2h2.1m-15.7 0.1h2.1m13 0h2.1m5.7 0.1h2.1m-31.9 0.3h2.1m26.5 0.2h2.1m-10.6 0h2.1m13.8 0h2.1m-16.6 0h2.1m-15.9 0.1h2.1m-12.9 0.2h2.1m51.3 0h2.1m-47.2 0.1h2.1m20.1 0h2.1m13.3 0.1h2.1m-36.4 0h2.1m3.7 0h2.1m2.8 0.1h2.1m0.2 0.1h2.1m5.2 0h2.1m-22.1 0.2h2.1m42 0.1h2.1m-6.2 0h2.1m-19.8 0.3h2.1m-37.3 0.3h2.1m43.5 0.1h2.1m6.7 0h2.1m-43 0h2.1m-5.3 0.1h2.1m45 0h2.1m-61.1 0.1h2.1m35.2 0h2.1m19.4 0.1h2.1m-39.3 0h2.1m-7.3 0.1h2.1m39.4 0h2.1m-39.9 0.2h2.1m14.5 0.2h2.1m1.4 0.2h2.1m-16.9 0h2.1m28.7 0.1h2.1m-3.3 0.1h2.1m-47 0.1h2.1m42.1 0.2h2.1m-17 0.1h2.1m14.7 0h2.1m1.5 0h2.1m-9.9 0.1h2.1m-7.3 0h2.1m-4.5 0.1h2.1m-29.7 0h2.1m33.9 0.1h2.1m-46.3 0h2.1m12.2 0.1h2.1m-19.7 0h2.1m14 0h2.1m-5 0.1h2.1m5.3 0.1h2.1m18.3 0h2.1m-2.5 0.1h2.1m-42.1 0h2.1m11.3 0h2.1m11.1 0h2.1m-34.3 0.1h2.1m57 0.1h2.1m-58.4 0h2.1m20.1 0h2.1m-17.2 0.1h2.1m9.9 0.2h2.1m3.2 0h2.1m-21.4 0.2h2.1m31.4 0.1h2.1m3.4 0h2.1m1.2 0h2.1m-28.5 0h2.1m-7.7 0h2.1m-3.5 0.1h2.1m4.6 0.1h2.1m-10.8 0h2.1m-2.7 0.1h2.1m10.6 0.1h2.1m14.2 0h2.1m4.7 0.2h2.1m-10 0h2.1m-38.1 0.1h2.1m13.1 0.1h2.1m-19.6 0.1h2.1m41.3 0h2.1m4.6 0.1h2.1m-30.8 0.2h2.1m5.6 0h2.1m-7.1 0.1h2.1m5 0.1h2.1m-25.2 0h2.1m31.3 0.1h2.1m-41.7 0.2h2.1m10 0h2.1m25.1 0h2.1m-30.7 0.1h2.1m-17.8 0.2h2.1m31.4 0.1h2.1m-6 0.1h2.1m-15.3 0.2h2.1m-15.7 0h2.1m48.2 0.2h2.1m-47.6 0h2.1m42.8 0h2.1m-4.2 0.1h2.1m3.5 0h2.1m-51.5 0.1h2.1m-1.1 0h2.1m11.8 0h2.1m-6.9 0.1h2.1m19.4 0.1h2.1m-31.2 0h2.1m28.9 0h2.1m5.6 0.1h2.1m-36.6 0.3h2.1m-14.7 0h2.1m41.3 0.1h2.1m-25.5 0h2.1m-4.1 0h2.1m17.8 0.3h2.1m-10.1 0h2.1m15.7 0.2h2.1m-5.1 0h2.1m7.7 0.1h2.1m-29.2 0.4h2.1m-1 0.1h2.1m-4.3 0h2.1m-29 0h2.1m16.2 0.1h2.1m7.8 0.1h2.1m-5.5 0.1h2.1m13 0h2.1m-18.1 0h2.1m19.4 0h2.1m2.3 0h2.1m-4.4 0.3h2.1m4.1 0.1h2.1m-6.6 0.1h2.1m-20.1 0h2.1m3.2 0.1h2.1m2.7 0.3h2.1m-39.4 0.2h2.1m6.8 0.1h2.1m-10.5 0h2.1m38.7 0h2.1m-5.4 0.1h2.1m7.3 0h2.1m-14.8 0.1h2.1m-16 0h2.1m24.9 0h2.1m3.5 0h2.1m-44.9 0.1h2.1m-15.2 0.1h2.1m-4.7 0h2.1m14.2 0.1h2.1m19.2 0h2.1m4.1 0.1h2.1m-20.2 0.1h2.1m-19.8 0h2.1m40 0.2h2.1m-0.1 0h2.1m-15 0h2.1m14.7 0h2.1m-51.9 0.1h2.1m24.6 0h2.1m11.2 0.1h2.1m10.4 0h2.1m-3.9 0h2.1m-2.7 0h2.1m-25.7 0.1h2.1m5.8 0.1h2.1m-19.9 0.1h2.1m8.8 0h2.1m0.8 0.1h2.1m-30.6 0.1h2.1m22.3 0.1h2.1m9.4 0.1h2.1m-14.6 0.1h2.1m-33.2 0.2h2.1m25 0h2.1m-16.6 0.2h2.1m34.3 0h2.1m-34.3 0.1h2.1m27.2 0h2.1m-48.7 0.4h2.1m42.2 0h2.1m-19.7 0.1h2.1m10.9 0.1h2.1m15.8 0h2.1m-53.9 0.1h2.1m33.7 0.1h2.1m-23.1 0h2.1m9.8 0.2h2.1m6.4 0h2.1m-9.3 0h2.1m2.7 0.2h2.1m-19.9 0h2.1m-4.5 0.1h2.1m0.8 0.1h2.1m10.7 0.2h2.1m9.7 0h2.1m5.3 0.1h2.1m-12.4 0.2h2.1m-32.9 0.1h2.1m40.2 0h2.1m-14.1 0.2h2.1m-36 0.2h2.1m4.4 0h2.1m1.4 0.1h2.1m25.2 0.1h2.1m-2.9 0.1h2.1m10.3 0.1h2.1m-14.1 0.1h2.1m-44.9 0.1h2.1m13 0h2.1m19.9 0.1h2.1m-35.8 0h2.1m30.1 0.3h2.1m-4.3 0h2.1m-27.6 0.3h2.1m12.6 0.1h2.1m17.4 0.2h2.1m1.8 0.1h2.1m-22 0.1h2.1m25.3 0.1h2.1m-32.9 0.3h2.1m27.2 0.3h2.1m-4.3 0.1h2.1m-50.1 0.1h2.1m46.1 0.3h2.1m-22.2 0h2.1m-29.6 0h2.1m25.2 0h2.1m-24.2 0.1h2.1m-12.4 0.1h2.1m40.5 0.1h2.1m-43.3 0h2.1m21.1 0.1h2.1m-2 0h2.1m13.6 0.1h2.1m-0.5 0.5h2.1m13.6 0.1h2.1m-18.5 0h2.1m-8.4 0.1h2.1m16.8 0h2.1m-20.5 0.2h2.1m-29.2 0.1h2.1m-8.9 0.1h2.1m12.7 0h2.1m-8.9 0h2.1m40.2 0.3h2.1m-32.9 0.2h2.1m4.4 0h2.1m9.5 0.2h2.1m-4.5 0h2.1m14.8 0.1h2.1m-15.1 0h2.1m-9.9 0h2.1m4.2 0.1h2.1m8.6 0h2.1m-0.8 0.2h2.1m-7.5 0.2h2.1m-12.9 0h2.1m11.7 0.1h2.1m-4.4 0h2.1m-44.9 0.1h2.1m16.8 0.1h2.1m4.1 0h2.1m-30.4 0.2h2.1m53.5 0.1h2.1m-40.8 0.1h2.1m8.8 0.4h2.1m11.6 0h2.1m6.1 0.1h2.1m-16.6 0h2.1m-9.8 0.1h2.1m0.4 0h2.1m13.9 0.1h2.1m-22.6 0h2.1m26.8 0.3h2.1m-39.6 0h2.1m7.9 0.4h2.1m-24.3 0.1h2.1m20.8 0.3h2.1m1.3 0h2.1m-10.1 0.1h2.1m3.3 0.5h2.1m-24.9 0h2.1m5.3 0.1h2.1m3.9 0h2.1m30.3 0.3h2.1m-21.3 0h2.1m-27.2 0.2h2.1m2.4 0h2.1m-10.7 0.3h2.1m46.8 0.2h2.1m4.7 0.1h2.1m-3.4 0.4h2.1m-19 0.5h2.1m-39.6 0h2.1m17.2 0.1h2.1m27.3 0.1h2.1m-1.4 0.1h2.1m-6.3 0.1h2.1m-8 0.4h2.1m-27.1 0.1h2.1m20.7 0.1h2.1m-40.2 0.1h2.1m52.5 0.6h2.1m-20.5 0.1h2.1m-4.6 0.2h2.1m-13.2 0.3h2.1m1.3 0.3h2.1m-27 0.5h2.1m13.8 0.3h2.1m22.9 0.1h2.1m-33.9 0.1h2.1m26.8 0.4h2.1m-7.8 0.4h2.1m-13.3 0.2h2.1m13.9 0h2.1m-12.9 0.7h2.1m-16.5 0.4h2.1m38.1 1.2h2.1m-14.1 0.1h2.1m-12.5 0.1h2.1m21.5 0.6h2.1m-27 1.3h2.1m-9.3 0.3h2.1m-4.8 0.1h2.1m-21.7 0.4h2.1m34.5 0.3h2.1m-23.5 0.3h2.1m10.9 0.1h2.1m-8.9 0.2h2.1m29 0.2h2.1m-12.2 0.5h2.1m-0.9 0h2.1m-34.8 0.3h2.1m11.6 0.2h2.1m-21.5 0h2.1m13.2 0.6h2.1m-6.6 1.4h2.1m5.1 0.2h2.1m5.3 0.9h2.1m4.3 1.2h2.1m-7.3 1.6h2.1m20.2 9.3h2.1m-57.6 2.6h2.1m41.1 0.4h2.1m-29.4 7.3h2.1m3.7 297.1h2.1m-10.6 2.5h2.1m-8.5 10.5h2.1m-5 2.9h2.1m20.5 1.2h2.1m-5 1.7h2.1m-12.9 0.9h2.1m21.8 1h2.1m-22.5 4.1h2.1m-18.4 0.9h2.1m34.7 0.5h2.1m-23.2 2h2.1m-6.7 0h2.1m13.5 5.2h2.1m-0.3 1.2h2.1m8.5 1.9h2.1m-16.9 0.3h2.1m2.2 1.6h2.1m-22.5 0.5h2.1m9.6 0.8h2.1m18.2 0.8h2.1m-6.1 0.3h2.1m-30.1 0.9h2.1m23.6 0.4h2.1m-1.7 0.6h2.1m-31.9 0.6h2.1m48.2 0h2.1m-52.6 0.5h2.1m-4.4 0.2h2.1m49 0h2.1m3.4 0.8h2.1m-10.4 1.6h2.1m-32 0h2.1m-3.9 0.3h2.1m14.6 1.4h2.1m5.9 0.5h2.1m-10.6 1.2h2.1m7.6 0.3h2.1m-26 0.3h2.1m21.8 0.1h2.1m-41.9 0.2h2.1m37 0.1h2.1m-43.9 1.8h2.1m44.1 0.9h2.1m-41 0.4h2.1m37.1 0.3h2.1m-6.8 0.2h2.1m9.2 0.4h2.1m-44.7 0.9h2.1m43.8 0.5h2.1m-34.6 0h2.1m-0.8 0.4h2.1m28.6 0.3h2.1m-11.4 0.9h2.1m7.6 0.1h2.1m-9.8 0.1h2.1m-46.4 0.3h2.1m11.1 0.1h2.1m25.3 0.5h2.1m-31.4 0.2h2.1m37.4 0.9h2.1m-48.1 0.2h2.1m21.9 0.5h2.1m-34.2 0.1h2.1m3.4 0.8h2.1m31.9 0.3h2.1m-13.7 0.1h2.1m-16.9 0.1h2.1m-8.5 0.1h2.1m7.9 0.6h2.1m-15.6 0h2.1m-3.2 0.2h2.1m47.2 0.6h2.1m-44.7 0.2h2.1m36.4 0h2.1m-21.3 0.2h2.1m-24.6 0.3h2.1m2.1 0.2h2.1m11.4 0.1h2.1m18.2 0.7h2.1m-21.1 0.4h2.1m-19.2 0.3h2.1m24.8 0.6h2.1m8.6 0.4h2.1m-1.4 0h2.1m-1 0.5h2.1m-32.7 0.7h2.1m15 1h2.1m-11.9 0h2.1m0.7 0.2h2.1m20.6 0.1h2.1m-43.4 0h2.1m40.9 0.2h2.1m-41.3 0h2.1m21.1 0h2.1m-2.8 0.2h2.1m-20.9 0h2.1m-3.7 0.4h2.1m-9.6 0h2.1m47.5 0.7h2.1m-55.6 0h2.1m17.8 0.1h2.1m18.9 0.6h2.1m-6.4 0.3h2.1m-21.1 0.5h2.1m18.7 0h2.1m-7.8 0.3h2.1m13.6 0h2.1m-53.7 0.1h2.1m13.1 0.1h2.1m32.3 0.1h2.1m-10.4 0.2h2.1m-2.3 0.1h2.1m-36.3 0.2h2.1m45.5 0.3h2.1m-12.6 0h2.1m-22.1 0.1h2.1m-17 0.2h2.1m-9.1 0.2h2.1m3.3 0.1h2.1m12.4 0.4h2.1m-21.4 1.2h2.1m50.2 0.1h2.1m-43.1 0.2h2.1m38 0.1h2.1m-0.4 0.1h2.1m-18.8 0.1h2.1m-16.5 0.1h2.1m22.3 0.9h2.1m-45.2 0.2h2.1m37.6 0.1h2.1m-27.9 0.3h2.1m20.3 0.2h2.1m7.7 0.6h2.1m-29.6 0.4h2.1m24.6 0.3h2.1m-0.9 0.1h2.1m-4.6 0.1h2.1m-47.2 0.6h2.1m15.4 0.5h2.1m13.6 0.2h2.1m-3.4 0.7h2.1m-34.6 0.1h2.1m-5.1 0.4h2.1m38.6 0.5h2.1m-8.5 0.5h2.1m-4 0.7h2.1m-17.5 0.7h2.1m1.8 0.9h2.1m8.8 0.1h2.1m-15.4 0.7h2.1m-20 0.1h2.1m11.1 0.4h2.1m9.6 0.1h2.1m-10 0.3h2.1m-10.4 0.1h2.1m43.8 0.6h2.1m-44.1 0.1h2.1m28.7 0.2h2.1m-15.4 0.1h2.1m-2.4 0.1h2.1m-2.5 0.1h2.1m-14.9 0.1h2.1m11.9 1.1h2.1m-6.2 0.5h2.1m-19.1 0h2.1m40 0h2.1m-16.8 0.1h2.1m-13.4 0.8h2.1m-20.3 0h2.1m26.1 0.4h2.1m16.3 0.3h2.1m-24.6 0.6h2.1m-17.9 0h2.1m29.9 0.3h2.1m-13.6 0.4h2.1m-43.3 0.3h2.1m22.9 0.3h2.1m3 0.9h2.1m3.4 0.2h2.1m-16.1 0.5h2.1m-13.5 0.1h2.1m31.5 0h2.1m-29.7 0.7h2.1m-11.3 0.3h2.1m1.7 0.2h2.1m36.2 0.6h2.1m-14.3 0.9h2.1m2.1 0.2h2.1m-6.3 0.5h2.1m-34.7 0h2.1m14.7 0.2h2.1m7.1 0.1h2.1m-32.1 0.1h2.1m32.7 0.2h2.1m3.1 0.2h2.1m4.2 0.2h2.1m7.3 0.1h2.1m-10.3 0.1h2.1m-44.7 0.1h2.1m14.6 0.5h2.1m-21.4 0h2.1m29.3 0.4h2.1m-27.4 0.1h2.1m-6.1 0.2h2.1m-1.2 0.1h2.1m33.9 0h2.1m-37.2 0.1h2.1m15.9 0.2h2.1m-25.5 0.1h2.1m21.1 0.2h2.1m18.4 0.1h2.1m4.8 0.3h2.1m-15.8 0h2.1m-17.3 0.1h2.1m11.1 0.4h2.1m12.5 0.2h2.1m-36.8 0.3h2.1m-16.6 0.4h2.1m-0.9 0.1h2.1m52.4 0h2.1m-37.5 0.1h2.1m-11.1 0h2.1m-11.5 0h2.1m16.3 0h2.1m-22.2 0.3h2.1m23.1 0h2.1m-11.1 0.2h2.1m27.6 0.1h2.1m-6.2 0.1h2.1m14 0h2.1m-50.1 0.1h2.1m-12.2 0h2.1m46.3 0h2.1m-48.4 0.1h2.1m5.8 0.3h2.1m27.7 0h2.1m-2.1 0.1h2.1m-13.4 0.1h2.1m22.3 0.3h2.1m-10.8 0h2.1m-41.7 0h2.1m4.1 0.1h2.1m38.8 0.1h2.1m-47.7 0.4h2.1m4.3 0h2.1m-2.6 0h2.1m7 0h2.1m12.4 0.1h2.1m-1.9 0.2h2.1m-18.5 0h2.1m21.9 0.1h2.1m5.4 0.4h2.1m-8.7 0.2h2.1m3.1 0h2.1m-10.1 0.3h2.1m13.1 0.1h2.1m-24.9 0.1h2.1m1.5 0.1h2.1m-28.1 0h2.1m31.5 0h2.1m-13.9 0h2.1m-24 0.2h2.1m30 0.1h2.1m-10.6 0h2.1m-22.3 0h2.1m19.5 0.1h2.1m-9.7 0.1h2.1m-10.1 0h2.1m9.3 0.2h2.1m-14.6 0h2.1m-22.5 0.6h2.1m27.1 0.2h2.1m-17.1 1.1h2.1m22.8 0.3h2.1m-39.1 0.1h2.1m14.7 0.2h2.1m-5 0h2.1m30.5 0.3h2.1m-34.3 0.1h2.1m2.6 0.1h2.1m8.7 0.3h2.1m22.8 0h2.1m-57.5 0.2h2.1m37.7 0.2h2.1m-16.3 0h2.1m26.8 0h2.1m-26.7 0.2h2.1m14.8 0.1h2.1m-27.7 0.1h2.1m-7.8 0h2.1m34.7 0.1h2.1m-22.5 0h2.1m-32.7 0.2h2.1m13.7 0.3h2.1m25.9 0.2h2.1m-33.3 0h2.1m34.7 0.1h2.1m-45.4 0.1h2.1m36.5 0h2.1m4.5 0h2.1m-20.3 0.2h2.1m-36.5 0.1h2.1m39.5 0.1h2.1m9.3 0h2.1m-50.9 0h2.1m2.3 0.1h2.1m45.6 0.1h2.1m-2.2 0.1h2.1m-19.7 0h2.1m-1.1 0.2h2.1m-18.5 0h2.1m27.5 0.2h2.1m-11.3 0h2.1m-15.5 0h2.1m0.2 0.1h2.1m-28.7 0.1h2.1m25.1 0.1h2.1m-28.7 0h2.1m17.8 0h2.1m13.9 0.2h2.1m-5.6 0.2h2.1m8.1 0h2.1m-38.3 0.2h2.1m29.6 0h2.1m-45.4 0.1h2.1m44.3 0h2.1m-12.8 0.2h2.1m2.2 0.1h2.1m10.4 0h2.1m-9.2 0.4h2.1m-15.1 0h2.1m3.9 0.1h2.1m-25.4 0h2.1m-16.3 0.1h2.1m39.9 0h2.1m-32.1 0h2.1m36.6 0.2h2.1m-44.8 0.1h2.1m-13 0.3h2.1m31.5 0.1h2.1m17.1 0.4h2.1m-50.8 0.1h2.1m-4.7 0h2.1m40.7 0h2.1m-10.3 0.1h2.1m-21.4 0.1h2.1m-4.7 0h2.1m-13.5 0.1h2.1m49.1 0.2h2.1m-49.3 0.1h2.1m33 0.1h2.1m3.2 0h2.1m-9.6 0.2h2.1m8.2 0.1h2.1m-14.5 0.2h2.1m17.9 0h2.1m-3 0h2.1m-26.6 0.3h2.1m-15.7 0.1h2.1m-1.2 0.1h2.1m-4.4 0.1h2.1m-10 0.3h2.1m5.2 0h2.1m37.4 0.5h2.1m-11.1 0.1h2.1m-11.4 0.2h2.1m2.8 0h2.1m-16.2 0.2h2.1m5.9 0h2.1m-23.8 0.1h2.1m-0.2 0.3h2.1m-14.4 0.1h2.1m31.6 0h2.1m-33.7 0.1h2.1m-5.1 0.1h2.1m18.2 0h2.1m15.9 0.1h2.1m5.5 0h2.1m6.6 0h2.1m-2.4 0.2h2.1m-40.5 0h2.1m35.2 0.1h2.1m-5.2 0.1h2.1m-46.4 0.1h2.1m30.5 0h2.1m10.7 0h2.1m-39.2 0.1h2.1m19.9 0.1h2.1m-14.5 0.2h2.1m1.5 0h2.1m-28.1 0h2.1m-3.7 0h2.1m51.6 0.1h2.1m-46.6 0h2.1m8.3 0.1h2.1m2.7 0h2.1m-27.8 0.1h2.1m39.6 0.2h2.1m-46.3 0.1h2.1m18.9 0h2.1m-5.9 0.2h2.1m17.5 0.1h2.1m3.9 0.1h2.1m8.3 0h2.1m-6.3 0h2.1m-38.5 0h2.1m29.7 0.1h2.1m0.6 0.1h2.1m-6.6 0.1h2.1m-8.7 0h2.1m-35.3 0.1h2.1m52.5 0.1h2.1m-10.7 0h2.1m-32 0.2h2.1m-18.1 0h2.1m14.3 0.1h2.1m22.6 0h2.1m-10.6 0.1h2.1m-8 0h2.1m1.8 0.2h2.1m10.7 0.1h2.1m0.3 0h2.1m-10.5 0h2.1m-25.5 0.1h2.1m20.7 0.6h2.1m-11 0.1h2.1m25.4 0.1h2.1m-33 0.1h2.1m-24.3 0.1h2.1m16 0h2.1m7.5 0.2h2.1m-28.1 0h2.1m25.7 0h2.1m-17.5 0.1h2.1m26.2 0.1h2.1m-37.8 0.2h2.1m23.2 0h2.1m-16.3 0h2.1m25.7 0.1h2.1m-44.8 0.2h2.1m28.3 0.1h2.1m-15.3 0h2.1m20.3 0h2.1m-7.8 0h2.1m6 0.5h2.1m-40.1 0.1h2.1m-2.5 0h2.1m37.6 0.2h2.1m-29.5 0h2.1m3.2 0h2.1m16.6 0.1h2.1m-21.9 0.1h2.1m15.5 0.1h2.1m-19.5 0h2.1m10.7 0.1h2.1m1.1 0.3h2.1m-36 0.1h2.1m-0.5 0h2.1m2.5 0h2.1m39.7 0.1h2.1m-18.6 0.2h2.1m-43.3 0.3h2.1m34.7 0.2h2.1m-17.3 0.2h2.1m27.5 0.3h2.1m-27 0h2.1m-27.4 0.1h2.1m-0.1 0.2h2.1m10.6 0h2.1m-7.6 0.2h2.1m22.3 0h2.1m18.1 0h2.1m-52.6 0.2h2.1m51.1 0.1h2.1m-51.8 0.1h2.1m46.8 0.1h2.1m-1.6 0h2.1m-18.1 0.1h2.1m7.7 0.2h2.1m-23.3 0h2.1m-7.1 0.1h2.1m15.6 0.3h2.1m-1.8 0h2.1m-21.9 0h2.1m24 0.1h2.1m-14.8 0.1h2.1m1.4 0h2.1m-39 0.1h2.1m25.5 0h2.1m-9.2 0.1h2.1m-26 0h2.1m15.8 0.1h2.1m14 0h2.1m12.7 0.1h2.1m-7 0.1h2.1m10.1 0.4h2.1m-24.8 0.2h2.1m-19.6 0.1h2.1m19 0.1h2.1m-23 0.1h2.1m18.7 0h2.1m19.3 0h2.1m-4.7 0.1h2.1m-34.4 0.1h2.1m4 0h2.1m10.6 0h2.1m-37.2 0.1h2.1m15.2 0.1h2.1m-1.7 0.4h2.1m-19 0.1h2.1m28.7 0.1h2.1m9.5 0h2.1m-33.5 0.5h2.1m1.3 0.3h2.1m9.7 0.1h2.1m-10.1 0.2h2.1m-1.2 0.1h2.1m-20.9 0.1h2.1m-3.9 0h2.1m35.5 0.1h2.1m-1.4 0.1h2.1m-13.8 0.1h2.1m-15.1 0h2.1m13.3 0.1h2.1m-24.5 0.1h2.1m5 0.1h2.1m21.6 0h2.1m-30.1 0.3h2.1m-3.5 0.2h2.1m37.5 0h2.1m-43.6 0.1h2.1m32.3 0.2h2.1m-49.7 0.1h2.1m13.6 0.3h2.1m34.5 0.2h2.1m-21.3 0.1h2.1m-30.7 0h2.1m-6.5 0h2.1m20.3 0h2.1m27 0.2h2.1m-32 0h2.1m13.2 0.5h2.1m-7.9 0.1h2.1m-0.1 0h2.1m18.7 0.2h2.1m-44.2 0h2.1m9.6 0.1h2.1m31.5 0.1h2.1m-58.1 0.1h2.1m34.2 0h2.1m-26.9 0.1h2.1m-8.1 0.3h2.1m9.2 0h2.1m-12.2 0.2h2.1m40.8 0.2h2.1m-28.3 0h2.1m10.7 0.1h2.1m14.7 0.1h2.1m-33.7 0h2.1m22.7 0.3h2.1m-24.7 0h2.1m28.7 0.2h2.1m-45.9 0h2.1m6.1 0.3h2.1m19.7 0h2.1m-7.1 0.1h2.1m-38.8 0.3h2.1m0.4 0.5h2.1m20.3 0.2h2.1m12.9 0h2.1m1.7 0h2.1m-23.4 0.1h2.1m5.6 0.1h2.1m19.9 0h2.1m-20.1 0.5h2.1m8.9 0.3h2.1m-23.6 0.5h2.1m13.9 1h2.1m-30.2 0.3h2.1m13.9 0.1h2.1m17 0.2h2.1m-46.5 0.1h2.1m30.6 0.4h2.1m14 0.2h2.1m-32.6 0.1h2.1m19.6 0.9h2.1m13.8 0.2h2.1m-14.5 0.2h2.1m-5.8 0.4h2.1m-2 0.1h2.1m-33 0.5h2.1m40.6 0.4h2.1m-42.1 0.1h2.1m33.6 0.1h2.1m-42.3 0.2h2.1m-11.4 0.3h2.1m19.5 0h2.1m-19.6 0h2.1m43.8 0.6h2.1m-17 0h2.1m-22.1 0.5h2.1m-12.3 0.9h2.1m39.9 0.6h2.1m-11.9 3.6h2.1m-14.5 0.1h2.1m-20.5 1.7h2.1m0.8 3.5h2.1m39.2 5.6h2.1m-26.1 0.2h2.1m-14.7 1.7h2.1m13.3 0.2h2.1m22.5 2.1h2.1m-4.7 2.9h2.1m-1.4 256.5h2.1m-13.2 4.1h2.1m-17.5 12.2h2.1m-23.3 0h2.1m15 2.5h2.1m5.4 3.3h2.1m-12.5 4.9h2.1m-15.3 1.6h2.1m8 4.1h2.1m8.4 4.1h2.1m-8.6 4.1h2.1m-7.6 2.4h2.1m-6.6 9.9h2.1m36.2 8.1h2.1m-14.8 24.6h2.1m11.5 4.1h2.1m51-1710.1h2.1m-16.4 5.2h2.1m14.9 14.5h2.1m-7.6 13.3h2.1m-6.8 6.9h2.1m-9 1.5h2.1m19.9 3.7h2.1m-22.2 1.7h2.1m27.4 16.9h2.1m-2.1 6.3h2.1m-18.7 6.1h2.1m-0.6 4.9h2.1m3.7 3.4h2.1m-1.9 1.6h2.1m4.1 3.5h2.1m-32.6 7.7h2.1m29.4 8.7h2.1m-19.1 2.3h2.1m-5.6 20.3h2.1m18.5 21.9h2.1m-30.7 233h2.1m10.9 13.7h2.1m-43.9 14.1h2.1m-1.9 23.2h2.1m24.5 17h2.1m-28.5 7.5h2.1m27.7 10.6h2.1m-32.4 0.1h2.1m-2 1.3h2.1m24.9 5.9h2.1m-29.4 3.8h2.1m-1.4 2.2h2.1m30.1 41h2.1m-0.8 21.8h2.1m-2.1 132.9h2.1m4 11.6h2.1m-18.6 15.5h2.1m18.2 8.2h2.1m-3.4 5.7h2.1m-9.5 6.6h2.1m16.4 1.6h2.1m-6.6 11.6h2.1m-49.1 4.7h2.1m27.6 1.7h2.1m-33.4 11.1h2.1m-3 1.8h2.1m-0.4 12.4h2.1m-2.1 11.1h2.1m-3.6 2.1h2.1m0.3 4.7h2.1m-3.9 1.9h2.1m-0.1 2.5h2.1m34.2 4.2h2.1m-39.5 0.8h2.1m-3 3h2.1m-0.1 2h2.1m-3 6h2.1m-2.6 2.7h2.1m-1.6 3h2.1m-3.4 5.2h2.1m-2.3 2.8h2.1m-0.8 0.7h2.1m-2.4 1.3h2.1m-3.3 0.9h2.1m-1.2 4h2.1m-0.9 0.3h2.1m-2.4 4.2h2.1m-1.6 0.6h2.1m-1.8 1h2.1m-2.2 0.5h2.1m-3.5 1h2.1m-3.2 1.9h2.1m23.1 0.1h2.1m-26 0.2h2.1m-2.8 0.1h2.1m-0.9 3.1h2.1m-3.3 1.1h2.1m-1.8 1.1h2.1m-3.1 6h2.1m-1.5 1h2.1m-0.4 0.9h2.1m-4.5 3h2.1m52.3 17.9h2.1m-2.1 18.9h2.1m-5.5 281.6h2.1m-4.5 11.1h2.1m7.3 5.8h2.1m-26.4 2h2.1m23.9 4.6h2.1m-33 11.1h2.1m27.8 9.1h2.1m-60.3 22h2.1m30.8 4.8h2.1m-32.9 1.5h2.1m-4 1.4h2.1m-2.5 5.3h2.1m0.3 2.7h2.1m-3.4 9.1h2.1m-1.8 3.4h2.1m-1 0.2h2.1m-1.5 2.4h2.1m-2.3 14.5h2.1m-4.9 0.5h2.1m-0.8 2h2.1m-0.4 0.8h2.1m-3 7.2h2.1m-2.3 1.4h2.1m-3.6 0.1h2.1m-1.2 0.3h2.1m-3.1 2.4h2.1m-2.5 5.9h2.1m37.6 4.8h2.1m-39.9 1.6h2.1m-2.9 0.6h2.1m-0.5 2.3h2.1m-5.1 0h2.1m0.7 1.1h2.1m-1.8 0.1h2.1m-2.3 1.8h2.1m-2 2.6h2.1m-1.5 0.2h2.1m-2.4 1.2h2.1m-4.1 0.4h2.1m-0.5 1.2h2.1m-2.6 0.2h2.1m-4.5 3.3h2.1m-1.4 9h2.1m39.7 3.2h2.1m10.5 29.3h2.1m-14.4 122.8h2.1m-4.8 23.4h2.1m1 32.5h2.1m-1 21.2h2.1m-2.5 4.8h2.1m-1.1 112.7h2.1m11.3 26h2.1m22-1710.3h2.1m3.8 2.6h2.1m-3.9 21.7h2.1m-2.1 3.6h2.1m2.5 0.3h2.1m-25.7 13h2.1m14.1 6.4h2.1m-17.2 3.4h2.1m16.5 1.1h2.1m-2.6 4.7h2.1m4.6 0h2.1m-27.3 19.7h2.1m49.3 5.7h2.1m-9 0.3h2.1m4.1 0.4h2.1m-1.1 0.8h2.1m-3.6 14.7h2.1m-27.4 14h2.1m17.8 6.7h2.1m-52.7 0.1h2.1m55.1 0.9h2.1m-57 1.4h2.1m51.7 1h2.1m-32.2 11h2.1m26.5 4.9h2.1m-53.5 6.7h2.1m50 9.4h2.1m-0.3 0.1h2.1m-26.5 291.2h2.1m-34.2 43.5h2.1m22.6 7.2h2.1m28.7 18.6h2.1m-49.9 150.1h2.1m-6.2 16.2h2.1m12.6 11h2.1m9.8 10.2h2.1m-31 8.9h2.1m8.5 0h2.1m11.1 1.1h2.1m6.9 34.7h2.1m-10.5 20.4h2.1m26.2 32.2h2.1m-0.4 1.6h2.1m-3.6 0.8h2.1m-0.1 2.3h2.1m-1.9 0.8h2.1m-58 0.3h2.1m54.1 10.1h2.1m-29.4 16.8h2.1m22.3 9.6h2.1m-40.4 0h2.1m-20.5 1h2.1m7.8 0h2.1m-10 2.9h2.1m29.2 5.9h2.1m-14.9 4.8h2.1m8.6 0h2.1m-10 283.6h2.1m-20.7 1.3h2.1m22.7 24.1h2.1m-14.5 3.9h2.1m11.1 4.6h2.1m-19.1 5.2h2.1m18.7 3.3h2.1m-35.2 0.7h2.1m26.5 0.6h2.1m-5.4 1.3h2.1m-8.1 2.6h2.1m-6.1 5.3h2.1m5.6 0.6h2.1m-5.8 3.3h2.1m7.8 1.9h2.1m-1.8 5.3h2.1m3.4 1.3h2.1m-7.3 4.5h2.1m4.7 0h2.1m-10.1 30.7h2.1m1.7 26.1h2.1m-4.9 9.8h2.1m27.1 19.5h2.1m-2.1 8.9h2.1m-51 12.1h2.1m-10.9 2.6h2.1m55.6 7.4h2.1m-40.7 4.4h2.1m4.9 172.9h2.1m-3.7 46.1h2.1m-18.9 13.8h2.1m17.3 98.9h2.1m-27 49.2h2.1m74.5-1683.3h2.1m-19.3 1.8h2.1m-4 0.2h2.1m54.1 5.1h2.1m-35.3 4.1h2.1m11.2 2.3h2.1m8.6 2.9h2.1m-25 2h2.1m-8 9h2.1m-7.6 0.7h2.1m0.4 0.3h2.1m36.9 0.6h2.1m-52.5 1.4h2.1m36.8 4.5h2.1m-43.9 1.6h2.1m23.3 1.6h2.1m1 2.6h2.1m13.6 1.4h2.1m-30.5 5.5h2.1m-3.8 0.5h2.1m22.2 0.6h2.1m5.4 2.4h2.1m5.4 1.2h2.1m-24.3 0h2.1m19.7 3.7h2.1m-2.5 1.1h2.1m-14.5 0.4h2.1m14.1 1.2h2.1m-49.2 1.6h2.1m10.5 0.5h2.1m-12.5 1.6h2.1m-9.4 0.2h2.1m21.9 1.9h2.1m-22.6 0.1h2.1m32.3 0.7h2.1m-20.1 0.1h2.1m6.9 0.3h2.1m-2.1 0h2.1m7.6 0.1h2.1m-31.1 0.8h2.1m-17.5 0h2.1m48.8 0.3h2.1m-18.3 0.8h2.1m-35.2 0.6h2.1m42.6 0.7h2.1m-23.9 3.4h2.1m-23.1 0.2h2.1m5.5 0.5h2.1m-3.1 0h2.1m2.2 0.3h2.1m-1.2 1.1h2.1m31.6 0.2h2.1m-9.7 2h2.1m-20.9 0.8h2.1m2.8 0.3h2.1m-3.1 0.8h2.1m21.6 0.7h2.1m-23 0.7h2.1m14.4 0.1h2.1m-12.9 0.7h2.1m12.9 3h2.1m-52.4 3h2.1m-3 0.8h2.1m30.6 0.2h2.1m17.1 0.4h2.1m2.1 0.3h2.1m-17.4 0.4h2.1m-33.5 0.5h2.1m14.5 0.6h2.1m19.4 1.8h2.1m-19 0.2h2.1m11.7 0.1h2.1m-13 0.4h2.1m-33.6 0h2.1m37.6 0.1h2.1m-22.1 0.3h2.1m22.8 1.8h2.1m-38.2 0.5h2.1m36.8 2.3h2.1m-29.4 1.8h2.1m29.2 0.1h2.1m-4.8 1.4h2.1m-50.1 5.2h2.1m15 0.2h2.1m10.6 2.8h2.1m15.4 1.6h2.1m-30.6 0.9h2.1m0.9 0.6h2.1m-16.1 0.3h2.1m-3.7 0h2.1m12.6 1.8h2.1m0.7 1h2.1m-19.4 1h2.1m-0.5 2.5h2.1m44.3 1.2h2.1m-42.4 1.7h2.1m25.4 0.5h2.1m-23.3 0.4h2.1m5.4 4.2h2.1m-9.4 0.7h2.1m26.8 0h2.1m-46.6 1.5h2.1m0.7 1.3h2.1m-6.3 2.1h2.1m6.9 1.6h2.1m35.9 3.2h2.1m-49.3 6.6h2.1m-0.8 8.3h2.1m19.7 0.6h2.1m-3 2.6h2.1m-18 1.1h2.1m6.4 1.9h2.1m-19.2 4h2.1m46.2 216.3h2.1m-38.3 27.3h2.1m-8 11.7h2.1m40.3 0.6h2.1m-30 0.4h2.1m10.1 5.7h2.1m-35.8 1.5h2.1m6.6 2.7h2.1m6.9 0.3h2.1m-16.6 1.9h2.1m39.2 0.2h2.1m-19.8 1.3h2.1m8.5 0.5h2.1m-2.4 0.6h2.1m-35.4 0.3h2.1m-3 0.7h2.1m0.3 2.1h2.1m19.5 0.8h2.1m-17.7 1.8h2.1m8.6 1.4h2.1m-21.1 0.1h2.1m26.5 1.2h2.1m-21 0.1h2.1m12.4 0.6h2.1m20.7 1.3h2.1m-38.9 0.4h2.1m-7.3 4.6h2.1m5.2 0.8h2.1m7.2 2.8h2.1m16.3 1h2.1m-34 3.7h2.1m31.2 1.3h2.1m-32 1.1h2.1m8.4 0.5h2.1m25 2.1h2.1m-2.3 1.7h2.1m-20 0.1h2.1m-6.1 0.6h2.1m-15.4 3.5h2.1m5.7 0.6h2.1m6.1 0.5h2.1m-28.4 0.8h2.1m43.8 3.3h2.1m-41.6 7.4h2.1m4.8 2.1h2.1m-0.3 0.4h2.1m-10.9 2.6h2.1m6.5 2.1h2.1m3.6 0.6h2.1m13.8 222.2h2.1m6.4 1.8h2.1m-45.3 13.9h2.1m-9.9 6.4h2.1m39.4 1.8h2.1m-27.5 2.2h2.1m6.1 1.2h2.1m23.7 1.1h2.1m-35 2.5h2.1m17.4 2h2.1m-5.5 4.7h2.1m-1.3 0.9h2.1m-22.6 0.7h2.1m-14 0.8h2.1m33.3 1.4h2.1m-2.3 1h2.1m-6.7 1.5h2.1m2.8 0.2h2.1m-25.8 0.2h2.1m-2.3 3.6h2.1m34.9 3.2h2.1m-51.7 1.7h2.1m41.4 0.4h2.1m-13.9 0.4h2.1m-15.9 0.6h2.1m-21.4 0.2h2.1m-0.5 1.9h2.1m29.7 1.4h2.1m-1.1 1.3h2.1m-13.9 0.1h2.1m12.1 0.2h2.1m-31.2 0h2.1m44.2 0h2.1m-56.4 0.1h2.1m18.4 0.9h2.1m12.1 0.8h2.1m0.6 0.3h2.1m-26.3 0h2.1m0.2 1.5h2.1m-14.4 1h2.1m-0.7 1h2.1m36.1 1.7h2.1m-43.3 0h2.1m-5.9 0.8h2.1m24.7 1.1h2.1m23.3 1.3h2.1m-24.5 0.4h2.1m-8.9 0h2.1m23.5 0.6h2.1m-49.5 0.4h2.1m20.5 0.9h2.1m27.2 0.1h2.1m-28.6 0.2h2.1m16.7 0.7h2.1m-18.9 0h2.1m21 0.3h2.1m-40.9 1.7h2.1m21.5 0.1h2.1m2.8 0.1h2.1m-3.8 0.1h2.1m15.1 0.1h2.1m-9.9 0.3h2.1m-4.2 0.3h2.1m-32.7 0.9h2.1m10.7 1.3h2.1m14.7 0.9h2.1m-6 0.2h2.1m-9.6 0h2.1m-17.7 0.4h2.1m-7.7 1.2h2.1m39.1 0.7h2.1m-3 0.7h2.1m-26.5 0.3h2.1m-23 0.1h2.1m37.6 0h2.1m6.9 0.3h2.1m-40.2 0.5h2.1m7.9 0.8h2.1m-1.4 0.1h2.1m-12.4 0.8h2.1m0.1 1.1h2.1m-16.5 0.2h2.1m-5.9 0.4h2.1m49.1 0.1h2.1m-41.2 0.7h2.1m17.7 1.5h2.1m22.1 0h2.1m-10.4 0h2.1m-32.6 0.1h2.1m-17.1 0.2h2.1m8 0.4h2.1m-10.3 0.7h2.1m10.1 0.6h2.1m-19.1 1.5h2.1m15.9 0.1h2.1m-21.3 0.5h2.1m48.1 0.2h2.1m-39.9 0.2h2.1m-7.8 2h2.1m25.2 3.5h2.1m22 0.3h2.1m-41.4 1.4h2.1m-4.6 1.2h2.1m-10.4 0.9h2.1m33 0.2h2.1m-42.9 0.2h2.1m32.2 0.9h2.1m-22.8 0h2.1m35.4 0.7h2.1m-9.9 0.8h2.1m-37.4 0.5h2.1m-2.3 0.5h2.1m-11.5 1.4h2.1m49.4 0.5h2.1m-0.8 0.3h2.1m-10 2.4h2.1m-38 0.1h2.1m13.3 0.1h2.1m-9.6 0.1h2.1m21.3 0.6h2.1m-25.1 1h2.1m25.3 0.9h2.1m-1.8 0.5h2.1m-34.9 0.7h2.1m-3.1 2.5h2.1m27.6 1h2.1m-8.9 0.5h2.1m-33.6 1h2.1m22.5 0.1h2.1m-9.9 1.2h2.1m-10.4 0.1h2.1m4.9 0.8h2.1m12.6 7.1h2.1m-32.7 1.4h2.1m19.3 0.9h2.1m29.7 0.8h2.1m-1.6 0.3h2.1m-2.3 5.6h2.1m-20 3.6h2.1m-14.3 0h2.1m5.6 344.8h2.1m-1.8 0h2.1m-37.5 8.6h2.1m35.1 5.3h2.1m3.1 0.3h2.1m-36 1.2h2.1m34.8 0.5h2.1m-16.9 0.1h2.1m-7.2 3h2.1m-13.6 2h2.1m27.3 0.7h2.1m-40.2 3.8h2.1m36.1 0.2h2.1m12.4 2.2h2.1m-46.3 0.1h2.1m26.2 1.1h2.1m9.9 0.1h2.1m-23.7 3.1h2.1m-5.8 0.5h2.1m-12.1 0.2h2.1m4.7 2.4h2.1m15.8 1.4h2.1m-41 0.2h2.1m23.7 0h2.1m8.8 0.8h2.1m-12.8 1.7h2.1m-13.2 2.4h2.1m15.4 0.3h2.1m18.2 1h2.1m-27.2 1.8h2.1m19.1 1.9h2.1m-28.7 0.1h2.1m-13.4 0.9h2.1m17.7 0h2.1m0 0.8h2.1m0.8 0h2.1m-11.1 0.7h2.1m-3.9 0.4h2.1m21.2 1.2h2.1m-5.3 0.5h2.1m-31 0.3h2.1m27.2 0.6h2.1m-50.2 0.2h2.1m7.4 0.4h2.1m33.1 1.8h2.1m7.5 0.7h2.1m-21.7 0.4h2.1m-30.8 0.2h2.1m25.6 0.5h2.1m-7.9 3.6h2.1m-12.5 0.3h2.1m1.6 0.3h2.1m-22.4 0.9h2.1m52.4 0.8h2.1m-35.7 0.3h2.1m-15 0h2.1m-6.4 0.1h2.1m35.5 0.3h2.1m-18.4 0.1h2.1m-22.6 0h2.1m-1.5 0.1h2.1m14.3 0.3h2.1m23 1.5h2.1m-9.6 0.4h2.1m-16.1 0.6h2.1m3.7 1h2.1m-10.3 0.2h2.1m-0.5 0h2.1m-27.5 0.2h2.1m10 0h2.1m38.5 2.4h2.1m-41.4 2.5h2.1m-8.3 0.5h2.1m14.9 0.6h2.1m-4.7 0.2h2.1m26.5 0.7h2.1m0.3 0h2.1m-50.9 0h2.1m24.9 0.5h2.1m-30.2 0.3h2.1m10 0.1h2.1m-11.9 0.7h2.1m35.6 1.6h2.1m-0.6 0.1h2.1m-22.4 1.3h2.1m31.2 0.6h2.1m-42.7 0.7h2.1m-8.7 0.3h2.1m7.1 0.3h2.1m8.3 1.1h2.1m14.2 0.8h2.1m-28.2 0.2h2.1m21.3 0.1h2.1m-38 1h2.1m8.1 0.1h2.1m9 1.3h2.1m0.1 0.2h2.1m-11.8 0.1h2.1m11.4 1h2.1m-18 0.2h2.1m-1.2 0.3h2.1m29.8 0.8h2.1m-7.8 1.2h2.1m-37.6 0.6h2.1m-6.7 1.4h2.1m14.5 1.8h2.1m-26.1 0h2.1m19.2 0.4h2.1m28.1 1h2.1m-5.4 0.6h2.1m-35.9 3h2.1m3.9 0.9h2.1m35.7 1.8h2.1m-39.3 0.2h2.1m18.5 2h2.1m-8.6 1.8h2.1m-22.7 1.4h2.1m35.4 0.7h2.1m-0.8 4.9h2.1m-7.1 0.9h2.1m-30.9 0h2.1m-2.4 7.5h2.1m35.4 0.3h2.1m-8.1 1.6h2.1m-42.7 0.4h2.1m12.1 0.1h2.1m-9.3 3.4h2.1m10.9 1.1h2.1m-7.4 1.6h2.1m-26.2 0.3h2.1m-3.1 0.5h2.1m55.6 242h2.1m-12.7 31.9h2.1m-36.5 12.2h2.1m-9.8 8.2h2.1m1.1 8.2h2.1m25.2 4.1h2.1m22.4-1638.9h2.1m0.8 2.2h2.1m-1.9 7.6h2.1m0 6.3h2.1m32.8 4h2.1m16 0.9h2.1m-57.3 1h2.1m-2 1.4h2.1m54 2h2.1m-22.3 6.2h2.1m-34.6 5.4h2.1m-6 2.8h2.1m-2.7 1.1h2.1m28.9 11.8h2.1m-32.6 2h2.1m-5 0.2h2.1m27 0.6h2.1m17.4 1.5h2.1m-7.4 0.4h2.1m-8.7 0.8h2.1m-34.8 0.7h2.1m44 0.2h2.1m-15.2 0.8h2.1m7.6 2.7h2.1m-44.6 0.5h2.1m50.7 0.1h2.1m-52.6 0.9h2.1m51 0.5h2.1m-6.6 1h2.1m-56.3 0.3h2.1m-2.5 0.2h2.1m36.1 2.9h2.1m3 4.5h2.1m8.7 1.2h2.1m-4.3 0.8h2.1m-18.2 0h2.1m-7.6 0.9h2.1m2.7 1.3h2.1m6.9 0.4h2.1m-16.1 2.2h2.1m2.6 0.6h2.1m9.2 0.2h2.1m-13.5 1.1h2.1m-3.3 1.1h2.1m4.4 0.4h2.1m4.1 1.6h2.1m4.4 1.6h2.1m-15.4 2.6h2.1m4.3 0.2h2.1m-20.7 1h2.1m5.8 0h2.1m-7.9 2.2h2.1m1 0.1h2.1m5.3 0.5h2.1m7.1 1.1h2.1m2.7 0.3h2.1m-23.9 2.7h2.1m-4.8 0.5h2.1m5.9 0.4h2.1m16.6 0.5h2.1m-11.5 0.3h2.1m-4.3 0.4h2.1m1.8 0.8h2.1m-19.9 0.1h2.1m16.2 2h2.1m-49.1 0.4h2.1m35 0.6h2.1m14.8 0.4h2.1m-9.8 0.6h2.1m8.4 0.7h2.1m-20.1 1.1h2.1m12.3 0.9h2.1m-12.8 1.7h2.1m-8.2 1.7h2.1m-40.3 0.5h2.1m51.7 0.7h2.1m-8.7 1h2.1m1.7 0.3h2.1m-19.2 0.3h2.1m-5.7 0.9h2.1m20 0.8h2.1m-5.6 0.1h2.1m0.1 1.9h2.1m-18.6 1.4h2.1m0.8 0.8h2.1m-35.6 0.9h2.1m35.7 1.3h2.1m-7.4 0h2.1m-37.5 1.1h2.1m27.8 0.4h2.1m5.2 1.9h2.1m15.8 0.6h2.1m-51.8 1h2.1m-8.6 1.6h2.1m52.1 0.7h2.1m-10.3 0.8h2.1m-8.5 2h2.1m5.1 3.8h2.1m-19.3 0.7h2.1m-25.8 4.9h2.1m32.4 0h2.1m-5.2 1.8h2.1m13.6 0.8h2.1m-55.3 0.1h2.1m34.2 1.2h2.1m18 0.1h2.1m-54.5 3.3h2.1m28.3 0.9h2.1m-1.4 5.4h2.1m17.5 0.4h2.1m2.8 3.1h2.1m-7.9 2.8h2.1m-17.2 2.2h2.1m-38.8 1h2.1m43.6 10.8h2.1m-46.7 231.1h2.1m3.6 23.2h2.1m-11 10.5h2.1m2.1 4.9h2.1m-0.5 3.4h2.1m-5.8 5.8h2.1m40.4 0.3h2.1m-44.8 13h2.1m-2.3 10h2.1m1.6 0.1h2.1m38.4 2.2h2.1m-41.5 8.5h2.1m38.5 6h2.1m-15.5 7.3h2.1m0.5 14.4h2.1m2.1 3.7h2.1m-39.6 212.8h2.1m3.4 6.3h2.1m-0.1 3.9h2.1m-5.1 8h2.1m-8.9 2.7h2.1m3.7 0.3h2.1m-7.1 1.9h2.1m7.9 0.8h2.1m31.2 11.3h2.1m-39.7 2.6h2.1m-2.2 0.5h2.1m47.7 1.3h2.1m-52 0.6h2.1m0.9 1.6h2.1m-9.1 0.2h2.1m1.5 0.6h2.1m0.8 2.4h2.1m27.2 0.9h2.1m-28.9 1.3h2.1m23.5 2h2.1m15.3 2.7h2.1m-16.5 1h2.1m9.2 0.6h2.1m-45.2 0.2h2.1m-2.5 1.2h2.1m39.9 3.8h2.1m-49.6 1.1h2.1m4.6 1.7h2.1m42.7 0.4h2.1m-50.8 0.9h2.1m47 1.6h2.1m-0.1 3.4h2.1m-49.9 2.8h2.1m42.8 0.3h2.1m-23.6 2.9h2.1m-24.8 0h2.1m-0.5 0.1h2.1m21.1 0h2.1m-27.9 0.5h2.1m-5.2 0.4h2.1m3 0h2.1m25.6 2.7h2.1m-33.4 0h2.1m36.2 1h2.1m9.9 2.7h2.1m-55 2h2.1m47.7 3.3h2.1m-56.1 1.7h2.1m7.2 4.3h2.1m46.1 0.4h2.1m-59.7 5.5h2.1m33.7 0h2.1m-0.6 0.6h2.1m-8.2 2.9h2.1m20.7 0.1h2.1m-17.9 4h2.1m14 1.8h2.1m-8.5 0.1h2.1m-13.2 1.8h2.1m13.2 9.4h2.1m-10.3 0.1h2.1m-3 1.9h2.1m-10.5 4.7h2.1m5.5 1.2h2.1m13.5 0.3h2.1m-48.7 3.7h2.1m45.8 3h2.1m-26.5 4.5h2.1m-36.4 338.5h2.1m36.3 13.7h2.1m-28.9 8.7h2.1m-12.7 1.6h2.1m3.1 2.6h2.1m31.6 2h2.1m-30.1 3h2.1m-9.2 0h2.1m26.6 3.7h2.1m-30 0.1h2.1m-2.3 0.2h2.1m44.5 2.9h2.1m-45.1 2.1h2.1m-3.9 5.1h2.1m-4.6 0.8h2.1m35.8 0.6h2.1m4.4 1.9h2.1m0.2 0.3h2.1m-12.3 0.9h2.1m12.3 0.7h2.1m-1.1 2.3h2.1m-48.1 0.2h2.1m-2.2 1.2h2.1m-1.1 0.1h2.1m-2.5 0.8h2.1m-12.4 1.1h2.1m54.6 0.7h2.1m-25.5 1.2h2.1m-35.1 2.1h2.1m29.5 1.3h2.1m7.3 0.9h2.1m-37.9 1.7h2.1m45.9 0.8h2.1m-16.3 0.3h2.1m0.1 0.1h2.1m0.8 0h2.1m6 0.4h2.1m-46.8 0h2.1m34.4 0.1h2.1m11.8 5h2.1m-61.8 0h2.1m55.2 0.2h2.1m-52.6 0.6h2.1m22.9 0.4h2.1m11.5 1.6h2.1m-13.6 0.6h2.1m-27.9 1.7h2.1m40.7 1h2.1m-7.9 0.1h2.1m7.4 3.4h2.1m-9.9 4.5h2.1m-36.8 1.6h2.1m41.3 0.8h2.1m-9 0h2.1m8 0.2h2.1m-16.2 1.3h2.1m8.5 0.4h2.1m0 2.7h2.1m-8.9 2.7h2.1m-11.9 1.7h2.1m0.5 1.3h2.1m9 0.5h2.1m-10.8 0.7h2.1m-1.6 0.1h2.1m5.9 0.5h2.1m-55.9 1.6h2.1m52.7 8.5h2.1m-48.2 1.6h2.1m-10.2 3h2.1m38.9 0.2h2.1m-1.6 8.4h2.1m4.3 12.9h2.1m51.3-1337.6h2.1m-27 21.8h2.1m9 2h2.1m-0.5 2.1h2.1m-31.8 5.5h2.1m31.3 1.8h2.1m-30.3 0.2h2.1m9.6 0.9h2.1m6.4 6h2.1m-2.6 0.1h2.1m-18.8 4.8h2.1m-10.8 2.2h2.1m-0.5 1.5h2.1m0 1.5h2.1m21.4 0.8h2.1m6.4 0.4h2.1m-31.9 1.4h2.1m22.3 1h2.1m-30.4 0.3h2.1m27.7 1.4h2.1m-2.3 0.1h2.1m-14 0.6h2.1m-18.4 1.8h2.1m19.9 2.7h2.1m-15.8 0.3h2.1m28.9 0.9h2.1m-43.5 0.2h2.1m27.3 0h2.1m-19.3 1.9h2.1m-10 3.4h2.1m31.9 1.6h2.1m-26.1 0.5h2.1m19.8 0.6h2.1m-31.1 0.3h2.1m-3.1 0.9h2.1m27.9 1.2h2.1m-32.7 0.2h2.1m21.1 0.1h2.1m-15.1 0.1h2.1m-0.9 0.2h2.1m16.1 0.1h2.1m-21.7 1.1h2.1m-2.4 0.2h2.1m-7.2 2.9h2.1m23.9 0.8h2.1m-13.2 0.1h2.1m-23.3 0.2h2.1m33.3 0.2h2.1m-34.2 2.8h2.1m12.8 1.1h2.1m2.8 0.1h2.1m-25.2 1h2.1m17.1 2.1h2.1m1.7 0.9h2.1m-11.1 0.1h2.1m-2.8 0.1h2.1m15.4 1.2h2.1m-18.5 0h2.1m-13.5 0.5h2.1m-5.3 0.2h2.1m1.9 0.2h2.1m2.3 0.1h2.1m10.7 0.1h2.1m-2.4 0.1h2.1m-19.4 1.3h2.1m19.5 0.7h2.1m-12.4 0.5h2.1m10.6 0.2h2.1m1.3 0.3h2.1m-27 0.5h2.1m6.5 1.8h2.1m-20.3 0.8h2.1m18.1 0.4h2.1m8.3 2.9h2.1m8.1 0.2h2.1m-35.7 0.5h2.1m4.8 1.3h2.1m6.3 2.3h2.1m5.2 0h2.1m-1.8 0.1h2.1m5.5 0.4h2.1m-27.1 0.2h2.1m17.6 3.4h2.1m-17.2 0.3h2.1m20.1 3.5h2.1m-34.1 0.7h2.1m17.4 1.1h2.1m-27.8 1.4h2.1m23.3 1.3h2.1m-26 0.9h2.1m0.5 1.7h2.1m27.3 1.2h2.1m-22.9 0.1h2.1m6.6 0.1h2.1m-19.8 0.1h2.1m10.6 0.3h2.1m-13 0.9h2.1m29 1h2.1m-30.6 2.3h2.1m16.8 0.1h2.1m-6.9 1.6h2.1m-3.8 1.4h2.1m13.7 1.4h2.1m-22.4 4h2.1m18.5 0.9h2.1m-30.1 2.8h2.1m17.6 3.2h2.1m-28 3h2.1m10.4 3.5h2.1m13.3 1.1h2.1m-27.3 6.7h2.1m21.4 281.8h2.1m-27.9 14.5h2.1m17.1 5.8h2.1m6.5 1.5h2.1m-5.6 21.7h2.1m-10.7 3.6h2.1m-16.6 7.2h2.1m35.9 7.3h2.1m-4.9 3.6h2.1m-39.1 3.6h2.1m1.9 10.9h2.1m11.2 5.8h2.1m-10.3 238.3h2.1m4.9 0.5h2.1m21.6 0.3h2.1m-44.1 5.6h2.1m-1 6.4h2.1m12.2 4.3h2.1m19 0.4h2.1m-14.7 0.2h2.1m8.3 0h2.1m1.9 0.2h2.1m-35.9 0.5h2.1m30.1 1.5h2.1m-17.3 1.6h2.1m-2.4 2.2h2.1m-4.4 1.4h2.1m-23.3 1.3h2.1m34.3 0.8h2.1m3.7 1.6h2.1m-28.2 2.8h2.1m21.8 3.2h2.1m-35.6 0h2.1m24.4 1h2.1m-17.4 1.7h2.1m-20.3 2.5h2.1m36 2.1h2.1m-22.5 0.3h2.1m-9.5 0.7h2.1m23.8 1.1h2.1m-29.6 0.1h2.1m19.7 0.1h2.1m-11.8 0.8h2.1m19.4 0.5h2.1m-32.6 4.1h2.1m33.3 0.1h2.1m-24.5 0.7h2.1m18.9 0.1h2.1m-1.2 3.5h2.1m-26.9 1.4h2.1m-5.7 0.8h2.1m-10.3 1.1h2.1m4.4 2h2.1m-6.7 4.7h2.1m20.1 0.6h2.1m10.8 0.9h2.1m-26.9 0.2h2.1m13.7 1.2h2.1m-2.8 1.7h2.1m-26.9 0.2h2.1m-1.6 1.3h2.1m-8.7 0.1h2.1m15 0.3h2.1m14.3 0.3h2.1m-26.4 2.5h2.1m27.6 4.9h2.1m-0.8 2.2h2.1m-11.3 5h2.1m1.7 17.2h2.1m-20.9 0.3h2.1m6 4.5h2.1m-30.8 0.9h2.1m17.6 357.9h2.1m5.3 1h2.1m9.2 1.2h2.1m-19.8 1.8h2.1m-22.3 2.6h2.1m42.8 2.7h2.1m-33.4 5.1h2.1m16.9 0h2.1m-14.7 2.4h2.1m-20.4 0.2h2.1m-0.5 3.8h2.1m33.5 3.8h2.1m0.3 2h2.1m-39.4 0.2h2.1m-7.2 2h2.1m24.4 1.8h2.1m-7.2 1.5h2.1m13.8 2.9h2.1m4.4 0.9h2.1m-1.1 0.3h2.1m-17.8 2.1h2.1m-32.2 0.9h2.1m24.9 1h2.1m5.5 4.8h2.1m9.1 3.4h2.1m-6.2 0h2.1m-4.4 0.6h2.1m-36.8 0.6h2.1m36.6 0.9h2.1m-25.9 2.6h2.1m-10.5 1.2h2.1m19.1 0.7h2.1m-4.6 0.9h2.1m0.6 0.2h2.1m-6.6 0.3h2.1m-7.7 1.2h2.1m9.1 0.7h2.1m-6.5 1h2.1m-30.5 0.9h2.1m10.2 0.5h2.1m-4.4 1.9h2.1m1.6 0.1h2.1m13.8 1.1h2.1m-19 0.3h2.1m7.9 0.1h2.1m-3.1 0.7h2.1m-15 0h2.1m-8.2 2.6h2.1m8.5 0.8h2.1m11.4 0.5h2.1m-5.3 0.7h2.1m6.5 1.1h2.1m8.5 3.7h2.1m-29.6 1.3h2.1m-12.2 0.5h2.1m30.9 0.5h2.1m-19.6 3.1h2.1m-10.9 1.8h2.1m-14.2 2.6h2.1m32.4 4.5h2.1m-25.8 4.1h2.1m0.7 0.2h2.1m15 0.7h2.1m-9.8 9.8h2.1m-20.9 238.2h2.1m64.7-1482.2h2.1m21.3 10.4h2.1m-2.9 0.7h2.1m1.7 9.2h2.1m-7.1 11.9h2.1m-29.7 0.3h2.1m15.4 3.8h2.1m6.2 0.2h2.1m-11.9 10.5h2.1m9.8 8.4h2.1m18.9 0.5h2.1m-48 4.3h2.1m-5.2 4.8h2.1m48.6 10.3h2.1m-9.6 4.5h2.1m-47.8 57.4h2.1m33.2 0h2.1m-18.9 0h2.1m18.2 84.6h2.1m-7.6 8.9h2.1m-2.5 18.9h2.1m16.3 20.2h2.1m-29.9 5.4h2.1m29.2 12.6h2.1m-50.9 6.6h2.1m4.9 2.4h2.1m-2.1 1.1h2.1m-8.4 10.1h2.1m44.5 5.7h2.1m-17.7 2.8h2.1m-38.3 23.3h2.1m23.3 1.6h2.1m17.6 2.4h2.1m-33.5 13h2.1m-1.1 20h2.1m11.2 7.1h2.1m20.7 0.5h2.1m-52.7 6.8h2.1m48.4 21.7h2.1m-39.5 75.1h2.1m35.8 253.2h2.1m-33.8 3.8h2.1m21.1 83.4h2.1m-29.5 0h2.1m-8.4 0h2.1m27 0h2.1m-11.9 377.7h2.1m-4.9 3.9h2.1m2.8 29.4h2.1m-18.5 65.3h2.1m20.6 0h2.1m-19.1 0h2.1m13.3 0h2.1m-28.4 0h2.1m10.8 0h2.1m-18.9 0h2.1m5.9 0h2.1m-2.9 274h2.1m0 4.1h2.1m-5.5 77.7h2.1m-2.3 0h2.1m16.6 0h2.1m0.2 0h2.1m-25.5 0h2.1m35.6 0h2.1m-1.1 0h2.1m-26.2 0h2.1m44.1-1644.9h2.1m-0 11.4h2.1m-10.4 6.7h2.1m1.9 11.9h2.1m0.6 2.6h2.1m-13.6 5.2h2.1m1.5 15.9h2.1m5.5 67.9h2.1m-7.5 94.9h2.1m-8.1 34.5h2.1m10.3 14h2.1m-16.4 37.5h2.1m-0.6 1.3h2.1m-3.1 13.3h2.1m-0.9 22.5h2.1m-2.8 24.5h2.1m12.2 62h2.1m-13.6 306.5h2.1m5.5 80.2h2.1m7.1 0h2.1m-12.3 0h2.1m-6.4 0h2.1m12.1 388.1h2.1m-12.7 88.2h2.1m8.2 0h2.1m-5.3 355.8h2.1m318.4-974h2.1m14.9 14.1h2.1m-12.4 5.7h2.1m10.7 8.8h2.1m-14.4 6.9h2.1m-17.4 1.6h2.1m24.5 0.2h2.1m-29.4 4.9h2.1m-6.2 1.7h2.1m30.3 4.2h2.1m-4.3 1.2h2.1m-30.2 0.6h2.1m15.9 4.5h2.1m11.2 1.5h2.1m-26.1 2.5h2.1m-7.8 0.2h2.1m-1.1 0.8h2.1m7.3 3.3h2.1m-5.1 4.1h2.1m-9.1 2.3h2.1m20.4 2.2h2.1m-12.3 1.5h2.1m8.1 0.7h2.1m4 0.2h2.1m-26.9 0.4h2.1m10.6 1.1h2.1m4.2 0.9h2.1m-14.7 5.3h2.1m10.9 11h2.1m-11.2 1.4h2.1m-21.1 0.3h2.1m-5.5 2h2.1m31.7 4.2h2.1m-19.6 3.8h2.1m-3.4 3.2h2.1m1.3 3.7h2.1m24.7-106.8h2.1m-2.8 15.4h2.1m-2.9 5h2.1m13.5 3.2h2.1m-16.6 6.3h2.1m11.6 3.4h2.1m-7.3 0.9h2.1m-9 1.2h2.1m-3.1 1h2.1m0 0h2.1m3.2 3.5h2.1m-8.2 0.9h2.1m19.2 1.2h2.1m0.3 0.4h2.1m-12.7 0h2.1m-8.2 4.8h2.1m-6.1 1.1h2.1m21.6 0.8h2.1m-12.1 1.1h2.1m29.4 5.3h2.1m-52.8 6.9h2.1m26.2 2.3h2.1m0.4 1.6h2.1m-31.5 0.8h2.1m-3.8 3.8h2.1m3 4.8h2.1m-1.4 0.6h2.1m-2.6 1.5h2.1m20.8 2.7h2.1m-1.1 7.7h2.1m-29.3 1.3h2.1m15.9 3.5h2.1m-15.8 0.9h2.1m-12.5 0.9h2.1m29 16h2.1m25 41.9h2.1m27.5-971.2h2.1m4.9 86.3h2.1m9.9 24.3h2.1m-37.3 817.4h2.1m18.6 10.8h2.1m-28.8 1.4h2.1m42.5 13h2.1m-45.1 3.6h2.1m-5.1 32.4h2.1m1.7 163.5h2.1m82.4-1071.8h2.1m11.8 673.9h2.1m8.3 8h2.1m-15.9 0.8h2.1m-1.3 3.8h2.1m11.6 2.1h2.1m-18.2 4.5h2.1m6.3 4.3h2.1m-0.5 1.1h2.1m-6 5.7h2.1m-4.7 0.1h2.1m-7 7.7h2.1m10.7 1.3h2.1m-12 0.5h2.1m-11.2 1.3h2.1m12.4 3.7h2.1m-2.2 0h2.1m-15.9 3h2.1m-4.2 0.8h2.1m14 0.4h2.1m-8.6 1.5h2.1m3.8 0.6h2.1m-6.9 0.6h2.1m-14.6 1.4h2.1m-1.5 0.1h2.1m8.5 0.3h2.1m-6.5 1.5h2.1m-9.9 0.1h2.1m-2.1 0.2h2.1m1.3 0.2h2.1m8.9 0.7h2.1m7.3 0.1h2.1m-4.4 0.1h2.1m-0.6 0.2h2.1m-8 0.8h2.1m-8.4 0.2h2.1m-5.4 0.2h2.1m17.1 0.1h2.1m-9.9 1.6h2.1m-19.1 0.5h2.1m9.6 0.7h2.1m11.2 2.3h2.1m-6 0.9h2.1m-5.8 1.8h2.1m3.5 0.5h2.1m1.7 0.1h2.1m-19.2 0.3h2.1m-8.1 0.2h2.1m4 0.8h2.1m-5.9 0.8h2.1m-1.8 0h2.1m10.6 1h2.1m-6.2 0.1h2.1m-6 0.3h2.1m4.9 0.1h2.1m-10.8 0.1h2.1m-1 0.3h2.1m14.5 0.5h2.1m-28.7 0.1h2.1m14.1 0.1h2.1m0.1 0.1h2.1m4 0.2h2.1m-26.3 0.3h2.1m19.9 0.1h2.1m2 1.2h2.1m-18.9 1.9h2.1m-9.9 0.6h2.1m-3.4 1.6h2.1m-0.4 0.2h2.1m4.7 0.3h2.1m7.7 0.7h2.1m-1.1 1h2.1m-6.5 2h2.1m-0.8 1.2h2.1m5 0.7h2.1m-21.5 0.1h2.1m17.6 0.3h2.1m-25.1 0.2h2.1m9.3 0.8h2.1m1.4 0.1h2.1m1.6 0.7h2.1m-9.3 0.2h2.1m-2.1 0.3h2.1m4.5 0.1h2.1m-7.5 1h2.1m10.7 0h2.1m-15 0.2h2.1m-12.5 0.1h2.1m1.7 0.3h2.1m2.5 0.8h2.1m-6.6 0.5h2.1m11.2 1h2.1m1.8 0h2.1m-20.8 0.2h2.1m14.4 1.6h2.1m3 0.2h2.1m-8.5 0.1h2.1m-16.6 0h2.1m-5.5 0h2.1m-2.6 1.5h2.1m13.2 0.3h2.1m-11.7 0h2.1m-8 0.1h2.1m13.6 0.1h2.1m-13.5 0.8h2.1m3.9 0.1h2.1m-7.3 0.5h2.1m-9.2 0h2.1m-1.4 1.9h2.1m10.7 0.2h2.1m-14.6 0.4h2.1m14.9 0.1h2.1m-8.2 1.2h2.1m-14.7 0.9h2.1m9.7 0.8h2.1m-4 1.1h2.1m-5 0.1h2.1m-1.6 2.7h2.1m-9.3 1.1h2.1m23.3 0.7h2.1m-6.4 0.5h2.1m1 0.1h2.1m-11.5 0.8h2.1m4.5 0.1h2.1m-16.1 0.1h2.1m-3.9 0.3h2.1m-4.5 0.1h2.1m15.2 0.3h2.1m-17.1 0.1h2.1m9.5 0.4h2.1m6.5 0.4h2.1m-19.2 1.6h2.1m6.2 0.6h2.1m6 0h2.1m-27.2 0.7h2.1m3.4 0.4h2.1m-6.5 0.2h2.1m6.4 0.5h2.1m9.9 0h2.1m-18.9 0.2h2.1m4.7 0.2h2.1m13.5 0.1h2.1m-19.1 0.2h2.1m5.3 0.3h2.1m-20.8 0.3h2.1m14.8 0.1h2.1m-10.8 0.1h2.1m-2 0.4h2.1m-7 1.3h2.1m-4.9 0.2h2.1m18.1 0.1h2.1m-18.7 0.2h2.1m22.5 0.3h2.1m-26.7 1h2.1m6.8 0h2.1m1.7 0.2h2.1m-7.7 0.2h2.1m-5.8 1h2.1m-7.8 0.2h2.1m-1.7 0h2.1m1.1 0.1h2.1m20.2 0.4h2.1m-22.9 0.2h2.1m14.4 0.1h2.1m-8.6 0.3h2.1m-9.8 0.3h2.1m0.9 0h2.1m3.4 0h2.1m-19.9 0h2.1m9.2 0.3h2.1m9.1 0.3h2.1m-24.9 0.2h2.1m24.5 0h2.1m-10.1 0.1h2.1m-18.6 0.8h2.1m0 0.1h2.1m-5.5 0.3h2.1m19.8 0.1h2.1m-12.7 0.4h2.1m-7.4 0h2.1m-6.6 0.1h2.1m10.9 0.1h2.1m2 0.2h2.1m-7.6 0h2.1m-5.3 0.9h2.1m0.8 0h2.1m-12.9 0h2.1m15 0.7h2.1m-0.3 0.1h2.1m-14.6 0h2.1m-5.5 0h2.1m-0.1 0.4h2.1m3.1 0.4h2.1m3.1 0.1h2.1m8.2 0h2.1m-25.9 0.6h2.1m-4.2 0.1h2.1m-2.8 0h2.1m19.2 0.1h2.1m-15.5 0.4h2.1m3.2 0h2.1m5.8 0.1h2.1m-22.5 0.1h2.1m-2.8 0.1h2.1m11.4 0h2.1m7.7 0h2.1m-4.9 0h2.1m-21 0.3h2.1m-2.9 0.1h2.1m19.3 0.2h2.1m-17.6 0.1h2.1m4.6 0h2.1m-1.5 0h2.1m-4.5 0.5h2.1m-9 0.1h2.1m8.5 0.2h2.1m6.5 0.1h2.1m-11.2 0h2.1m4.3 0h2.1m-9.4 0.2h2.1m-10.1 0.1h2.1m8.8 0.3h2.1m-9.6 0h2.1m0.8 0.1h2.1m-1.4 0h2.1m-3 0h2.1m-1.5 0.1h2.1m-11.3 0.1h2.1m16.6 0.4h2.1m2.9 0.1h2.1m-4 0.1h2.1m-21.4 0.3h2.1m15.5 0h2.1m-8.5 0.3h2.1m8.1 0h2.1m-6.7 0h2.1m-0.9 0.1h2.1m-23 0.1h2.1m0.1 0.3h2.1m-7.8 0.1h2.1m7.2 0.2h2.1m-9.2 0h2.1m8.2 0.1h2.1m-1.7 0h2.1m-14.6 0h2.1m8.3 0.3h2.1m-10.3 0.1h2.1m15.3 0.2h2.1m-8.3 0.3h2.1m-10.8 0h2.1m19.1 0.1h2.1m-22.7 0.1h2.1m12.3 0.1h2.1m-11.6 0.1h2.1m9.2 0h2.1m-17.7 0.1h2.1m-4.4 0.1h2.1m15.4 0.2h2.1m-6.8 0.5h2.1m-20.7 0.1h2.1m4.6 0.2h2.1m12.9 0h2.1m3.3 0.1h2.1m-23.2 0h2.1m8.1 0.1h2.1m-15.6 0h2.1m5.6 0.3h2.1m1.5 0h2.1m-7.7 0.2h2.1m0.8 0h2.1m10.3 0.2h2.1m-16.3 0h2.1m-5 0h2.1m-5.6 0.1h2.1m4.9 0h2.1m-6.7 0.1h2.1m16.3 0h2.1m-17.1 0.1h2.1m-5.6 0.2h2.1m-1.1 0h2.1m7.8 0.4h2.1m-10.7 0.2h2.1m-4.8 0.2h2.1m-6 0h2.1m0 0.2h2.1m-1.6 0.2h2.1m13.3 0h2.1m-8.8 0h2.1m12.4 0.1h2.1m-11 0h2.1m4.5 0.2h2.1m-21.3 0h2.1m-5 0.4h2.1m-4.9 0h2.1m15.5 0.1h2.1m-0.8 0.1h2.1m1.8 0h2.1m4.9 0.1h2.1m-30.3 0h2.1m13.8 0h2.1m-16.6 0h2.1m12.7 0h2.1m1.9 0.4h2.1m-2 0h2.1m-1.5 0.1h2.1m-21.4 0.3h2.1m18.2 0.4h2.1m4.3 0.1h2.1m-26.2 0h2.1m-7.8 0.2h2.1m8.3 0.3h2.1m10.1 0.1h2.1m-4 0h2.1m-1.1 0.1h2.1m5.5 0.1h2.1m-14.8 0h2.1m7.4 0h2.1m-13.9 0.3h2.1m12.8 0h2.1m-3.7 0h2.1m-10.5 0.1h2.1m-1.6 0h2.1m4.1 0h2.1m-6.6 0.2h2.1m-9.6 0h2.1m11.9 0h2.1m-9.1 0.2h2.1m2.4 0.5h2.1m-9.7 0h2.1m-14.6 0.1h2.1m1.8 0.1h2.1m16.8 0.2h2.1m-3.5 0.2h2.1m-0.3 0.1h2.1m-16.7 0.7h2.1m5.3 0h2.1m6.2 0.1h2.1m-22.3 0.1h2.1m14 0.2h2.1m-8.8 0.1h2.1m-11.7 0.2h2.1m14.6 0.1h2.1m-1.9 0.3h2.1m-2.8 0.1h2.1m-9.5 0.2h2.1m-6.1 0.1h2.1m13.5 0.1h2.1m-22.3 0h2.1m7.6 0h2.1m1.7 0.1h2.1m-16.3 0h2.1m-5.1 0h2.1m0.9 0.7h2.1m-1.9 0h2.1m14.2 0.1h2.1m-12.2 0.1h2.1m8.1 0h2.1m-2.5 0.1h2.1m-20.2 0.1h2.1m15 0h2.1m0.1 0.1h2.1m-10.8 0.1h2.1m-4.3 0h2.1m7.1 0h2.1m2.6 0.2h2.1m-3.5 0.3h2.1m-21.9 0h2.1m15.5 0.1h2.1m-6.2 0.1h2.1m-9.5 0h2.1m11.5 0.3h2.1m-7.7 0.1h2.1m5.7 0.1h2.1m-15.4 0.3h2.1m5.5 0.2h2.1m-26.1 0h2.1m12.5 0.3h2.1m-9.2 0h2.1m15.4 0h2.1m-2.3 0.3h2.1m-20.5 0.1h2.1m6.5 0.4h2.1m-13 0.1h2.1m17 0.1h2.1m2.6 0.3h2.1m-6.8 0.2h2.1m-21.7 0.2h2.1m-2.4 0h2.1m17.7 0.4h2.1m-2.9 0.2h2.1m1.1 0.2h2.1m-25.1 0.2h2.1m16.6 0h2.1m-2.8 0.3h2.1m-18.6 0.2h2.1m16.6 0h2.1m-19.3 0.1h2.1m-1.3 0.2h2.1m6.4 0.2h2.1m1.8 0.1h2.1m-17.1 0.1h2.1m20.8 0.2h2.1m-9.3 0h2.1m-5 0.2h2.1m-9.4 0.1h2.1m14.1 0.2h2.1m-21.9 0.1h2.1m2.2 0.2h2.1m5.6 0.3h2.1m-5.6 0h2.1m2.9 0.3h2.1m8 0.5h2.1m-27.5 0.4h2.1m4.8 0.2h2.1m5.1 0.1h2.1m-16.4 0.2h2.1m9.6 0.1h2.1m-12.8 0.4h2.1m-4 0.1h2.1m7.7 0.4h2.1m-4.6 0.2h2.1m-8.1 0h2.1m23.6 0.6h2.1m-30.8 0.5h2.1m17.1 0.3h2.1m-6.8 0.6h2.1m2.1 0.2h2.1m-9.7 0.1h2.1m-9.1 0.3h2.1m19.6 1.2h2.1m-24.1 0.9h2.1m10.9 0.9h2.1m-11.6 0.7h2.1m12.9 0.5h2.1m-24.2 0.4h2.1m3.3 0.3h2.1m-3.9 0.1h2.1m2.5 0.1h2.1m-4.3 1.3h2.1m9.7 0.3h2.1m-6.8 0.9h2.1m4.3 0.6h2.1m-13.7 0.9h2.1m17 0.7h2.1m-8.7 0h2.1m4.2 2.6h2.1m-26.1 0.9h2.1m19 4.4h2.1m-1.1 4.3h2.1m-14.9 0.1h2.1m14.2 1.7h2.1m-26.2 0.3h2.1m6.6 0.4h2.1m-6 4.4h2.1m-41.9 22.4h2.1m48.6 235.4h2.1m-49.6 786.8h2.1m62.2-1989.7h2.1m27.9 98.4h2.1m-20.1 13.5h2.1m-13.5 619.9h2.1m5.7 25.1h2.1m1.2 0.7h2.1m-2.6 1.5h2.1m11.4 0.3h2.1m6.7 1.3h2.1m-18.9 3.3h2.1m-7 0.9h2.1m-17 4.6h2.1m24.9 1.5h2.1m0.5 0.5h2.1m-18.5 11.5h2.1m11.6 0.2h2.1m0 0.5h2.1m-10.2 1.1h2.1m7.4 1.6h2.1m-18.6 2.1h2.1m-18.9 0h2.1m-0.5 2.2h2.1m30.5 0.9h2.1m-2.9 2.3h2.1m-29.2 1.7h2.1m5.9 0.2h2.1m-8 0.5h2.1m28.2 0.3h2.1m-27.3 1.1h2.1m-17.7 0.6h2.1m41.4 0.3h2.1m-30.7 1.4h2.1m-9.6 0.3h2.1m31.6 0.6h2.1m-9.6 0.6h2.1m-28.6 0.3h2.1m8.3 0.7h2.1m25.3 0.2h2.1m-28.5 1.4h2.1m-1.7 0.7h2.1m-3 1.4h2.1m-16.8 0.4h2.1m37.1 0.6h2.1m-10.8 0.2h2.1m5.1 0.1h2.1m-17.9 0.1h2.1m1.5 0.6h2.1m-18.9 1h2.1m10.4 0.8h2.1m-15.6 0.4h2.1m29.3 0.1h2.1m-44.1 1.2h2.1m33.2 0.5h2.1m3.7 0.5h2.1m-14.5 0.9h2.1m3.6 0.5h2.1m2.2 0.1h2.1m-6.5 1.2h2.1m2.1 0.2h2.1m-13.4 0.4h2.1m3.8 0.2h2.1m-21.9 0h2.1m20.1 0h2.1m-35.7 1.4h2.1m-3.2 0.2h2.1m-3.2 0.6h2.1m2.8 0.8h2.1m24.5 0.2h2.1m-13.2 3.5h2.1m3.7 0.3h2.1m6.6 1.3h2.1m-27.2 0.1h2.1m24.8 0.2h2.1m-33 0.2h2.1m35.6 0.9h2.1m-35.6 0h2.1m5 0.1h2.1m-3 0.5h2.1m19.5 0.2h2.1m-5.9 0.3h2.1m-31.2 0.2h2.1m17.3 0.4h2.1m-3.9 0.4h2.1m-6.2 0.7h2.1m-8.1 1h2.1m-3.2 0.1h2.1m6.1 1.1h2.1m5.6 0.7h2.1m14.8 0.6h2.1m-21.2 0.3h2.1m-11.8 0.5h2.1m13 1.3h2.1m7.5 0.1h2.1m0 0.6h2.1m-31.6 0.1h2.1m-1.8 1h2.1m-11.6 0.1h2.1m31.6 0.7h2.1m6.4 0.9h2.1m-22.6 0h2.1m11 0.3h2.1m-40.2 0.2h2.1m31.6 0.5h2.1m-0.1 0h2.1m-7.3 0h2.1m2.2 0.1h2.1m-31.5 0.7h2.1m2.7 1.1h2.1m27.7 0.2h2.1m-31.8 0h2.1m20 0.2h2.1m-27.8 0.8h2.1m35.3 0.1h2.1m-28.5 0.2h2.1m-11.6 0h2.1m3.5 0.5h2.1m6.4 0.9h2.1m-9.9 0.5h2.1m-15.3 0.1h2.1m24.6 0.3h2.1m7.9 0h2.1m-9.5 0.4h2.1m9.3 0.3h2.1m-5.5 0.4h2.1m-18.3 0.1h2.1m19.4 0h2.1m-4.7 0.6h2.1m-40.7 0.1h2.1m17.9 0.2h2.1m17.8 0.1h2.1m-43.8 0.1h2.1m26.5 0.7h2.1m10.4 1.3h2.1m-15.9 0.2h2.1m0.2 0.2h2.1m5 0.1h2.1m-19.8 0.1h2.1m-2.5 1.4h2.1m18.6 0.1h2.1m-15 0.8h2.1m-9.3 0.5h2.1m-1.7 0.3h2.1m16.5 0.4h2.1m-11.1 0.3h2.1m6 0.1h2.1m-38.2 0.3h2.1m36.8 0.8h2.1m-36.5 0.3h2.1m18.3 0.2h2.1m-12.1 0.3h2.1m16.1 0h2.1m7.9 0.2h2.1m-35.9 0.8h2.1m30.3 0.5h2.1m-35 1.1h2.1m25.1 0.3h2.1m-26.5 0.1h2.1m3.1 0.2h2.1m17.5 0.1h2.1m-1 0.1h2.1m-36.4 0.2h2.1m-4.2 0h2.1m19.5 0.2h2.1m-4.8 0.6h2.1m-3.5 0.1h2.1m10.3 0.2h2.1m-26.2 0.2h2.1m31 0.8h2.1m-31.1 0.2h2.1m8 0.5h2.1m-16.5 0h2.1m24.4 0.4h2.1m-15.1 0h2.1m-15 0.4h2.1m-5.9 0.2h2.1m9.2 0.2h2.1m7.4 0.6h2.1m9.7 0h2.1m-16 1.1h2.1m-2.1 0.2h2.1m5.2 1.1h2.1m-8.8 0.2h2.1m-13.3 0.3h2.1m10.8 0.2h2.1m-5.5 0.3h2.1m-18.8 0h2.1m9.6 0.7h2.1m20.1 0h2.1m-15.8 0.4h2.1m-9.3 0.6h2.1m0.4 0.1h2.1m-21.9 0.2h2.1m37.3 0h2.1m-42.1 0.2h2.1m28.6 0.9h2.1m-2.5 0.1h2.1m10.1 0h2.1m-18.3 0.9h2.1m-6.2 0h2.1m7.6 0.4h2.1m-2.8 0.1h2.1m6.4 0.7h2.1m-31.8 0.4h2.1m17.5 0.3h2.1m10.7 0h2.1m-35.3 0.3h2.1m5.6 0h2.1m-20 0.9h2.1m5.4 0.1h2.1m-10.1 0.1h2.1m35.9 0.1h2.1m-19.8 0.2h2.1m-8.6 0.2h2.1m13.3 0.1h2.1m-26.7 0.3h2.1m15.6 0.1h2.1m15.1 0.2h2.1m-32.9 0.3h2.1m-7.9 0.4h2.1m14.2 0.3h2.1m17.5 0h2.1m-29.1 0.1h2.1m11.5 0.2h2.1m2.6 0.6h2.1m0.9 0.1h2.1m-6.1 0.1h2.1m-12.9 0.1h2.1m11.5 0.4h2.1m7.5 0h2.1m-28.1 0.1h2.1m21.3 0.4h2.1m-38.7 0.3h2.1m3.7 0.1h2.1m31 0.1h2.1m-4.3 0h2.1m-25.1 0.1h2.1m-12.8 0.3h2.1m16.6 0.3h2.1m-3.7 0.1h2.1m1.3 0.3h2.1m7.7 0h2.1m4.1 0.1h2.1m-14 0.2h2.1m3 0.1h2.1m-13.7 0.1h2.1m-6.1 0h2.1m-8.6 0.1h2.1m24.2 0.1h2.1m-12.8 0h2.1m-15 0.3h2.1m-2.5 0.1h2.1m-4.5 0.2h2.1m18.1 0.1h2.1m-6.7 0.1h2.1m3.9 0h2.1m-0.4 0.5h2.1m-22.5 0h2.1m-2.3 0.2h2.1m-15.9 0.1h2.1m2.6 0.1h2.1m-5.6 0.3h2.1m20.6 0.2h2.1m-25 0.1h2.1m6.6 0.2h2.1m25.7 0.1h2.1m-10.4 0.5h2.1m-27.4 0.1h2.1m9.6 0h2.1m-2.5 0.1h2.1m5.4 0.1h2.1m8.2 0h2.1m-10.6 0h2.1m4.2 0.3h2.1m-1.8 0.2h2.1m-11.7 0h2.1m-21 0.1h2.1m15.6 0.5h2.1m11.9 0.1h2.1m0.3 0h2.1m4.4 0.3h2.1m-5 0.1h2.1m-23.6 0.1h2.1m9 0.1h2.1m8.4 0.1h2.1m-15.4 0.4h2.1m-9 0h2.1m-6.1 0.1h2.1m-20.2 0.1h2.1m20.7 0h2.1m-20 0.1h2.1m32.6 0h2.1m-2.2 0.1h2.1m-14 0.1h2.1m10 0.3h2.1m-39.2 0h2.1m16.5 0.1h2.1m0.8 0h2.1m1.7 0.1h2.1m14.9 0.1h2.1m-37.3 0h2.1m8.7 0.1h2.1m18.3 0.1h2.1m-30.2 0.1h2.1m-8.1 0.1h2.1m9.1 0h2.1m7.2 0h2.1m1 0.1h2.1m12.6 0h2.1m-6.7 0.1h2.1m-14.8 0.2h2.1m6.5 0.1h2.1m-29.4 0h2.1m10.5 0.1h2.1m-5.1 0h2.1m10.4 0.1h2.1m-12 0h2.1m-13.2 0.1h2.1m28.4 0h2.1m-33 0h2.1m20.3 0h2.1m-2.1 0.2h2.1m-10.4 0h2.1m4.7 0.2h2.1m-7.9 0h2.1m-21.4 0.1h2.1m21 0.2h2.1m-21.2 0h2.1m20.2 0h2.1m10.7 0h2.1m-18.8 0h2.1m13.9 0.1h2.1m-30.2 0h2.1m22.3 0.1h2.1m-15.2 0h2.1m10 0.1h2.1m-36.9 0.1h2.1m14.2 0h2.1m-5.6 0h2.1m23.5 0.1h2.1m-6.4 0h2.1m-28.8 0.1h2.1m17.5 0.1h2.1m-26.6 0.1h2.1m-0.7 0h2.1m27.3 0.1h2.1m-12.5 0h2.1m3.4 0.2h2.1m7.5 0h2.1m-20.3 0.1h2.1m-12.8 0h2.1m12.8 0h2.1m13.1 0.1h2.1m-6.7 0.1h2.1m-29.6 0h2.1m22.2 0h2.1m-31.4 0.1h2.1m30.6 0.1h2.1m-41.4 0.1h2.1m2.9 0h2.1m25.6 0h2.1m-11.8 0.1h2.1m17.1 0h2.1m-6.4 0h2.1m-27.6 0.2h2.1m-10.7 0.1h2.1m15.4 0h2.1m10.2 0h2.1m-15.7 0.2h2.1m2.7 0h2.1m7.9 0h2.1m2.9 0.1h2.1m-0.4 0.1h2.1m-41.9 0h2.1m-3.3 0.1h2.1m13.2 0h2.1m9.8 0.1h2.1m-21.1 0.1h2.1m31.2 0h2.1m-39.7 0h2.1m17.7 0.1h2.1m14.4 0.1h2.1m-36.2 0h2.1m30.6 0h2.1m0.7 0h2.1m-8 0.1h2.1m4.1 0.1h2.1m-43.9 0.1h2.1m22.7 0.1h2.1m-15 0h2.1m0.4 0.1h2.1m-1.4 0h2.1m-17.9 0h2.1m25.6 0.2h2.1m-10.8 0.1h2.1m-15 0.1h2.1m-5 0h2.1m-3.1 0.1h2.1m1.6 0.1h2.1m4.5 0h2.1m14.6 0.1h2.1m-20.8 0.2h2.1m7.2 0.2h2.1m4.2 0h2.1m-2.1 0h2.1m-16.5 0.1h2.1m27.8 0h2.1m-9.8 0.1h2.1m-2.5 0h2.1m-14.4 0h2.1m2.6 0.1h2.1m-7.2 0.3h2.1m-17.1 0h2.1m32.5 0.2h2.1m-6 0h2.1m5.1 0h2.1m-12.9 0.1h2.1m-26.7 0.3h2.1m9.1 0h2.1m-12.4 0.1h2.1m16.1 0h2.1m-20 0.3h2.1m-6.9 0h2.1m8 0h2.1m11.9 0h2.1m-19.8 0.1h2.1m10.3 0.2h2.1m7.6 0h2.1m-22.8 0.1h2.1m-14.6 0.1h2.1m3.1 0.1h2.1m-2.2 0h2.1m10.4 0.1h2.1m12.2 0h2.1m7.1 0h2.1m-23.3 0.1h2.1m-19.4 0h2.1m34.1 0h2.1m-24 0h2.1m-14.9 0h2.1m10.6 0.1h2.1m-12 0.1h2.1m18.8 0.1h2.1m-14.7 0h2.1m-9.6 0h2.1m31.4 0h2.1m-3.5 0.2h2.1m-8.5 0h2.1m0 0h2.1m-33 0.1h2.1m13.4 0.1h2.1m-3 0.1h2.1m-3.5 0h2.1m11.1 0.1h2.1m-23.2 0h2.1m33.1 0h2.1m-18 0.1h2.1m7.9 0h2.1m-29.3 0h2.1m5.4 0.1h2.1m-7.7 0.1h2.1m10.9 0.1h2.1m-10.5 0.1h2.1m22.2 0h2.1m-43 0.5h2.1m32.6 0.1h2.1m-21 0.1h2.1m13.1 0.2h2.1m-21.9 0.2h2.1m5.8 0h2.1m-10.6 0h2.1m1.9 0.1h2.1m13 0.3h2.1m-22.7 0h2.1m12.5 0h2.1m-12.8 0h2.1m3.1 0.1h2.1m9.5 0.1h2.1m-33.1 0.1h2.1m39.3 0.1h2.1m-2.3 0h2.1m-36.2 0.2h2.1m8.3 0h2.1m22.5 0.1h2.1m0.7 0h2.1m-28.8 0.1h2.1m-2 0.4h2.1m13 0.2h2.1m4.5 0h2.1m-30.7 0h2.1m17.5 0h2.1m-8.9 0.3h2.1m1.2 0h2.1m5.6 0.3h2.1m-6 0h2.1m7 0h2.1m-2.7 0.1h2.1m-16.2 0h2.1m-1.8 0.1h2.1m-2.9 0h2.1m6 0h2.1m-32.9 0.1h2.1m0.1 0.1h2.1m22 0h2.1m-3.1 0.1h2.1m-1.4 0.1h2.1m-25.5 0h2.1m24.2 0.1h2.1m-6.4 0.1h2.1m-12.1 0.1h2.1m-6.8 0h2.1m6.4 0h2.1m-17.6 0.2h2.1m34.9 0.1h2.1m-25.1 0h2.1m1.1 0h2.1m12.7 0.1h2.1m-14.6 0.1h2.1m-17.5 0h2.1m7 0h2.1m20.6 0.1h2.1m-2.4 0h2.1m-18.2 0.1h2.1m-17.9 0.1h2.1m-2.5 0h2.1m7.4 0.2h2.1m-11.1 0.1h2.1m-4.6 0.1h2.1m-5.4 0.2h2.1m6.1 0.1h2.1m31.2 0.1h2.1m-22.2 0.1h2.1m7.4 0h2.1m-25.4 0h2.1m-11.9 0.1h2.1m29.3 0h2.1m-1.8 0.2h2.1m-16.3 0.1h2.1m-7.4 0h2.1m-5.8 0.1h2.1m13.3 0.1h2.1m-16.8 0h2.1m-5 0.1h2.1m-1.3 0.1h2.1m15.8 0.1h2.1m8.7 0h2.1m-18.4 0.1h2.1m6.7 0.1h2.1m-20.2 0.1h2.1m-10.1 0.1h2.1m16.5 0h2.1m-11 0.2h2.1m21.1 0h2.1m-4.6 0.2h2.1m-24.5 0.1h2.1m-11.4 0.1h2.1m16.9 0.4h2.1m-10.5 0.1h2.1m-12.5 0.1h2.1m2.9 0h2.1m14.9 0.1h2.1m-24 0.1h2.1m12.3 0.2h2.1m15.5 0.4h2.1m-25.8 0h2.1m29.9 0h2.1m-11.1 0.1h2.1m-11.7 0h2.1m-17.5 0.2h2.1m31.5 0.1h2.1m-11.7 0.1h2.1m-3.4 0h2.1m5.1 0.2h2.1m-17.5 0.1h2.1m5.1 0.1h2.1m0.8 0h2.1m-20 0h2.1m3.6 0.1h2.1m-18.1 0.1h2.1m-1.7 0.4h2.1m27.6 0.3h2.1m2.9 0.1h2.1m-33.6 0.2h2.1m19.4 0.2h2.1m11.6 0h2.1m-37.3 0.1h2.1m-6.2 0.3h2.1m-0.3 0.1h2.1m23.2 0.2h2.1m4.9 0h2.1m-16.6 0.1h2.1m-12.3 0h2.1m19.4 0.1h2.1m-22.3 0.4h2.1m22 0.1h2.1m1.4 0.1h2.1m-38 0.1h2.1m12.5 0.1h2.1m-23.3 0.1h2.1m31.7 0.1h2.1m-37 0.5h2.1m27.4 0.1h2.1m14.1 0.2h2.1m-30.1 0.2h2.1m4.6 0.1h2.1m-12 0.1h2.1m1.3 0h2.1m11.3 0.2h2.1m3 0.1h2.1m-7.5 0.2h2.1m1.4 0.1h2.1m7.1 0.1h2.1m-1.8 0.1h2.1m-21.5 0.3h2.1m7.9 0h2.1m-25.9 0.1h2.1m-3.3 0.6h2.1m6.4 0.4h2.1m-4.9 0.1h2.1m14.4 0.4h2.1m-26.9 0.1h2.1m7.9 0.3h2.1m18 0.2h2.1m-19.1 0.1h2.1m-12.4 0.1h2.1m13 0.3h2.1m-20.2 0.1h2.1m25 1.6h2.1m-4.1 0.1h2.1m1.2 0.1h2.1m1.1 0.9h2.1m-3.4 0.1h2.1m-1.4 0h2.1m-26.7 0.2h2.1m-0.2 0.6h2.1m-8.9 0.6h2.1m35.3 0.2h2.1m-27.4 0h2.1m-16.3 0.7h2.1m8.6 1h2.1m-12.3 1h2.1m22.7 0.7h2.1m-28.8 1.8h2.1m10.1 1.8h2.1m19.1 1.5h2.1m-31 6h2.1m15.2 1.2h2.1m-4 1h2.1m12.7 9.8h2.1m-39.4 0.7h2.1m28.1 0h2.1m-6.2 122.8h2.1m-1.1 9.8h2.1m9.5 829.2h2.1m-27.1 17.7h2.1m23.9 6.7h2.1m-41.1 45.3h2.1m85.8-1937.9h2.1m-21.8 433.4h2.1m13.7 315.2h2.1m-0.2 17.8h2.1m19.3 0.1h2.1m-45.5 1.6h2.1m14.8 3.6h2.1m30.2 5.8h2.1m-6.1 1h2.1m-22.4 0.2h2.1m-23.1 2.4h2.1m1 0.4h2.1m6.8 1.9h2.1m-8.1 1.9h2.1m-6 0.8h2.1m33.3 2.5h2.1m7 0.2h2.1m-31.7 1.6h2.1m20 2.9h2.1m-14.1 0.2h2.1m-1.6 5.7h2.1m-2.9 3h2.1m17 0.1h2.1m-21 0.1h2.1m-5.7 0.4h2.1m-27.7 1h2.1m41.4 3.5h2.1m-0.2 0.4h2.1m-21.8 0.4h2.1m21.4 0.2h2.1m-19.1 0.7h2.1m-12.2 0.1h2.1m6.5 1.6h2.1m-22.5 0.4h2.1m7.9 0.5h2.1m6.1 0.9h2.1m-18.1 1.2h2.1m-3.3 1.3h2.1m1.4 1.1h2.1m-12 0.5h2.1m39.1 1.2h2.1m-10.1 0.7h2.1m2.2 0h2.1m-1.2 0.1h2.1m-15.6 0.9h2.1m-23.8 0.4h2.1m18.6 0h2.1m-9.2 0.2h2.1m-6.8 0.1h2.1m9.1 1.5h2.1m15.5 1.6h2.1m-21.9 0.6h2.1m14.7 0.6h2.1m-21.6 0.9h2.1m1 0.7h2.1m21.2 0.3h2.1m-8.4 0h2.1m4.6 0.6h2.1m-35.1 0.1h2.1m14.3 1.4h2.1m5 0h2.1m-41.9 0h2.1m28.2 0.4h2.1m11.1 0.7h2.1m-35.4 0.6h2.1m29.3 0.3h2.1m-6.5 1.1h2.1m1.9 0.1h2.1m-12.8 0h2.1m-36.1 0.1h2.1m10.1 0.1h2.1m-3.3 0.6h2.1m33.4 0h2.1m-49.2 0.3h2.1m52.6 0.5h2.1m-10.1 0.7h2.1m-48.3 0.1h2.1m46.4 0.4h2.1m-50.9 0.8h2.1m48.4 1.1h2.1m-32.2 0.1h2.1m-21 0.1h2.1m18.1 0h2.1m23.2 0.5h2.1m-12.8 0.1h2.1m-10.1 0.6h2.1m12.8 0.1h2.1m6.7 0.1h2.1m-31.9 0.3h2.1m18.3 0.3h2.1m-14.5 0.1h2.1m15.4 0h2.1m1.9 0.5h2.1m-42.6 0.4h2.1m40.4 0.1h2.1m-24.7 0.4h2.1m-17.9 0.4h2.1m-11.7 1.1h2.1m23.2 0h2.1m20.4 0.2h2.1m-51.7 1.1h2.1m-4.2 0.2h2.1m46.7 0h2.1m-21.2 0.2h2.1m6.8 0.2h2.1m-6.3 0.3h2.1m-12.6 0.2h2.1m2.9 0.1h2.1m16.8 0.3h2.1m-3 0.2h2.1m-12.1 0.9h2.1m3.9 0.2h2.1m-23 0.5h2.1m-14.6 0.1h2.1m38.7 0h2.1m-8.1 0.1h2.1m-43.7 0.5h2.1m33.6 0.3h2.1m-4 0.6h2.1m-14.2 0.7h2.1m13.7 0.2h2.1m1.1 0.3h2.1m-32.7 0.2h2.1m16.6 0.7h2.1m-31.6 0.4h2.1m28.3 0.4h2.1m-18.9 0h2.1m9.3 0.2h2.1m8.5 0.2h2.1m-5.5 0.1h2.1m-15.5 1.3h2.1m-14.4 0.7h2.1m39.2 0h2.1m-7.3 0.1h2.1m-47.4 1.2h2.1m32.2 0.9h2.1m-0.8 0.2h2.1m-26.2 0h2.1m-2.7 0.2h2.1m27.8 0.2h2.1m-29.1 0.2h2.1m9.3 0.1h2.1m16.3 0.2h2.1m-8.4 0.3h2.1m-26.1 0h2.1m-9 0.1h2.1m5.4 0.5h2.1m28.2 0.1h2.1m-8 0.5h2.1m-35.2 1.2h2.1m4.6 0h2.1m36.8 1.7h2.1m-4.4 0.1h2.1m-27.7 0.2h2.1m3.3 0.3h2.1m6.7 0.1h2.1m-9.3 0.3h2.1m-25.9 0.3h2.1m15 0.2h2.1m27.9 0.1h2.1m-3.6 0.7h2.1m-20.7 0.2h2.1m-4.2 0.6h2.1m13.8 0.2h2.1m-24.9 0.7h2.1m-7.7 0.1h2.1m0.5 1.3h2.1m20.5 0.4h2.1m-3.5 2.3h2.1m-22.6 0.8h2.1m3.2 2.2h2.1m-26.9 1.1h2.1m-2.4 0.8h2.1m23.4 0.5h2.1m-18.5 1h2.1m28.2 0.3h2.1m-27 0.6h2.1m2.9 0.1h2.1m29.7 5.9h2.1m-34.8 1.1h2.1m23.4 7.5h2.1m-10.6 977.3h2.1m51.4-1354.5h2.1m-20.6 238.3h2.1m-1 13.1h2.1m-3.5 12.4h2.1m-3.8 2.5h2.1m-3.7 1.1h2.1m-9 7.3h2.1m8.7 10h2.1m-10.6 0.6h2.1m-4 2h2.1m-6.1 2.4h2.1m1.4 0.8h2.1m1 0.2h2.1m0.2 1.9h2.1m-12.6 2.2h2.1m-3.9 1.9h2.1m15.2 2.4h2.1m-10.8 0.9h2.1m-5.1 4.2h2.1m0.2 0.6h2.1m4 0.5h2.1m-11.8 0.9h2.1m3.8 3.7h2.1m-7.8 1.4h2.1m-3.9 1.7h2.1m-1.2 4.7h2.1m12.9 1.7h2.1m-16.2 0.8h2.1m-4.5 0.4h2.1m0.1 0.6h2.1m2.3 0.5h2.1m-7.6 0.7h2.1m-1.1 1.4h2.1m5 1.9h2.1m-0.5 0.5h2.1m-15.8 0.2h2.1m4.8 1.5h2.1m6.7 0h2.1m-11.4 0.5h2.1m-3.5 0.7h2.1m8.9 0.6h2.1m-15.9 0.1h2.1m8.7 1h2.1m-6.1 1.7h2.1m-8.3 0.1h2.1m7.8 0.4h2.1m-11.4 0.5h2.1m8.4 0h2.1m-16.2 1.1h2.1m-1.2 0.4h2.1m-0.3 1.1h2.1m2.8 1.7h2.1m-5.9 1.7h2.1m1.6 1.7h2.1m6.9 3h2.1m-7.1 0.8h2.1m-10.2 0.2h2.1m11.9 0.3h2.1m-13.8 1.4h2.1m2.4 0h2.1m-11 0.1h2.1m16.2 1.7h2.1m-14.9 2.9h2.1m9 1.3h2.1m-13.5 1h2.1m7.3 0.6h2.1m-15.6 0.4h2.1m1.9 1.5h2.1m-5.9 0.1h2.1m5 7.7h2.1m-5.7 0.6h2.1m9.4 21.5h2.1m27.9 844.1h2.1m13.3-1618.8h2.1m29.9 198.7h2.1m-37.1 43.1h2.1m10.9 55.8h2.1m-6.1 46.6h2.1m0.9 47.7h2.1m-14.2 163.7h2.1m14.9 17.2h2.1m13.9 20.2h2.1m-16.1 20.2h2.1m29.9 12.2h2.1m-16.1 57.6h2.1m-22.1 3.6h2.1m7.9 43.2h2.1m1.9 13h2.1m1.9 2.8h2.1m-20.1 23.8h2.1m77.2-115.8h2.1m14.1 12.6h2.1m-10.1 14.4h2.1m-2.9 6h2.1m-6.2 5.7h2.1m-23.4 8h2.1m11.4 0.5h2.1m19.2 0.3h2.1m-11.8 5.1h2.1m-26.6 0.4h2.1m1.2 0.5h2.1m1.3 5.5h2.1m22.8 3.6h2.1m-13.5 3.2h2.1m-23.3 5.9h2.1m-4.4 3.3h2.1m28.2 2.3h2.1m-3.3 0.5h2.1m-3.2 0.7h2.1m-6.5 1.6h2.1m10 0.4h2.1m-1 2h2.1m3.1 4.3h2.1m-21.3 2.2h2.1m7.5 2.8h2.1m-9.5 7.3h2.1m16.2 0.1h2.1m-33.5 14.2h2.1m-13.7 982.7h2.1m68.4-1074.2h2.1m-18.2 4.7h2.1m2.8 1.7h2.1m2.4 16.5h2.1m-8.4 13h2.1m6.4 1h2.1m-3.3 1.4h2.1m-6.3 1.4h2.1m-4.3 0.3h2.1m9 1.9h2.1m-12 2.7h2.1m5 0.6h2.1m33.4 0.5h2.1m-49.1 1.5h2.1m1.8 0.5h2.1m6.9 1.4h2.1m-3 8.3h2.1m-20 0.3h2.1m13.3 0.1h2.1m-15.3 9h2.1m0.4 12.5h2.1m2.7 5.7h2.1m-13.8 1.2h2.1m0.8 999.7h2.1m71-1031.6h2.1m24.1 21.6h2.1m-42.1 13h2.1m34.1 1.4h2.1m-21.7 3.6h2.1m-22.2 18h2.1m48.1 5.8h2.1m-33.7 1.4h2.1m79.8-674.6h2.1m-16.1 0h2.1m1 0h2.1m-15.3 0h2.1m22.3 0h2.1m8.5 0h2.1m-43.5 0h2.1m29 0h2.1m3.4 0h2.1m-22.9 366.2h2.1m19.6 0h2.1m-29.6 0h2.1m-6.7 0h2.1m21.5 0h2.1m-23.4 0h2.1m11.5 0h2.1m-11.6 0h2.1m-1 0h2.1m-23.8 232.8h2.1m44.6 126h2.1m-8.1 0h2.1m8.4 0h2.1m-15.2 0h2.1m-34.2 348.7h2.1m19.4 0h2.1m21.3 0h2.1m-39.6 0h2.1m17.7 0h2.1m11.5 0h2.1m-15.4 0h2.1m-3.7 0h2.1m2.4 0h2.1m15.6 0h2.1m-36.6 0h2.1m-19.5 214.7h2.1m36.1 0h2.1m4.5 0h2.1m-27.2 0h2.1m-20.1 0h2.1m24.3 0h2.1m21.3 0h2.1m-37.6 0h2.1m22.5 0h2.1m-34.4 0h2.1m-0.8 0h2.1m28.5 501.5h2.1m0.7 0h2.1m-20.3 0h2.1m20.7 0h2.1m-16.7 0h2.1m16.2 0h2.1m17.4-1789.9h2.1m3.1 0h2.1m-6 0h2.1m-14 0h2.1m-7.5 0h2.1m3.9 366.2h2.1m6.9 0h2.1m-6 0h2.1m-5.3 0h2.1m-8.8 0h2.1m28 358.8h2.1m-19.2 0h2.1m1.7 0h2.1m15.6 0h2.1m-12.4 0h2.1m-3.2 0h2.1m7.5 0h2.1m-2.8 0h2.1m-2.4 0h2.1m-4.5 0h2.1m-13.2 348.7h2.1m-0.7 0h2.1m-23.3 0h2.1m-1.6 214.7h2.1m8 0h2.1m-5.6 0h2.1m18.7 501.5h2.1m-28.3 0h2.1m24.9 0h2.1m-24 0h2.1m-1.6 0h2.1m25.5 0h2.1m-6.5 0h2.1m6.3 0h2.1" stroke="#111" stroke-width="2.1" fill="none"/>
<path d="M173.6 279.3h25.6M268.3 258.2h25.6M363.1 256.8h25.6M457.9 261.6h25.6M552.7 377.0h25.6M647.5 246.5h25.6M742.3 377.0h25.6M837.0 293.0h25.6M176.0 727.8h25.6M270.7 727.8h25.6M365.5 727.8h25.6M460.2 727.8h25.6M555.0 727.8h25.6M649.7 727.8h25.6M744.5 727.8h25.6M839.2 556.9h25.6M177.9 957.2h25.6M272.6 1068.2h25.6M367.4 1068.2h25.6M462.2 989.9h25.6M557.0 1068.2h25.6M651.8 988.7h25.6M746.6 1068.2h25.6M841.3 1068.2h25.6M179.2 1470.7h25.6M273.8 1544.5h25.6M368.4 1451.8h25.6M463.0 1447.2h25.6M557.6 1544.5h25.6M652.2 1451.8h25.6M746.8 1544.5h25.6M841.4 1544.5h25.6M172.8 1900.3h25.6M268.2 1900.3h25.6M363.7 1900.3h25.6M459.1 1900.3h25.6M554.6 1900.3h25.6M650.0 1900.3h25.6M745.5 1900.3h25.6M840.9 1900.3h25.6M1212.9 397.8h25.6M1305.7 397.8h25.6M1398.4 397.8h25.6M1491.1 397.8h25.6M1583.8 397.8h25.6M1676.5 397.8h25.6M1769.2 397.8h25.6M1862.0 397.8h25.6M1212.6 764.0h25.6M1305.1 764.0h25.6M1397.7 764.0h25.6M1490.3 764.0h25.6M1582.9 764.0h25.6M1675.5 764.0h25.6M1768.1 764.0h25.6M1860.6 764.0h25.6M1215.5 1122.8h25.6M1310.3 1122.8h25.6M1405.1 1122.8h25.6M1499.9 1122.8h25.6M1594.7 1122.8h25.6M1689.5 1122.8h25.6M1784.3 1122.8h25.6M1879.1 1122.8h25.6M1215.3 1471.5h25.6M1307.9 1471.5h25.6M1400.5 1471.5h25.6M1493.1 1471.5h25.6M1585.8 1471.5h25.6M1678.4 1471.5h25.6M1771.0 1471.5h25.6M1863.6 1471.5h25.6M1212.9 1686.2h25.6M1304.2 1686.2h25.6M1395.5 1686.2h25.6M1486.8 1686.2h25.6M1578.2 1686.2h25.6M1669.5 1686.2h25.6M1760.8 1686.2h25.6M1852.1 1686.2h25.6M1212.9 2187.7h25.6M1308.0 2187.7h25.6M1403.2 2187.7h25.6M1498.3 2187.7h25.6M1593.5 2187.7h25.6M1688.6 2187.7h25.6M1783.8 2187.7h25.6M1878.9 2187.7h25.6" stroke="#1010E0" stroke-width="3.6" fill="none"/>
<path d="M129.5 74.0V391.5H906.7" fill="none" stroke="#1a1a1a" stroke-width="2"/>
<path d="M124.0 377.0H129.5M124.0 308.7H129.5M124.0 240.4H129.5M124.0 172.1H129.5M124.0 103.8H129.5M186.4 391.5V397.0M281.1 391.5V397.0M375.9 391.5V397.0M470.7 391.5V397.0M565.5 391.5V397.0M660.3 391.5V397.0M755.1 391.5V397.0M849.8 391.5V397.0" stroke="#1a1a1a" stroke-width="1.8"/>
<text x="118.5" y="384.3" class="tk" style="font-size:20px">0</text>
<text x="118.5" y="316.0" class="tk" style="font-size:20px">1</text>
<text x="118.5" y="247.7" class="tk" style="font-size:20px">2</text>
<text x="118.5" y="179.4" class="tk" style="font-size:20px">3</text>
<text x="118.5" y="111.1" class="tk" style="font-size:20px">4</text>
<text x="162.2" y="58.5" class="ti" style="font-size:31.5px">RUNX1</text>
<path d="M131.9 428.0V741.5H908.9" fill="none" stroke="#1a1a1a" stroke-width="2"/>
<path d="M126.4 727.8H131.9M126.4 655.4H131.9M126.4 583.0H131.9M126.4 510.6H131.9M126.4 438.2H131.9M188.8 741.5V747.0M283.5 741.5V747.0M378.3 741.5V747.0M473.0 741.5V747.0M567.8 741.5V747.0M662.5 741.5V747.0M757.3 741.5V747.0M852.0 741.5V747.0" stroke="#1a1a1a" stroke-width="1.8"/>
<text x="120.9" y="735.1" class="tk" style="font-size:20px">0</text>
<text x="120.9" y="662.7" class="tk" style="font-size:20px">1</text>
<text x="120.9" y="590.3" class="tk" style="font-size:20px">2</text>
<text x="120.9" y="517.9" class="tk" style="font-size:20px">3</text>
<text x="120.9" y="445.5" class="tk" style="font-size:20px">4</text>
<text x="162.2" y="461.0" class="ti" style="font-size:31.5px">RUNX2</text>
<path d="M133.8 773.5V1083.0H911.0" fill="none" stroke="#1a1a1a" stroke-width="2"/>
<path d="M128.3 1068.2H133.8M128.3 1004.1H133.8M128.3 939.9H133.8M128.3 875.8H133.8M128.3 811.6H133.8M190.7 1083.0V1088.5M285.4 1083.0V1088.5M380.2 1083.0V1088.5M475.0 1083.0V1088.5M569.8 1083.0V1088.5M664.6 1083.0V1088.5M759.4 1083.0V1088.5M854.1 1083.0V1088.5" stroke="#1a1a1a" stroke-width="1.8"/>
<text x="122.8" y="1075.5" class="tk" style="font-size:20px">0</text>
<text x="122.8" y="1011.3" class="tk" style="font-size:20px">1</text>
<text x="122.8" y="947.2" class="tk" style="font-size:20px">2</text>
<text x="122.8" y="883.0" class="tk" style="font-size:20px">3</text>
<text x="122.8" y="818.9" class="tk" style="font-size:20px">4</text>
<text x="162.2" y="796.3" class="ti" style="font-size:31.5px">RUNX3</text>
<path d="M135.2 1244.8V1559.3H911.0" fill="none" stroke="#1a1a1a" stroke-width="2"/>
<path d="M129.7 1544.5H135.2M129.7 1479.2H135.2M129.7 1413.9H135.2M129.7 1348.6H135.2M129.7 1283.3H135.2M192.0 1559.3V1564.8M286.6 1559.3V1564.8M381.2 1559.3V1564.8M475.8 1559.3V1564.8M570.4 1559.3V1564.8M665.0 1559.3V1564.8M759.6 1559.3V1564.8M854.2 1559.3V1564.8" stroke="#1a1a1a" stroke-width="1.8"/>
<text x="124.2" y="1551.8" class="tk" style="font-size:20px">0</text>
<text x="124.2" y="1486.5" class="tk" style="font-size:20px">1</text>
<text x="124.2" y="1421.2" class="tk" style="font-size:20px">2</text>
<text x="124.2" y="1355.9" class="tk" style="font-size:20px">3</text>
<text x="124.2" y="1290.6" class="tk" style="font-size:20px">4</text>
<text x="153.2" y="1264.4" class="ti" style="font-size:31.5px">ETS1</text>
<path d="M128.3 1597.7V1914.8H911.0" fill="none" stroke="#1a1a1a" stroke-width="2"/>
<path d="M122.8 1900.3H128.3M122.8 1818.5H128.3M122.8 1736.7H128.3M122.8 1654.9H128.3M185.6 1914.8V1920.3M281.0 1914.8V1920.3M376.5 1914.8V1920.3M471.9 1914.8V1920.3M567.4 1914.8V1920.3M662.8 1914.8V1920.3M758.3 1914.8V1920.3M853.7 1914.8V1920.3" stroke="#1a1a1a" stroke-width="1.8"/>
<text x="117.3" y="1907.6" class="tk" style="font-size:20px">0</text>
<text x="117.3" y="1825.8" class="tk" style="font-size:20px">1</text>
<text x="117.3" y="1744.0" class="tk" style="font-size:20px">2</text>
<text x="117.3" y="1662.2" class="tk" style="font-size:20px">3</text>
<text x="153.2" y="1616.5" class="ti" style="font-size:31.5px">ETS2</text>
<path d="M1170.1 95.8V412.5H1930.4" fill="none" stroke="#1a1a1a" stroke-width="2"/>
<path d="M1164.6 397.8H1170.1M1164.6 330.4H1170.1M1164.6 263.0H1170.1M1164.6 195.6H1170.1M1164.6 128.2H1170.1M1225.7 412.5V418.0M1318.5 412.5V418.0M1411.2 412.5V418.0M1503.9 412.5V418.0M1596.6 412.5V418.0M1689.3 412.5V418.0M1782.0 412.5V418.0M1874.8 412.5V418.0" stroke="#1a1a1a" stroke-width="1.8"/>
<text x="1159.1" y="405.1" class="tk" style="font-size:20px">0.0</text>
<text x="1159.1" y="337.7" class="tk" style="font-size:20px">0.5</text>
<text x="1159.1" y="270.3" class="tk" style="font-size:20px">1.0</text>
<text x="1159.1" y="202.9" class="tk" style="font-size:20px">1.5</text>
<text x="1159.1" y="135.5" class="tk" style="font-size:20px">2.0</text>
<text x="1209.0" y="104.4" class="ti" style="font-size:33px">GATA1</text>
<path d="M1169.8 462.0V778.2H1929.0" fill="none" stroke="#1a1a1a" stroke-width="2"/>
<path d="M1164.3 764.0H1169.8M1164.3 705.8H1169.8M1164.3 647.6H1169.8M1164.3 589.4H1169.8M1164.3 531.2H1169.8M1164.3 473.0H1169.8M1225.4 778.2V783.7M1317.9 778.2V783.7M1410.5 778.2V783.7M1503.1 778.2V783.7M1595.7 778.2V783.7M1688.3 778.2V783.7M1780.9 778.2V783.7M1873.4 778.2V783.7" stroke="#1a1a1a" stroke-width="1.8"/>
<text x="1158.8" y="771.3" class="tk" style="font-size:20px">0.0</text>
<text x="1158.8" y="713.1" class="tk" style="font-size:20px">0.5</text>
<text x="1158.8" y="654.9" class="tk" style="font-size:20px">1.0</text>
<text x="1158.8" y="596.7" class="tk" style="font-size:20px">1.5</text>
<text x="1158.8" y="538.5" class="tk" style="font-size:20px">2.0</text>
<text x="1158.8" y="480.3" class="tk" style="font-size:20px">2.5</text>
<text x="1209.0" y="478.7" class="ti" style="font-size:33px">GATA2</text>
<path d="M1171.4 819.0V1137.0H1948.8" fill="none" stroke="#1a1a1a" stroke-width="2"/>
<path d="M1165.9 1122.8H1171.4M1165.9 1050.8H1171.4M1165.9 978.8H1171.4M1165.9 906.8H1171.4M1165.9 834.8H1171.4M1228.3 1137.0V1142.5M1323.1 1137.0V1142.5M1417.9 1137.0V1142.5M1512.7 1137.0V1142.5M1607.5 1137.0V1142.5M1702.3 1137.0V1142.5M1797.1 1137.0V1142.5M1891.9 1137.0V1142.5" stroke="#1a1a1a" stroke-width="1.8"/>
<text x="1160.4" y="1130.1" class="tk" style="font-size:20px">0</text>
<text x="1160.4" y="1058.1" class="tk" style="font-size:20px">1</text>
<text x="1160.4" y="986.1" class="tk" style="font-size:20px">2</text>
<text x="1160.4" y="914.1" class="tk" style="font-size:20px">3</text>
<text x="1160.4" y="842.1" class="tk" style="font-size:20px">4</text>
<text x="1209.0" y="863.8" class="ti" style="font-size:33px">GATA3</text>
<path d="M1172.5 1168.0V1485.8H1932.0" fill="none" stroke="#1a1a1a" stroke-width="2"/>
<path d="M1167.0 1471.5H1172.5M1167.0 1390.1H1172.5M1167.0 1308.7H1172.5M1167.0 1227.3H1172.5M1228.1 1485.8V1491.3M1320.7 1485.8V1491.3M1413.3 1485.8V1491.3M1505.9 1485.8V1491.3M1598.6 1485.8V1491.3M1691.2 1485.8V1491.3M1783.8 1485.8V1491.3M1876.4 1485.8V1491.3" stroke="#1a1a1a" stroke-width="1.8"/>
<text x="1161.5" y="1478.8" class="tk" style="font-size:20px">0.0</text>
<text x="1161.5" y="1397.4" class="tk" style="font-size:20px">0.5</text>
<text x="1161.5" y="1316.0" class="tk" style="font-size:20px">1.0</text>
<text x="1161.5" y="1234.6" class="tk" style="font-size:20px">1.5</text>
<text x="1209.0" y="1207.5" class="ti" style="font-size:33px">GATA4</text>
<path d="M1170.9 1532.4V1839.5H1919.7" fill="none" stroke="#1a1a1a" stroke-width="2"/>
<path d="M1165.4 1533.2H1170.9M1165.4 1609.7H1170.9M1165.4 1686.2H1170.9M1165.4 1762.7H1170.9M1165.4 1839.2H1170.9M1225.7 1839.5V1845.0M1317.0 1839.5V1845.0M1408.3 1839.5V1845.0M1499.6 1839.5V1845.0M1591.0 1839.5V1845.0M1682.3 1839.5V1845.0M1773.6 1839.5V1845.0M1864.9 1839.5V1845.0" stroke="#1a1a1a" stroke-width="1.8"/>
<text x="1159.9" y="1540.4" class="tk" style="font-size:20px">0.050</text>
<text x="1159.9" y="1617.0" class="tk" style="font-size:20px">0.025</text>
<text x="1159.9" y="1693.5" class="tk" style="font-size:20px">0.000</text>
<text x="1159.9" y="1770.0" class="tk" style="font-size:20px">-0.025</text>
<text x="1159.9" y="1846.5" class="tk" style="font-size:20px">-0.050</text>
<text x="1209.0" y="1563.2" class="ti" style="font-size:33px">GATA5</text>
<path d="M1168.6 1881.5V2202.3H1948.8" fill="none" stroke="#1a1a1a" stroke-width="2"/>
<path d="M1163.1 2187.7H1168.6M1163.1 2103.8H1168.6M1163.1 2019.9H1168.6M1163.1 1936.0H1168.6M1225.7 2202.3V2207.8M1320.8 2202.3V2207.8M1416.0 2202.3V2207.8M1511.1 2202.3V2207.8M1606.3 2202.3V2207.8M1701.4 2202.3V2207.8M1796.6 2202.3V2207.8M1891.7 2202.3V2207.8" stroke="#1a1a1a" stroke-width="1.8"/>
<text x="1157.6" y="2195.0" class="tk" style="font-size:20px">0</text>
<text x="1157.6" y="2111.1" class="tk" style="font-size:20px">1</text>
<text x="1157.6" y="2027.2" class="tk" style="font-size:20px">2</text>
<text x="1157.6" y="1943.3" class="tk" style="font-size:20px">3</text>
<text x="1209.0" y="1932.7" class="ti" style="font-size:33px">GATA6</text>
<text transform="translate(206.2 1121.0) rotate(-35)" class="xl" style="font-size:32px">NK</text>
<text transform="translate(299.7 1117.3) rotate(-35)" class="xl" style="font-size:32px">Mono</text>
<text transform="translate(398.2 1121.0) rotate(-35)" class="xl" style="font-size:32px">CD4T</text>
<text transform="translate(493.0 1120.0) rotate(-35)" class="xl" style="font-size:32px">CD8T</text>
<text transform="translate(581.6 1116.5) rotate(-35)" class="xl" style="font-size:32px">other</text>
<text transform="translate(682.1 1122.0) rotate(-35)" class="xl" style="font-size:32px">Other T</text>
<text transform="translate(778.6 1127.1) rotate(-35)" class="xl" style="font-size:32px">B</text>
<text transform="translate(870.8 1121.5) rotate(-35)" class="xl" style="font-size:32px">DC</text>
<text transform="translate(205.6 1941.8) rotate(-35)" class="xl" style="font-size:32px">NK</text>
<text transform="translate(298.0 1937.5) rotate(-35)" class="xl" style="font-size:32px">Mono</text>
<text transform="translate(397.2 1941.8) rotate(-35)" class="xl" style="font-size:32px">CD4T</text>
<text transform="translate(491.4 1941.3) rotate(-35)" class="xl" style="font-size:32px">CD8T</text>
<text transform="translate(581.9 1936.9) rotate(-35)" class="xl" style="font-size:32px">other</text>
<text transform="translate(682.3 1946.8) rotate(-35)" class="xl" style="font-size:32px">Other T</text>
<text transform="translate(777.8 1947.3) rotate(-35)" class="xl" style="font-size:32px">B</text>
<text transform="translate(869.5 1942.3) rotate(-35)" class="xl" style="font-size:32px">DC</text>
<text transform="translate(1239.7 2239.5) rotate(-35)" class="xl" style="font-size:32px">NK</text>
<text transform="translate(1329.9 2238.0) rotate(-35)" class="xl" style="font-size:32px">Mono</text>
<text transform="translate(1425.1 2238.0) rotate(-35)" class="xl" style="font-size:32px">CD4T</text>
<text transform="translate(1521.5 2238.0) rotate(-35)" class="xl" style="font-size:32px">CD8T</text>
<text transform="translate(1609.3 2234.7) rotate(-35)" class="xl" style="font-size:32px">other</text>
<text transform="translate(1711.8 2239.0) rotate(-35)" class="xl" style="font-size:32px">Other T</text>
<text transform="translate(1810.6 2236.6) rotate(-35)" class="xl" style="font-size:32px">B</text>
<text transform="translate(1902.1 2236.6) rotate(-35)" class="xl" style="font-size:32px">DC</text>
<text transform="translate(59.0 590.6) rotate(-90)" class="yl" style="font-size:32.4px">Expression level</text>
<text transform="translate(62.0 1577.2) rotate(-90)" class="yl" style="font-size:32.4px">Expression level</text>
<text transform="translate(1084.0 1142.3) rotate(-90)" class="yl" style="font-size:34.0px">Expression level</text>
<text x="-5" y="51.9" class="pl">a</text>
<text x="1057.5" y="51.9" class="pl">b</text>
<text x="-0.7" y="1272.3" class="pl">c</text>
<text x="-2.7" y="2075" class="pl">d</text>
<rect x="312.9" y="2059.8" width="25.2" height="26.2" fill="#fff" stroke="#000" stroke-width="2.8"/>
<rect x="449.9" y="2059.8" width="25.2" height="26.2" fill="#BFBFBF" stroke="#000" stroke-width="2.8"/>
<rect x="312.9" y="2108.3" width="25.2" height="26.2" fill="#848484" stroke="#000" stroke-width="2.8"/>
<text x="358" y="2083.6" class="lg">pGL</text>
<text x="495" y="2083.6" class="lg">pGL + 5’-LTR</text>
<text x="358" y="2132.3" class="lg">pGL + 5’-LTR + OCR</text>
<rect x="280.6" y="2484.8" width="40.8" height="24.8" fill="#fff" stroke="#000" stroke-width="2.8"/>
<rect x="345.8" y="2230.5" width="40.8" height="279.1" fill="#BFBFBF" stroke="#000" stroke-width="2.8"/>
<rect x="410.8" y="2220.5" width="40.8" height="289.1" fill="#848484" stroke="#000" stroke-width="2.8"/>
<rect x="475.8" y="2421.2" width="40.8" height="88.4" fill="#848484" stroke="#000" stroke-width="2.8"/>
<rect x="541.0" y="2385.1" width="40.8" height="124.5" fill="#848484" stroke="#000" stroke-width="2.8"/>
<rect x="606.0" y="2284.9" width="40.8" height="224.7" fill="#848484" stroke="#000" stroke-width="2.8"/>
<path d="M366.2 2215.3V2242.6M355.2 2215.3h22M355.2 2242.6h22M430.8 2212.2V2225.7M419.8 2212.2h22M419.8 2225.7h22M496.2 2417.5V2423.5M485.2 2417.5h22M485.2 2423.5h22M561.4 2379.5V2387.0M550.4 2379.5h22M550.4 2387.0h22M626.4 2280.8V2284.8M615.4 2280.8h22M615.4 2284.8h22M301.0 2482.5V2485.0M290.0 2482.5h22M290.0 2485.0h22" stroke="#000" stroke-width="1.5" fill="none"/>
<circle cx="285" cy="2483.8" r="5.3"/>
<circle cx="300.5" cy="2483.2" r="5.3"/>
<circle cx="317" cy="2483.8" r="5.3"/>
<circle cx="366" cy="2213.4" r="5.3"/>
<circle cx="355.3" cy="2238.2" r="5.3"/>
<circle cx="376.6" cy="2235.8" r="5.3"/>
<circle cx="420.4" cy="2212.2" r="5.3"/>
<circle cx="420.4" cy="2225.7" r="5.3"/>
<circle cx="441.9" cy="2218.9" r="5.3"/>
<circle cx="481" cy="2424" r="5.3"/>
<circle cx="496.4" cy="2418.5" r="5.3"/>
<circle cx="512.3" cy="2419" r="5.3"/>
<circle cx="546.5" cy="2386.2" r="5.3"/>
<circle cx="562" cy="2378.8" r="5.3"/>
<circle cx="576.7" cy="2384.3" r="5.3"/>
<circle cx="611.7" cy="2285.3" r="5.3"/>
<circle cx="626.4" cy="2281.2" r="5.3"/>
<circle cx="641.2" cy="2282.3" r="5.3"/>
<path d="M257 2115.5V2509.6H669.5" fill="none" stroke="#000" stroke-width="2.8"/>
<path d="M246.5 2116.6H257M246.5 2247.9H257M246.5 2378.8H257" stroke="#000" stroke-width="2.8"/>
<text x="243" y="2128.0" class="dt">15</text>
<text x="243" y="2258.9" class="dt">10</text>
<text x="243" y="2389.8" class="dt">5</text>
<text x="243" y="2520.6" class="dt">0</text>
<path d="M495 2257.6H630M495 2352.7H560.1" stroke="#000" stroke-width="2.8"/>
<text x="564" y="2243.6" class="pv">p &lt; 0.001</text>
<text x="520.3" y="2340" class="pv">p &lt; 0.001</text>
<path d="M291.3 2546.8h14.6" stroke="#000" stroke-width="2.2"/>
<path d="M356.2 2546.8h14.6" stroke="#000" stroke-width="2.2"/>
<path d="M421.4 2546.8h14.6" stroke="#000" stroke-width="2.2"/>
<text transform="translate(488.3 2541) rotate(90)" class="rx">RUNX1</text>
<text transform="translate(552.8 2541) rotate(90)" class="rx">RUNX2</text>
<text transform="translate(615.4 2541) rotate(90)" class="rx">RUNX3</text>
<path d="M468 2666.1H655.9" stroke="#000" stroke-width="3.4"/>
<text x="564" y="2710.7" class="hn">100ng</text>
<text transform="translate(176 2320) rotate(-90)" class="yl" style="font-size:32.4px">Relative luciferase activity</text>
</svg></body></html>
